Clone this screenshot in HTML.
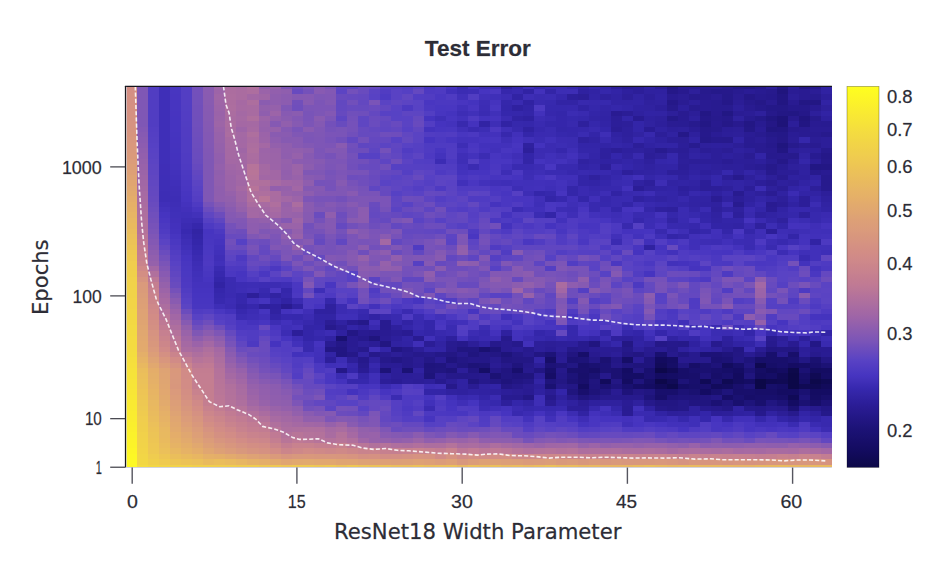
<!DOCTYPE html>
<html><head><meta charset="utf-8"><title>Test Error</title>
<style>html,body{margin:0;padding:0;background:#fff;overflow:hidden}svg{display:block}</style>
</head><body>
<svg width="948" height="577" viewBox="0 0 948 577">
<rect x="0" y="0" width="948" height="577" fill="#fff"/>
<g shape-rendering="crispEdges"><rect x="126.20" y="464.52" width="11.05" height="2.70" fill="#fdf924"/><rect x="126.20" y="459.15" width="11.05" height="5.38" fill="#fdf924"/><rect x="126.20" y="453.79" width="11.05" height="5.38" fill="#fdf825"/><rect x="126.20" y="448.43" width="11.05" height="5.38" fill="#fdf626"/><rect x="126.20" y="443.06" width="11.05" height="5.38" fill="#fcf428"/><rect x="126.20" y="437.70" width="11.05" height="5.38" fill="#fcf329"/><rect x="126.20" y="432.34" width="11.05" height="5.38" fill="#fbf22b"/><rect x="126.20" y="426.97" width="11.05" height="5.38" fill="#fbf02c"/><rect x="126.20" y="421.61" width="11.05" height="5.38" fill="#faef2d"/><rect x="126.20" y="416.25" width="11.05" height="5.38" fill="#faed2f"/><rect x="126.20" y="410.88" width="11.05" height="5.38" fill="#faec30"/><rect x="126.20" y="405.52" width="11.05" height="5.38" fill="#f9eb31"/><rect x="126.20" y="400.16" width="11.05" height="5.38" fill="#f9ea32"/><rect x="126.20" y="394.79" width="11.05" height="5.38" fill="#f8e834"/><rect x="126.20" y="389.43" width="11.05" height="5.38" fill="#f8e636"/><rect x="126.20" y="384.07" width="11.05" height="5.38" fill="#f7e537"/><rect x="126.20" y="378.70" width="11.05" height="5.38" fill="#f7e438"/><rect x="126.20" y="373.34" width="11.05" height="5.38" fill="#f6e339"/><rect x="126.20" y="367.98" width="11.05" height="5.38" fill="#f6e23a"/><rect x="126.20" y="362.61" width="11.05" height="5.38" fill="#f6e03c"/><rect x="126.20" y="357.25" width="11.05" height="5.38" fill="#f5df3d"/><rect x="126.20" y="351.89" width="11.05" height="5.38" fill="#f4dd3f"/><rect x="126.20" y="346.52" width="11.05" height="5.38" fill="#f4dc40"/><rect x="126.20" y="341.16" width="11.05" height="5.38" fill="#f4db41"/><rect x="126.20" y="335.80" width="11.05" height="5.38" fill="#f4db41"/><rect x="126.20" y="330.43" width="11.05" height="5.38" fill="#f3da42"/><rect x="126.20" y="325.07" width="11.05" height="5.38" fill="#f3da42"/><rect x="126.20" y="319.71" width="11.05" height="5.38" fill="#f3d843"/><rect x="126.20" y="314.34" width="11.05" height="5.38" fill="#f2d744"/><rect x="126.20" y="308.98" width="11.05" height="5.38" fill="#f2d646"/><rect x="126.20" y="303.62" width="11.05" height="5.38" fill="#f2d447"/><rect x="126.20" y="298.25" width="11.05" height="5.38" fill="#f2d447"/><rect x="126.20" y="292.89" width="11.05" height="5.38" fill="#f1d348"/><rect x="126.20" y="287.53" width="11.05" height="5.38" fill="#f1d348"/><rect x="126.20" y="282.16" width="11.05" height="5.38" fill="#f1d249"/><rect x="126.20" y="276.80" width="11.05" height="5.38" fill="#f1d14a"/><rect x="126.20" y="271.44" width="11.05" height="5.38" fill="#f0cf4b"/><rect x="126.20" y="266.07" width="11.05" height="5.38" fill="#f0ce4c"/><rect x="126.20" y="260.71" width="11.05" height="5.38" fill="#f0cd4e"/><rect x="126.20" y="255.35" width="11.05" height="5.38" fill="#efca50"/><rect x="126.20" y="249.98" width="11.05" height="5.38" fill="#eec852"/><rect x="126.20" y="244.62" width="11.05" height="5.38" fill="#edc554"/><rect x="126.20" y="239.26" width="11.05" height="5.38" fill="#ecc257"/><rect x="126.20" y="233.89" width="11.05" height="5.38" fill="#ebc05a"/><rect x="126.20" y="228.53" width="11.05" height="5.38" fill="#eabd5c"/><rect x="126.20" y="223.17" width="11.05" height="5.38" fill="#e9ba5e"/><rect x="126.20" y="217.80" width="11.05" height="5.38" fill="#e8b861"/><rect x="126.20" y="212.44" width="11.05" height="5.38" fill="#e7b564"/><rect x="126.20" y="207.08" width="11.05" height="5.38" fill="#e6b266"/><rect x="126.20" y="201.71" width="11.05" height="5.38" fill="#e5b068"/><rect x="126.20" y="196.35" width="11.05" height="5.38" fill="#e4ad6a"/><rect x="126.20" y="190.99" width="11.05" height="5.38" fill="#e2aa6d"/><rect x="126.20" y="185.62" width="11.05" height="5.38" fill="#e1a86f"/><rect x="126.20" y="180.26" width="11.05" height="5.38" fill="#e0a571"/><rect x="126.20" y="174.90" width="11.05" height="5.38" fill="#dea374"/><rect x="126.20" y="169.53" width="11.05" height="5.38" fill="#dda076"/><rect x="126.20" y="164.17" width="11.05" height="5.38" fill="#dc9e78"/><rect x="126.20" y="158.81" width="11.05" height="5.38" fill="#db9c7a"/><rect x="126.20" y="153.44" width="11.05" height="5.38" fill="#da9a7b"/><rect x="126.20" y="148.08" width="11.05" height="5.38" fill="#d9997c"/><rect x="126.20" y="142.72" width="11.05" height="5.38" fill="#d9987d"/><rect x="126.20" y="137.35" width="11.05" height="5.38" fill="#d8977e"/><rect x="126.20" y="131.99" width="11.05" height="5.38" fill="#d7957f"/><rect x="126.20" y="126.63" width="11.05" height="5.38" fill="#d69480"/><rect x="126.20" y="121.26" width="11.05" height="5.38" fill="#d69381"/><rect x="126.20" y="115.90" width="11.05" height="5.38" fill="#d59281"/><rect x="126.20" y="110.54" width="11.05" height="5.38" fill="#d59182"/><rect x="126.20" y="105.17" width="11.05" height="5.38" fill="#d59182"/><rect x="126.20" y="99.81" width="11.05" height="5.38" fill="#d49083"/><rect x="126.20" y="94.45" width="11.05" height="5.38" fill="#d49083"/><rect x="126.20" y="89.08" width="11.05" height="5.38" fill="#d48f84"/><rect x="126.20" y="86.40" width="11.05" height="2.70" fill="#d38e84"/><rect x="137.23" y="464.52" width="11.05" height="2.70" fill="#f4dc40"/><rect x="137.23" y="459.15" width="11.05" height="5.38" fill="#f2d744"/><rect x="137.23" y="453.79" width="11.05" height="5.38" fill="#f2d646"/><rect x="137.23" y="448.43" width="11.05" height="5.38" fill="#f2d447"/><rect x="137.23" y="443.06" width="11.05" height="5.38" fill="#f1d348"/><rect x="137.23" y="437.70" width="11.05" height="5.38" fill="#f1d249"/><rect x="137.23" y="432.34" width="11.05" height="5.38" fill="#f1d14a"/><rect x="137.23" y="426.97" width="11.05" height="5.38" fill="#f0cf4b"/><rect x="137.23" y="421.61" width="11.05" height="5.38" fill="#f0ce4c"/><rect x="137.23" y="416.25" width="11.05" height="5.38" fill="#f0cd4e"/><rect x="137.23" y="410.88" width="11.05" height="5.38" fill="#efcb4f"/><rect x="137.23" y="405.52" width="11.05" height="5.38" fill="#eeca51"/><rect x="137.23" y="400.16" width="11.05" height="5.38" fill="#eec852"/><rect x="137.23" y="394.79" width="11.05" height="5.38" fill="#edc654"/><rect x="137.23" y="389.43" width="11.05" height="5.38" fill="#edc455"/><rect x="137.23" y="384.07" width="11.05" height="5.38" fill="#ecc257"/><rect x="137.23" y="378.70" width="11.05" height="5.38" fill="#ebc159"/><rect x="137.23" y="373.34" width="11.05" height="5.38" fill="#ebbf5a"/><rect x="137.23" y="367.98" width="11.05" height="5.38" fill="#eabd5c"/><rect x="137.23" y="362.61" width="11.05" height="5.38" fill="#e8b860"/><rect x="137.23" y="357.25" width="11.05" height="5.38" fill="#e6b365"/><rect x="137.23" y="351.89" width="11.05" height="5.38" fill="#e4af69"/><rect x="137.23" y="346.52" width="11.05" height="5.38" fill="#e2aa6d"/><rect x="137.23" y="341.16" width="11.05" height="5.38" fill="#e2a96e"/><rect x="137.23" y="335.80" width="11.05" height="5.38" fill="#e1a86f"/><rect x="137.23" y="330.43" width="11.05" height="5.38" fill="#e0a770"/><rect x="137.23" y="325.07" width="11.05" height="5.38" fill="#e0a671"/><rect x="137.23" y="319.71" width="11.05" height="5.38" fill="#dfa472"/><rect x="137.23" y="314.34" width="11.05" height="5.38" fill="#dea374"/><rect x="137.23" y="308.98" width="11.05" height="5.38" fill="#dea275"/><rect x="137.23" y="303.62" width="11.05" height="5.38" fill="#dda076"/><rect x="137.23" y="298.25" width="11.05" height="5.38" fill="#dc9f77"/><rect x="137.23" y="292.89" width="11.05" height="5.38" fill="#db9d79"/><rect x="137.23" y="287.53" width="11.05" height="5.38" fill="#da9b7a"/><rect x="137.23" y="282.16" width="11.05" height="5.38" fill="#da9a7c"/><rect x="137.23" y="276.80" width="11.05" height="5.38" fill="#d69480"/><rect x="137.23" y="271.44" width="11.05" height="5.38" fill="#d38e84"/><rect x="137.23" y="266.07" width="11.05" height="5.38" fill="#cf8989"/><rect x="137.23" y="260.71" width="11.05" height="5.38" fill="#c9838d"/><rect x="137.23" y="255.35" width="11.05" height="5.38" fill="#c6808f"/><rect x="137.23" y="249.98" width="11.05" height="5.38" fill="#c47e91"/><rect x="137.23" y="244.62" width="11.05" height="5.38" fill="#c17b93"/><rect x="137.23" y="239.26" width="11.05" height="5.38" fill="#bd7896"/><rect x="137.23" y="233.89" width="11.05" height="5.38" fill="#b97598"/><rect x="137.23" y="228.53" width="11.05" height="5.38" fill="#b4729b"/><rect x="137.23" y="223.17" width="11.05" height="5.38" fill="#b2719c"/><rect x="137.23" y="217.80" width="11.05" height="5.38" fill="#b0709d"/><rect x="137.23" y="212.44" width="11.05" height="5.38" fill="#ae6f9e"/><rect x="137.23" y="207.08" width="11.05" height="5.38" fill="#ac6e9f"/><rect x="137.23" y="201.71" width="11.05" height="5.38" fill="#aa6ca0"/><rect x="137.23" y="196.35" width="11.05" height="5.38" fill="#a86ba2"/><rect x="137.23" y="190.99" width="11.05" height="5.38" fill="#a66aa3"/><rect x="137.23" y="185.62" width="11.05" height="5.38" fill="#a368a4"/><rect x="137.23" y="180.26" width="11.05" height="5.38" fill="#a167a5"/><rect x="137.23" y="174.90" width="11.05" height="5.38" fill="#9e65a7"/><rect x="137.23" y="169.53" width="11.05" height="5.38" fill="#9b64a8"/><rect x="137.23" y="164.17" width="11.05" height="5.38" fill="#9862aa"/><rect x="137.23" y="158.81" width="11.05" height="5.38" fill="#9561ab"/><rect x="137.23" y="153.44" width="11.05" height="5.38" fill="#925fad"/><rect x="137.23" y="148.08" width="11.05" height="5.38" fill="#8f5eae"/><rect x="137.23" y="142.72" width="11.05" height="5.38" fill="#8c5cb0"/><rect x="137.23" y="137.35" width="11.05" height="5.38" fill="#895bb1"/><rect x="137.23" y="131.99" width="11.05" height="5.38" fill="#865ab2"/><rect x="137.23" y="126.63" width="11.05" height="5.38" fill="#8358b4"/><rect x="137.23" y="121.26" width="11.05" height="5.38" fill="#7f57b5"/><rect x="137.23" y="115.90" width="11.05" height="5.38" fill="#7f57b5"/><rect x="137.23" y="110.54" width="11.05" height="5.38" fill="#7f57b5"/><rect x="137.23" y="105.17" width="11.05" height="5.38" fill="#7f57b5"/><rect x="137.23" y="99.81" width="11.05" height="5.38" fill="#7f57b5"/><rect x="137.23" y="94.45" width="11.05" height="5.38" fill="#7f57b5"/><rect x="137.23" y="89.08" width="11.05" height="5.38" fill="#7f57b5"/><rect x="137.23" y="86.40" width="11.05" height="2.70" fill="#7f57b5"/><rect x="148.25" y="464.52" width="11.05" height="2.70" fill="#f2d744"/><rect x="148.25" y="459.15" width="11.05" height="5.38" fill="#f0cf4b"/><rect x="148.25" y="453.79" width="11.05" height="5.38" fill="#efcc4f"/><rect x="148.25" y="448.43" width="11.05" height="5.38" fill="#eec852"/><rect x="148.25" y="443.06" width="11.05" height="5.38" fill="#eec753"/><rect x="148.25" y="437.70" width="11.05" height="5.38" fill="#edc554"/><rect x="148.25" y="432.34" width="11.05" height="5.38" fill="#ecc456"/><rect x="148.25" y="426.97" width="11.05" height="5.38" fill="#ecc257"/><rect x="148.25" y="421.61" width="11.05" height="5.38" fill="#ebc05a"/><rect x="148.25" y="416.25" width="11.05" height="5.38" fill="#eabd5c"/><rect x="148.25" y="410.88" width="11.05" height="5.38" fill="#e9bb5e"/><rect x="148.25" y="405.52" width="11.05" height="5.38" fill="#e9b95f"/><rect x="148.25" y="400.16" width="11.05" height="5.38" fill="#e8b861"/><rect x="148.25" y="394.79" width="11.05" height="5.38" fill="#e7b663"/><rect x="148.25" y="389.43" width="11.05" height="5.38" fill="#e7b464"/><rect x="148.25" y="384.07" width="11.05" height="5.38" fill="#e6b266"/><rect x="148.25" y="378.70" width="11.05" height="5.38" fill="#e5b068"/><rect x="148.25" y="373.34" width="11.05" height="5.38" fill="#e4af69"/><rect x="148.25" y="367.98" width="11.05" height="5.38" fill="#e4ad6a"/><rect x="148.25" y="362.61" width="11.05" height="5.38" fill="#e1a86f"/><rect x="148.25" y="357.25" width="11.05" height="5.38" fill="#dea374"/><rect x="148.25" y="351.89" width="11.05" height="5.38" fill="#dc9e78"/><rect x="148.25" y="346.52" width="11.05" height="5.38" fill="#da9a7c"/><rect x="148.25" y="341.16" width="11.05" height="5.38" fill="#d8977d"/><rect x="148.25" y="335.80" width="11.05" height="5.38" fill="#d7957f"/><rect x="148.25" y="330.43" width="11.05" height="5.38" fill="#d69381"/><rect x="148.25" y="325.07" width="11.05" height="5.38" fill="#d49083"/><rect x="148.25" y="319.71" width="11.05" height="5.38" fill="#d38e84"/><rect x="148.25" y="314.34" width="11.05" height="5.38" fill="#d28c86"/><rect x="148.25" y="308.98" width="11.05" height="5.38" fill="#d08a88"/><rect x="148.25" y="303.62" width="11.05" height="5.38" fill="#ce888a"/><rect x="148.25" y="298.25" width="11.05" height="5.38" fill="#cb858b"/><rect x="148.25" y="292.89" width="11.05" height="5.38" fill="#c9838d"/><rect x="148.25" y="287.53" width="11.05" height="5.38" fill="#c7818f"/><rect x="148.25" y="282.16" width="11.05" height="5.38" fill="#c47e90"/><rect x="148.25" y="276.80" width="11.05" height="5.38" fill="#bc7896"/><rect x="148.25" y="271.44" width="11.05" height="5.38" fill="#b0709d"/><rect x="148.25" y="266.07" width="11.05" height="5.38" fill="#a468a4"/><rect x="148.25" y="260.71" width="11.05" height="5.38" fill="#9561ab"/><rect x="148.25" y="255.35" width="11.05" height="5.38" fill="#915fad"/><rect x="148.25" y="249.98" width="11.05" height="5.38" fill="#8c5daf"/><rect x="148.25" y="244.62" width="11.05" height="5.38" fill="#885ab2"/><rect x="148.25" y="239.26" width="11.05" height="5.38" fill="#8358b4"/><rect x="148.25" y="233.89" width="11.05" height="5.38" fill="#7f56b6"/><rect x="148.25" y="228.53" width="11.05" height="5.38" fill="#7a54b8"/><rect x="148.25" y="223.17" width="11.05" height="5.38" fill="#7752b9"/><rect x="148.25" y="217.80" width="11.05" height="5.38" fill="#7350ba"/><rect x="148.25" y="212.44" width="11.05" height="5.38" fill="#704fbc"/><rect x="148.25" y="207.08" width="11.05" height="5.38" fill="#6c4dbd"/><rect x="148.25" y="201.71" width="11.05" height="5.38" fill="#694bbe"/><rect x="148.25" y="196.35" width="11.05" height="5.38" fill="#6649bf"/><rect x="148.25" y="190.99" width="11.05" height="5.38" fill="#6448c0"/><rect x="148.25" y="185.62" width="11.05" height="5.38" fill="#6348c0"/><rect x="148.25" y="180.26" width="11.05" height="5.38" fill="#6147c1"/><rect x="148.25" y="174.90" width="11.05" height="5.38" fill="#6046c1"/><rect x="148.25" y="169.53" width="11.05" height="5.38" fill="#5e45c2"/><rect x="148.25" y="164.17" width="11.05" height="5.38" fill="#5d45c2"/><rect x="148.25" y="158.81" width="11.05" height="5.38" fill="#5b44c3"/><rect x="148.25" y="153.44" width="11.05" height="5.38" fill="#5943c3"/><rect x="148.25" y="148.08" width="11.05" height="5.38" fill="#5842c4"/><rect x="148.25" y="142.72" width="11.05" height="5.38" fill="#5641c4"/><rect x="148.25" y="137.35" width="11.05" height="5.38" fill="#5540c3"/><rect x="148.25" y="131.99" width="11.05" height="5.38" fill="#543fc3"/><rect x="148.25" y="126.63" width="11.05" height="5.38" fill="#533ec3"/><rect x="148.25" y="121.26" width="11.05" height="5.38" fill="#513dc2"/><rect x="148.25" y="115.90" width="11.05" height="5.38" fill="#513dc2"/><rect x="148.25" y="110.54" width="11.05" height="5.38" fill="#513dc2"/><rect x="148.25" y="105.17" width="11.05" height="5.38" fill="#513dc2"/><rect x="148.25" y="99.81" width="11.05" height="5.38" fill="#513dc2"/><rect x="148.25" y="94.45" width="11.05" height="5.38" fill="#513dc2"/><rect x="148.25" y="89.08" width="11.05" height="5.38" fill="#513dc2"/><rect x="148.25" y="86.40" width="11.05" height="2.70" fill="#513dc2"/><rect x="159.28" y="464.52" width="11.05" height="2.70" fill="#f2d447"/><rect x="159.28" y="459.15" width="11.05" height="5.38" fill="#efca50"/><rect x="159.28" y="453.79" width="11.05" height="5.38" fill="#edc554"/><rect x="159.28" y="448.43" width="11.05" height="5.38" fill="#ebc05a"/><rect x="159.28" y="443.06" width="11.05" height="5.38" fill="#eabd5c"/><rect x="159.28" y="437.70" width="11.05" height="5.38" fill="#e9ba5e"/><rect x="159.28" y="432.34" width="11.05" height="5.38" fill="#e8b960"/><rect x="159.28" y="426.97" width="11.05" height="5.38" fill="#e8b861"/><rect x="159.28" y="421.61" width="11.05" height="5.38" fill="#e7b564"/><rect x="159.28" y="416.25" width="11.05" height="5.38" fill="#e6b266"/><rect x="159.28" y="410.88" width="11.05" height="5.38" fill="#e5b068"/><rect x="159.28" y="405.52" width="11.05" height="5.38" fill="#e4ad6a"/><rect x="159.28" y="400.16" width="11.05" height="5.38" fill="#e2aa6d"/><rect x="159.28" y="394.79" width="11.05" height="5.38" fill="#e1a96e"/><rect x="159.28" y="389.43" width="11.05" height="5.38" fill="#e1a770"/><rect x="159.28" y="384.07" width="11.05" height="5.38" fill="#e0a671"/><rect x="159.28" y="378.70" width="11.05" height="5.38" fill="#dfa572"/><rect x="159.28" y="373.34" width="11.05" height="5.38" fill="#dfa473"/><rect x="159.28" y="367.98" width="11.05" height="5.38" fill="#dea374"/><rect x="159.28" y="362.61" width="11.05" height="5.38" fill="#db9c79"/><rect x="159.28" y="357.25" width="11.05" height="5.38" fill="#d8967e"/><rect x="159.28" y="351.89" width="11.05" height="5.38" fill="#d49083"/><rect x="159.28" y="346.52" width="11.05" height="5.38" fill="#d08a88"/><rect x="159.28" y="341.16" width="11.05" height="5.38" fill="#cc868a"/><rect x="159.28" y="335.80" width="11.05" height="5.38" fill="#c9838d"/><rect x="159.28" y="330.43" width="11.05" height="5.38" fill="#c68090"/><rect x="159.28" y="325.07" width="11.05" height="5.38" fill="#c27c92"/><rect x="159.28" y="319.71" width="11.05" height="5.38" fill="#be7995"/><rect x="159.28" y="314.34" width="11.05" height="5.38" fill="#b87598"/><rect x="159.28" y="308.98" width="11.05" height="5.38" fill="#b2719c"/><rect x="159.28" y="303.62" width="11.05" height="5.38" fill="#ac6e9f"/><rect x="159.28" y="298.25" width="11.05" height="5.38" fill="#a76aa2"/><rect x="159.28" y="292.89" width="11.05" height="5.38" fill="#a267a5"/><rect x="159.28" y="287.53" width="11.05" height="5.38" fill="#9c64a8"/><rect x="159.28" y="282.16" width="11.05" height="5.38" fill="#9561ab"/><rect x="159.28" y="276.80" width="11.05" height="5.38" fill="#8e5eae"/><rect x="159.28" y="271.44" width="11.05" height="5.38" fill="#885ab2"/><rect x="159.28" y="266.07" width="11.05" height="5.38" fill="#8157b5"/><rect x="159.28" y="260.71" width="11.05" height="5.38" fill="#7a54b8"/><rect x="159.28" y="255.35" width="11.05" height="5.38" fill="#7250bb"/><rect x="159.28" y="249.98" width="11.05" height="5.38" fill="#6a4cbe"/><rect x="159.28" y="244.62" width="11.05" height="5.38" fill="#6247c0"/><rect x="159.28" y="239.26" width="11.05" height="5.38" fill="#5a43c3"/><rect x="159.28" y="233.89" width="11.05" height="5.38" fill="#543fc3"/><rect x="159.28" y="228.53" width="11.05" height="5.38" fill="#4f3bc2"/><rect x="159.28" y="223.17" width="11.05" height="5.38" fill="#4c39c1"/><rect x="159.28" y="217.80" width="11.05" height="5.38" fill="#4936c1"/><rect x="159.28" y="212.44" width="11.05" height="5.38" fill="#4634c0"/><rect x="159.28" y="207.08" width="11.05" height="5.38" fill="#4332bc"/><rect x="159.28" y="201.71" width="11.05" height="5.38" fill="#402fb9"/><rect x="159.28" y="196.35" width="11.05" height="5.38" fill="#3d2db5"/><rect x="159.28" y="190.99" width="11.05" height="5.38" fill="#3d2db5"/><rect x="159.28" y="185.62" width="11.05" height="5.38" fill="#3e2eb6"/><rect x="159.28" y="180.26" width="11.05" height="5.38" fill="#3e2eb6"/><rect x="159.28" y="174.90" width="11.05" height="5.38" fill="#3e2eb7"/><rect x="159.28" y="169.53" width="11.05" height="5.38" fill="#3f2eb7"/><rect x="159.28" y="164.17" width="11.05" height="5.38" fill="#3f2eb7"/><rect x="159.28" y="158.81" width="11.05" height="5.38" fill="#3f2fb8"/><rect x="159.28" y="153.44" width="11.05" height="5.38" fill="#3f2fb8"/><rect x="159.28" y="148.08" width="11.05" height="5.38" fill="#3f2fb8"/><rect x="159.28" y="142.72" width="11.05" height="5.38" fill="#3f2fb8"/><rect x="159.28" y="137.35" width="11.05" height="5.38" fill="#3f2fb8"/><rect x="159.28" y="131.99" width="11.05" height="5.38" fill="#3f2fb8"/><rect x="159.28" y="126.63" width="11.05" height="5.38" fill="#3f2fb8"/><rect x="159.28" y="121.26" width="11.05" height="5.38" fill="#3f2fb8"/><rect x="159.28" y="115.90" width="11.05" height="5.38" fill="#3f2fb8"/><rect x="159.28" y="110.54" width="11.05" height="5.38" fill="#3f2fb8"/><rect x="159.28" y="105.17" width="11.05" height="5.38" fill="#3f2fb8"/><rect x="159.28" y="99.81" width="11.05" height="5.38" fill="#3f2fb8"/><rect x="159.28" y="94.45" width="11.05" height="5.38" fill="#3f2fb8"/><rect x="159.28" y="89.08" width="11.05" height="5.38" fill="#3f2fb8"/><rect x="159.28" y="86.40" width="11.05" height="2.70" fill="#3f2fb8"/><rect x="170.31" y="464.52" width="11.05" height="2.70" fill="#f1d249"/><rect x="170.31" y="459.15" width="11.05" height="5.38" fill="#edc554"/><rect x="170.31" y="453.79" width="11.05" height="5.38" fill="#eabe5b"/><rect x="170.31" y="448.43" width="11.05" height="5.38" fill="#e8b861"/><rect x="170.31" y="443.06" width="11.05" height="5.38" fill="#e6b365"/><rect x="170.31" y="437.70" width="11.05" height="5.38" fill="#e5b068"/><rect x="170.31" y="432.34" width="11.05" height="5.38" fill="#e4ad6a"/><rect x="170.31" y="426.97" width="11.05" height="5.38" fill="#e2aa6d"/><rect x="170.31" y="421.61" width="11.05" height="5.38" fill="#e1a86f"/><rect x="170.31" y="416.25" width="11.05" height="5.38" fill="#e0a671"/><rect x="170.31" y="410.88" width="11.05" height="5.38" fill="#dea374"/><rect x="170.31" y="405.52" width="11.05" height="5.38" fill="#dda076"/><rect x="170.31" y="400.16" width="11.05" height="5.38" fill="#dc9e78"/><rect x="170.31" y="394.79" width="11.05" height="5.38" fill="#db9c7a"/><rect x="170.31" y="389.43" width="11.05" height="5.38" fill="#da9a7c"/><rect x="170.31" y="384.07" width="11.05" height="5.38" fill="#d8977d"/><rect x="170.31" y="378.70" width="11.05" height="5.38" fill="#d8987d"/><rect x="170.31" y="373.34" width="11.05" height="5.38" fill="#d9987d"/><rect x="170.31" y="367.98" width="11.05" height="5.38" fill="#d9987c"/><rect x="170.31" y="362.61" width="11.05" height="5.38" fill="#d59282"/><rect x="170.31" y="357.25" width="11.05" height="5.38" fill="#d18b87"/><rect x="170.31" y="351.89" width="11.05" height="5.38" fill="#ca848c"/><rect x="170.31" y="346.52" width="11.05" height="5.38" fill="#c37d91"/><rect x="170.31" y="341.16" width="11.05" height="5.38" fill="#c07a94"/><rect x="170.31" y="335.80" width="11.05" height="5.38" fill="#ba7697"/><rect x="170.31" y="330.43" width="11.05" height="5.38" fill="#b4729b"/><rect x="170.31" y="325.07" width="11.05" height="5.38" fill="#ae6f9e"/><rect x="170.31" y="319.71" width="11.05" height="5.38" fill="#a86ba2"/><rect x="170.31" y="314.34" width="11.05" height="5.38" fill="#a267a5"/><rect x="170.31" y="308.98" width="11.05" height="5.38" fill="#9b63a9"/><rect x="170.31" y="303.62" width="11.05" height="5.38" fill="#9260ac"/><rect x="170.31" y="298.25" width="11.05" height="5.38" fill="#895bb1"/><rect x="170.31" y="292.89" width="11.05" height="5.38" fill="#7f57b5"/><rect x="170.31" y="287.53" width="11.05" height="5.38" fill="#7551ba"/><rect x="170.31" y="282.16" width="11.05" height="5.38" fill="#694bbe"/><rect x="170.31" y="276.80" width="11.05" height="5.38" fill="#6549c0"/><rect x="170.31" y="271.44" width="11.05" height="5.38" fill="#6046c1"/><rect x="170.31" y="266.07" width="11.05" height="5.38" fill="#5c44c2"/><rect x="170.31" y="260.71" width="11.05" height="5.38" fill="#5842c4"/><rect x="170.31" y="255.35" width="11.05" height="5.38" fill="#553fc3"/><rect x="170.31" y="249.98" width="11.05" height="5.38" fill="#513dc2"/><rect x="170.31" y="244.62" width="11.05" height="5.38" fill="#4e3ac2"/><rect x="170.31" y="239.26" width="11.05" height="5.38" fill="#4a38c1"/><rect x="170.31" y="233.89" width="11.05" height="5.38" fill="#4735c0"/><rect x="170.31" y="228.53" width="11.05" height="5.38" fill="#4432bd"/><rect x="170.31" y="223.17" width="11.05" height="5.38" fill="#4331bc"/><rect x="170.31" y="217.80" width="11.05" height="5.38" fill="#4230ba"/><rect x="170.31" y="212.44" width="11.05" height="5.38" fill="#4030b9"/><rect x="170.31" y="207.08" width="11.05" height="5.38" fill="#3f2fb8"/><rect x="170.31" y="201.71" width="11.05" height="5.38" fill="#3e2eb6"/><rect x="170.31" y="196.35" width="11.05" height="5.38" fill="#3d2db5"/><rect x="170.31" y="190.99" width="11.05" height="5.38" fill="#3e2eb6"/><rect x="170.31" y="185.62" width="11.05" height="5.38" fill="#3f2eb7"/><rect x="170.31" y="180.26" width="11.05" height="5.38" fill="#402fb9"/><rect x="170.31" y="174.90" width="11.05" height="5.38" fill="#4130ba"/><rect x="170.31" y="169.53" width="11.05" height="5.38" fill="#4231bb"/><rect x="170.31" y="164.17" width="11.05" height="5.38" fill="#4332bc"/><rect x="170.31" y="158.81" width="11.05" height="5.38" fill="#4432bd"/><rect x="170.31" y="153.44" width="11.05" height="5.38" fill="#4432be"/><rect x="170.31" y="148.08" width="11.05" height="5.38" fill="#4433be"/><rect x="170.31" y="142.72" width="11.05" height="5.38" fill="#4533be"/><rect x="170.31" y="137.35" width="11.05" height="5.38" fill="#4533bf"/><rect x="170.31" y="131.99" width="11.05" height="5.38" fill="#4534bf"/><rect x="170.31" y="126.63" width="11.05" height="5.38" fill="#4634c0"/><rect x="170.31" y="121.26" width="11.05" height="5.38" fill="#4634c0"/><rect x="170.31" y="115.90" width="11.05" height="5.38" fill="#4634c0"/><rect x="170.31" y="110.54" width="11.05" height="5.38" fill="#4734c0"/><rect x="170.31" y="105.17" width="11.05" height="5.38" fill="#4735c0"/><rect x="170.31" y="99.81" width="11.05" height="5.38" fill="#4735c0"/><rect x="170.31" y="94.45" width="11.05" height="5.38" fill="#4835c0"/><rect x="170.31" y="89.08" width="11.05" height="5.38" fill="#4836c0"/><rect x="170.31" y="86.40" width="11.05" height="2.70" fill="#4836c0"/><rect x="181.33" y="464.52" width="11.05" height="2.70" fill="#f1d249"/><rect x="181.33" y="459.15" width="11.05" height="5.38" fill="#ecc257"/><rect x="181.33" y="453.79" width="11.05" height="5.38" fill="#e9ba5e"/><rect x="181.33" y="448.43" width="11.05" height="5.38" fill="#e6b266"/><rect x="181.33" y="443.06" width="11.05" height="5.38" fill="#e4ae69"/><rect x="181.33" y="437.70" width="11.05" height="5.38" fill="#e2aa6d"/><rect x="181.33" y="432.34" width="11.05" height="5.38" fill="#e0a770"/><rect x="181.33" y="426.97" width="11.05" height="5.38" fill="#dea374"/><rect x="181.33" y="421.61" width="11.05" height="5.38" fill="#dd9f77"/><rect x="181.33" y="416.25" width="11.05" height="5.38" fill="#db9c7a"/><rect x="181.33" y="410.88" width="11.05" height="5.38" fill="#d9997c"/><rect x="181.33" y="405.52" width="11.05" height="5.38" fill="#d7967e"/><rect x="181.33" y="400.16" width="11.05" height="5.38" fill="#d69381"/><rect x="181.33" y="394.79" width="11.05" height="5.38" fill="#d49083"/><rect x="181.33" y="389.43" width="11.05" height="5.38" fill="#d38e84"/><rect x="181.33" y="384.07" width="11.05" height="5.38" fill="#d28c86"/><rect x="181.33" y="378.70" width="11.05" height="5.38" fill="#d28c86"/><rect x="181.33" y="373.34" width="11.05" height="5.38" fill="#d18b87"/><rect x="181.33" y="367.98" width="11.05" height="5.38" fill="#d18b87"/><rect x="181.33" y="362.61" width="11.05" height="5.38" fill="#ca848d"/><rect x="181.33" y="357.25" width="11.05" height="5.38" fill="#c27c92"/><rect x="181.33" y="351.89" width="11.05" height="5.38" fill="#b77499"/><rect x="181.33" y="346.52" width="11.05" height="5.38" fill="#aa6ca0"/><rect x="181.33" y="341.16" width="11.05" height="5.38" fill="#a569a3"/><rect x="181.33" y="335.80" width="11.05" height="5.38" fill="#a066a6"/><rect x="181.33" y="330.43" width="11.05" height="5.38" fill="#9963a9"/><rect x="181.33" y="325.07" width="11.05" height="5.38" fill="#9260ac"/><rect x="181.33" y="319.71" width="11.05" height="5.38" fill="#865ab2"/><rect x="181.33" y="314.34" width="11.05" height="5.38" fill="#7a54b8"/><rect x="181.33" y="308.98" width="11.05" height="5.38" fill="#6b4cbd"/><rect x="181.33" y="303.62" width="11.05" height="5.38" fill="#5b44c3"/><rect x="181.33" y="298.25" width="11.05" height="5.38" fill="#5741c4"/><rect x="181.33" y="292.89" width="11.05" height="5.38" fill="#543ec3"/><rect x="181.33" y="287.53" width="11.05" height="5.38" fill="#503cc2"/><rect x="181.33" y="282.16" width="11.05" height="5.38" fill="#4d39c2"/><rect x="181.33" y="276.80" width="11.05" height="5.38" fill="#4c38c1"/><rect x="181.33" y="271.44" width="11.05" height="5.38" fill="#4a38c1"/><rect x="181.33" y="266.07" width="11.05" height="5.38" fill="#4937c1"/><rect x="181.33" y="260.71" width="11.05" height="5.38" fill="#4836c0"/><rect x="181.33" y="255.35" width="11.05" height="5.38" fill="#4634c0"/><rect x="181.33" y="249.98" width="11.05" height="5.38" fill="#4332bc"/><rect x="181.33" y="244.62" width="11.05" height="5.38" fill="#4030b9"/><rect x="181.33" y="239.26" width="11.05" height="5.38" fill="#3e2eb6"/><rect x="181.33" y="233.89" width="11.05" height="5.38" fill="#3b2cb3"/><rect x="181.33" y="228.53" width="11.05" height="5.38" fill="#3829b0"/><rect x="181.33" y="223.17" width="11.05" height="5.38" fill="#3b2bb2"/><rect x="181.33" y="217.80" width="11.05" height="5.38" fill="#3d2db5"/><rect x="181.33" y="212.44" width="11.05" height="5.38" fill="#3f2fb8"/><rect x="181.33" y="207.08" width="11.05" height="5.38" fill="#4230ba"/><rect x="181.33" y="201.71" width="11.05" height="5.38" fill="#4432bd"/><rect x="181.33" y="196.35" width="11.05" height="5.38" fill="#4634c0"/><rect x="181.33" y="190.99" width="11.05" height="5.38" fill="#4735c0"/><rect x="181.33" y="185.62" width="11.05" height="5.38" fill="#4936c1"/><rect x="181.33" y="180.26" width="11.05" height="5.38" fill="#4a37c1"/><rect x="181.33" y="174.90" width="11.05" height="5.38" fill="#4b38c1"/><rect x="181.33" y="169.53" width="11.05" height="5.38" fill="#4c39c1"/><rect x="181.33" y="164.17" width="11.05" height="5.38" fill="#4e3ac2"/><rect x="181.33" y="158.81" width="11.05" height="5.38" fill="#4f3bc2"/><rect x="181.33" y="153.44" width="11.05" height="5.38" fill="#4f3bc2"/><rect x="181.33" y="148.08" width="11.05" height="5.38" fill="#503cc2"/><rect x="181.33" y="142.72" width="11.05" height="5.38" fill="#503cc2"/><rect x="181.33" y="137.35" width="11.05" height="5.38" fill="#503cc2"/><rect x="181.33" y="131.99" width="11.05" height="5.38" fill="#513cc2"/><rect x="181.33" y="126.63" width="11.05" height="5.38" fill="#513cc2"/><rect x="181.33" y="121.26" width="11.05" height="5.38" fill="#513dc2"/><rect x="181.33" y="115.90" width="11.05" height="5.38" fill="#523dc3"/><rect x="181.33" y="110.54" width="11.05" height="5.38" fill="#523dc3"/><rect x="181.33" y="105.17" width="11.05" height="5.38" fill="#523ec3"/><rect x="181.33" y="99.81" width="11.05" height="5.38" fill="#533ec3"/><rect x="181.33" y="94.45" width="11.05" height="5.38" fill="#533ec3"/><rect x="181.33" y="89.08" width="11.05" height="5.38" fill="#533ec3"/><rect x="181.33" y="86.40" width="11.05" height="2.70" fill="#543ec3"/><rect x="192.36" y="464.52" width="11.05" height="2.70" fill="#f0cf4b"/><rect x="192.36" y="459.15" width="11.05" height="5.38" fill="#ebc05a"/><rect x="192.36" y="453.79" width="11.05" height="5.38" fill="#e8b662"/><rect x="192.36" y="448.43" width="11.05" height="5.38" fill="#e4ad6a"/><rect x="192.36" y="443.06" width="11.05" height="5.38" fill="#e1a86f"/><rect x="192.36" y="437.70" width="11.05" height="5.38" fill="#dea374"/><rect x="192.36" y="432.34" width="11.05" height="5.38" fill="#dd9f77"/><rect x="192.36" y="426.97" width="11.05" height="5.38" fill="#db9c7a"/><rect x="192.36" y="421.61" width="11.05" height="5.38" fill="#d9987c"/><rect x="192.36" y="416.25" width="11.05" height="5.38" fill="#d7957f"/><rect x="192.36" y="410.88" width="11.05" height="5.38" fill="#d59182"/><rect x="192.36" y="405.52" width="11.05" height="5.38" fill="#d38d85"/><rect x="192.36" y="400.16" width="11.05" height="5.38" fill="#d08a88"/><rect x="192.36" y="394.79" width="11.05" height="5.38" fill="#cc868b"/><rect x="192.36" y="389.43" width="11.05" height="5.38" fill="#c8828e"/><rect x="192.36" y="384.07" width="11.05" height="5.38" fill="#c47e90"/><rect x="192.36" y="378.70" width="11.05" height="5.38" fill="#c47e91"/><rect x="192.36" y="373.34" width="11.05" height="5.38" fill="#c47e91"/><rect x="192.36" y="367.98" width="11.05" height="5.38" fill="#c37d91"/><rect x="192.36" y="362.61" width="11.05" height="5.38" fill="#be7995"/><rect x="192.36" y="357.25" width="11.05" height="5.38" fill="#b6749a"/><rect x="192.36" y="351.89" width="11.05" height="5.38" fill="#ae6f9e"/><rect x="192.36" y="346.52" width="11.05" height="5.38" fill="#a66aa3"/><rect x="192.36" y="341.16" width="11.05" height="5.38" fill="#9b63a9"/><rect x="192.36" y="335.80" width="11.05" height="5.38" fill="#8d5daf"/><rect x="192.36" y="330.43" width="11.05" height="5.38" fill="#7f57b5"/><rect x="192.36" y="325.07" width="11.05" height="5.38" fill="#704fbc"/><rect x="192.36" y="319.71" width="11.05" height="5.38" fill="#6448c0"/><rect x="192.36" y="314.34" width="11.05" height="5.38" fill="#5842c4"/><rect x="192.36" y="308.98" width="11.05" height="5.38" fill="#503cc2"/><rect x="192.36" y="303.62" width="11.05" height="5.38" fill="#4836c0"/><rect x="192.36" y="298.25" width="11.05" height="5.38" fill="#4735c0"/><rect x="192.36" y="292.89" width="11.05" height="5.38" fill="#4634c0"/><rect x="192.36" y="287.53" width="11.05" height="5.38" fill="#4533bf"/><rect x="192.36" y="282.16" width="11.05" height="5.38" fill="#4432bd"/><rect x="192.36" y="276.80" width="11.05" height="5.38" fill="#4231bb"/><rect x="192.36" y="271.44" width="11.05" height="5.38" fill="#4030b9"/><rect x="192.36" y="266.07" width="11.05" height="5.38" fill="#3f2eb7"/><rect x="192.36" y="260.71" width="11.05" height="5.38" fill="#3d2db5"/><rect x="192.36" y="255.35" width="11.05" height="5.38" fill="#3b2bb2"/><rect x="192.36" y="249.98" width="11.05" height="5.38" fill="#3829b0"/><rect x="192.36" y="244.62" width="11.05" height="5.38" fill="#3628ad"/><rect x="192.36" y="239.26" width="11.05" height="5.38" fill="#3426aa"/><rect x="192.36" y="233.89" width="11.05" height="5.38" fill="#3325a7"/><rect x="192.36" y="228.53" width="11.05" height="5.38" fill="#3224a4"/><rect x="192.36" y="223.17" width="11.05" height="5.38" fill="#3627ac"/><rect x="192.36" y="217.80" width="11.05" height="5.38" fill="#3c2cb3"/><rect x="192.36" y="212.44" width="11.05" height="5.38" fill="#4231ba"/><rect x="192.36" y="207.08" width="11.05" height="5.38" fill="#4835c0"/><rect x="192.36" y="201.71" width="11.05" height="5.38" fill="#4e3ac2"/><rect x="192.36" y="196.35" width="11.05" height="5.38" fill="#543ec3"/><rect x="192.36" y="190.99" width="11.05" height="5.38" fill="#5640c4"/><rect x="192.36" y="185.62" width="11.05" height="5.38" fill="#5842c4"/><rect x="192.36" y="180.26" width="11.05" height="5.38" fill="#5b44c3"/><rect x="192.36" y="174.90" width="11.05" height="5.38" fill="#5f46c2"/><rect x="192.36" y="169.53" width="11.05" height="5.38" fill="#6247c0"/><rect x="192.36" y="164.17" width="11.05" height="5.38" fill="#6649bf"/><rect x="192.36" y="158.81" width="11.05" height="5.38" fill="#694bbe"/><rect x="192.36" y="153.44" width="11.05" height="5.38" fill="#6a4cbe"/><rect x="192.36" y="148.08" width="11.05" height="5.38" fill="#6b4cbd"/><rect x="192.36" y="142.72" width="11.05" height="5.38" fill="#6c4dbd"/><rect x="192.36" y="137.35" width="11.05" height="5.38" fill="#6d4dbd"/><rect x="192.36" y="131.99" width="11.05" height="5.38" fill="#6e4ebc"/><rect x="192.36" y="126.63" width="11.05" height="5.38" fill="#6f4ebc"/><rect x="192.36" y="121.26" width="11.05" height="5.38" fill="#704fbc"/><rect x="192.36" y="115.90" width="11.05" height="5.38" fill="#704fbb"/><rect x="192.36" y="110.54" width="11.05" height="5.38" fill="#714fbb"/><rect x="192.36" y="105.17" width="11.05" height="5.38" fill="#714fbb"/><rect x="192.36" y="99.81" width="11.05" height="5.38" fill="#7250bb"/><rect x="192.36" y="94.45" width="11.05" height="5.38" fill="#7250bb"/><rect x="192.36" y="89.08" width="11.05" height="5.38" fill="#7350bb"/><rect x="192.36" y="86.40" width="11.05" height="2.70" fill="#7350ba"/><rect x="203.39" y="464.52" width="11.05" height="2.70" fill="#f0cf4b"/><rect x="203.39" y="459.15" width="11.05" height="5.38" fill="#e9ba5e"/><rect x="203.39" y="453.79" width="11.05" height="5.38" fill="#e5b068"/><rect x="203.39" y="448.43" width="11.05" height="5.38" fill="#e0a671"/><rect x="203.39" y="443.06" width="11.05" height="5.38" fill="#dda076"/><rect x="203.39" y="437.70" width="11.05" height="5.38" fill="#db9c7a"/><rect x="203.39" y="432.34" width="11.05" height="5.38" fill="#d8977d"/><rect x="203.39" y="426.97" width="11.05" height="5.38" fill="#d69381"/><rect x="203.39" y="421.61" width="11.05" height="5.38" fill="#d38e84"/><rect x="203.39" y="416.25" width="11.05" height="5.38" fill="#d08a88"/><rect x="203.39" y="410.88" width="11.05" height="5.38" fill="#cc868b"/><rect x="203.39" y="405.52" width="11.05" height="5.38" fill="#c8828e"/><rect x="203.39" y="400.16" width="11.05" height="5.38" fill="#c47e90"/><rect x="203.39" y="394.79" width="11.05" height="5.38" fill="#c47e90"/><rect x="203.39" y="389.43" width="11.05" height="5.38" fill="#c47e90"/><rect x="203.39" y="384.07" width="11.05" height="5.38" fill="#c47e90"/><rect x="203.39" y="378.70" width="11.05" height="5.38" fill="#c47e91"/><rect x="203.39" y="373.34" width="11.05" height="5.38" fill="#c47e91"/><rect x="203.39" y="367.98" width="11.05" height="5.38" fill="#c37d91"/><rect x="203.39" y="362.61" width="11.05" height="5.38" fill="#c07a94"/><rect x="203.39" y="357.25" width="11.05" height="5.38" fill="#ba7697"/><rect x="203.39" y="351.89" width="11.05" height="5.38" fill="#b4729b"/><rect x="203.39" y="346.52" width="11.05" height="5.38" fill="#ae6f9e"/><rect x="203.39" y="341.16" width="11.05" height="5.38" fill="#a468a4"/><rect x="203.39" y="335.80" width="11.05" height="5.38" fill="#9862aa"/><rect x="203.39" y="330.43" width="11.05" height="5.38" fill="#8a5cb0"/><rect x="203.39" y="325.07" width="11.05" height="5.38" fill="#7d55b7"/><rect x="203.39" y="319.71" width="11.05" height="5.38" fill="#6e4ebc"/><rect x="203.39" y="314.34" width="11.05" height="5.38" fill="#5f46c2"/><rect x="203.39" y="308.98" width="11.05" height="5.38" fill="#523ec3"/><rect x="203.39" y="303.62" width="11.05" height="5.38" fill="#4836c0"/><rect x="203.39" y="298.25" width="11.05" height="5.38" fill="#4735c0"/><rect x="203.39" y="292.89" width="11.05" height="5.38" fill="#4634c0"/><rect x="203.39" y="287.53" width="11.05" height="5.38" fill="#4533bf"/><rect x="203.39" y="282.16" width="11.05" height="5.38" fill="#4432bd"/><rect x="203.39" y="276.80" width="11.05" height="5.38" fill="#4634c0"/><rect x="203.39" y="271.44" width="11.05" height="5.38" fill="#4836c0"/><rect x="203.39" y="266.07" width="11.05" height="5.38" fill="#4a38c1"/><rect x="203.39" y="260.71" width="11.05" height="5.38" fill="#4d39c2"/><rect x="203.39" y="255.35" width="11.05" height="5.38" fill="#4c38c1"/><rect x="203.39" y="249.98" width="11.05" height="5.38" fill="#4a38c1"/><rect x="203.39" y="244.62" width="11.05" height="5.38" fill="#4937c1"/><rect x="203.39" y="239.26" width="11.05" height="5.38" fill="#4836c0"/><rect x="203.39" y="233.89" width="11.05" height="5.38" fill="#4735c0"/><rect x="203.39" y="228.53" width="11.05" height="5.38" fill="#4634c0"/><rect x="203.39" y="223.17" width="11.05" height="5.38" fill="#4d3ac2"/><rect x="203.39" y="217.80" width="11.05" height="5.38" fill="#5540c3"/><rect x="203.39" y="212.44" width="11.05" height="5.38" fill="#5f46c2"/><rect x="203.39" y="207.08" width="11.05" height="5.38" fill="#6a4cbe"/><rect x="203.39" y="201.71" width="11.05" height="5.38" fill="#7552ba"/><rect x="203.39" y="196.35" width="11.05" height="5.38" fill="#7f57b5"/><rect x="203.39" y="190.99" width="11.05" height="5.38" fill="#7f57b5"/><rect x="203.39" y="185.62" width="11.05" height="5.38" fill="#7f57b5"/><rect x="203.39" y="180.26" width="11.05" height="5.38" fill="#7f57b5"/><rect x="203.39" y="174.90" width="11.05" height="5.38" fill="#7f57b5"/><rect x="203.39" y="169.53" width="11.05" height="5.38" fill="#7f57b5"/><rect x="203.39" y="164.17" width="11.05" height="5.38" fill="#7f57b5"/><rect x="203.39" y="158.81" width="11.05" height="5.38" fill="#7f57b5"/><rect x="203.39" y="153.44" width="11.05" height="5.38" fill="#8057b5"/><rect x="203.39" y="148.08" width="11.05" height="5.38" fill="#8157b5"/><rect x="203.39" y="142.72" width="11.05" height="5.38" fill="#8258b4"/><rect x="203.39" y="137.35" width="11.05" height="5.38" fill="#8358b4"/><rect x="203.39" y="131.99" width="11.05" height="5.38" fill="#8358b4"/><rect x="203.39" y="126.63" width="11.05" height="5.38" fill="#8459b3"/><rect x="203.39" y="121.26" width="11.05" height="5.38" fill="#8559b3"/><rect x="203.39" y="115.90" width="11.05" height="5.38" fill="#865ab2"/><rect x="203.39" y="110.54" width="11.05" height="5.38" fill="#865ab2"/><rect x="203.39" y="105.17" width="11.05" height="5.38" fill="#875ab2"/><rect x="203.39" y="99.81" width="11.05" height="5.38" fill="#885bb1"/><rect x="203.39" y="94.45" width="11.05" height="5.38" fill="#895bb1"/><rect x="203.39" y="89.08" width="11.05" height="5.38" fill="#8a5bb1"/><rect x="203.39" y="86.40" width="11.05" height="2.70" fill="#8a5cb0"/><rect x="214.41" y="464.52" width="11.05" height="2.70" fill="#f0cd4e"/><rect x="214.41" y="459.15" width="11.05" height="5.38" fill="#eabd5c"/><rect x="214.41" y="453.79" width="11.05" height="5.38" fill="#e4ae69"/><rect x="214.41" y="448.43" width="11.05" height="5.38" fill="#dda076"/><rect x="214.41" y="443.06" width="11.05" height="5.38" fill="#da9b7b"/><rect x="214.41" y="437.70" width="11.05" height="5.38" fill="#d7957f"/><rect x="214.41" y="432.34" width="11.05" height="5.38" fill="#d49082"/><rect x="214.41" y="426.97" width="11.05" height="5.38" fill="#d28c86"/><rect x="214.41" y="421.61" width="11.05" height="5.38" fill="#cf8989"/><rect x="214.41" y="416.25" width="11.05" height="5.38" fill="#cb858b"/><rect x="214.41" y="410.88" width="11.05" height="5.38" fill="#c7818f"/><rect x="214.41" y="405.52" width="11.05" height="5.38" fill="#c27c92"/><rect x="214.41" y="400.16" width="11.05" height="5.38" fill="#bc7896"/><rect x="214.41" y="394.79" width="11.05" height="5.38" fill="#bb7797"/><rect x="214.41" y="389.43" width="11.05" height="5.38" fill="#b97698"/><rect x="214.41" y="384.07" width="11.05" height="5.38" fill="#b87598"/><rect x="214.41" y="378.70" width="11.05" height="5.38" fill="#b77499"/><rect x="214.41" y="373.34" width="11.05" height="5.38" fill="#b5739a"/><rect x="214.41" y="367.98" width="11.05" height="5.38" fill="#b4729b"/><rect x="214.41" y="362.61" width="11.05" height="5.38" fill="#b0709d"/><rect x="214.41" y="357.25" width="11.05" height="5.38" fill="#ac6e9f"/><rect x="214.41" y="351.89" width="11.05" height="5.38" fill="#a86ba2"/><rect x="214.41" y="346.52" width="11.05" height="5.38" fill="#a468a4"/><rect x="214.41" y="341.16" width="11.05" height="5.38" fill="#9561ab"/><rect x="214.41" y="335.80" width="11.05" height="5.38" fill="#8c5daf"/><rect x="214.41" y="330.43" width="11.05" height="5.38" fill="#7e56b6"/><rect x="214.41" y="325.07" width="11.05" height="5.38" fill="#6d4dbc"/><rect x="214.41" y="319.71" width="11.05" height="5.38" fill="#5741c4"/><rect x="214.41" y="314.34" width="11.05" height="5.38" fill="#533ec3"/><rect x="214.41" y="308.98" width="11.05" height="5.38" fill="#4937c1"/><rect x="214.41" y="303.62" width="11.05" height="5.38" fill="#3e2eb7"/><rect x="214.41" y="298.25" width="11.05" height="5.38" fill="#3829af"/><rect x="214.41" y="292.89" width="11.05" height="5.38" fill="#3628ad"/><rect x="214.41" y="287.53" width="11.05" height="5.38" fill="#3526ab"/><rect x="214.41" y="282.16" width="11.05" height="5.38" fill="#3123a4"/><rect x="214.41" y="276.80" width="11.05" height="5.38" fill="#3426aa"/><rect x="214.41" y="271.44" width="11.05" height="5.38" fill="#3728ae"/><rect x="214.41" y="266.07" width="11.05" height="5.38" fill="#3a2bb2"/><rect x="214.41" y="260.71" width="11.05" height="5.38" fill="#4130ba"/><rect x="214.41" y="255.35" width="11.05" height="5.38" fill="#3f2eb7"/><rect x="214.41" y="249.98" width="11.05" height="5.38" fill="#4130ba"/><rect x="214.41" y="244.62" width="11.05" height="5.38" fill="#4231bc"/><rect x="214.41" y="239.26" width="11.05" height="5.38" fill="#4533be"/><rect x="214.41" y="233.89" width="11.05" height="5.38" fill="#4835c0"/><rect x="214.41" y="228.53" width="11.05" height="5.38" fill="#4c39c1"/><rect x="214.41" y="223.17" width="11.05" height="5.38" fill="#543fc3"/><rect x="214.41" y="217.80" width="11.05" height="5.38" fill="#5f46c1"/><rect x="214.41" y="212.44" width="11.05" height="5.38" fill="#6c4cbd"/><rect x="214.41" y="207.08" width="11.05" height="5.38" fill="#7b55b7"/><rect x="214.41" y="201.71" width="11.05" height="5.38" fill="#8459b3"/><rect x="214.41" y="196.35" width="11.05" height="5.38" fill="#905eae"/><rect x="214.41" y="190.99" width="11.05" height="5.38" fill="#8f5eae"/><rect x="214.41" y="185.62" width="11.05" height="5.38" fill="#8f5eae"/><rect x="214.41" y="180.26" width="11.05" height="5.38" fill="#915fad"/><rect x="214.41" y="174.90" width="11.05" height="5.38" fill="#925fad"/><rect x="214.41" y="169.53" width="11.05" height="5.38" fill="#905fad"/><rect x="214.41" y="164.17" width="11.05" height="5.38" fill="#9460ac"/><rect x="214.41" y="158.81" width="11.05" height="5.38" fill="#915fad"/><rect x="214.41" y="153.44" width="11.05" height="5.38" fill="#925fad"/><rect x="214.41" y="148.08" width="11.05" height="5.38" fill="#9461ab"/><rect x="214.41" y="142.72" width="11.05" height="5.38" fill="#9561ab"/><rect x="214.41" y="137.35" width="11.05" height="5.38" fill="#9762aa"/><rect x="214.41" y="131.99" width="11.05" height="5.38" fill="#9762aa"/><rect x="214.41" y="126.63" width="11.05" height="5.38" fill="#9a63a9"/><rect x="214.41" y="121.26" width="11.05" height="5.38" fill="#9d65a7"/><rect x="214.41" y="115.90" width="11.05" height="5.38" fill="#9b64a8"/><rect x="214.41" y="110.54" width="11.05" height="5.38" fill="#9a63a9"/><rect x="214.41" y="105.17" width="11.05" height="5.38" fill="#9c64a8"/><rect x="214.41" y="99.81" width="11.05" height="5.38" fill="#9e65a7"/><rect x="214.41" y="94.45" width="11.05" height="5.38" fill="#a066a6"/><rect x="214.41" y="89.08" width="11.05" height="5.38" fill="#9d64a8"/><rect x="214.41" y="86.40" width="11.05" height="2.70" fill="#a066a6"/><rect x="225.44" y="464.52" width="11.05" height="2.70" fill="#efcd4e"/><rect x="225.44" y="459.15" width="11.05" height="5.38" fill="#e9ba5f"/><rect x="225.44" y="453.79" width="11.05" height="5.38" fill="#e2aa6d"/><rect x="225.44" y="448.43" width="11.05" height="5.38" fill="#db9c7a"/><rect x="225.44" y="443.06" width="11.05" height="5.38" fill="#d8967e"/><rect x="225.44" y="437.70" width="11.05" height="5.38" fill="#d59182"/><rect x="225.44" y="432.34" width="11.05" height="5.38" fill="#d28c86"/><rect x="225.44" y="426.97" width="11.05" height="5.38" fill="#ce8889"/><rect x="225.44" y="421.61" width="11.05" height="5.38" fill="#c9838d"/><rect x="225.44" y="416.25" width="11.05" height="5.38" fill="#c57f90"/><rect x="225.44" y="410.88" width="11.05" height="5.38" fill="#c17b93"/><rect x="225.44" y="405.52" width="11.05" height="5.38" fill="#bb7797"/><rect x="225.44" y="400.16" width="11.05" height="5.38" fill="#b4739a"/><rect x="225.44" y="394.79" width="11.05" height="5.38" fill="#b3729b"/><rect x="225.44" y="389.43" width="11.05" height="5.38" fill="#b2719c"/><rect x="225.44" y="384.07" width="11.05" height="5.38" fill="#b0709d"/><rect x="225.44" y="378.70" width="11.05" height="5.38" fill="#ab6da0"/><rect x="225.44" y="373.34" width="11.05" height="5.38" fill="#a569a3"/><rect x="225.44" y="367.98" width="11.05" height="5.38" fill="#a066a6"/><rect x="225.44" y="362.61" width="11.05" height="5.38" fill="#9963a9"/><rect x="225.44" y="357.25" width="11.05" height="5.38" fill="#925fad"/><rect x="225.44" y="351.89" width="11.05" height="5.38" fill="#8b5cb0"/><rect x="225.44" y="346.52" width="11.05" height="5.38" fill="#8459b3"/><rect x="225.44" y="341.16" width="11.05" height="5.38" fill="#7853b9"/><rect x="225.44" y="335.80" width="11.05" height="5.38" fill="#704fbc"/><rect x="225.44" y="330.43" width="11.05" height="5.38" fill="#6549bf"/><rect x="225.44" y="325.07" width="11.05" height="5.38" fill="#5640c3"/><rect x="225.44" y="319.71" width="11.05" height="5.38" fill="#513cc2"/><rect x="225.44" y="314.34" width="11.05" height="5.38" fill="#503cc2"/><rect x="225.44" y="308.98" width="11.05" height="5.38" fill="#4332bc"/><rect x="225.44" y="303.62" width="11.05" height="5.38" fill="#3b2bb2"/><rect x="225.44" y="298.25" width="11.05" height="5.38" fill="#3c2cb4"/><rect x="225.44" y="292.89" width="11.05" height="5.38" fill="#3a2ab1"/><rect x="225.44" y="287.53" width="11.05" height="5.38" fill="#3a2bb1"/><rect x="225.44" y="282.16" width="11.05" height="5.38" fill="#3a2bb1"/><rect x="225.44" y="276.80" width="11.05" height="5.38" fill="#3b2bb2"/><rect x="225.44" y="271.44" width="11.05" height="5.38" fill="#4a37c1"/><rect x="225.44" y="266.07" width="11.05" height="5.38" fill="#4d39c1"/><rect x="225.44" y="260.71" width="11.05" height="5.38" fill="#553fc3"/><rect x="225.44" y="255.35" width="11.05" height="5.38" fill="#5b44c3"/><rect x="225.44" y="249.98" width="11.05" height="5.38" fill="#6046c1"/><rect x="225.44" y="244.62" width="11.05" height="5.38" fill="#6c4cbd"/><rect x="225.44" y="239.26" width="11.05" height="5.38" fill="#714fbb"/><rect x="225.44" y="233.89" width="11.05" height="5.38" fill="#684abf"/><rect x="225.44" y="228.53" width="11.05" height="5.38" fill="#714fbb"/><rect x="225.44" y="223.17" width="11.05" height="5.38" fill="#7551ba"/><rect x="225.44" y="217.80" width="11.05" height="5.38" fill="#8258b4"/><rect x="225.44" y="212.44" width="11.05" height="5.38" fill="#8559b3"/><rect x="225.44" y="207.08" width="11.05" height="5.38" fill="#895bb1"/><rect x="225.44" y="201.71" width="11.05" height="5.38" fill="#8e5eae"/><rect x="225.44" y="196.35" width="11.05" height="5.38" fill="#9260ac"/><rect x="225.44" y="190.99" width="11.05" height="5.38" fill="#9661ab"/><rect x="225.44" y="185.62" width="11.05" height="5.38" fill="#9b64a8"/><rect x="225.44" y="180.26" width="11.05" height="5.38" fill="#9b64a8"/><rect x="225.44" y="174.90" width="11.05" height="5.38" fill="#9c64a8"/><rect x="225.44" y="169.53" width="11.05" height="5.38" fill="#9e65a7"/><rect x="225.44" y="164.17" width="11.05" height="5.38" fill="#a066a6"/><rect x="225.44" y="158.81" width="11.05" height="5.38" fill="#a468a4"/><rect x="225.44" y="153.44" width="11.05" height="5.38" fill="#a569a3"/><rect x="225.44" y="148.08" width="11.05" height="5.38" fill="#a569a3"/><rect x="225.44" y="142.72" width="11.05" height="5.38" fill="#a66aa3"/><rect x="225.44" y="137.35" width="11.05" height="5.38" fill="#a76aa2"/><rect x="225.44" y="131.99" width="11.05" height="5.38" fill="#ab6da0"/><rect x="225.44" y="126.63" width="11.05" height="5.38" fill="#a96ca1"/><rect x="225.44" y="121.26" width="11.05" height="5.38" fill="#ab6da0"/><rect x="225.44" y="115.90" width="11.05" height="5.38" fill="#a96ca1"/><rect x="225.44" y="110.54" width="11.05" height="5.38" fill="#ab6da0"/><rect x="225.44" y="105.17" width="11.05" height="5.38" fill="#ad6e9f"/><rect x="225.44" y="99.81" width="11.05" height="5.38" fill="#ac6d9f"/><rect x="225.44" y="94.45" width="11.05" height="5.38" fill="#ad6e9f"/><rect x="225.44" y="89.08" width="11.05" height="5.38" fill="#ac6d9f"/><rect x="225.44" y="86.40" width="11.05" height="2.70" fill="#ac6d9f"/><rect x="236.47" y="464.52" width="11.05" height="2.70" fill="#efcb4f"/><rect x="236.47" y="459.15" width="11.05" height="5.38" fill="#e7b663"/><rect x="236.47" y="453.79" width="11.05" height="5.38" fill="#e0a671"/><rect x="236.47" y="448.43" width="11.05" height="5.38" fill="#d8987d"/><rect x="236.47" y="443.06" width="11.05" height="5.38" fill="#d59282"/><rect x="236.47" y="437.70" width="11.05" height="5.38" fill="#d28c86"/><rect x="236.47" y="432.34" width="11.05" height="5.38" fill="#cd878a"/><rect x="236.47" y="426.97" width="11.05" height="5.38" fill="#c8828e"/><rect x="236.47" y="421.61" width="11.05" height="5.38" fill="#c57f90"/><rect x="236.47" y="416.25" width="11.05" height="5.38" fill="#c17b93"/><rect x="236.47" y="410.88" width="11.05" height="5.38" fill="#bb7797"/><rect x="236.47" y="405.52" width="11.05" height="5.38" fill="#b5739a"/><rect x="236.47" y="400.16" width="11.05" height="5.38" fill="#ae6f9e"/><rect x="236.47" y="394.79" width="11.05" height="5.38" fill="#ac6d9f"/><rect x="236.47" y="389.43" width="11.05" height="5.38" fill="#a96ca1"/><rect x="236.47" y="384.07" width="11.05" height="5.38" fill="#a76aa2"/><rect x="236.47" y="378.70" width="11.05" height="5.38" fill="#a267a5"/><rect x="236.47" y="373.34" width="11.05" height="5.38" fill="#9c64a8"/><rect x="236.47" y="367.98" width="11.05" height="5.38" fill="#9661ab"/><rect x="236.47" y="362.61" width="11.05" height="5.38" fill="#8b5cb0"/><rect x="236.47" y="357.25" width="11.05" height="5.38" fill="#8157b5"/><rect x="236.47" y="351.89" width="11.05" height="5.38" fill="#7652ba"/><rect x="236.47" y="346.52" width="11.05" height="5.38" fill="#6a4cbe"/><rect x="236.47" y="341.16" width="11.05" height="5.38" fill="#6046c1"/><rect x="236.47" y="335.80" width="11.05" height="5.38" fill="#5741c4"/><rect x="236.47" y="330.43" width="11.05" height="5.38" fill="#523dc3"/><rect x="236.47" y="325.07" width="11.05" height="5.38" fill="#4a37c1"/><rect x="236.47" y="319.71" width="11.05" height="5.38" fill="#4936c1"/><rect x="236.47" y="314.34" width="11.05" height="5.38" fill="#3b2cb3"/><rect x="236.47" y="308.98" width="11.05" height="5.38" fill="#3728ae"/><rect x="236.47" y="303.62" width="11.05" height="5.38" fill="#3325a7"/><rect x="236.47" y="298.25" width="11.05" height="5.38" fill="#3627ac"/><rect x="236.47" y="292.89" width="11.05" height="5.38" fill="#3527ac"/><rect x="236.47" y="287.53" width="11.05" height="5.38" fill="#3d2db5"/><rect x="236.47" y="282.16" width="11.05" height="5.38" fill="#3c2cb4"/><rect x="236.47" y="276.80" width="11.05" height="5.38" fill="#4735c0"/><rect x="236.47" y="271.44" width="11.05" height="5.38" fill="#4634c0"/><rect x="236.47" y="266.07" width="11.05" height="5.38" fill="#4c39c1"/><rect x="236.47" y="260.71" width="11.05" height="5.38" fill="#523dc3"/><rect x="236.47" y="255.35" width="11.05" height="5.38" fill="#4d39c1"/><rect x="236.47" y="249.98" width="11.05" height="5.38" fill="#5d45c2"/><rect x="236.47" y="244.62" width="11.05" height="5.38" fill="#694bbe"/><rect x="236.47" y="239.26" width="11.05" height="5.38" fill="#5641c4"/><rect x="236.47" y="233.89" width="11.05" height="5.38" fill="#694bbe"/><rect x="236.47" y="228.53" width="11.05" height="5.38" fill="#6e4dbc"/><rect x="236.47" y="223.17" width="11.05" height="5.38" fill="#7f56b6"/><rect x="236.47" y="217.80" width="11.05" height="5.38" fill="#8157b5"/><rect x="236.47" y="212.44" width="11.05" height="5.38" fill="#8a5cb0"/><rect x="236.47" y="207.08" width="11.05" height="5.38" fill="#9561ab"/><rect x="236.47" y="201.71" width="11.05" height="5.38" fill="#9963a9"/><rect x="236.47" y="196.35" width="11.05" height="5.38" fill="#9f66a6"/><rect x="236.47" y="190.99" width="11.05" height="5.38" fill="#a066a6"/><rect x="236.47" y="185.62" width="11.05" height="5.38" fill="#a569a3"/><rect x="236.47" y="180.26" width="11.05" height="5.38" fill="#a167a5"/><rect x="236.47" y="174.90" width="11.05" height="5.38" fill="#a368a5"/><rect x="236.47" y="169.53" width="11.05" height="5.38" fill="#a166a6"/><rect x="236.47" y="164.17" width="11.05" height="5.38" fill="#a368a4"/><rect x="236.47" y="158.81" width="11.05" height="5.38" fill="#a368a4"/><rect x="236.47" y="153.44" width="11.05" height="5.38" fill="#a368a4"/><rect x="236.47" y="148.08" width="11.05" height="5.38" fill="#9f66a6"/><rect x="236.47" y="142.72" width="11.05" height="5.38" fill="#a468a4"/><rect x="236.47" y="137.35" width="11.05" height="5.38" fill="#a368a5"/><rect x="236.47" y="131.99" width="11.05" height="5.38" fill="#a469a4"/><rect x="236.47" y="126.63" width="11.05" height="5.38" fill="#9e65a7"/><rect x="236.47" y="121.26" width="11.05" height="5.38" fill="#a468a4"/><rect x="236.47" y="115.90" width="11.05" height="5.38" fill="#a66aa3"/><rect x="236.47" y="110.54" width="11.05" height="5.38" fill="#a469a4"/><rect x="236.47" y="105.17" width="11.05" height="5.38" fill="#a76aa2"/><rect x="236.47" y="99.81" width="11.05" height="5.38" fill="#a669a3"/><rect x="236.47" y="94.45" width="11.05" height="5.38" fill="#aa6ca0"/><rect x="236.47" y="89.08" width="11.05" height="5.38" fill="#aa6ca0"/><rect x="236.47" y="86.40" width="11.05" height="2.70" fill="#a96ba1"/><rect x="247.49" y="464.52" width="11.05" height="2.70" fill="#efcc4f"/><rect x="247.49" y="459.15" width="11.05" height="5.38" fill="#e5b167"/><rect x="247.49" y="453.79" width="11.05" height="5.38" fill="#dea275"/><rect x="247.49" y="448.43" width="11.05" height="5.38" fill="#d69480"/><rect x="247.49" y="443.06" width="11.05" height="5.38" fill="#d38e84"/><rect x="247.49" y="437.70" width="11.05" height="5.38" fill="#ce8889"/><rect x="247.49" y="432.34" width="11.05" height="5.38" fill="#c9838d"/><rect x="247.49" y="426.97" width="11.05" height="5.38" fill="#c47e91"/><rect x="247.49" y="421.61" width="11.05" height="5.38" fill="#c17b93"/><rect x="247.49" y="416.25" width="11.05" height="5.38" fill="#bb7797"/><rect x="247.49" y="410.88" width="11.05" height="5.38" fill="#b2719c"/><rect x="247.49" y="405.52" width="11.05" height="5.38" fill="#a96ca1"/><rect x="247.49" y="400.16" width="11.05" height="5.38" fill="#a167a5"/><rect x="247.49" y="394.79" width="11.05" height="5.38" fill="#9e65a7"/><rect x="247.49" y="389.43" width="11.05" height="5.38" fill="#9a63a9"/><rect x="247.49" y="384.07" width="11.05" height="5.38" fill="#9661ab"/><rect x="247.49" y="378.70" width="11.05" height="5.38" fill="#905eae"/><rect x="247.49" y="373.34" width="11.05" height="5.38" fill="#895bb1"/><rect x="247.49" y="367.98" width="11.05" height="5.38" fill="#8258b4"/><rect x="247.49" y="362.61" width="11.05" height="5.38" fill="#7b55b7"/><rect x="247.49" y="357.25" width="11.05" height="5.38" fill="#7250bb"/><rect x="247.49" y="351.89" width="11.05" height="5.38" fill="#694bbe"/><rect x="247.49" y="346.52" width="11.05" height="5.38" fill="#6e4ebc"/><rect x="247.49" y="341.16" width="11.05" height="5.38" fill="#4d39c1"/><rect x="247.49" y="335.80" width="11.05" height="5.38" fill="#503cc2"/><rect x="247.49" y="330.43" width="11.05" height="5.38" fill="#503cc2"/><rect x="247.49" y="325.07" width="11.05" height="5.38" fill="#4b38c1"/><rect x="247.49" y="319.71" width="11.05" height="5.38" fill="#4432bd"/><rect x="247.49" y="314.34" width="11.05" height="5.38" fill="#3e2eb6"/><rect x="247.49" y="308.98" width="11.05" height="5.38" fill="#3c2cb4"/><rect x="247.49" y="303.62" width="11.05" height="5.38" fill="#3627ac"/><rect x="247.49" y="298.25" width="11.05" height="5.38" fill="#402fb9"/><rect x="247.49" y="292.89" width="11.05" height="5.38" fill="#2d1f9a"/><rect x="247.49" y="287.53" width="11.05" height="5.38" fill="#402fb8"/><rect x="247.49" y="282.16" width="11.05" height="5.38" fill="#3d2db5"/><rect x="247.49" y="276.80" width="11.05" height="5.38" fill="#4d39c1"/><rect x="247.49" y="271.44" width="11.05" height="5.38" fill="#543fc3"/><rect x="247.49" y="266.07" width="11.05" height="5.38" fill="#6046c1"/><rect x="247.49" y="260.71" width="11.05" height="5.38" fill="#674abf"/><rect x="247.49" y="255.35" width="11.05" height="5.38" fill="#6247c0"/><rect x="247.49" y="249.98" width="11.05" height="5.38" fill="#7451ba"/><rect x="247.49" y="244.62" width="11.05" height="5.38" fill="#7953b8"/><rect x="247.49" y="239.26" width="11.05" height="5.38" fill="#704fbc"/><rect x="247.49" y="233.89" width="11.05" height="5.38" fill="#8057b5"/><rect x="247.49" y="228.53" width="11.05" height="5.38" fill="#8e5daf"/><rect x="247.49" y="223.17" width="11.05" height="5.38" fill="#8e5daf"/><rect x="247.49" y="217.80" width="11.05" height="5.38" fill="#905eae"/><rect x="247.49" y="212.44" width="11.05" height="5.38" fill="#a468a4"/><rect x="247.49" y="207.08" width="11.05" height="5.38" fill="#a368a4"/><rect x="247.49" y="201.71" width="11.05" height="5.38" fill="#aa6ca0"/><rect x="247.49" y="196.35" width="11.05" height="5.38" fill="#b0709d"/><rect x="247.49" y="190.99" width="11.05" height="5.38" fill="#af6f9d"/><rect x="247.49" y="185.62" width="11.05" height="5.38" fill="#b77499"/><rect x="247.49" y="180.26" width="11.05" height="5.38" fill="#b1719c"/><rect x="247.49" y="174.90" width="11.05" height="5.38" fill="#b6749a"/><rect x="247.49" y="169.53" width="11.05" height="5.38" fill="#b87598"/><rect x="247.49" y="164.17" width="11.05" height="5.38" fill="#b6749a"/><rect x="247.49" y="158.81" width="11.05" height="5.38" fill="#aa6ca0"/><rect x="247.49" y="153.44" width="11.05" height="5.38" fill="#ab6da0"/><rect x="247.49" y="148.08" width="11.05" height="5.38" fill="#ae6f9e"/><rect x="247.49" y="142.72" width="11.05" height="5.38" fill="#ac6e9f"/><rect x="247.49" y="137.35" width="11.05" height="5.38" fill="#aa6ca1"/><rect x="247.49" y="131.99" width="11.05" height="5.38" fill="#ae6f9e"/><rect x="247.49" y="126.63" width="11.05" height="5.38" fill="#a76aa2"/><rect x="247.49" y="121.26" width="11.05" height="5.38" fill="#a569a3"/><rect x="247.49" y="115.90" width="11.05" height="5.38" fill="#ae6f9e"/><rect x="247.49" y="110.54" width="11.05" height="5.38" fill="#a86ba1"/><rect x="247.49" y="105.17" width="11.05" height="5.38" fill="#a86ba1"/><rect x="247.49" y="99.81" width="11.05" height="5.38" fill="#ad6e9e"/><rect x="247.49" y="94.45" width="11.05" height="5.38" fill="#a368a4"/><rect x="247.49" y="89.08" width="11.05" height="5.38" fill="#ad6e9f"/><rect x="247.49" y="86.40" width="11.05" height="2.70" fill="#b0709d"/><rect x="258.52" y="464.52" width="11.05" height="2.70" fill="#eec852"/><rect x="258.52" y="459.15" width="11.05" height="5.38" fill="#e4ae6a"/><rect x="258.52" y="453.79" width="11.05" height="5.38" fill="#dc9f77"/><rect x="258.52" y="448.43" width="11.05" height="5.38" fill="#d59182"/><rect x="258.52" y="443.06" width="11.05" height="5.38" fill="#d28c86"/><rect x="258.52" y="437.70" width="11.05" height="5.38" fill="#cc868b"/><rect x="258.52" y="432.34" width="11.05" height="5.38" fill="#c7818e"/><rect x="258.52" y="426.97" width="11.05" height="5.38" fill="#c27c92"/><rect x="258.52" y="421.61" width="11.05" height="5.38" fill="#bc7797"/><rect x="258.52" y="416.25" width="11.05" height="5.38" fill="#b3729b"/><rect x="258.52" y="410.88" width="11.05" height="5.38" fill="#aa6ca0"/><rect x="258.52" y="405.52" width="11.05" height="5.38" fill="#a267a5"/><rect x="258.52" y="400.16" width="11.05" height="5.38" fill="#9762aa"/><rect x="258.52" y="394.79" width="11.05" height="5.38" fill="#9460ac"/><rect x="258.52" y="389.43" width="11.05" height="5.38" fill="#925fad"/><rect x="258.52" y="384.07" width="11.05" height="5.38" fill="#905eae"/><rect x="258.52" y="378.70" width="11.05" height="5.38" fill="#875ab2"/><rect x="258.52" y="373.34" width="11.05" height="5.38" fill="#7e56b6"/><rect x="258.52" y="367.98" width="11.05" height="5.38" fill="#7551ba"/><rect x="258.52" y="362.61" width="11.05" height="5.38" fill="#704fbb"/><rect x="258.52" y="357.25" width="11.05" height="5.38" fill="#6c4cbd"/><rect x="258.52" y="351.89" width="11.05" height="5.38" fill="#674abf"/><rect x="258.52" y="346.52" width="11.05" height="5.38" fill="#694bbe"/><rect x="258.52" y="341.16" width="11.05" height="5.38" fill="#694bbe"/><rect x="258.52" y="335.80" width="11.05" height="5.38" fill="#6348c0"/><rect x="258.52" y="330.43" width="11.05" height="5.38" fill="#5640c4"/><rect x="258.52" y="325.07" width="11.05" height="5.38" fill="#6649bf"/><rect x="258.52" y="319.71" width="11.05" height="5.38" fill="#4735c0"/><rect x="258.52" y="314.34" width="11.05" height="5.38" fill="#4130b9"/><rect x="258.52" y="308.98" width="11.05" height="5.38" fill="#4534bf"/><rect x="258.52" y="303.62" width="11.05" height="5.38" fill="#2e209d"/><rect x="258.52" y="298.25" width="11.05" height="5.38" fill="#4534bf"/><rect x="258.52" y="292.89" width="11.05" height="5.38" fill="#3527ac"/><rect x="258.52" y="287.53" width="11.05" height="5.38" fill="#3829af"/><rect x="258.52" y="282.16" width="11.05" height="5.38" fill="#3c2cb4"/><rect x="258.52" y="276.80" width="11.05" height="5.38" fill="#5741c4"/><rect x="258.52" y="271.44" width="11.05" height="5.38" fill="#4a37c1"/><rect x="258.52" y="266.07" width="11.05" height="5.38" fill="#5540c3"/><rect x="258.52" y="260.71" width="11.05" height="5.38" fill="#6549bf"/><rect x="258.52" y="255.35" width="11.05" height="5.38" fill="#6f4ebc"/><rect x="258.52" y="249.98" width="11.05" height="5.38" fill="#6348c0"/><rect x="258.52" y="244.62" width="11.05" height="5.38" fill="#6549bf"/><rect x="258.52" y="239.26" width="11.05" height="5.38" fill="#6c4dbd"/><rect x="258.52" y="233.89" width="11.05" height="5.38" fill="#875ab2"/><rect x="258.52" y="228.53" width="11.05" height="5.38" fill="#7f57b5"/><rect x="258.52" y="223.17" width="11.05" height="5.38" fill="#8a5cb0"/><rect x="258.52" y="217.80" width="11.05" height="5.38" fill="#9360ac"/><rect x="258.52" y="212.44" width="11.05" height="5.38" fill="#a066a6"/><rect x="258.52" y="207.08" width="11.05" height="5.38" fill="#a368a4"/><rect x="258.52" y="201.71" width="11.05" height="5.38" fill="#a86ba2"/><rect x="258.52" y="196.35" width="11.05" height="5.38" fill="#b97698"/><rect x="258.52" y="190.99" width="11.05" height="5.38" fill="#ae6f9e"/><rect x="258.52" y="185.62" width="11.05" height="5.38" fill="#a96ca1"/><rect x="258.52" y="180.26" width="11.05" height="5.38" fill="#af709d"/><rect x="258.52" y="174.90" width="11.05" height="5.38" fill="#a267a5"/><rect x="258.52" y="169.53" width="11.05" height="5.38" fill="#a569a3"/><rect x="258.52" y="164.17" width="11.05" height="5.38" fill="#a469a3"/><rect x="258.52" y="158.81" width="11.05" height="5.38" fill="#9d65a7"/><rect x="258.52" y="153.44" width="11.05" height="5.38" fill="#9d65a7"/><rect x="258.52" y="148.08" width="11.05" height="5.38" fill="#9c64a8"/><rect x="258.52" y="142.72" width="11.05" height="5.38" fill="#a468a4"/><rect x="258.52" y="137.35" width="11.05" height="5.38" fill="#9c64a8"/><rect x="258.52" y="131.99" width="11.05" height="5.38" fill="#9b63a9"/><rect x="258.52" y="126.63" width="11.05" height="5.38" fill="#9661ab"/><rect x="258.52" y="121.26" width="11.05" height="5.38" fill="#9862aa"/><rect x="258.52" y="115.90" width="11.05" height="5.38" fill="#9c64a8"/><rect x="258.52" y="110.54" width="11.05" height="5.38" fill="#8f5eae"/><rect x="258.52" y="105.17" width="11.05" height="5.38" fill="#9260ac"/><rect x="258.52" y="99.81" width="11.05" height="5.38" fill="#8a5cb0"/><rect x="258.52" y="94.45" width="11.05" height="5.38" fill="#9f66a6"/><rect x="258.52" y="89.08" width="11.05" height="5.38" fill="#9a63a9"/><rect x="258.52" y="86.40" width="11.05" height="2.70" fill="#915fad"/><rect x="269.55" y="464.52" width="11.05" height="2.70" fill="#eec852"/><rect x="269.55" y="459.15" width="11.05" height="5.38" fill="#e2aa6d"/><rect x="269.55" y="453.79" width="11.05" height="5.38" fill="#da9a7b"/><rect x="269.55" y="448.43" width="11.05" height="5.38" fill="#d28c86"/><rect x="269.55" y="443.06" width="11.05" height="5.38" fill="#cb858b"/><rect x="269.55" y="437.70" width="11.05" height="5.38" fill="#c47e91"/><rect x="269.55" y="432.34" width="11.05" height="5.38" fill="#c07a94"/><rect x="269.55" y="426.97" width="11.05" height="5.38" fill="#b87599"/><rect x="269.55" y="421.61" width="11.05" height="5.38" fill="#b0709d"/><rect x="269.55" y="416.25" width="11.05" height="5.38" fill="#a86ba2"/><rect x="269.55" y="410.88" width="11.05" height="5.38" fill="#a167a5"/><rect x="269.55" y="405.52" width="11.05" height="5.38" fill="#9963a9"/><rect x="269.55" y="400.16" width="11.05" height="5.38" fill="#905fad"/><rect x="269.55" y="394.79" width="11.05" height="5.38" fill="#8f5eae"/><rect x="269.55" y="389.43" width="11.05" height="5.38" fill="#8d5daf"/><rect x="269.55" y="384.07" width="11.05" height="5.38" fill="#8b5cb0"/><rect x="269.55" y="378.70" width="11.05" height="5.38" fill="#8258b4"/><rect x="269.55" y="373.34" width="11.05" height="5.38" fill="#7954b8"/><rect x="269.55" y="367.98" width="11.05" height="5.38" fill="#6e4ebc"/><rect x="269.55" y="362.61" width="11.05" height="5.38" fill="#664abf"/><rect x="269.55" y="357.25" width="11.05" height="5.38" fill="#5e45c2"/><rect x="269.55" y="351.89" width="11.05" height="5.38" fill="#5741c4"/><rect x="269.55" y="346.52" width="11.05" height="5.38" fill="#543fc3"/><rect x="269.55" y="341.16" width="11.05" height="5.38" fill="#4533bf"/><rect x="269.55" y="335.80" width="11.05" height="5.38" fill="#533ec3"/><rect x="269.55" y="330.43" width="11.05" height="5.38" fill="#4d39c1"/><rect x="269.55" y="325.07" width="11.05" height="5.38" fill="#4936c1"/><rect x="269.55" y="319.71" width="11.05" height="5.38" fill="#3c2db4"/><rect x="269.55" y="314.34" width="11.05" height="5.38" fill="#3325a7"/><rect x="269.55" y="308.98" width="11.05" height="5.38" fill="#3022a1"/><rect x="269.55" y="303.62" width="11.05" height="5.38" fill="#2f21a0"/><rect x="269.55" y="298.25" width="11.05" height="5.38" fill="#3628ad"/><rect x="269.55" y="292.89" width="11.05" height="5.38" fill="#3123a2"/><rect x="269.55" y="287.53" width="11.05" height="5.38" fill="#4a37c1"/><rect x="269.55" y="282.16" width="11.05" height="5.38" fill="#3c2cb3"/><rect x="269.55" y="276.80" width="11.05" height="5.38" fill="#4f3bc2"/><rect x="269.55" y="271.44" width="11.05" height="5.38" fill="#5a43c3"/><rect x="269.55" y="266.07" width="11.05" height="5.38" fill="#4b38c1"/><rect x="269.55" y="260.71" width="11.05" height="5.38" fill="#5842c4"/><rect x="269.55" y="255.35" width="11.05" height="5.38" fill="#6549bf"/><rect x="269.55" y="249.98" width="11.05" height="5.38" fill="#704fbc"/><rect x="269.55" y="244.62" width="11.05" height="5.38" fill="#8157b5"/><rect x="269.55" y="239.26" width="11.05" height="5.38" fill="#7a54b8"/><rect x="269.55" y="233.89" width="11.05" height="5.38" fill="#7d55b7"/><rect x="269.55" y="228.53" width="11.05" height="5.38" fill="#8358b4"/><rect x="269.55" y="223.17" width="11.05" height="5.38" fill="#915fad"/><rect x="269.55" y="217.80" width="11.05" height="5.38" fill="#8d5daf"/><rect x="269.55" y="212.44" width="11.05" height="5.38" fill="#a468a4"/><rect x="269.55" y="207.08" width="11.05" height="5.38" fill="#a86ba2"/><rect x="269.55" y="201.71" width="11.05" height="5.38" fill="#af6f9e"/><rect x="269.55" y="196.35" width="11.05" height="5.38" fill="#a96ca1"/><rect x="269.55" y="190.99" width="11.05" height="5.38" fill="#aa6ca0"/><rect x="269.55" y="185.62" width="11.05" height="5.38" fill="#925fad"/><rect x="269.55" y="180.26" width="11.05" height="5.38" fill="#a76ba2"/><rect x="269.55" y="174.90" width="11.05" height="5.38" fill="#a267a5"/><rect x="269.55" y="169.53" width="11.05" height="5.38" fill="#a267a5"/><rect x="269.55" y="164.17" width="11.05" height="5.38" fill="#9c64a8"/><rect x="269.55" y="158.81" width="11.05" height="5.38" fill="#9b64a8"/><rect x="269.55" y="153.44" width="11.05" height="5.38" fill="#9b64a8"/><rect x="269.55" y="148.08" width="11.05" height="5.38" fill="#9a63a9"/><rect x="269.55" y="142.72" width="11.05" height="5.38" fill="#9360ac"/><rect x="269.55" y="137.35" width="11.05" height="5.38" fill="#8e5daf"/><rect x="269.55" y="131.99" width="11.05" height="5.38" fill="#895bb1"/><rect x="269.55" y="126.63" width="11.05" height="5.38" fill="#9661ab"/><rect x="269.55" y="121.26" width="11.05" height="5.38" fill="#8559b3"/><rect x="269.55" y="115.90" width="11.05" height="5.38" fill="#925fad"/><rect x="269.55" y="110.54" width="11.05" height="5.38" fill="#9c64a8"/><rect x="269.55" y="105.17" width="11.05" height="5.38" fill="#9561ab"/><rect x="269.55" y="99.81" width="11.05" height="5.38" fill="#8f5eae"/><rect x="269.55" y="94.45" width="11.05" height="5.38" fill="#8f5eae"/><rect x="269.55" y="89.08" width="11.05" height="5.38" fill="#925fad"/><rect x="269.55" y="86.40" width="11.05" height="2.70" fill="#9762aa"/><rect x="280.57" y="464.52" width="11.05" height="2.70" fill="#edc555"/><rect x="280.57" y="459.15" width="11.05" height="5.38" fill="#e0a571"/><rect x="280.57" y="453.79" width="11.05" height="5.38" fill="#d7957f"/><rect x="280.57" y="448.43" width="11.05" height="5.38" fill="#cb858b"/><rect x="280.57" y="443.06" width="11.05" height="5.38" fill="#c37d91"/><rect x="280.57" y="437.70" width="11.05" height="5.38" fill="#b87598"/><rect x="280.57" y="432.34" width="11.05" height="5.38" fill="#b3729b"/><rect x="280.57" y="426.97" width="11.05" height="5.38" fill="#ad6e9f"/><rect x="280.57" y="421.61" width="11.05" height="5.38" fill="#a96ca1"/><rect x="280.57" y="416.25" width="11.05" height="5.38" fill="#a368a4"/><rect x="280.57" y="410.88" width="11.05" height="5.38" fill="#9e65a7"/><rect x="280.57" y="405.52" width="11.05" height="5.38" fill="#9460ac"/><rect x="280.57" y="400.16" width="11.05" height="5.38" fill="#8e5eae"/><rect x="280.57" y="394.79" width="11.05" height="5.38" fill="#8c5cb0"/><rect x="280.57" y="389.43" width="11.05" height="5.38" fill="#875ab2"/><rect x="280.57" y="384.07" width="11.05" height="5.38" fill="#8057b5"/><rect x="280.57" y="378.70" width="11.05" height="5.38" fill="#7853b9"/><rect x="280.57" y="373.34" width="11.05" height="5.38" fill="#6b4cbd"/><rect x="280.57" y="367.98" width="11.05" height="5.38" fill="#6147c1"/><rect x="280.57" y="362.61" width="11.05" height="5.38" fill="#5e45c2"/><rect x="280.57" y="357.25" width="11.05" height="5.38" fill="#5842c4"/><rect x="280.57" y="351.89" width="11.05" height="5.38" fill="#543fc3"/><rect x="280.57" y="346.52" width="11.05" height="5.38" fill="#523dc3"/><rect x="280.57" y="341.16" width="11.05" height="5.38" fill="#523ec3"/><rect x="280.57" y="335.80" width="11.05" height="5.38" fill="#4634c0"/><rect x="280.57" y="330.43" width="11.05" height="5.38" fill="#3c2cb4"/><rect x="280.57" y="325.07" width="11.05" height="5.38" fill="#3f2fb8"/><rect x="280.57" y="319.71" width="11.05" height="5.38" fill="#4231bc"/><rect x="280.57" y="314.34" width="11.05" height="5.38" fill="#3728ae"/><rect x="280.57" y="308.98" width="11.05" height="5.38" fill="#4332bd"/><rect x="280.57" y="303.62" width="11.05" height="5.38" fill="#291b91"/><rect x="280.57" y="298.25" width="11.05" height="5.38" fill="#3123a4"/><rect x="280.57" y="292.89" width="11.05" height="5.38" fill="#3627ac"/><rect x="280.57" y="287.53" width="11.05" height="5.38" fill="#3426aa"/><rect x="280.57" y="282.16" width="11.05" height="5.38" fill="#3e2eb6"/><rect x="280.57" y="276.80" width="11.05" height="5.38" fill="#4d3ac2"/><rect x="280.57" y="271.44" width="11.05" height="5.38" fill="#6b4cbd"/><rect x="280.57" y="266.07" width="11.05" height="5.38" fill="#5842c4"/><rect x="280.57" y="260.71" width="11.05" height="5.38" fill="#6549bf"/><rect x="280.57" y="255.35" width="11.05" height="5.38" fill="#7e56b6"/><rect x="280.57" y="249.98" width="11.05" height="5.38" fill="#7b55b7"/><rect x="280.57" y="244.62" width="11.05" height="5.38" fill="#7d56b6"/><rect x="280.57" y="239.26" width="11.05" height="5.38" fill="#865ab2"/><rect x="280.57" y="233.89" width="11.05" height="5.38" fill="#905eae"/><rect x="280.57" y="228.53" width="11.05" height="5.38" fill="#8459b3"/><rect x="280.57" y="223.17" width="11.05" height="5.38" fill="#9963a9"/><rect x="280.57" y="217.80" width="11.05" height="5.38" fill="#8358b4"/><rect x="280.57" y="212.44" width="11.05" height="5.38" fill="#9963a9"/><rect x="280.57" y="207.08" width="11.05" height="5.38" fill="#9a63a9"/><rect x="280.57" y="201.71" width="11.05" height="5.38" fill="#9762aa"/><rect x="280.57" y="196.35" width="11.05" height="5.38" fill="#a368a5"/><rect x="280.57" y="190.99" width="11.05" height="5.38" fill="#9862aa"/><rect x="280.57" y="185.62" width="11.05" height="5.38" fill="#9561ab"/><rect x="280.57" y="180.26" width="11.05" height="5.38" fill="#a166a6"/><rect x="280.57" y="174.90" width="11.05" height="5.38" fill="#9360ac"/><rect x="280.57" y="169.53" width="11.05" height="5.38" fill="#925fad"/><rect x="280.57" y="164.17" width="11.05" height="5.38" fill="#9460ac"/><rect x="280.57" y="158.81" width="11.05" height="5.38" fill="#9561ab"/><rect x="280.57" y="153.44" width="11.05" height="5.38" fill="#8f5eae"/><rect x="280.57" y="148.08" width="11.05" height="5.38" fill="#905eae"/><rect x="280.57" y="142.72" width="11.05" height="5.38" fill="#8f5eae"/><rect x="280.57" y="137.35" width="11.05" height="5.38" fill="#865ab2"/><rect x="280.57" y="131.99" width="11.05" height="5.38" fill="#895bb1"/><rect x="280.57" y="126.63" width="11.05" height="5.38" fill="#8559b3"/><rect x="280.57" y="121.26" width="11.05" height="5.38" fill="#915fad"/><rect x="280.57" y="115.90" width="11.05" height="5.38" fill="#8a5cb0"/><rect x="280.57" y="110.54" width="11.05" height="5.38" fill="#875ab2"/><rect x="280.57" y="105.17" width="11.05" height="5.38" fill="#8057b5"/><rect x="280.57" y="99.81" width="11.05" height="5.38" fill="#8c5cb0"/><rect x="280.57" y="94.45" width="11.05" height="5.38" fill="#8b5cb0"/><rect x="280.57" y="89.08" width="11.05" height="5.38" fill="#8f5eae"/><rect x="280.57" y="86.40" width="11.05" height="2.70" fill="#7e56b6"/><rect x="291.60" y="464.52" width="11.05" height="2.70" fill="#eec951"/><rect x="291.60" y="459.15" width="11.05" height="5.38" fill="#e1a86f"/><rect x="291.60" y="453.79" width="11.05" height="5.38" fill="#d8987d"/><rect x="291.60" y="448.43" width="11.05" height="5.38" fill="#ce8889"/><rect x="291.60" y="443.06" width="11.05" height="5.38" fill="#c8828e"/><rect x="291.60" y="437.70" width="11.05" height="5.38" fill="#bf7995"/><rect x="291.60" y="432.34" width="11.05" height="5.38" fill="#b87598"/><rect x="291.60" y="426.97" width="11.05" height="5.38" fill="#ae6f9e"/><rect x="291.60" y="421.61" width="11.05" height="5.38" fill="#a569a3"/><rect x="291.60" y="416.25" width="11.05" height="5.38" fill="#9f65a7"/><rect x="291.60" y="410.88" width="11.05" height="5.38" fill="#9360ac"/><rect x="291.60" y="405.52" width="11.05" height="5.38" fill="#8d5daf"/><rect x="291.60" y="400.16" width="11.05" height="5.38" fill="#7d55b7"/><rect x="291.60" y="394.79" width="11.05" height="5.38" fill="#7350bb"/><rect x="291.60" y="389.43" width="11.05" height="5.38" fill="#7b54b8"/><rect x="291.60" y="384.07" width="11.05" height="5.38" fill="#7350bb"/><rect x="291.60" y="378.70" width="11.05" height="5.38" fill="#6449c0"/><rect x="291.60" y="373.34" width="11.05" height="5.38" fill="#523dc3"/><rect x="291.60" y="367.98" width="11.05" height="5.38" fill="#553fc3"/><rect x="291.60" y="362.61" width="11.05" height="5.38" fill="#503cc2"/><rect x="291.60" y="357.25" width="11.05" height="5.38" fill="#513dc2"/><rect x="291.60" y="351.89" width="11.05" height="5.38" fill="#4231bc"/><rect x="291.60" y="346.52" width="11.05" height="5.38" fill="#5540c3"/><rect x="291.60" y="341.16" width="11.05" height="5.38" fill="#4231bb"/><rect x="291.60" y="335.80" width="11.05" height="5.38" fill="#3d2db5"/><rect x="291.60" y="330.43" width="11.05" height="5.38" fill="#2c1e99"/><rect x="291.60" y="325.07" width="11.05" height="5.38" fill="#4231bb"/><rect x="291.60" y="319.71" width="11.05" height="5.38" fill="#3b2bb3"/><rect x="291.60" y="314.34" width="11.05" height="5.38" fill="#3628ad"/><rect x="291.60" y="308.98" width="11.05" height="5.38" fill="#4836c1"/><rect x="291.60" y="303.62" width="11.05" height="5.38" fill="#3022a2"/><rect x="291.60" y="298.25" width="11.05" height="5.38" fill="#3b2bb2"/><rect x="291.60" y="292.89" width="11.05" height="5.38" fill="#4b38c1"/><rect x="291.60" y="287.53" width="11.05" height="5.38" fill="#4936c1"/><rect x="291.60" y="282.16" width="11.05" height="5.38" fill="#4a37c1"/><rect x="291.60" y="276.80" width="11.05" height="5.38" fill="#5741c4"/><rect x="291.60" y="271.44" width="11.05" height="5.38" fill="#5c44c3"/><rect x="291.60" y="266.07" width="11.05" height="5.38" fill="#6d4dbd"/><rect x="291.60" y="260.71" width="11.05" height="5.38" fill="#7c55b7"/><rect x="291.60" y="255.35" width="11.05" height="5.38" fill="#6d4dbd"/><rect x="291.60" y="249.98" width="11.05" height="5.38" fill="#8258b4"/><rect x="291.60" y="244.62" width="11.05" height="5.38" fill="#9561ab"/><rect x="291.60" y="239.26" width="11.05" height="5.38" fill="#8057b5"/><rect x="291.60" y="233.89" width="11.05" height="5.38" fill="#9862aa"/><rect x="291.60" y="228.53" width="11.05" height="5.38" fill="#9360ac"/><rect x="291.60" y="223.17" width="11.05" height="5.38" fill="#9a63a9"/><rect x="291.60" y="217.80" width="11.05" height="5.38" fill="#9f66a6"/><rect x="291.60" y="212.44" width="11.05" height="5.38" fill="#9762aa"/><rect x="291.60" y="207.08" width="11.05" height="5.38" fill="#a166a6"/><rect x="291.60" y="201.71" width="11.05" height="5.38" fill="#ab6da0"/><rect x="291.60" y="196.35" width="11.05" height="5.38" fill="#9c64a8"/><rect x="291.60" y="190.99" width="11.05" height="5.38" fill="#9561ab"/><rect x="291.60" y="185.62" width="11.05" height="5.38" fill="#a267a5"/><rect x="291.60" y="180.26" width="11.05" height="5.38" fill="#9e65a7"/><rect x="291.60" y="174.90" width="11.05" height="5.38" fill="#9862aa"/><rect x="291.60" y="169.53" width="11.05" height="5.38" fill="#9c64a8"/><rect x="291.60" y="164.17" width="11.05" height="5.38" fill="#9b64a8"/><rect x="291.60" y="158.81" width="11.05" height="5.38" fill="#8b5cb0"/><rect x="291.60" y="153.44" width="11.05" height="5.38" fill="#9661ab"/><rect x="291.60" y="148.08" width="11.05" height="5.38" fill="#915fad"/><rect x="291.60" y="142.72" width="11.05" height="5.38" fill="#875ab2"/><rect x="291.60" y="137.35" width="11.05" height="5.38" fill="#875ab2"/><rect x="291.60" y="131.99" width="11.05" height="5.38" fill="#8057b5"/><rect x="291.60" y="126.63" width="11.05" height="5.38" fill="#7a54b8"/><rect x="291.60" y="121.26" width="11.05" height="5.38" fill="#865ab2"/><rect x="291.60" y="115.90" width="11.05" height="5.38" fill="#8358b4"/><rect x="291.60" y="110.54" width="11.05" height="5.38" fill="#8a5cb0"/><rect x="291.60" y="105.17" width="11.05" height="5.38" fill="#6f4ebc"/><rect x="291.60" y="99.81" width="11.05" height="5.38" fill="#714fbb"/><rect x="291.60" y="94.45" width="11.05" height="5.38" fill="#8559b3"/><rect x="291.60" y="89.08" width="11.05" height="5.38" fill="#684abf"/><rect x="291.60" y="86.40" width="11.05" height="2.70" fill="#6f4ebc"/><rect x="302.62" y="464.52" width="11.05" height="2.70" fill="#eec951"/><rect x="302.62" y="459.15" width="11.05" height="5.38" fill="#e1a96f"/><rect x="302.62" y="453.79" width="11.05" height="5.38" fill="#d9987c"/><rect x="302.62" y="448.43" width="11.05" height="5.38" fill="#d18b87"/><rect x="302.62" y="443.06" width="11.05" height="5.38" fill="#c8828e"/><rect x="302.62" y="437.70" width="11.05" height="5.38" fill="#bb7797"/><rect x="302.62" y="432.34" width="11.05" height="5.38" fill="#b4739b"/><rect x="302.62" y="426.97" width="11.05" height="5.38" fill="#af709d"/><rect x="302.62" y="421.61" width="11.05" height="5.38" fill="#a267a5"/><rect x="302.62" y="416.25" width="11.05" height="5.38" fill="#915fad"/><rect x="302.62" y="410.88" width="11.05" height="5.38" fill="#895bb1"/><rect x="302.62" y="405.52" width="11.05" height="5.38" fill="#7250bb"/><rect x="302.62" y="400.16" width="11.05" height="5.38" fill="#694bbe"/><rect x="302.62" y="394.79" width="11.05" height="5.38" fill="#7250bb"/><rect x="302.62" y="389.43" width="11.05" height="5.38" fill="#6c4dbd"/><rect x="302.62" y="384.07" width="11.05" height="5.38" fill="#6649bf"/><rect x="302.62" y="378.70" width="11.05" height="5.38" fill="#6549c0"/><rect x="302.62" y="373.34" width="11.05" height="5.38" fill="#694bbe"/><rect x="302.62" y="367.98" width="11.05" height="5.38" fill="#6448c0"/><rect x="302.62" y="362.61" width="11.05" height="5.38" fill="#5a43c3"/><rect x="302.62" y="357.25" width="11.05" height="5.38" fill="#533ec3"/><rect x="302.62" y="351.89" width="11.05" height="5.38" fill="#4433be"/><rect x="302.62" y="346.52" width="11.05" height="5.38" fill="#3829ae"/><rect x="302.62" y="341.16" width="11.05" height="5.38" fill="#3829af"/><rect x="302.62" y="335.80" width="11.05" height="5.38" fill="#3325a8"/><rect x="302.62" y="330.43" width="11.05" height="5.38" fill="#3325a8"/><rect x="302.62" y="325.07" width="11.05" height="5.38" fill="#3325a7"/><rect x="302.62" y="319.71" width="11.05" height="5.38" fill="#3728ad"/><rect x="302.62" y="314.34" width="11.05" height="5.38" fill="#3b2bb2"/><rect x="302.62" y="308.98" width="11.05" height="5.38" fill="#3f2eb7"/><rect x="302.62" y="303.62" width="11.05" height="5.38" fill="#4c39c1"/><rect x="302.62" y="298.25" width="11.05" height="5.38" fill="#4c39c1"/><rect x="302.62" y="292.89" width="11.05" height="5.38" fill="#7451ba"/><rect x="302.62" y="287.53" width="11.05" height="5.38" fill="#6247c0"/><rect x="302.62" y="282.16" width="11.05" height="5.38" fill="#8358b4"/><rect x="302.62" y="276.80" width="11.05" height="5.38" fill="#7652b9"/><rect x="302.62" y="271.44" width="11.05" height="5.38" fill="#6448c0"/><rect x="302.62" y="266.07" width="11.05" height="5.38" fill="#7d56b6"/><rect x="302.62" y="260.71" width="11.05" height="5.38" fill="#6c4dbd"/><rect x="302.62" y="255.35" width="11.05" height="5.38" fill="#8157b5"/><rect x="302.62" y="249.98" width="11.05" height="5.38" fill="#6d4dbd"/><rect x="302.62" y="244.62" width="11.05" height="5.38" fill="#7551ba"/><rect x="302.62" y="239.26" width="11.05" height="5.38" fill="#865ab2"/><rect x="302.62" y="233.89" width="11.05" height="5.38" fill="#7a54b8"/><rect x="302.62" y="228.53" width="11.05" height="5.38" fill="#7652b9"/><rect x="302.62" y="223.17" width="11.05" height="5.38" fill="#7250bb"/><rect x="302.62" y="217.80" width="11.05" height="5.38" fill="#865ab2"/><rect x="302.62" y="212.44" width="11.05" height="5.38" fill="#865ab2"/><rect x="302.62" y="207.08" width="11.05" height="5.38" fill="#895bb1"/><rect x="302.62" y="201.71" width="11.05" height="5.38" fill="#895bb1"/><rect x="302.62" y="196.35" width="11.05" height="5.38" fill="#7d55b7"/><rect x="302.62" y="190.99" width="11.05" height="5.38" fill="#8d5daf"/><rect x="302.62" y="185.62" width="11.05" height="5.38" fill="#8459b3"/><rect x="302.62" y="180.26" width="11.05" height="5.38" fill="#8f5eae"/><rect x="302.62" y="174.90" width="11.05" height="5.38" fill="#885bb1"/><rect x="302.62" y="169.53" width="11.05" height="5.38" fill="#7f57b5"/><rect x="302.62" y="164.17" width="11.05" height="5.38" fill="#8c5daf"/><rect x="302.62" y="158.81" width="11.05" height="5.38" fill="#895bb1"/><rect x="302.62" y="153.44" width="11.05" height="5.38" fill="#875ab2"/><rect x="302.62" y="148.08" width="11.05" height="5.38" fill="#8d5daf"/><rect x="302.62" y="142.72" width="11.05" height="5.38" fill="#8258b4"/><rect x="302.62" y="137.35" width="11.05" height="5.38" fill="#7c55b7"/><rect x="302.62" y="131.99" width="11.05" height="5.38" fill="#7d56b6"/><rect x="302.62" y="126.63" width="11.05" height="5.38" fill="#8a5bb1"/><rect x="302.62" y="121.26" width="11.05" height="5.38" fill="#7c55b7"/><rect x="302.62" y="115.90" width="11.05" height="5.38" fill="#7a54b8"/><rect x="302.62" y="110.54" width="11.05" height="5.38" fill="#7954b8"/><rect x="302.62" y="105.17" width="11.05" height="5.38" fill="#7c55b7"/><rect x="302.62" y="99.81" width="11.05" height="5.38" fill="#875ab2"/><rect x="302.62" y="94.45" width="11.05" height="5.38" fill="#8659b3"/><rect x="302.62" y="89.08" width="11.05" height="5.38" fill="#7451ba"/><rect x="302.62" y="86.40" width="11.05" height="2.70" fill="#7954b8"/><rect x="313.65" y="464.52" width="11.05" height="2.70" fill="#edc654"/><rect x="313.65" y="459.15" width="11.05" height="5.38" fill="#e1a770"/><rect x="313.65" y="453.79" width="11.05" height="5.38" fill="#d8977d"/><rect x="313.65" y="448.43" width="11.05" height="5.38" fill="#cf8988"/><rect x="313.65" y="443.06" width="11.05" height="5.38" fill="#c57f90"/><rect x="313.65" y="437.70" width="11.05" height="5.38" fill="#b6749a"/><rect x="313.65" y="432.34" width="11.05" height="5.38" fill="#b3729b"/><rect x="313.65" y="426.97" width="11.05" height="5.38" fill="#af6f9e"/><rect x="313.65" y="421.61" width="11.05" height="5.38" fill="#a066a6"/><rect x="313.65" y="416.25" width="11.05" height="5.38" fill="#915fad"/><rect x="313.65" y="410.88" width="11.05" height="5.38" fill="#8157b5"/><rect x="313.65" y="405.52" width="11.05" height="5.38" fill="#7752b9"/><rect x="313.65" y="400.16" width="11.05" height="5.38" fill="#6247c1"/><rect x="313.65" y="394.79" width="11.05" height="5.38" fill="#7c55b7"/><rect x="313.65" y="389.43" width="11.05" height="5.38" fill="#704fbb"/><rect x="313.65" y="384.07" width="11.05" height="5.38" fill="#6649bf"/><rect x="313.65" y="378.70" width="11.05" height="5.38" fill="#543fc3"/><rect x="313.65" y="373.34" width="11.05" height="5.38" fill="#5b43c3"/><rect x="313.65" y="367.98" width="11.05" height="5.38" fill="#4c39c1"/><rect x="313.65" y="362.61" width="11.05" height="5.38" fill="#4b38c1"/><rect x="313.65" y="357.25" width="11.05" height="5.38" fill="#402fb9"/><rect x="313.65" y="351.89" width="11.05" height="5.38" fill="#4130ba"/><rect x="313.65" y="346.52" width="11.05" height="5.38" fill="#4231bb"/><rect x="313.65" y="341.16" width="11.05" height="5.38" fill="#4533bf"/><rect x="313.65" y="335.80" width="11.05" height="5.38" fill="#3527ab"/><rect x="313.65" y="330.43" width="11.05" height="5.38" fill="#3829af"/><rect x="313.65" y="325.07" width="11.05" height="5.38" fill="#3325a9"/><rect x="313.65" y="319.71" width="11.05" height="5.38" fill="#3224a6"/><rect x="313.65" y="314.34" width="11.05" height="5.38" fill="#3224a6"/><rect x="313.65" y="308.98" width="11.05" height="5.38" fill="#2f21a0"/><rect x="313.65" y="303.62" width="11.05" height="5.38" fill="#4533bf"/><rect x="313.65" y="298.25" width="11.05" height="5.38" fill="#4b38c1"/><rect x="313.65" y="292.89" width="11.05" height="5.38" fill="#523dc3"/><rect x="313.65" y="287.53" width="11.05" height="5.38" fill="#3e2eb7"/><rect x="313.65" y="282.16" width="11.05" height="5.38" fill="#5f46c1"/><rect x="313.65" y="276.80" width="11.05" height="5.38" fill="#6147c1"/><rect x="313.65" y="271.44" width="11.05" height="5.38" fill="#8157b5"/><rect x="313.65" y="266.07" width="11.05" height="5.38" fill="#6f4ebc"/><rect x="313.65" y="260.71" width="11.05" height="5.38" fill="#7954b8"/><rect x="313.65" y="255.35" width="11.05" height="5.38" fill="#6549c0"/><rect x="313.65" y="249.98" width="11.05" height="5.38" fill="#7752b9"/><rect x="313.65" y="244.62" width="11.05" height="5.38" fill="#7a54b8"/><rect x="313.65" y="239.26" width="11.05" height="5.38" fill="#6549bf"/><rect x="313.65" y="233.89" width="11.05" height="5.38" fill="#6b4cbd"/><rect x="313.65" y="228.53" width="11.05" height="5.38" fill="#7752b9"/><rect x="313.65" y="223.17" width="11.05" height="5.38" fill="#8057b5"/><rect x="313.65" y="217.80" width="11.05" height="5.38" fill="#7551ba"/><rect x="313.65" y="212.44" width="11.05" height="5.38" fill="#6a4cbe"/><rect x="313.65" y="207.08" width="11.05" height="5.38" fill="#8258b4"/><rect x="313.65" y="201.71" width="11.05" height="5.38" fill="#7d56b6"/><rect x="313.65" y="196.35" width="11.05" height="5.38" fill="#7853b9"/><rect x="313.65" y="190.99" width="11.05" height="5.38" fill="#8358b4"/><rect x="313.65" y="185.62" width="11.05" height="5.38" fill="#8559b3"/><rect x="313.65" y="180.26" width="11.05" height="5.38" fill="#7552ba"/><rect x="313.65" y="174.90" width="11.05" height="5.38" fill="#8559b3"/><rect x="313.65" y="169.53" width="11.05" height="5.38" fill="#7f57b5"/><rect x="313.65" y="164.17" width="11.05" height="5.38" fill="#8358b4"/><rect x="313.65" y="158.81" width="11.05" height="5.38" fill="#865ab2"/><rect x="313.65" y="153.44" width="11.05" height="5.38" fill="#7d55b7"/><rect x="313.65" y="148.08" width="11.05" height="5.38" fill="#7c55b7"/><rect x="313.65" y="142.72" width="11.05" height="5.38" fill="#7e56b6"/><rect x="313.65" y="137.35" width="11.05" height="5.38" fill="#7e56b6"/><rect x="313.65" y="131.99" width="11.05" height="5.38" fill="#7f57b5"/><rect x="313.65" y="126.63" width="11.05" height="5.38" fill="#8057b5"/><rect x="313.65" y="121.26" width="11.05" height="5.38" fill="#8459b3"/><rect x="313.65" y="115.90" width="11.05" height="5.38" fill="#895bb1"/><rect x="313.65" y="110.54" width="11.05" height="5.38" fill="#7d56b6"/><rect x="313.65" y="105.17" width="11.05" height="5.38" fill="#7d55b7"/><rect x="313.65" y="99.81" width="11.05" height="5.38" fill="#7c55b7"/><rect x="313.65" y="94.45" width="11.05" height="5.38" fill="#7f57b5"/><rect x="313.65" y="89.08" width="11.05" height="5.38" fill="#885ab2"/><rect x="313.65" y="86.40" width="11.05" height="2.70" fill="#8559b3"/><rect x="324.68" y="464.52" width="11.05" height="2.70" fill="#eec852"/><rect x="324.68" y="459.15" width="11.05" height="5.38" fill="#e1a770"/><rect x="324.68" y="453.79" width="11.05" height="5.38" fill="#d8977e"/><rect x="324.68" y="448.43" width="11.05" height="5.38" fill="#cd878a"/><rect x="324.68" y="443.06" width="11.05" height="5.38" fill="#c47e91"/><rect x="324.68" y="437.70" width="11.05" height="5.38" fill="#b3729b"/><rect x="324.68" y="432.34" width="11.05" height="5.38" fill="#a96ca1"/><rect x="324.68" y="426.97" width="11.05" height="5.38" fill="#a66aa3"/><rect x="324.68" y="421.61" width="11.05" height="5.38" fill="#9661ab"/><rect x="324.68" y="416.25" width="11.05" height="5.38" fill="#7d55b7"/><rect x="324.68" y="410.88" width="11.05" height="5.38" fill="#8459b3"/><rect x="324.68" y="405.52" width="11.05" height="5.38" fill="#5a43c3"/><rect x="324.68" y="400.16" width="11.05" height="5.38" fill="#6046c1"/><rect x="324.68" y="394.79" width="11.05" height="5.38" fill="#5540c3"/><rect x="324.68" y="389.43" width="11.05" height="5.38" fill="#523dc3"/><rect x="324.68" y="384.07" width="11.05" height="5.38" fill="#5b44c3"/><rect x="324.68" y="378.70" width="11.05" height="5.38" fill="#4937c1"/><rect x="324.68" y="373.34" width="11.05" height="5.38" fill="#4a37c1"/><rect x="324.68" y="367.98" width="11.05" height="5.38" fill="#503cc2"/><rect x="324.68" y="362.61" width="11.05" height="5.38" fill="#3f2fb8"/><rect x="324.68" y="357.25" width="11.05" height="5.38" fill="#2d1f9b"/><rect x="324.68" y="351.89" width="11.05" height="5.38" fill="#3224a5"/><rect x="324.68" y="346.52" width="11.05" height="5.38" fill="#231785"/><rect x="324.68" y="341.16" width="11.05" height="5.38" fill="#291c93"/><rect x="324.68" y="335.80" width="11.05" height="5.38" fill="#3123a3"/><rect x="324.68" y="330.43" width="11.05" height="5.38" fill="#3c2cb4"/><rect x="324.68" y="325.07" width="11.05" height="5.38" fill="#271a8d"/><rect x="324.68" y="319.71" width="11.05" height="5.38" fill="#2b1d95"/><rect x="324.68" y="314.34" width="11.05" height="5.38" fill="#3224a5"/><rect x="324.68" y="308.98" width="11.05" height="5.38" fill="#2f219f"/><rect x="324.68" y="303.62" width="11.05" height="5.38" fill="#2f219e"/><rect x="324.68" y="298.25" width="11.05" height="5.38" fill="#3527ab"/><rect x="324.68" y="292.89" width="11.05" height="5.38" fill="#4d39c2"/><rect x="324.68" y="287.53" width="11.05" height="5.38" fill="#523dc3"/><rect x="324.68" y="282.16" width="11.05" height="5.38" fill="#4936c1"/><rect x="324.68" y="276.80" width="11.05" height="5.38" fill="#5d45c2"/><rect x="324.68" y="271.44" width="11.05" height="5.38" fill="#6a4cbd"/><rect x="324.68" y="266.07" width="11.05" height="5.38" fill="#6348c0"/><rect x="324.68" y="260.71" width="11.05" height="5.38" fill="#7853b9"/><rect x="324.68" y="255.35" width="11.05" height="5.38" fill="#8358b4"/><rect x="324.68" y="249.98" width="11.05" height="5.38" fill="#7752b9"/><rect x="324.68" y="244.62" width="11.05" height="5.38" fill="#7652b9"/><rect x="324.68" y="239.26" width="11.05" height="5.38" fill="#7652b9"/><rect x="324.68" y="233.89" width="11.05" height="5.38" fill="#7a54b8"/><rect x="324.68" y="228.53" width="11.05" height="5.38" fill="#8358b4"/><rect x="324.68" y="223.17" width="11.05" height="5.38" fill="#8559b3"/><rect x="324.68" y="217.80" width="11.05" height="5.38" fill="#8459b3"/><rect x="324.68" y="212.44" width="11.05" height="5.38" fill="#905eae"/><rect x="324.68" y="207.08" width="11.05" height="5.38" fill="#8057b5"/><rect x="324.68" y="201.71" width="11.05" height="5.38" fill="#8559b3"/><rect x="324.68" y="196.35" width="11.05" height="5.38" fill="#7853b9"/><rect x="324.68" y="190.99" width="11.05" height="5.38" fill="#8157b5"/><rect x="324.68" y="185.62" width="11.05" height="5.38" fill="#7652ba"/><rect x="324.68" y="180.26" width="11.05" height="5.38" fill="#7752b9"/><rect x="324.68" y="174.90" width="11.05" height="5.38" fill="#7a54b8"/><rect x="324.68" y="169.53" width="11.05" height="5.38" fill="#7753b9"/><rect x="324.68" y="164.17" width="11.05" height="5.38" fill="#7c55b7"/><rect x="324.68" y="158.81" width="11.05" height="5.38" fill="#7d56b6"/><rect x="324.68" y="153.44" width="11.05" height="5.38" fill="#7752b9"/><rect x="324.68" y="148.08" width="11.05" height="5.38" fill="#8358b4"/><rect x="324.68" y="142.72" width="11.05" height="5.38" fill="#7d55b7"/><rect x="324.68" y="137.35" width="11.05" height="5.38" fill="#7853b9"/><rect x="324.68" y="131.99" width="11.05" height="5.38" fill="#7b54b8"/><rect x="324.68" y="126.63" width="11.05" height="5.38" fill="#7652b9"/><rect x="324.68" y="121.26" width="11.05" height="5.38" fill="#7350ba"/><rect x="324.68" y="115.90" width="11.05" height="5.38" fill="#7c55b7"/><rect x="324.68" y="110.54" width="11.05" height="5.38" fill="#8358b4"/><rect x="324.68" y="105.17" width="11.05" height="5.38" fill="#7d55b7"/><rect x="324.68" y="99.81" width="11.05" height="5.38" fill="#8258b4"/><rect x="324.68" y="94.45" width="11.05" height="5.38" fill="#8157b5"/><rect x="324.68" y="89.08" width="11.05" height="5.38" fill="#8358b4"/><rect x="324.68" y="86.40" width="11.05" height="2.70" fill="#7a54b8"/><rect x="335.70" y="464.52" width="11.05" height="2.70" fill="#ecc258"/><rect x="335.70" y="459.15" width="11.05" height="5.38" fill="#dfa472"/><rect x="335.70" y="453.79" width="11.05" height="5.38" fill="#d8967e"/><rect x="335.70" y="448.43" width="11.05" height="5.38" fill="#cf8988"/><rect x="335.70" y="443.06" width="11.05" height="5.38" fill="#c7818f"/><rect x="335.70" y="437.70" width="11.05" height="5.38" fill="#b77499"/><rect x="335.70" y="432.34" width="11.05" height="5.38" fill="#b3729b"/><rect x="335.70" y="426.97" width="11.05" height="5.38" fill="#a96ca1"/><rect x="335.70" y="421.61" width="11.05" height="5.38" fill="#9f65a7"/><rect x="335.70" y="416.25" width="11.05" height="5.38" fill="#8459b3"/><rect x="335.70" y="410.88" width="11.05" height="5.38" fill="#6b4cbd"/><rect x="335.70" y="405.52" width="11.05" height="5.38" fill="#7451ba"/><rect x="335.70" y="400.16" width="11.05" height="5.38" fill="#5842c4"/><rect x="335.70" y="394.79" width="11.05" height="5.38" fill="#5c44c2"/><rect x="335.70" y="389.43" width="11.05" height="5.38" fill="#513cc2"/><rect x="335.70" y="384.07" width="11.05" height="5.38" fill="#543fc3"/><rect x="335.70" y="378.70" width="11.05" height="5.38" fill="#4432bd"/><rect x="335.70" y="373.34" width="11.05" height="5.38" fill="#3b2cb3"/><rect x="335.70" y="367.98" width="11.05" height="5.38" fill="#251889"/><rect x="335.70" y="362.61" width="11.05" height="5.38" fill="#4130ba"/><rect x="335.70" y="357.25" width="11.05" height="5.38" fill="#3c2db4"/><rect x="335.70" y="351.89" width="11.05" height="5.38" fill="#211682"/><rect x="335.70" y="346.52" width="11.05" height="5.38" fill="#221683"/><rect x="335.70" y="341.16" width="11.05" height="5.38" fill="#241887"/><rect x="335.70" y="335.80" width="11.05" height="5.38" fill="#1a1172"/><rect x="335.70" y="330.43" width="11.05" height="5.38" fill="#2f21a0"/><rect x="335.70" y="325.07" width="11.05" height="5.38" fill="#2c1e97"/><rect x="335.70" y="319.71" width="11.05" height="5.38" fill="#3022a1"/><rect x="335.70" y="314.34" width="11.05" height="5.38" fill="#402fb8"/><rect x="335.70" y="308.98" width="11.05" height="5.38" fill="#3b2bb2"/><rect x="335.70" y="303.62" width="11.05" height="5.38" fill="#3b2bb2"/><rect x="335.70" y="298.25" width="11.05" height="5.38" fill="#533ec3"/><rect x="335.70" y="292.89" width="11.05" height="5.38" fill="#5d44c2"/><rect x="335.70" y="287.53" width="11.05" height="5.38" fill="#5842c4"/><rect x="335.70" y="282.16" width="11.05" height="5.38" fill="#6649bf"/><rect x="335.70" y="276.80" width="11.05" height="5.38" fill="#6046c1"/><rect x="335.70" y="271.44" width="11.05" height="5.38" fill="#6247c0"/><rect x="335.70" y="266.07" width="11.05" height="5.38" fill="#7b55b7"/><rect x="335.70" y="260.71" width="11.05" height="5.38" fill="#704fbb"/><rect x="335.70" y="255.35" width="11.05" height="5.38" fill="#8057b5"/><rect x="335.70" y="249.98" width="11.05" height="5.38" fill="#7953b8"/><rect x="335.70" y="244.62" width="11.05" height="5.38" fill="#7c55b7"/><rect x="335.70" y="239.26" width="11.05" height="5.38" fill="#6147c1"/><rect x="335.70" y="233.89" width="11.05" height="5.38" fill="#6f4ebc"/><rect x="335.70" y="228.53" width="11.05" height="5.38" fill="#7552ba"/><rect x="335.70" y="223.17" width="11.05" height="5.38" fill="#6549c0"/><rect x="335.70" y="217.80" width="11.05" height="5.38" fill="#714fbb"/><rect x="335.70" y="212.44" width="11.05" height="5.38" fill="#6d4dbd"/><rect x="335.70" y="207.08" width="11.05" height="5.38" fill="#7953b8"/><rect x="335.70" y="201.71" width="11.05" height="5.38" fill="#7e56b6"/><rect x="335.70" y="196.35" width="11.05" height="5.38" fill="#7350ba"/><rect x="335.70" y="190.99" width="11.05" height="5.38" fill="#8057b5"/><rect x="335.70" y="185.62" width="11.05" height="5.38" fill="#8057b5"/><rect x="335.70" y="180.26" width="11.05" height="5.38" fill="#865ab2"/><rect x="335.70" y="174.90" width="11.05" height="5.38" fill="#7f56b6"/><rect x="335.70" y="169.53" width="11.05" height="5.38" fill="#7d55b7"/><rect x="335.70" y="164.17" width="11.05" height="5.38" fill="#8057b5"/><rect x="335.70" y="158.81" width="11.05" height="5.38" fill="#7d55b7"/><rect x="335.70" y="153.44" width="11.05" height="5.38" fill="#8157b5"/><rect x="335.70" y="148.08" width="11.05" height="5.38" fill="#8258b4"/><rect x="335.70" y="142.72" width="11.05" height="5.38" fill="#895bb1"/><rect x="335.70" y="137.35" width="11.05" height="5.38" fill="#714fbb"/><rect x="335.70" y="131.99" width="11.05" height="5.38" fill="#7a54b8"/><rect x="335.70" y="126.63" width="11.05" height="5.38" fill="#7954b8"/><rect x="335.70" y="121.26" width="11.05" height="5.38" fill="#684bbe"/><rect x="335.70" y="115.90" width="11.05" height="5.38" fill="#5e45c2"/><rect x="335.70" y="110.54" width="11.05" height="5.38" fill="#6649bf"/><rect x="335.70" y="105.17" width="11.05" height="5.38" fill="#6348c0"/><rect x="335.70" y="99.81" width="11.05" height="5.38" fill="#6248c0"/><rect x="335.70" y="94.45" width="11.05" height="5.38" fill="#684abe"/><rect x="335.70" y="89.08" width="11.05" height="5.38" fill="#5c44c3"/><rect x="335.70" y="86.40" width="11.05" height="2.70" fill="#5e45c2"/><rect x="346.73" y="464.52" width="11.05" height="2.70" fill="#eec753"/><rect x="346.73" y="459.15" width="11.05" height="5.38" fill="#dfa473"/><rect x="346.73" y="453.79" width="11.05" height="5.38" fill="#d79480"/><rect x="346.73" y="448.43" width="11.05" height="5.38" fill="#cc868a"/><rect x="346.73" y="443.06" width="11.05" height="5.38" fill="#bf7995"/><rect x="346.73" y="437.70" width="11.05" height="5.38" fill="#b0709d"/><rect x="346.73" y="432.34" width="11.05" height="5.38" fill="#a669a3"/><rect x="346.73" y="426.97" width="11.05" height="5.38" fill="#9f66a6"/><rect x="346.73" y="421.61" width="11.05" height="5.38" fill="#895bb1"/><rect x="346.73" y="416.25" width="11.05" height="5.38" fill="#8158b4"/><rect x="346.73" y="410.88" width="11.05" height="5.38" fill="#694bbe"/><rect x="346.73" y="405.52" width="11.05" height="5.38" fill="#7250bb"/><rect x="346.73" y="400.16" width="11.05" height="5.38" fill="#5742c4"/><rect x="346.73" y="394.79" width="11.05" height="5.38" fill="#694bbe"/><rect x="346.73" y="389.43" width="11.05" height="5.38" fill="#4432be"/><rect x="346.73" y="384.07" width="11.05" height="5.38" fill="#553fc3"/><rect x="346.73" y="378.70" width="11.05" height="5.38" fill="#3628ac"/><rect x="346.73" y="373.34" width="11.05" height="5.38" fill="#4c39c1"/><rect x="346.73" y="367.98" width="11.05" height="5.38" fill="#3325a9"/><rect x="346.73" y="362.61" width="11.05" height="5.38" fill="#3627ac"/><rect x="346.73" y="357.25" width="11.05" height="5.38" fill="#2d1f9a"/><rect x="346.73" y="351.89" width="11.05" height="5.38" fill="#251889"/><rect x="346.73" y="346.52" width="11.05" height="5.38" fill="#291c93"/><rect x="346.73" y="341.16" width="11.05" height="5.38" fill="#291b92"/><rect x="346.73" y="335.80" width="11.05" height="5.38" fill="#291b92"/><rect x="346.73" y="330.43" width="11.05" height="5.38" fill="#231785"/><rect x="346.73" y="325.07" width="11.05" height="5.38" fill="#3325a8"/><rect x="346.73" y="319.71" width="11.05" height="5.38" fill="#291b92"/><rect x="346.73" y="314.34" width="11.05" height="5.38" fill="#3f2fb8"/><rect x="346.73" y="308.98" width="11.05" height="5.38" fill="#3d2db5"/><rect x="346.73" y="303.62" width="11.05" height="5.38" fill="#5b43c3"/><rect x="346.73" y="298.25" width="11.05" height="5.38" fill="#4533bf"/><rect x="346.73" y="292.89" width="11.05" height="5.38" fill="#5640c4"/><rect x="346.73" y="287.53" width="11.05" height="5.38" fill="#5942c4"/><rect x="346.73" y="282.16" width="11.05" height="5.38" fill="#7853b9"/><rect x="346.73" y="276.80" width="11.05" height="5.38" fill="#5741c4"/><rect x="346.73" y="271.44" width="11.05" height="5.38" fill="#5842c4"/><rect x="346.73" y="266.07" width="11.05" height="5.38" fill="#7250bb"/><rect x="346.73" y="260.71" width="11.05" height="5.38" fill="#8459b3"/><rect x="346.73" y="255.35" width="11.05" height="5.38" fill="#875ab2"/><rect x="346.73" y="249.98" width="11.05" height="5.38" fill="#8559b3"/><rect x="346.73" y="244.62" width="11.05" height="5.38" fill="#7b54b8"/><rect x="346.73" y="239.26" width="11.05" height="5.38" fill="#7c55b7"/><rect x="346.73" y="233.89" width="11.05" height="5.38" fill="#7b54b8"/><rect x="346.73" y="228.53" width="11.05" height="5.38" fill="#8f5eae"/><rect x="346.73" y="223.17" width="11.05" height="5.38" fill="#7250bb"/><rect x="346.73" y="217.80" width="11.05" height="5.38" fill="#885bb1"/><rect x="346.73" y="212.44" width="11.05" height="5.38" fill="#7e56b6"/><rect x="346.73" y="207.08" width="11.05" height="5.38" fill="#7e56b6"/><rect x="346.73" y="201.71" width="11.05" height="5.38" fill="#875ab2"/><rect x="346.73" y="196.35" width="11.05" height="5.38" fill="#7c55b7"/><rect x="346.73" y="190.99" width="11.05" height="5.38" fill="#885ab2"/><rect x="346.73" y="185.62" width="11.05" height="5.38" fill="#7c55b7"/><rect x="346.73" y="180.26" width="11.05" height="5.38" fill="#7752b9"/><rect x="346.73" y="174.90" width="11.05" height="5.38" fill="#6d4dbd"/><rect x="346.73" y="169.53" width="11.05" height="5.38" fill="#7953b8"/><rect x="346.73" y="164.17" width="11.05" height="5.38" fill="#714fbb"/><rect x="346.73" y="158.81" width="11.05" height="5.38" fill="#7250bb"/><rect x="346.73" y="153.44" width="11.05" height="5.38" fill="#7451ba"/><rect x="346.73" y="148.08" width="11.05" height="5.38" fill="#6e4ebc"/><rect x="346.73" y="142.72" width="11.05" height="5.38" fill="#714fbb"/><rect x="346.73" y="137.35" width="11.05" height="5.38" fill="#6247c1"/><rect x="346.73" y="131.99" width="11.05" height="5.38" fill="#714fbb"/><rect x="346.73" y="126.63" width="11.05" height="5.38" fill="#7551ba"/><rect x="346.73" y="121.26" width="11.05" height="5.38" fill="#7551ba"/><rect x="346.73" y="115.90" width="11.05" height="5.38" fill="#7350bb"/><rect x="346.73" y="110.54" width="11.05" height="5.38" fill="#704fbb"/><rect x="346.73" y="105.17" width="11.05" height="5.38" fill="#674abf"/><rect x="346.73" y="99.81" width="11.05" height="5.38" fill="#714fbb"/><rect x="346.73" y="94.45" width="11.05" height="5.38" fill="#6649bf"/><rect x="346.73" y="89.08" width="11.05" height="5.38" fill="#7350bb"/><rect x="346.73" y="86.40" width="11.05" height="2.70" fill="#5d45c2"/><rect x="357.76" y="464.52" width="11.05" height="2.70" fill="#ecc357"/><rect x="357.76" y="459.15" width="11.05" height="5.38" fill="#dda176"/><rect x="357.76" y="453.79" width="11.05" height="5.38" fill="#d49083"/><rect x="357.76" y="448.43" width="11.05" height="5.38" fill="#c9838d"/><rect x="357.76" y="443.06" width="11.05" height="5.38" fill="#b97698"/><rect x="357.76" y="437.70" width="11.05" height="5.38" fill="#a066a6"/><rect x="357.76" y="432.34" width="11.05" height="5.38" fill="#9661ab"/><rect x="357.76" y="426.97" width="11.05" height="5.38" fill="#9260ac"/><rect x="357.76" y="421.61" width="11.05" height="5.38" fill="#7d56b6"/><rect x="357.76" y="416.25" width="11.05" height="5.38" fill="#7752b9"/><rect x="357.76" y="410.88" width="11.05" height="5.38" fill="#6247c0"/><rect x="357.76" y="405.52" width="11.05" height="5.38" fill="#5741c4"/><rect x="357.76" y="400.16" width="11.05" height="5.38" fill="#6247c0"/><rect x="357.76" y="394.79" width="11.05" height="5.38" fill="#503cc2"/><rect x="357.76" y="389.43" width="11.05" height="5.38" fill="#4b38c1"/><rect x="357.76" y="384.07" width="11.05" height="5.38" fill="#4634c0"/><rect x="357.76" y="378.70" width="11.05" height="5.38" fill="#3628ad"/><rect x="357.76" y="373.34" width="11.05" height="5.38" fill="#3426aa"/><rect x="357.76" y="367.98" width="11.05" height="5.38" fill="#2a1c95"/><rect x="357.76" y="362.61" width="11.05" height="5.38" fill="#281b90"/><rect x="357.76" y="357.25" width="11.05" height="5.38" fill="#26198c"/><rect x="357.76" y="351.89" width="11.05" height="5.38" fill="#3123a3"/><rect x="357.76" y="346.52" width="11.05" height="5.38" fill="#271a8d"/><rect x="357.76" y="341.16" width="11.05" height="5.38" fill="#2d1f9a"/><rect x="357.76" y="335.80" width="11.05" height="5.38" fill="#26198c"/><rect x="357.76" y="330.43" width="11.05" height="5.38" fill="#291b92"/><rect x="357.76" y="325.07" width="11.05" height="5.38" fill="#2f21a0"/><rect x="357.76" y="319.71" width="11.05" height="5.38" fill="#25198a"/><rect x="357.76" y="314.34" width="11.05" height="5.38" fill="#3527ac"/><rect x="357.76" y="308.98" width="11.05" height="5.38" fill="#3829af"/><rect x="357.76" y="303.62" width="11.05" height="5.38" fill="#513cc2"/><rect x="357.76" y="298.25" width="11.05" height="5.38" fill="#714fbb"/><rect x="357.76" y="292.89" width="11.05" height="5.38" fill="#7551ba"/><rect x="357.76" y="287.53" width="11.05" height="5.38" fill="#7350bb"/><rect x="357.76" y="282.16" width="11.05" height="5.38" fill="#885bb1"/><rect x="357.76" y="276.80" width="11.05" height="5.38" fill="#7f56b6"/><rect x="357.76" y="271.44" width="11.05" height="5.38" fill="#875ab2"/><rect x="357.76" y="266.07" width="11.05" height="5.38" fill="#8d5daf"/><rect x="357.76" y="260.71" width="11.05" height="5.38" fill="#895bb1"/><rect x="357.76" y="255.35" width="11.05" height="5.38" fill="#9561ab"/><rect x="357.76" y="249.98" width="11.05" height="5.38" fill="#6f4ebc"/><rect x="357.76" y="244.62" width="11.05" height="5.38" fill="#8b5cb0"/><rect x="357.76" y="239.26" width="11.05" height="5.38" fill="#7853b9"/><rect x="357.76" y="233.89" width="11.05" height="5.38" fill="#875ab2"/><rect x="357.76" y="228.53" width="11.05" height="5.38" fill="#8459b3"/><rect x="357.76" y="223.17" width="11.05" height="5.38" fill="#7a54b8"/><rect x="357.76" y="217.80" width="11.05" height="5.38" fill="#8b5cb0"/><rect x="357.76" y="212.44" width="11.05" height="5.38" fill="#8c5cb0"/><rect x="357.76" y="207.08" width="11.05" height="5.38" fill="#8b5cb0"/><rect x="357.76" y="201.71" width="11.05" height="5.38" fill="#7e56b6"/><rect x="357.76" y="196.35" width="11.05" height="5.38" fill="#7e56b6"/><rect x="357.76" y="190.99" width="11.05" height="5.38" fill="#7853b9"/><rect x="357.76" y="185.62" width="11.05" height="5.38" fill="#7652b9"/><rect x="357.76" y="180.26" width="11.05" height="5.38" fill="#6f4ebc"/><rect x="357.76" y="174.90" width="11.05" height="5.38" fill="#6f4ebc"/><rect x="357.76" y="169.53" width="11.05" height="5.38" fill="#7853b9"/><rect x="357.76" y="164.17" width="11.05" height="5.38" fill="#684bbe"/><rect x="357.76" y="158.81" width="11.05" height="5.38" fill="#714fbb"/><rect x="357.76" y="153.44" width="11.05" height="5.38" fill="#5741c4"/><rect x="357.76" y="148.08" width="11.05" height="5.38" fill="#6d4dbc"/><rect x="357.76" y="142.72" width="11.05" height="5.38" fill="#5f46c1"/><rect x="357.76" y="137.35" width="11.05" height="5.38" fill="#7350bb"/><rect x="357.76" y="131.99" width="11.05" height="5.38" fill="#664abf"/><rect x="357.76" y="126.63" width="11.05" height="5.38" fill="#674abf"/><rect x="357.76" y="121.26" width="11.05" height="5.38" fill="#5f46c2"/><rect x="357.76" y="115.90" width="11.05" height="5.38" fill="#5f46c2"/><rect x="357.76" y="110.54" width="11.05" height="5.38" fill="#6e4ebc"/><rect x="357.76" y="105.17" width="11.05" height="5.38" fill="#664abf"/><rect x="357.76" y="99.81" width="11.05" height="5.38" fill="#6348c0"/><rect x="357.76" y="94.45" width="11.05" height="5.38" fill="#6448c0"/><rect x="357.76" y="89.08" width="11.05" height="5.38" fill="#694bbe"/><rect x="357.76" y="86.40" width="11.05" height="2.70" fill="#694bbe"/><rect x="368.78" y="464.52" width="11.05" height="2.70" fill="#ebc158"/><rect x="368.78" y="459.15" width="11.05" height="5.38" fill="#dda077"/><rect x="368.78" y="453.79" width="11.05" height="5.38" fill="#d59182"/><rect x="368.78" y="448.43" width="11.05" height="5.38" fill="#ca848c"/><rect x="368.78" y="443.06" width="11.05" height="5.38" fill="#b1719c"/><rect x="368.78" y="437.70" width="11.05" height="5.38" fill="#9762aa"/><rect x="368.78" y="432.34" width="11.05" height="5.38" fill="#9862aa"/><rect x="368.78" y="426.97" width="11.05" height="5.38" fill="#8f5eae"/><rect x="368.78" y="421.61" width="11.05" height="5.38" fill="#8057b5"/><rect x="368.78" y="416.25" width="11.05" height="5.38" fill="#7f56b6"/><rect x="368.78" y="410.88" width="11.05" height="5.38" fill="#7b55b7"/><rect x="368.78" y="405.52" width="11.05" height="5.38" fill="#6448c0"/><rect x="368.78" y="400.16" width="11.05" height="5.38" fill="#6449c0"/><rect x="368.78" y="394.79" width="11.05" height="5.38" fill="#5f46c1"/><rect x="368.78" y="389.43" width="11.05" height="5.38" fill="#533ec3"/><rect x="368.78" y="384.07" width="11.05" height="5.38" fill="#4735c0"/><rect x="368.78" y="378.70" width="11.05" height="5.38" fill="#3f2eb7"/><rect x="368.78" y="373.34" width="11.05" height="5.38" fill="#3f2fb8"/><rect x="368.78" y="367.98" width="11.05" height="5.38" fill="#3325a8"/><rect x="368.78" y="362.61" width="11.05" height="5.38" fill="#3728ae"/><rect x="368.78" y="357.25" width="11.05" height="5.38" fill="#3022a1"/><rect x="368.78" y="351.89" width="11.05" height="5.38" fill="#26198b"/><rect x="368.78" y="346.52" width="11.05" height="5.38" fill="#3f2fb7"/><rect x="368.78" y="341.16" width="11.05" height="5.38" fill="#2b1d96"/><rect x="368.78" y="335.80" width="11.05" height="5.38" fill="#20157e"/><rect x="368.78" y="330.43" width="11.05" height="5.38" fill="#281a8f"/><rect x="368.78" y="325.07" width="11.05" height="5.38" fill="#3829af"/><rect x="368.78" y="319.71" width="11.05" height="5.38" fill="#3f2eb7"/><rect x="368.78" y="314.34" width="11.05" height="5.38" fill="#3123a4"/><rect x="368.78" y="308.98" width="11.05" height="5.38" fill="#5b44c3"/><rect x="368.78" y="303.62" width="11.05" height="5.38" fill="#4231bb"/><rect x="368.78" y="298.25" width="11.05" height="5.38" fill="#6247c1"/><rect x="368.78" y="292.89" width="11.05" height="5.38" fill="#5540c3"/><rect x="368.78" y="287.53" width="11.05" height="5.38" fill="#4f3bc2"/><rect x="368.78" y="282.16" width="11.05" height="5.38" fill="#6a4bbe"/><rect x="368.78" y="276.80" width="11.05" height="5.38" fill="#5a43c3"/><rect x="368.78" y="271.44" width="11.05" height="5.38" fill="#8459b3"/><rect x="368.78" y="266.07" width="11.05" height="5.38" fill="#8a5cb0"/><rect x="368.78" y="260.71" width="11.05" height="5.38" fill="#7b55b7"/><rect x="368.78" y="255.35" width="11.05" height="5.38" fill="#8057b5"/><rect x="368.78" y="249.98" width="11.05" height="5.38" fill="#8559b3"/><rect x="368.78" y="244.62" width="11.05" height="5.38" fill="#7250bb"/><rect x="368.78" y="239.26" width="11.05" height="5.38" fill="#7a54b8"/><rect x="368.78" y="233.89" width="11.05" height="5.38" fill="#7d55b7"/><rect x="368.78" y="228.53" width="11.05" height="5.38" fill="#7b54b8"/><rect x="368.78" y="223.17" width="11.05" height="5.38" fill="#6e4ebc"/><rect x="368.78" y="217.80" width="11.05" height="5.38" fill="#6a4bbe"/><rect x="368.78" y="212.44" width="11.05" height="5.38" fill="#6449c0"/><rect x="368.78" y="207.08" width="11.05" height="5.38" fill="#664abf"/><rect x="368.78" y="201.71" width="11.05" height="5.38" fill="#694bbe"/><rect x="368.78" y="196.35" width="11.05" height="5.38" fill="#7d55b7"/><rect x="368.78" y="190.99" width="11.05" height="5.38" fill="#7953b8"/><rect x="368.78" y="185.62" width="11.05" height="5.38" fill="#5f46c2"/><rect x="368.78" y="180.26" width="11.05" height="5.38" fill="#6a4bbe"/><rect x="368.78" y="174.90" width="11.05" height="5.38" fill="#684abe"/><rect x="368.78" y="169.53" width="11.05" height="5.38" fill="#6b4cbd"/><rect x="368.78" y="164.17" width="11.05" height="5.38" fill="#674abf"/><rect x="368.78" y="158.81" width="11.05" height="5.38" fill="#684abe"/><rect x="368.78" y="153.44" width="11.05" height="5.38" fill="#5641c4"/><rect x="368.78" y="148.08" width="11.05" height="5.38" fill="#5d45c2"/><rect x="368.78" y="142.72" width="11.05" height="5.38" fill="#6147c1"/><rect x="368.78" y="137.35" width="11.05" height="5.38" fill="#6448c0"/><rect x="368.78" y="131.99" width="11.05" height="5.38" fill="#674abf"/><rect x="368.78" y="126.63" width="11.05" height="5.38" fill="#6348c0"/><rect x="368.78" y="121.26" width="11.05" height="5.38" fill="#6a4cbe"/><rect x="368.78" y="115.90" width="11.05" height="5.38" fill="#6a4bbe"/><rect x="368.78" y="110.54" width="11.05" height="5.38" fill="#6448c0"/><rect x="368.78" y="105.17" width="11.05" height="5.38" fill="#6a4bbe"/><rect x="368.78" y="99.81" width="11.05" height="5.38" fill="#7a54b8"/><rect x="368.78" y="94.45" width="11.05" height="5.38" fill="#5842c4"/><rect x="368.78" y="89.08" width="11.05" height="5.38" fill="#5a43c3"/><rect x="368.78" y="86.40" width="11.05" height="2.70" fill="#6549bf"/><rect x="379.81" y="464.52" width="11.05" height="2.70" fill="#ecc257"/><rect x="379.81" y="459.15" width="11.05" height="5.38" fill="#dd9f77"/><rect x="379.81" y="453.79" width="11.05" height="5.38" fill="#d28d86"/><rect x="379.81" y="448.43" width="11.05" height="5.38" fill="#c6808f"/><rect x="379.81" y="443.06" width="11.05" height="5.38" fill="#b5739a"/><rect x="379.81" y="437.70" width="11.05" height="5.38" fill="#9461ab"/><rect x="379.81" y="432.34" width="11.05" height="5.38" fill="#885ab2"/><rect x="379.81" y="426.97" width="11.05" height="5.38" fill="#7e56b6"/><rect x="379.81" y="421.61" width="11.05" height="5.38" fill="#694bbe"/><rect x="379.81" y="416.25" width="11.05" height="5.38" fill="#6247c0"/><rect x="379.81" y="410.88" width="11.05" height="5.38" fill="#6448c0"/><rect x="379.81" y="405.52" width="11.05" height="5.38" fill="#6a4cbe"/><rect x="379.81" y="400.16" width="11.05" height="5.38" fill="#6448c0"/><rect x="379.81" y="394.79" width="11.05" height="5.38" fill="#4f3bc2"/><rect x="379.81" y="389.43" width="11.05" height="5.38" fill="#4634c0"/><rect x="379.81" y="384.07" width="11.05" height="5.38" fill="#3b2cb3"/><rect x="379.81" y="378.70" width="11.05" height="5.38" fill="#2c1e99"/><rect x="379.81" y="373.34" width="11.05" height="5.38" fill="#2f219f"/><rect x="379.81" y="367.98" width="11.05" height="5.38" fill="#1d1379"/><rect x="379.81" y="362.61" width="11.05" height="5.38" fill="#2a1c94"/><rect x="379.81" y="357.25" width="11.05" height="5.38" fill="#26198b"/><rect x="379.81" y="351.89" width="11.05" height="5.38" fill="#291b91"/><rect x="379.81" y="346.52" width="11.05" height="5.38" fill="#3325a8"/><rect x="379.81" y="341.16" width="11.05" height="5.38" fill="#221682"/><rect x="379.81" y="335.80" width="11.05" height="5.38" fill="#2a1c94"/><rect x="379.81" y="330.43" width="11.05" height="5.38" fill="#291b92"/><rect x="379.81" y="325.07" width="11.05" height="5.38" fill="#281b90"/><rect x="379.81" y="319.71" width="11.05" height="5.38" fill="#281b90"/><rect x="379.81" y="314.34" width="11.05" height="5.38" fill="#3728ad"/><rect x="379.81" y="308.98" width="11.05" height="5.38" fill="#5c44c3"/><rect x="379.81" y="303.62" width="11.05" height="5.38" fill="#533ec3"/><rect x="379.81" y="298.25" width="11.05" height="5.38" fill="#6f4ebc"/><rect x="379.81" y="292.89" width="11.05" height="5.38" fill="#5d44c2"/><rect x="379.81" y="287.53" width="11.05" height="5.38" fill="#714fbb"/><rect x="379.81" y="282.16" width="11.05" height="5.38" fill="#6649bf"/><rect x="379.81" y="276.80" width="11.05" height="5.38" fill="#7451ba"/><rect x="379.81" y="271.44" width="11.05" height="5.38" fill="#7b55b7"/><rect x="379.81" y="266.07" width="11.05" height="5.38" fill="#9260ac"/><rect x="379.81" y="260.71" width="11.05" height="5.38" fill="#9561ab"/><rect x="379.81" y="255.35" width="11.05" height="5.38" fill="#7f56b6"/><rect x="379.81" y="249.98" width="11.05" height="5.38" fill="#8e5daf"/><rect x="379.81" y="244.62" width="11.05" height="5.38" fill="#7652b9"/><rect x="379.81" y="239.26" width="11.05" height="5.38" fill="#a368a4"/><rect x="379.81" y="233.89" width="11.05" height="5.38" fill="#895bb1"/><rect x="379.81" y="228.53" width="11.05" height="5.38" fill="#7853b9"/><rect x="379.81" y="223.17" width="11.05" height="5.38" fill="#7551ba"/><rect x="379.81" y="217.80" width="11.05" height="5.38" fill="#6549bf"/><rect x="379.81" y="212.44" width="11.05" height="5.38" fill="#694bbe"/><rect x="379.81" y="207.08" width="11.05" height="5.38" fill="#7652b9"/><rect x="379.81" y="201.71" width="11.05" height="5.38" fill="#7b54b8"/><rect x="379.81" y="196.35" width="11.05" height="5.38" fill="#7b54b8"/><rect x="379.81" y="190.99" width="11.05" height="5.38" fill="#6649bf"/><rect x="379.81" y="185.62" width="11.05" height="5.38" fill="#664abf"/><rect x="379.81" y="180.26" width="11.05" height="5.38" fill="#5943c4"/><rect x="379.81" y="174.90" width="11.05" height="5.38" fill="#5e45c2"/><rect x="379.81" y="169.53" width="11.05" height="5.38" fill="#6448c0"/><rect x="379.81" y="164.17" width="11.05" height="5.38" fill="#704fbb"/><rect x="379.81" y="158.81" width="11.05" height="5.38" fill="#5e45c2"/><rect x="379.81" y="153.44" width="11.05" height="5.38" fill="#664abf"/><rect x="379.81" y="148.08" width="11.05" height="5.38" fill="#7451ba"/><rect x="379.81" y="142.72" width="11.05" height="5.38" fill="#5b44c3"/><rect x="379.81" y="137.35" width="11.05" height="5.38" fill="#6448c0"/><rect x="379.81" y="131.99" width="11.05" height="5.38" fill="#6f4ebc"/><rect x="379.81" y="126.63" width="11.05" height="5.38" fill="#5f46c2"/><rect x="379.81" y="121.26" width="11.05" height="5.38" fill="#6147c1"/><rect x="379.81" y="115.90" width="11.05" height="5.38" fill="#6549c0"/><rect x="379.81" y="110.54" width="11.05" height="5.38" fill="#5741c4"/><rect x="379.81" y="105.17" width="11.05" height="5.38" fill="#6247c1"/><rect x="379.81" y="99.81" width="11.05" height="5.38" fill="#5a43c3"/><rect x="379.81" y="94.45" width="11.05" height="5.38" fill="#4d3ac2"/><rect x="379.81" y="89.08" width="11.05" height="5.38" fill="#513cc2"/><rect x="379.81" y="86.40" width="11.05" height="2.70" fill="#553fc3"/><rect x="390.84" y="464.52" width="11.05" height="2.70" fill="#eabe5b"/><rect x="390.84" y="459.15" width="11.05" height="5.38" fill="#dc9e78"/><rect x="390.84" y="453.79" width="11.05" height="5.38" fill="#d38e85"/><rect x="390.84" y="448.43" width="11.05" height="5.38" fill="#c57f90"/><rect x="390.84" y="443.06" width="11.05" height="5.38" fill="#af6f9e"/><rect x="390.84" y="437.70" width="11.05" height="5.38" fill="#905eae"/><rect x="390.84" y="432.34" width="11.05" height="5.38" fill="#8459b3"/><rect x="390.84" y="426.97" width="11.05" height="5.38" fill="#694bbe"/><rect x="390.84" y="421.61" width="11.05" height="5.38" fill="#6d4dbd"/><rect x="390.84" y="416.25" width="11.05" height="5.38" fill="#5a43c3"/><rect x="390.84" y="410.88" width="11.05" height="5.38" fill="#5640c3"/><rect x="390.84" y="405.52" width="11.05" height="5.38" fill="#543fc3"/><rect x="390.84" y="400.16" width="11.05" height="5.38" fill="#553fc3"/><rect x="390.84" y="394.79" width="11.05" height="5.38" fill="#3a2bb1"/><rect x="390.84" y="389.43" width="11.05" height="5.38" fill="#4c38c1"/><rect x="390.84" y="384.07" width="11.05" height="5.38" fill="#4231bc"/><rect x="390.84" y="378.70" width="11.05" height="5.38" fill="#2a1c95"/><rect x="390.84" y="373.34" width="11.05" height="5.38" fill="#2c1e98"/><rect x="390.84" y="367.98" width="11.05" height="5.38" fill="#2c1e99"/><rect x="390.84" y="362.61" width="11.05" height="5.38" fill="#2a1c95"/><rect x="390.84" y="357.25" width="11.05" height="5.38" fill="#231785"/><rect x="390.84" y="351.89" width="11.05" height="5.38" fill="#2c1e97"/><rect x="390.84" y="346.52" width="11.05" height="5.38" fill="#221683"/><rect x="390.84" y="341.16" width="11.05" height="5.38" fill="#3022a1"/><rect x="390.84" y="335.80" width="11.05" height="5.38" fill="#2d1f9c"/><rect x="390.84" y="330.43" width="11.05" height="5.38" fill="#2b1d96"/><rect x="390.84" y="325.07" width="11.05" height="5.38" fill="#2e209d"/><rect x="390.84" y="319.71" width="11.05" height="5.38" fill="#3829af"/><rect x="390.84" y="314.34" width="11.05" height="5.38" fill="#392ab0"/><rect x="390.84" y="308.98" width="11.05" height="5.38" fill="#4332bc"/><rect x="390.84" y="303.62" width="11.05" height="5.38" fill="#4b38c1"/><rect x="390.84" y="298.25" width="11.05" height="5.38" fill="#5942c4"/><rect x="390.84" y="292.89" width="11.05" height="5.38" fill="#6b4cbd"/><rect x="390.84" y="287.53" width="11.05" height="5.38" fill="#7350bb"/><rect x="390.84" y="282.16" width="11.05" height="5.38" fill="#6247c0"/><rect x="390.84" y="276.80" width="11.05" height="5.38" fill="#8157b5"/><rect x="390.84" y="271.44" width="11.05" height="5.38" fill="#7b55b7"/><rect x="390.84" y="266.07" width="11.05" height="5.38" fill="#905eae"/><rect x="390.84" y="260.71" width="11.05" height="5.38" fill="#8158b4"/><rect x="390.84" y="255.35" width="11.05" height="5.38" fill="#925fad"/><rect x="390.84" y="249.98" width="11.05" height="5.38" fill="#6a4cbe"/><rect x="390.84" y="244.62" width="11.05" height="5.38" fill="#8057b5"/><rect x="390.84" y="239.26" width="11.05" height="5.38" fill="#6348c0"/><rect x="390.84" y="233.89" width="11.05" height="5.38" fill="#7752b9"/><rect x="390.84" y="228.53" width="11.05" height="5.38" fill="#7f56b6"/><rect x="390.84" y="223.17" width="11.05" height="5.38" fill="#6348c0"/><rect x="390.84" y="217.80" width="11.05" height="5.38" fill="#7954b8"/><rect x="390.84" y="212.44" width="11.05" height="5.38" fill="#6649bf"/><rect x="390.84" y="207.08" width="11.05" height="5.38" fill="#5a43c3"/><rect x="390.84" y="201.71" width="11.05" height="5.38" fill="#6046c1"/><rect x="390.84" y="196.35" width="11.05" height="5.38" fill="#5e45c2"/><rect x="390.84" y="190.99" width="11.05" height="5.38" fill="#5641c4"/><rect x="390.84" y="185.62" width="11.05" height="5.38" fill="#5f46c2"/><rect x="390.84" y="180.26" width="11.05" height="5.38" fill="#5d45c2"/><rect x="390.84" y="174.90" width="11.05" height="5.38" fill="#5943c4"/><rect x="390.84" y="169.53" width="11.05" height="5.38" fill="#6247c0"/><rect x="390.84" y="164.17" width="11.05" height="5.38" fill="#5540c3"/><rect x="390.84" y="158.81" width="11.05" height="5.38" fill="#6f4ebc"/><rect x="390.84" y="153.44" width="11.05" height="5.38" fill="#6147c1"/><rect x="390.84" y="148.08" width="11.05" height="5.38" fill="#5e45c2"/><rect x="390.84" y="142.72" width="11.05" height="5.38" fill="#6046c1"/><rect x="390.84" y="137.35" width="11.05" height="5.38" fill="#5741c4"/><rect x="390.84" y="131.99" width="11.05" height="5.38" fill="#6e4dbc"/><rect x="390.84" y="126.63" width="11.05" height="5.38" fill="#6247c1"/><rect x="390.84" y="121.26" width="11.05" height="5.38" fill="#684abf"/><rect x="390.84" y="115.90" width="11.05" height="5.38" fill="#5842c4"/><rect x="390.84" y="110.54" width="11.05" height="5.38" fill="#5742c4"/><rect x="390.84" y="105.17" width="11.05" height="5.38" fill="#5942c4"/><rect x="390.84" y="99.81" width="11.05" height="5.38" fill="#6046c1"/><rect x="390.84" y="94.45" width="11.05" height="5.38" fill="#5942c4"/><rect x="390.84" y="89.08" width="11.05" height="5.38" fill="#5942c4"/><rect x="390.84" y="86.40" width="11.05" height="2.70" fill="#553fc3"/><rect x="401.86" y="464.52" width="11.05" height="2.70" fill="#eabd5c"/><rect x="401.86" y="459.15" width="11.05" height="5.38" fill="#dc9f77"/><rect x="401.86" y="453.79" width="11.05" height="5.38" fill="#d49083"/><rect x="401.86" y="448.43" width="11.05" height="5.38" fill="#c6808f"/><rect x="401.86" y="443.06" width="11.05" height="5.38" fill="#ac6e9f"/><rect x="401.86" y="437.70" width="11.05" height="5.38" fill="#9360ac"/><rect x="401.86" y="432.34" width="11.05" height="5.38" fill="#8157b5"/><rect x="401.86" y="426.97" width="11.05" height="5.38" fill="#6e4ebc"/><rect x="401.86" y="421.61" width="11.05" height="5.38" fill="#6448c0"/><rect x="401.86" y="416.25" width="11.05" height="5.38" fill="#533ec3"/><rect x="401.86" y="410.88" width="11.05" height="5.38" fill="#4f3bc2"/><rect x="401.86" y="405.52" width="11.05" height="5.38" fill="#4b38c1"/><rect x="401.86" y="400.16" width="11.05" height="5.38" fill="#4e3ac2"/><rect x="401.86" y="394.79" width="11.05" height="5.38" fill="#4d3ac2"/><rect x="401.86" y="389.43" width="11.05" height="5.38" fill="#5640c3"/><rect x="401.86" y="384.07" width="11.05" height="5.38" fill="#533ec3"/><rect x="401.86" y="378.70" width="11.05" height="5.38" fill="#2d1f9a"/><rect x="401.86" y="373.34" width="11.05" height="5.38" fill="#2c1e99"/><rect x="401.86" y="367.98" width="11.05" height="5.38" fill="#1b1275"/><rect x="401.86" y="362.61" width="11.05" height="5.38" fill="#26198c"/><rect x="401.86" y="357.25" width="11.05" height="5.38" fill="#26198b"/><rect x="401.86" y="351.89" width="11.05" height="5.38" fill="#281b90"/><rect x="401.86" y="346.52" width="11.05" height="5.38" fill="#26198c"/><rect x="401.86" y="341.16" width="11.05" height="5.38" fill="#3123a4"/><rect x="401.86" y="335.80" width="11.05" height="5.38" fill="#3224a6"/><rect x="401.86" y="330.43" width="11.05" height="5.38" fill="#291b92"/><rect x="401.86" y="325.07" width="11.05" height="5.38" fill="#3426aa"/><rect x="401.86" y="319.71" width="11.05" height="5.38" fill="#3123a4"/><rect x="401.86" y="314.34" width="11.05" height="5.38" fill="#4e3ac2"/><rect x="401.86" y="308.98" width="11.05" height="5.38" fill="#3a2ab1"/><rect x="401.86" y="303.62" width="11.05" height="5.38" fill="#503cc2"/><rect x="401.86" y="298.25" width="11.05" height="5.38" fill="#4d39c2"/><rect x="401.86" y="292.89" width="11.05" height="5.38" fill="#7f56b6"/><rect x="401.86" y="287.53" width="11.05" height="5.38" fill="#7e56b6"/><rect x="401.86" y="282.16" width="11.05" height="5.38" fill="#7451ba"/><rect x="401.86" y="276.80" width="11.05" height="5.38" fill="#6147c1"/><rect x="401.86" y="271.44" width="11.05" height="5.38" fill="#7350bb"/><rect x="401.86" y="266.07" width="11.05" height="5.38" fill="#7551ba"/><rect x="401.86" y="260.71" width="11.05" height="5.38" fill="#7d56b6"/><rect x="401.86" y="255.35" width="11.05" height="5.38" fill="#7d56b6"/><rect x="401.86" y="249.98" width="11.05" height="5.38" fill="#7551ba"/><rect x="401.86" y="244.62" width="11.05" height="5.38" fill="#7551ba"/><rect x="401.86" y="239.26" width="11.05" height="5.38" fill="#6c4dbd"/><rect x="401.86" y="233.89" width="11.05" height="5.38" fill="#674abf"/><rect x="401.86" y="228.53" width="11.05" height="5.38" fill="#6348c0"/><rect x="401.86" y="223.17" width="11.05" height="5.38" fill="#6a4bbe"/><rect x="401.86" y="217.80" width="11.05" height="5.38" fill="#8057b5"/><rect x="401.86" y="212.44" width="11.05" height="5.38" fill="#5e45c2"/><rect x="401.86" y="207.08" width="11.05" height="5.38" fill="#684abe"/><rect x="401.86" y="201.71" width="11.05" height="5.38" fill="#5842c4"/><rect x="401.86" y="196.35" width="11.05" height="5.38" fill="#6d4dbc"/><rect x="401.86" y="190.99" width="11.05" height="5.38" fill="#5c44c3"/><rect x="401.86" y="185.62" width="11.05" height="5.38" fill="#5942c4"/><rect x="401.86" y="180.26" width="11.05" height="5.38" fill="#5f46c2"/><rect x="401.86" y="174.90" width="11.05" height="5.38" fill="#5e45c2"/><rect x="401.86" y="169.53" width="11.05" height="5.38" fill="#543fc3"/><rect x="401.86" y="164.17" width="11.05" height="5.38" fill="#5640c3"/><rect x="401.86" y="158.81" width="11.05" height="5.38" fill="#5b43c3"/><rect x="401.86" y="153.44" width="11.05" height="5.38" fill="#5540c3"/><rect x="401.86" y="148.08" width="11.05" height="5.38" fill="#503cc2"/><rect x="401.86" y="142.72" width="11.05" height="5.38" fill="#5842c4"/><rect x="401.86" y="137.35" width="11.05" height="5.38" fill="#6449c0"/><rect x="401.86" y="131.99" width="11.05" height="5.38" fill="#6147c1"/><rect x="401.86" y="126.63" width="11.05" height="5.38" fill="#5741c4"/><rect x="401.86" y="121.26" width="11.05" height="5.38" fill="#5a43c3"/><rect x="401.86" y="115.90" width="11.05" height="5.38" fill="#5942c4"/><rect x="401.86" y="110.54" width="11.05" height="5.38" fill="#5e45c2"/><rect x="401.86" y="105.17" width="11.05" height="5.38" fill="#4d39c1"/><rect x="401.86" y="99.81" width="11.05" height="5.38" fill="#5c44c3"/><rect x="401.86" y="94.45" width="11.05" height="5.38" fill="#6147c1"/><rect x="401.86" y="89.08" width="11.05" height="5.38" fill="#5540c3"/><rect x="401.86" y="86.40" width="11.05" height="2.70" fill="#523ec3"/><rect x="412.89" y="464.52" width="11.05" height="2.70" fill="#ebc158"/><rect x="412.89" y="459.15" width="11.05" height="5.38" fill="#dea175"/><rect x="412.89" y="453.79" width="11.05" height="5.38" fill="#d69281"/><rect x="412.89" y="448.43" width="11.05" height="5.38" fill="#c8828e"/><rect x="412.89" y="443.06" width="11.05" height="5.38" fill="#b1709d"/><rect x="412.89" y="437.70" width="11.05" height="5.38" fill="#9b64a8"/><rect x="412.89" y="432.34" width="11.05" height="5.38" fill="#8b5cb0"/><rect x="412.89" y="426.97" width="11.05" height="5.38" fill="#6e4ebc"/><rect x="412.89" y="421.61" width="11.05" height="5.38" fill="#6448c0"/><rect x="412.89" y="416.25" width="11.05" height="5.38" fill="#543fc3"/><rect x="412.89" y="410.88" width="11.05" height="5.38" fill="#6147c1"/><rect x="412.89" y="405.52" width="11.05" height="5.38" fill="#503bc2"/><rect x="412.89" y="400.16" width="11.05" height="5.38" fill="#543fc3"/><rect x="412.89" y="394.79" width="11.05" height="5.38" fill="#4d3ac2"/><rect x="412.89" y="389.43" width="11.05" height="5.38" fill="#553fc3"/><rect x="412.89" y="384.07" width="11.05" height="5.38" fill="#4e3ac2"/><rect x="412.89" y="378.70" width="11.05" height="5.38" fill="#2c1e98"/><rect x="412.89" y="373.34" width="11.05" height="5.38" fill="#2d1f9a"/><rect x="412.89" y="367.98" width="11.05" height="5.38" fill="#3022a1"/><rect x="412.89" y="362.61" width="11.05" height="5.38" fill="#291b92"/><rect x="412.89" y="357.25" width="11.05" height="5.38" fill="#2a1c93"/><rect x="412.89" y="351.89" width="11.05" height="5.38" fill="#26198b"/><rect x="412.89" y="346.52" width="11.05" height="5.38" fill="#2c1e98"/><rect x="412.89" y="341.16" width="11.05" height="5.38" fill="#3f2eb7"/><rect x="412.89" y="335.80" width="11.05" height="5.38" fill="#291b92"/><rect x="412.89" y="330.43" width="11.05" height="5.38" fill="#3527ac"/><rect x="412.89" y="325.07" width="11.05" height="5.38" fill="#3a2bb1"/><rect x="412.89" y="319.71" width="11.05" height="5.38" fill="#392ab0"/><rect x="412.89" y="314.34" width="11.05" height="5.38" fill="#3a2bb2"/><rect x="412.89" y="308.98" width="11.05" height="5.38" fill="#4835c0"/><rect x="412.89" y="303.62" width="11.05" height="5.38" fill="#5a43c3"/><rect x="412.89" y="298.25" width="11.05" height="5.38" fill="#4634c0"/><rect x="412.89" y="292.89" width="11.05" height="5.38" fill="#6c4dbd"/><rect x="412.89" y="287.53" width="11.05" height="5.38" fill="#7250bb"/><rect x="412.89" y="282.16" width="11.05" height="5.38" fill="#7250bb"/><rect x="412.89" y="276.80" width="11.05" height="5.38" fill="#6147c1"/><rect x="412.89" y="271.44" width="11.05" height="5.38" fill="#7c55b7"/><rect x="412.89" y="266.07" width="11.05" height="5.38" fill="#7551ba"/><rect x="412.89" y="260.71" width="11.05" height="5.38" fill="#5640c3"/><rect x="412.89" y="255.35" width="11.05" height="5.38" fill="#8057b5"/><rect x="412.89" y="249.98" width="11.05" height="5.38" fill="#6147c1"/><rect x="412.89" y="244.62" width="11.05" height="5.38" fill="#4f3bc2"/><rect x="412.89" y="239.26" width="11.05" height="5.38" fill="#714fbb"/><rect x="412.89" y="233.89" width="11.05" height="5.38" fill="#6b4cbd"/><rect x="412.89" y="228.53" width="11.05" height="5.38" fill="#6348c0"/><rect x="412.89" y="223.17" width="11.05" height="5.38" fill="#6549bf"/><rect x="412.89" y="217.80" width="11.05" height="5.38" fill="#5a43c3"/><rect x="412.89" y="212.44" width="11.05" height="5.38" fill="#6147c1"/><rect x="412.89" y="207.08" width="11.05" height="5.38" fill="#6c4dbd"/><rect x="412.89" y="201.71" width="11.05" height="5.38" fill="#6649bf"/><rect x="412.89" y="196.35" width="11.05" height="5.38" fill="#6b4cbd"/><rect x="412.89" y="190.99" width="11.05" height="5.38" fill="#5942c4"/><rect x="412.89" y="185.62" width="11.05" height="5.38" fill="#533ec3"/><rect x="412.89" y="180.26" width="11.05" height="5.38" fill="#5942c4"/><rect x="412.89" y="174.90" width="11.05" height="5.38" fill="#674abf"/><rect x="412.89" y="169.53" width="11.05" height="5.38" fill="#5f46c2"/><rect x="412.89" y="164.17" width="11.05" height="5.38" fill="#5540c3"/><rect x="412.89" y="158.81" width="11.05" height="5.38" fill="#523ec3"/><rect x="412.89" y="153.44" width="11.05" height="5.38" fill="#5c44c3"/><rect x="412.89" y="148.08" width="11.05" height="5.38" fill="#553fc3"/><rect x="412.89" y="142.72" width="11.05" height="5.38" fill="#5540c3"/><rect x="412.89" y="137.35" width="11.05" height="5.38" fill="#5a43c3"/><rect x="412.89" y="131.99" width="11.05" height="5.38" fill="#5a43c3"/><rect x="412.89" y="126.63" width="11.05" height="5.38" fill="#6046c1"/><rect x="412.89" y="121.26" width="11.05" height="5.38" fill="#684abe"/><rect x="412.89" y="115.90" width="11.05" height="5.38" fill="#6549bf"/><rect x="412.89" y="110.54" width="11.05" height="5.38" fill="#5d45c2"/><rect x="412.89" y="105.17" width="11.05" height="5.38" fill="#5842c4"/><rect x="412.89" y="99.81" width="11.05" height="5.38" fill="#5943c4"/><rect x="412.89" y="94.45" width="11.05" height="5.38" fill="#523dc3"/><rect x="412.89" y="89.08" width="11.05" height="5.38" fill="#6448c0"/><rect x="412.89" y="86.40" width="11.05" height="2.70" fill="#5943c4"/><rect x="423.92" y="464.52" width="11.05" height="2.70" fill="#eabd5c"/><rect x="423.92" y="459.15" width="11.05" height="5.38" fill="#dd9f77"/><rect x="423.92" y="453.79" width="11.05" height="5.38" fill="#d59182"/><rect x="423.92" y="448.43" width="11.05" height="5.38" fill="#c57f90"/><rect x="423.92" y="443.06" width="11.05" height="5.38" fill="#ac6e9f"/><rect x="423.92" y="437.70" width="11.05" height="5.38" fill="#905eae"/><rect x="423.92" y="432.34" width="11.05" height="5.38" fill="#7e56b6"/><rect x="423.92" y="426.97" width="11.05" height="5.38" fill="#6549bf"/><rect x="423.92" y="421.61" width="11.05" height="5.38" fill="#5540c3"/><rect x="423.92" y="416.25" width="11.05" height="5.38" fill="#4634bf"/><rect x="423.92" y="410.88" width="11.05" height="5.38" fill="#4c39c1"/><rect x="423.92" y="405.52" width="11.05" height="5.38" fill="#3a2ab1"/><rect x="423.92" y="400.16" width="11.05" height="5.38" fill="#4130ba"/><rect x="423.92" y="394.79" width="11.05" height="5.38" fill="#4534bf"/><rect x="423.92" y="389.43" width="11.05" height="5.38" fill="#3325a8"/><rect x="423.92" y="384.07" width="11.05" height="5.38" fill="#3d2db6"/><rect x="423.92" y="378.70" width="11.05" height="5.38" fill="#2d1f9b"/><rect x="423.92" y="373.34" width="11.05" height="5.38" fill="#1e147b"/><rect x="423.92" y="367.98" width="11.05" height="5.38" fill="#20157e"/><rect x="423.92" y="362.61" width="11.05" height="5.38" fill="#1f147d"/><rect x="423.92" y="357.25" width="11.05" height="5.38" fill="#241887"/><rect x="423.92" y="351.89" width="11.05" height="5.38" fill="#271a8e"/><rect x="423.92" y="346.52" width="11.05" height="5.38" fill="#3325a7"/><rect x="423.92" y="341.16" width="11.05" height="5.38" fill="#2b1d96"/><rect x="423.92" y="335.80" width="11.05" height="5.38" fill="#4030b9"/><rect x="423.92" y="330.43" width="11.05" height="5.38" fill="#3325a8"/><rect x="423.92" y="325.07" width="11.05" height="5.38" fill="#3426aa"/><rect x="423.92" y="319.71" width="11.05" height="5.38" fill="#3426aa"/><rect x="423.92" y="314.34" width="11.05" height="5.38" fill="#4634c0"/><rect x="423.92" y="308.98" width="11.05" height="5.38" fill="#523dc3"/><rect x="423.92" y="303.62" width="11.05" height="5.38" fill="#6348c0"/><rect x="423.92" y="298.25" width="11.05" height="5.38" fill="#5b44c3"/><rect x="423.92" y="292.89" width="11.05" height="5.38" fill="#8157b5"/><rect x="423.92" y="287.53" width="11.05" height="5.38" fill="#5d45c2"/><rect x="423.92" y="282.16" width="11.05" height="5.38" fill="#694bbe"/><rect x="423.92" y="276.80" width="11.05" height="5.38" fill="#885bb1"/><rect x="423.92" y="271.44" width="11.05" height="5.38" fill="#905eae"/><rect x="423.92" y="266.07" width="11.05" height="5.38" fill="#704fbb"/><rect x="423.92" y="260.71" width="11.05" height="5.38" fill="#8559b3"/><rect x="423.92" y="255.35" width="11.05" height="5.38" fill="#7f56b6"/><rect x="423.92" y="249.98" width="11.05" height="5.38" fill="#7652b9"/><rect x="423.92" y="244.62" width="11.05" height="5.38" fill="#7853b9"/><rect x="423.92" y="239.26" width="11.05" height="5.38" fill="#7853b9"/><rect x="423.92" y="233.89" width="11.05" height="5.38" fill="#694bbe"/><rect x="423.92" y="228.53" width="11.05" height="5.38" fill="#6147c1"/><rect x="423.92" y="223.17" width="11.05" height="5.38" fill="#6d4dbd"/><rect x="423.92" y="217.80" width="11.05" height="5.38" fill="#6448c0"/><rect x="423.92" y="212.44" width="11.05" height="5.38" fill="#6f4ebc"/><rect x="423.92" y="207.08" width="11.05" height="5.38" fill="#5e45c2"/><rect x="423.92" y="201.71" width="11.05" height="5.38" fill="#6d4dbd"/><rect x="423.92" y="196.35" width="11.05" height="5.38" fill="#5d44c2"/><rect x="423.92" y="190.99" width="11.05" height="5.38" fill="#6549c0"/><rect x="423.92" y="185.62" width="11.05" height="5.38" fill="#5a43c3"/><rect x="423.92" y="180.26" width="11.05" height="5.38" fill="#543fc3"/><rect x="423.92" y="174.90" width="11.05" height="5.38" fill="#5741c4"/><rect x="423.92" y="169.53" width="11.05" height="5.38" fill="#5b43c3"/><rect x="423.92" y="164.17" width="11.05" height="5.38" fill="#553fc3"/><rect x="423.92" y="158.81" width="11.05" height="5.38" fill="#513dc3"/><rect x="423.92" y="153.44" width="11.05" height="5.38" fill="#4d39c2"/><rect x="423.92" y="148.08" width="11.05" height="5.38" fill="#4f3bc2"/><rect x="423.92" y="142.72" width="11.05" height="5.38" fill="#4e3bc2"/><rect x="423.92" y="137.35" width="11.05" height="5.38" fill="#4634c0"/><rect x="423.92" y="131.99" width="11.05" height="5.38" fill="#513cc2"/><rect x="423.92" y="126.63" width="11.05" height="5.38" fill="#4432bd"/><rect x="423.92" y="121.26" width="11.05" height="5.38" fill="#523dc3"/><rect x="423.92" y="115.90" width="11.05" height="5.38" fill="#4533bf"/><rect x="423.92" y="110.54" width="11.05" height="5.38" fill="#523ec3"/><rect x="423.92" y="105.17" width="11.05" height="5.38" fill="#4b38c1"/><rect x="423.92" y="99.81" width="11.05" height="5.38" fill="#4936c1"/><rect x="423.92" y="94.45" width="11.05" height="5.38" fill="#513cc2"/><rect x="423.92" y="89.08" width="11.05" height="5.38" fill="#4d39c1"/><rect x="423.92" y="86.40" width="11.05" height="2.70" fill="#4a37c1"/><rect x="434.94" y="464.52" width="11.05" height="2.70" fill="#ebbf5b"/><rect x="434.94" y="459.15" width="11.05" height="5.38" fill="#db9c7a"/><rect x="434.94" y="453.79" width="11.05" height="5.38" fill="#d08a88"/><rect x="434.94" y="448.43" width="11.05" height="5.38" fill="#c27c92"/><rect x="434.94" y="443.06" width="11.05" height="5.38" fill="#ad6e9f"/><rect x="434.94" y="437.70" width="11.05" height="5.38" fill="#9460ac"/><rect x="434.94" y="432.34" width="11.05" height="5.38" fill="#7853b9"/><rect x="434.94" y="426.97" width="11.05" height="5.38" fill="#6b4cbd"/><rect x="434.94" y="421.61" width="11.05" height="5.38" fill="#5741c4"/><rect x="434.94" y="416.25" width="11.05" height="5.38" fill="#5640c3"/><rect x="434.94" y="410.88" width="11.05" height="5.38" fill="#4b38c1"/><rect x="434.94" y="405.52" width="11.05" height="5.38" fill="#503cc2"/><rect x="434.94" y="400.16" width="11.05" height="5.38" fill="#4c39c1"/><rect x="434.94" y="394.79" width="11.05" height="5.38" fill="#533ec3"/><rect x="434.94" y="389.43" width="11.05" height="5.38" fill="#3325a7"/><rect x="434.94" y="384.07" width="11.05" height="5.38" fill="#3f2fb8"/><rect x="434.94" y="378.70" width="11.05" height="5.38" fill="#271a8f"/><rect x="434.94" y="373.34" width="11.05" height="5.38" fill="#2b1d95"/><rect x="434.94" y="367.98" width="11.05" height="5.38" fill="#211681"/><rect x="434.94" y="362.61" width="11.05" height="5.38" fill="#20157f"/><rect x="434.94" y="357.25" width="11.05" height="5.38" fill="#2a1c95"/><rect x="434.94" y="351.89" width="11.05" height="5.38" fill="#241888"/><rect x="434.94" y="346.52" width="11.05" height="5.38" fill="#3224a5"/><rect x="434.94" y="341.16" width="11.05" height="5.38" fill="#3123a2"/><rect x="434.94" y="335.80" width="11.05" height="5.38" fill="#3426aa"/><rect x="434.94" y="330.43" width="11.05" height="5.38" fill="#3829ae"/><rect x="434.94" y="325.07" width="11.05" height="5.38" fill="#4a37c1"/><rect x="434.94" y="319.71" width="11.05" height="5.38" fill="#4735c0"/><rect x="434.94" y="314.34" width="11.05" height="5.38" fill="#4130ba"/><rect x="434.94" y="308.98" width="11.05" height="5.38" fill="#684bbe"/><rect x="434.94" y="303.62" width="11.05" height="5.38" fill="#5c44c3"/><rect x="434.94" y="298.25" width="11.05" height="5.38" fill="#553fc3"/><rect x="434.94" y="292.89" width="11.05" height="5.38" fill="#5e45c2"/><rect x="434.94" y="287.53" width="11.05" height="5.38" fill="#885bb1"/><rect x="434.94" y="282.16" width="11.05" height="5.38" fill="#704fbc"/><rect x="434.94" y="276.80" width="11.05" height="5.38" fill="#7a54b8"/><rect x="434.94" y="271.44" width="11.05" height="5.38" fill="#6d4dbd"/><rect x="434.94" y="266.07" width="11.05" height="5.38" fill="#885bb1"/><rect x="434.94" y="260.71" width="11.05" height="5.38" fill="#6649bf"/><rect x="434.94" y="255.35" width="11.05" height="5.38" fill="#885bb1"/><rect x="434.94" y="249.98" width="11.05" height="5.38" fill="#8459b3"/><rect x="434.94" y="244.62" width="11.05" height="5.38" fill="#7551ba"/><rect x="434.94" y="239.26" width="11.05" height="5.38" fill="#8258b4"/><rect x="434.94" y="233.89" width="11.05" height="5.38" fill="#704fbc"/><rect x="434.94" y="228.53" width="11.05" height="5.38" fill="#5e45c2"/><rect x="434.94" y="223.17" width="11.05" height="5.38" fill="#6c4dbd"/><rect x="434.94" y="217.80" width="11.05" height="5.38" fill="#5741c4"/><rect x="434.94" y="212.44" width="11.05" height="5.38" fill="#684bbe"/><rect x="434.94" y="207.08" width="11.05" height="5.38" fill="#704fbb"/><rect x="434.94" y="201.71" width="11.05" height="5.38" fill="#5a43c3"/><rect x="434.94" y="196.35" width="11.05" height="5.38" fill="#533ec3"/><rect x="434.94" y="190.99" width="11.05" height="5.38" fill="#6348c0"/><rect x="434.94" y="185.62" width="11.05" height="5.38" fill="#4e3ac2"/><rect x="434.94" y="180.26" width="11.05" height="5.38" fill="#5c44c3"/><rect x="434.94" y="174.90" width="11.05" height="5.38" fill="#5b44c3"/><rect x="434.94" y="169.53" width="11.05" height="5.38" fill="#4e3ac2"/><rect x="434.94" y="164.17" width="11.05" height="5.38" fill="#513dc3"/><rect x="434.94" y="158.81" width="11.05" height="5.38" fill="#3c2cb4"/><rect x="434.94" y="153.44" width="11.05" height="5.38" fill="#4332bc"/><rect x="434.94" y="148.08" width="11.05" height="5.38" fill="#4735c0"/><rect x="434.94" y="142.72" width="11.05" height="5.38" fill="#4e3bc2"/><rect x="434.94" y="137.35" width="11.05" height="5.38" fill="#4c39c1"/><rect x="434.94" y="131.99" width="11.05" height="5.38" fill="#4f3bc2"/><rect x="434.94" y="126.63" width="11.05" height="5.38" fill="#4735c0"/><rect x="434.94" y="121.26" width="11.05" height="5.38" fill="#4533bf"/><rect x="434.94" y="115.90" width="11.05" height="5.38" fill="#3f2fb7"/><rect x="434.94" y="110.54" width="11.05" height="5.38" fill="#4735c0"/><rect x="434.94" y="105.17" width="11.05" height="5.38" fill="#4836c1"/><rect x="434.94" y="99.81" width="11.05" height="5.38" fill="#4b38c1"/><rect x="434.94" y="94.45" width="11.05" height="5.38" fill="#4a37c1"/><rect x="434.94" y="89.08" width="11.05" height="5.38" fill="#4e3ac2"/><rect x="434.94" y="86.40" width="11.05" height="2.70" fill="#4f3bc2"/><rect x="445.97" y="464.52" width="11.05" height="2.70" fill="#ebc059"/><rect x="445.97" y="459.15" width="11.05" height="5.38" fill="#dd9f77"/><rect x="445.97" y="453.79" width="11.05" height="5.38" fill="#d59182"/><rect x="445.97" y="448.43" width="11.05" height="5.38" fill="#c8828e"/><rect x="445.97" y="443.06" width="11.05" height="5.38" fill="#b4739b"/><rect x="445.97" y="437.70" width="11.05" height="5.38" fill="#9b64a8"/><rect x="445.97" y="432.34" width="11.05" height="5.38" fill="#8459b3"/><rect x="445.97" y="426.97" width="11.05" height="5.38" fill="#6e4dbc"/><rect x="445.97" y="421.61" width="11.05" height="5.38" fill="#674abf"/><rect x="445.97" y="416.25" width="11.05" height="5.38" fill="#543fc3"/><rect x="445.97" y="410.88" width="11.05" height="5.38" fill="#4a37c1"/><rect x="445.97" y="405.52" width="11.05" height="5.38" fill="#4634c0"/><rect x="445.97" y="400.16" width="11.05" height="5.38" fill="#4433be"/><rect x="445.97" y="394.79" width="11.05" height="5.38" fill="#4130ba"/><rect x="445.97" y="389.43" width="11.05" height="5.38" fill="#3022a0"/><rect x="445.97" y="384.07" width="11.05" height="5.38" fill="#26198b"/><rect x="445.97" y="378.70" width="11.05" height="5.38" fill="#2c1e98"/><rect x="445.97" y="373.34" width="11.05" height="5.38" fill="#26198b"/><rect x="445.97" y="367.98" width="11.05" height="5.38" fill="#1f147c"/><rect x="445.97" y="362.61" width="11.05" height="5.38" fill="#26198c"/><rect x="445.97" y="357.25" width="11.05" height="5.38" fill="#1f147d"/><rect x="445.97" y="351.89" width="11.05" height="5.38" fill="#231784"/><rect x="445.97" y="346.52" width="11.05" height="5.38" fill="#281a8f"/><rect x="445.97" y="341.16" width="11.05" height="5.38" fill="#281b90"/><rect x="445.97" y="335.80" width="11.05" height="5.38" fill="#2e209e"/><rect x="445.97" y="330.43" width="11.05" height="5.38" fill="#3a2bb1"/><rect x="445.97" y="325.07" width="11.05" height="5.38" fill="#3a2bb2"/><rect x="445.97" y="319.71" width="11.05" height="5.38" fill="#3f2eb7"/><rect x="445.97" y="314.34" width="11.05" height="5.38" fill="#4b38c1"/><rect x="445.97" y="308.98" width="11.05" height="5.38" fill="#5f45c2"/><rect x="445.97" y="303.62" width="11.05" height="5.38" fill="#7350bb"/><rect x="445.97" y="298.25" width="11.05" height="5.38" fill="#513dc3"/><rect x="445.97" y="292.89" width="11.05" height="5.38" fill="#7250bb"/><rect x="445.97" y="287.53" width="11.05" height="5.38" fill="#8157b5"/><rect x="445.97" y="282.16" width="11.05" height="5.38" fill="#7c55b7"/><rect x="445.97" y="276.80" width="11.05" height="5.38" fill="#7a54b8"/><rect x="445.97" y="271.44" width="11.05" height="5.38" fill="#7350ba"/><rect x="445.97" y="266.07" width="11.05" height="5.38" fill="#6e4dbc"/><rect x="445.97" y="260.71" width="11.05" height="5.38" fill="#6b4cbd"/><rect x="445.97" y="255.35" width="11.05" height="5.38" fill="#6247c0"/><rect x="445.97" y="249.98" width="11.05" height="5.38" fill="#7551ba"/><rect x="445.97" y="244.62" width="11.05" height="5.38" fill="#6c4cbd"/><rect x="445.97" y="239.26" width="11.05" height="5.38" fill="#5943c4"/><rect x="445.97" y="233.89" width="11.05" height="5.38" fill="#5c44c3"/><rect x="445.97" y="228.53" width="11.05" height="5.38" fill="#704fbc"/><rect x="445.97" y="223.17" width="11.05" height="5.38" fill="#5b44c3"/><rect x="445.97" y="217.80" width="11.05" height="5.38" fill="#6147c1"/><rect x="445.97" y="212.44" width="11.05" height="5.38" fill="#5f46c2"/><rect x="445.97" y="207.08" width="11.05" height="5.38" fill="#5640c3"/><rect x="445.97" y="201.71" width="11.05" height="5.38" fill="#5d45c2"/><rect x="445.97" y="196.35" width="11.05" height="5.38" fill="#5842c4"/><rect x="445.97" y="190.99" width="11.05" height="5.38" fill="#5c44c2"/><rect x="445.97" y="185.62" width="11.05" height="5.38" fill="#5a43c3"/><rect x="445.97" y="180.26" width="11.05" height="5.38" fill="#5942c4"/><rect x="445.97" y="174.90" width="11.05" height="5.38" fill="#5c44c3"/><rect x="445.97" y="169.53" width="11.05" height="5.38" fill="#523ec3"/><rect x="445.97" y="164.17" width="11.05" height="5.38" fill="#503cc2"/><rect x="445.97" y="158.81" width="11.05" height="5.38" fill="#4c39c1"/><rect x="445.97" y="153.44" width="11.05" height="5.38" fill="#503cc2"/><rect x="445.97" y="148.08" width="11.05" height="5.38" fill="#503cc2"/><rect x="445.97" y="142.72" width="11.05" height="5.38" fill="#4f3bc2"/><rect x="445.97" y="137.35" width="11.05" height="5.38" fill="#4735c0"/><rect x="445.97" y="131.99" width="11.05" height="5.38" fill="#513cc2"/><rect x="445.97" y="126.63" width="11.05" height="5.38" fill="#4836c0"/><rect x="445.97" y="121.26" width="11.05" height="5.38" fill="#4332bc"/><rect x="445.97" y="115.90" width="11.05" height="5.38" fill="#4735c0"/><rect x="445.97" y="110.54" width="11.05" height="5.38" fill="#4433be"/><rect x="445.97" y="105.17" width="11.05" height="5.38" fill="#4936c1"/><rect x="445.97" y="99.81" width="11.05" height="5.38" fill="#4b38c1"/><rect x="445.97" y="94.45" width="11.05" height="5.38" fill="#4f3bc2"/><rect x="445.97" y="89.08" width="11.05" height="5.38" fill="#4130ba"/><rect x="445.97" y="86.40" width="11.05" height="2.70" fill="#4533bf"/><rect x="457.00" y="464.52" width="11.05" height="2.70" fill="#e8b861"/><rect x="457.00" y="459.15" width="11.05" height="5.38" fill="#d8977d"/><rect x="457.00" y="453.79" width="11.05" height="5.38" fill="#d08a88"/><rect x="457.00" y="448.43" width="11.05" height="5.38" fill="#bc7796"/><rect x="457.00" y="443.06" width="11.05" height="5.38" fill="#a96ca1"/><rect x="457.00" y="437.70" width="11.05" height="5.38" fill="#9862aa"/><rect x="457.00" y="432.34" width="11.05" height="5.38" fill="#7d55b7"/><rect x="457.00" y="426.97" width="11.05" height="5.38" fill="#694bbe"/><rect x="457.00" y="421.61" width="11.05" height="5.38" fill="#6448c0"/><rect x="457.00" y="416.25" width="11.05" height="5.38" fill="#5e45c2"/><rect x="457.00" y="410.88" width="11.05" height="5.38" fill="#4836c0"/><rect x="457.00" y="405.52" width="11.05" height="5.38" fill="#503cc2"/><rect x="457.00" y="400.16" width="11.05" height="5.38" fill="#3f2eb7"/><rect x="457.00" y="394.79" width="11.05" height="5.38" fill="#3829af"/><rect x="457.00" y="389.43" width="11.05" height="5.38" fill="#2f219f"/><rect x="457.00" y="384.07" width="11.05" height="5.38" fill="#3022a1"/><rect x="457.00" y="378.70" width="11.05" height="5.38" fill="#3022a2"/><rect x="457.00" y="373.34" width="11.05" height="5.38" fill="#25198a"/><rect x="457.00" y="367.98" width="11.05" height="5.38" fill="#2c1e99"/><rect x="457.00" y="362.61" width="11.05" height="5.38" fill="#211681"/><rect x="457.00" y="357.25" width="11.05" height="5.38" fill="#231785"/><rect x="457.00" y="351.89" width="11.05" height="5.38" fill="#271a8e"/><rect x="457.00" y="346.52" width="11.05" height="5.38" fill="#211681"/><rect x="457.00" y="341.16" width="11.05" height="5.38" fill="#26198c"/><rect x="457.00" y="335.80" width="11.05" height="5.38" fill="#4231bb"/><rect x="457.00" y="330.43" width="11.05" height="5.38" fill="#513dc3"/><rect x="457.00" y="325.07" width="11.05" height="5.38" fill="#553fc3"/><rect x="457.00" y="319.71" width="11.05" height="5.38" fill="#4130ba"/><rect x="457.00" y="314.34" width="11.05" height="5.38" fill="#5641c4"/><rect x="457.00" y="308.98" width="11.05" height="5.38" fill="#5a43c3"/><rect x="457.00" y="303.62" width="11.05" height="5.38" fill="#6549bf"/><rect x="457.00" y="298.25" width="11.05" height="5.38" fill="#6a4bbe"/><rect x="457.00" y="292.89" width="11.05" height="5.38" fill="#7c55b7"/><rect x="457.00" y="287.53" width="11.05" height="5.38" fill="#885ab2"/><rect x="457.00" y="282.16" width="11.05" height="5.38" fill="#664abf"/><rect x="457.00" y="276.80" width="11.05" height="5.38" fill="#7350bb"/><rect x="457.00" y="271.44" width="11.05" height="5.38" fill="#7f56b6"/><rect x="457.00" y="266.07" width="11.05" height="5.38" fill="#6d4dbd"/><rect x="457.00" y="260.71" width="11.05" height="5.38" fill="#915fad"/><rect x="457.00" y="255.35" width="11.05" height="5.38" fill="#6a4cbd"/><rect x="457.00" y="249.98" width="11.05" height="5.38" fill="#9260ac"/><rect x="457.00" y="244.62" width="11.05" height="5.38" fill="#8f5eae"/><rect x="457.00" y="239.26" width="11.05" height="5.38" fill="#7d56b6"/><rect x="457.00" y="233.89" width="11.05" height="5.38" fill="#7f56b6"/><rect x="457.00" y="228.53" width="11.05" height="5.38" fill="#6c4dbd"/><rect x="457.00" y="223.17" width="11.05" height="5.38" fill="#5540c3"/><rect x="457.00" y="217.80" width="11.05" height="5.38" fill="#6348c0"/><rect x="457.00" y="212.44" width="11.05" height="5.38" fill="#6549c0"/><rect x="457.00" y="207.08" width="11.05" height="5.38" fill="#523dc3"/><rect x="457.00" y="201.71" width="11.05" height="5.38" fill="#5842c4"/><rect x="457.00" y="196.35" width="11.05" height="5.38" fill="#5d44c2"/><rect x="457.00" y="190.99" width="11.05" height="5.38" fill="#533ec3"/><rect x="457.00" y="185.62" width="11.05" height="5.38" fill="#4f3bc2"/><rect x="457.00" y="180.26" width="11.05" height="5.38" fill="#4130ba"/><rect x="457.00" y="174.90" width="11.05" height="5.38" fill="#4936c1"/><rect x="457.00" y="169.53" width="11.05" height="5.38" fill="#4332bd"/><rect x="457.00" y="164.17" width="11.05" height="5.38" fill="#4231bb"/><rect x="457.00" y="158.81" width="11.05" height="5.38" fill="#3e2eb6"/><rect x="457.00" y="153.44" width="11.05" height="5.38" fill="#3f2eb7"/><rect x="457.00" y="148.08" width="11.05" height="5.38" fill="#4432bd"/><rect x="457.00" y="142.72" width="11.05" height="5.38" fill="#3d2db5"/><rect x="457.00" y="137.35" width="11.05" height="5.38" fill="#4332bc"/><rect x="457.00" y="131.99" width="11.05" height="5.38" fill="#4836c0"/><rect x="457.00" y="126.63" width="11.05" height="5.38" fill="#402fb8"/><rect x="457.00" y="121.26" width="11.05" height="5.38" fill="#3829ae"/><rect x="457.00" y="115.90" width="11.05" height="5.38" fill="#4231bb"/><rect x="457.00" y="110.54" width="11.05" height="5.38" fill="#3d2db5"/><rect x="457.00" y="105.17" width="11.05" height="5.38" fill="#4130ba"/><rect x="457.00" y="99.81" width="11.05" height="5.38" fill="#4835c0"/><rect x="457.00" y="94.45" width="11.05" height="5.38" fill="#4130b9"/><rect x="457.00" y="89.08" width="11.05" height="5.38" fill="#3b2cb3"/><rect x="457.00" y="86.40" width="11.05" height="2.70" fill="#392ab0"/><rect x="468.02" y="464.52" width="11.05" height="2.70" fill="#ebbf5a"/><rect x="468.02" y="459.15" width="11.05" height="5.38" fill="#db9c79"/><rect x="468.02" y="453.79" width="11.05" height="5.38" fill="#d38d85"/><rect x="468.02" y="448.43" width="11.05" height="5.38" fill="#c17b94"/><rect x="468.02" y="443.06" width="11.05" height="5.38" fill="#ab6da0"/><rect x="468.02" y="437.70" width="11.05" height="5.38" fill="#9e65a7"/><rect x="468.02" y="432.34" width="11.05" height="5.38" fill="#875ab2"/><rect x="468.02" y="426.97" width="11.05" height="5.38" fill="#6b4cbd"/><rect x="468.02" y="421.61" width="11.05" height="5.38" fill="#5b43c3"/><rect x="468.02" y="416.25" width="11.05" height="5.38" fill="#6448c0"/><rect x="468.02" y="410.88" width="11.05" height="5.38" fill="#513dc3"/><rect x="468.02" y="405.52" width="11.05" height="5.38" fill="#4e3ac2"/><rect x="468.02" y="400.16" width="11.05" height="5.38" fill="#4534bf"/><rect x="468.02" y="394.79" width="11.05" height="5.38" fill="#3a2bb2"/><rect x="468.02" y="389.43" width="11.05" height="5.38" fill="#3123a3"/><rect x="468.02" y="384.07" width="11.05" height="5.38" fill="#2a1c94"/><rect x="468.02" y="378.70" width="11.05" height="5.38" fill="#211681"/><rect x="468.02" y="373.34" width="11.05" height="5.38" fill="#26198c"/><rect x="468.02" y="367.98" width="11.05" height="5.38" fill="#221683"/><rect x="468.02" y="362.61" width="11.05" height="5.38" fill="#1d1378"/><rect x="468.02" y="357.25" width="11.05" height="5.38" fill="#251889"/><rect x="468.02" y="351.89" width="11.05" height="5.38" fill="#20157f"/><rect x="468.02" y="346.52" width="11.05" height="5.38" fill="#211682"/><rect x="468.02" y="341.16" width="11.05" height="5.38" fill="#2c1e98"/><rect x="468.02" y="335.80" width="11.05" height="5.38" fill="#3628ad"/><rect x="468.02" y="330.43" width="11.05" height="5.38" fill="#3c2cb3"/><rect x="468.02" y="325.07" width="11.05" height="5.38" fill="#4f3bc2"/><rect x="468.02" y="319.71" width="11.05" height="5.38" fill="#4f3bc2"/><rect x="468.02" y="314.34" width="11.05" height="5.38" fill="#684abe"/><rect x="468.02" y="308.98" width="11.05" height="5.38" fill="#4735c0"/><rect x="468.02" y="303.62" width="11.05" height="5.38" fill="#6348c0"/><rect x="468.02" y="298.25" width="11.05" height="5.38" fill="#5f46c2"/><rect x="468.02" y="292.89" width="11.05" height="5.38" fill="#7c55b7"/><rect x="468.02" y="287.53" width="11.05" height="5.38" fill="#8157b5"/><rect x="468.02" y="282.16" width="11.05" height="5.38" fill="#684abe"/><rect x="468.02" y="276.80" width="11.05" height="5.38" fill="#6f4ebc"/><rect x="468.02" y="271.44" width="11.05" height="5.38" fill="#7350bb"/><rect x="468.02" y="266.07" width="11.05" height="5.38" fill="#7250bb"/><rect x="468.02" y="260.71" width="11.05" height="5.38" fill="#8c5daf"/><rect x="468.02" y="255.35" width="11.05" height="5.38" fill="#5e45c2"/><rect x="468.02" y="249.98" width="11.05" height="5.38" fill="#714fbb"/><rect x="468.02" y="244.62" width="11.05" height="5.38" fill="#6147c1"/><rect x="468.02" y="239.26" width="11.05" height="5.38" fill="#5c44c3"/><rect x="468.02" y="233.89" width="11.05" height="5.38" fill="#4936c1"/><rect x="468.02" y="228.53" width="11.05" height="5.38" fill="#4e3ac2"/><rect x="468.02" y="223.17" width="11.05" height="5.38" fill="#5d44c2"/><rect x="468.02" y="217.80" width="11.05" height="5.38" fill="#5741c4"/><rect x="468.02" y="212.44" width="11.05" height="5.38" fill="#553fc3"/><rect x="468.02" y="207.08" width="11.05" height="5.38" fill="#5741c4"/><rect x="468.02" y="201.71" width="11.05" height="5.38" fill="#6348c0"/><rect x="468.02" y="196.35" width="11.05" height="5.38" fill="#4f3bc2"/><rect x="468.02" y="190.99" width="11.05" height="5.38" fill="#5d44c2"/><rect x="468.02" y="185.62" width="11.05" height="5.38" fill="#4f3bc2"/><rect x="468.02" y="180.26" width="11.05" height="5.38" fill="#4936c1"/><rect x="468.02" y="174.90" width="11.05" height="5.38" fill="#4e3ac2"/><rect x="468.02" y="169.53" width="11.05" height="5.38" fill="#4634c0"/><rect x="468.02" y="164.17" width="11.05" height="5.38" fill="#3b2bb2"/><rect x="468.02" y="158.81" width="11.05" height="5.38" fill="#523ec3"/><rect x="468.02" y="153.44" width="11.05" height="5.38" fill="#4332bc"/><rect x="468.02" y="148.08" width="11.05" height="5.38" fill="#4b38c1"/><rect x="468.02" y="142.72" width="11.05" height="5.38" fill="#4936c1"/><rect x="468.02" y="137.35" width="11.05" height="5.38" fill="#4432bd"/><rect x="468.02" y="131.99" width="11.05" height="5.38" fill="#4b38c1"/><rect x="468.02" y="126.63" width="11.05" height="5.38" fill="#3a2ab1"/><rect x="468.02" y="121.26" width="11.05" height="5.38" fill="#4432bd"/><rect x="468.02" y="115.90" width="11.05" height="5.38" fill="#4e3ac2"/><rect x="468.02" y="110.54" width="11.05" height="5.38" fill="#4030b9"/><rect x="468.02" y="105.17" width="11.05" height="5.38" fill="#4835c0"/><rect x="468.02" y="99.81" width="11.05" height="5.38" fill="#4433be"/><rect x="468.02" y="94.45" width="11.05" height="5.38" fill="#513dc2"/><rect x="468.02" y="89.08" width="11.05" height="5.38" fill="#3d2db5"/><rect x="468.02" y="86.40" width="11.05" height="2.70" fill="#4433be"/><rect x="479.05" y="464.52" width="11.05" height="2.70" fill="#e9bb5e"/><rect x="479.05" y="459.15" width="11.05" height="5.38" fill="#dda076"/><rect x="479.05" y="453.79" width="11.05" height="5.38" fill="#d08a88"/><rect x="479.05" y="448.43" width="11.05" height="5.38" fill="#bb7797"/><rect x="479.05" y="443.06" width="11.05" height="5.38" fill="#a66aa3"/><rect x="479.05" y="437.70" width="11.05" height="5.38" fill="#905eae"/><rect x="479.05" y="432.34" width="11.05" height="5.38" fill="#7d55b7"/><rect x="479.05" y="426.97" width="11.05" height="5.38" fill="#6e4ebc"/><rect x="479.05" y="421.61" width="11.05" height="5.38" fill="#523dc3"/><rect x="479.05" y="416.25" width="11.05" height="5.38" fill="#503cc2"/><rect x="479.05" y="410.88" width="11.05" height="5.38" fill="#4b38c1"/><rect x="479.05" y="405.52" width="11.05" height="5.38" fill="#3c2cb4"/><rect x="479.05" y="400.16" width="11.05" height="5.38" fill="#392ab0"/><rect x="479.05" y="394.79" width="11.05" height="5.38" fill="#3325a8"/><rect x="479.05" y="389.43" width="11.05" height="5.38" fill="#3022a2"/><rect x="479.05" y="384.07" width="11.05" height="5.38" fill="#3123a3"/><rect x="479.05" y="378.70" width="11.05" height="5.38" fill="#26198c"/><rect x="479.05" y="373.34" width="11.05" height="5.38" fill="#271a8e"/><rect x="479.05" y="367.98" width="11.05" height="5.38" fill="#160e67"/><rect x="479.05" y="362.61" width="11.05" height="5.38" fill="#1e147b"/><rect x="479.05" y="357.25" width="11.05" height="5.38" fill="#241888"/><rect x="479.05" y="351.89" width="11.05" height="5.38" fill="#241887"/><rect x="479.05" y="346.52" width="11.05" height="5.38" fill="#1a1171"/><rect x="479.05" y="341.16" width="11.05" height="5.38" fill="#3123a4"/><rect x="479.05" y="335.80" width="11.05" height="5.38" fill="#3a2ab1"/><rect x="479.05" y="330.43" width="11.05" height="5.38" fill="#3829af"/><rect x="479.05" y="325.07" width="11.05" height="5.38" fill="#3b2cb3"/><rect x="479.05" y="319.71" width="11.05" height="5.38" fill="#5c44c2"/><rect x="479.05" y="314.34" width="11.05" height="5.38" fill="#4e3ac2"/><rect x="479.05" y="308.98" width="11.05" height="5.38" fill="#6649bf"/><rect x="479.05" y="303.62" width="11.05" height="5.38" fill="#694bbe"/><rect x="479.05" y="298.25" width="11.05" height="5.38" fill="#7a54b8"/><rect x="479.05" y="292.89" width="11.05" height="5.38" fill="#6147c1"/><rect x="479.05" y="287.53" width="11.05" height="5.38" fill="#7250bb"/><rect x="479.05" y="282.16" width="11.05" height="5.38" fill="#8057b5"/><rect x="479.05" y="276.80" width="11.05" height="5.38" fill="#7b55b7"/><rect x="479.05" y="271.44" width="11.05" height="5.38" fill="#6c4dbd"/><rect x="479.05" y="266.07" width="11.05" height="5.38" fill="#7f56b6"/><rect x="479.05" y="260.71" width="11.05" height="5.38" fill="#7451ba"/><rect x="479.05" y="255.35" width="11.05" height="5.38" fill="#8157b5"/><rect x="479.05" y="249.98" width="11.05" height="5.38" fill="#6248c0"/><rect x="479.05" y="244.62" width="11.05" height="5.38" fill="#6d4dbc"/><rect x="479.05" y="239.26" width="11.05" height="5.38" fill="#7551ba"/><rect x="479.05" y="233.89" width="11.05" height="5.38" fill="#7250bb"/><rect x="479.05" y="228.53" width="11.05" height="5.38" fill="#6247c0"/><rect x="479.05" y="223.17" width="11.05" height="5.38" fill="#694bbe"/><rect x="479.05" y="217.80" width="11.05" height="5.38" fill="#6649bf"/><rect x="479.05" y="212.44" width="11.05" height="5.38" fill="#5f46c1"/><rect x="479.05" y="207.08" width="11.05" height="5.38" fill="#4f3bc2"/><rect x="479.05" y="201.71" width="11.05" height="5.38" fill="#533ec3"/><rect x="479.05" y="196.35" width="11.05" height="5.38" fill="#4f3bc2"/><rect x="479.05" y="190.99" width="11.05" height="5.38" fill="#5a43c3"/><rect x="479.05" y="185.62" width="11.05" height="5.38" fill="#4f3bc2"/><rect x="479.05" y="180.26" width="11.05" height="5.38" fill="#4231bb"/><rect x="479.05" y="174.90" width="11.05" height="5.38" fill="#4a37c1"/><rect x="479.05" y="169.53" width="11.05" height="5.38" fill="#4634c0"/><rect x="479.05" y="164.17" width="11.05" height="5.38" fill="#4432be"/><rect x="479.05" y="158.81" width="11.05" height="5.38" fill="#4432bd"/><rect x="479.05" y="153.44" width="11.05" height="5.38" fill="#3b2cb3"/><rect x="479.05" y="148.08" width="11.05" height="5.38" fill="#4432be"/><rect x="479.05" y="142.72" width="11.05" height="5.38" fill="#4231bc"/><rect x="479.05" y="137.35" width="11.05" height="5.38" fill="#4634c0"/><rect x="479.05" y="131.99" width="11.05" height="5.38" fill="#4231bb"/><rect x="479.05" y="126.63" width="11.05" height="5.38" fill="#3c2db4"/><rect x="479.05" y="121.26" width="11.05" height="5.38" fill="#3123a4"/><rect x="479.05" y="115.90" width="11.05" height="5.38" fill="#4332bd"/><rect x="479.05" y="110.54" width="11.05" height="5.38" fill="#3a2bb2"/><rect x="479.05" y="105.17" width="11.05" height="5.38" fill="#3c2cb4"/><rect x="479.05" y="99.81" width="11.05" height="5.38" fill="#3d2db5"/><rect x="479.05" y="94.45" width="11.05" height="5.38" fill="#4130b9"/><rect x="479.05" y="89.08" width="11.05" height="5.38" fill="#4634c0"/><rect x="479.05" y="86.40" width="11.05" height="2.70" fill="#3e2eb6"/><rect x="490.08" y="464.52" width="11.05" height="2.70" fill="#ebbf5a"/><rect x="490.08" y="459.15" width="11.05" height="5.38" fill="#dda076"/><rect x="490.08" y="453.79" width="11.05" height="5.38" fill="#d28c86"/><rect x="490.08" y="448.43" width="11.05" height="5.38" fill="#be7995"/><rect x="490.08" y="443.06" width="11.05" height="5.38" fill="#ad6e9f"/><rect x="490.08" y="437.70" width="11.05" height="5.38" fill="#8d5daf"/><rect x="490.08" y="432.34" width="11.05" height="5.38" fill="#8157b5"/><rect x="490.08" y="426.97" width="11.05" height="5.38" fill="#7551ba"/><rect x="490.08" y="421.61" width="11.05" height="5.38" fill="#6549bf"/><rect x="490.08" y="416.25" width="11.05" height="5.38" fill="#6348c0"/><rect x="490.08" y="410.88" width="11.05" height="5.38" fill="#4e3ac2"/><rect x="490.08" y="405.52" width="11.05" height="5.38" fill="#402fb8"/><rect x="490.08" y="400.16" width="11.05" height="5.38" fill="#3628ad"/><rect x="490.08" y="394.79" width="11.05" height="5.38" fill="#3b2bb2"/><rect x="490.08" y="389.43" width="11.05" height="5.38" fill="#2f219f"/><rect x="490.08" y="384.07" width="11.05" height="5.38" fill="#3224a7"/><rect x="490.08" y="378.70" width="11.05" height="5.38" fill="#231785"/><rect x="490.08" y="373.34" width="11.05" height="5.38" fill="#1c1275"/><rect x="490.08" y="367.98" width="11.05" height="5.38" fill="#251889"/><rect x="490.08" y="362.61" width="11.05" height="5.38" fill="#2a1c94"/><rect x="490.08" y="357.25" width="11.05" height="5.38" fill="#281b90"/><rect x="490.08" y="351.89" width="11.05" height="5.38" fill="#231784"/><rect x="490.08" y="346.52" width="11.05" height="5.38" fill="#1e147b"/><rect x="490.08" y="341.16" width="11.05" height="5.38" fill="#26198c"/><rect x="490.08" y="335.80" width="11.05" height="5.38" fill="#3b2bb3"/><rect x="490.08" y="330.43" width="11.05" height="5.38" fill="#4331bc"/><rect x="490.08" y="325.07" width="11.05" height="5.38" fill="#4a37c1"/><rect x="490.08" y="319.71" width="11.05" height="5.38" fill="#4f3bc2"/><rect x="490.08" y="314.34" width="11.05" height="5.38" fill="#5741c4"/><rect x="490.08" y="308.98" width="11.05" height="5.38" fill="#694bbe"/><rect x="490.08" y="303.62" width="11.05" height="5.38" fill="#6448c0"/><rect x="490.08" y="298.25" width="11.05" height="5.38" fill="#875ab2"/><rect x="490.08" y="292.89" width="11.05" height="5.38" fill="#5842c4"/><rect x="490.08" y="287.53" width="11.05" height="5.38" fill="#8057b5"/><rect x="490.08" y="282.16" width="11.05" height="5.38" fill="#8459b3"/><rect x="490.08" y="276.80" width="11.05" height="5.38" fill="#8f5eae"/><rect x="490.08" y="271.44" width="11.05" height="5.38" fill="#8358b4"/><rect x="490.08" y="266.07" width="11.05" height="5.38" fill="#5641c4"/><rect x="490.08" y="260.71" width="11.05" height="5.38" fill="#6147c1"/><rect x="490.08" y="255.35" width="11.05" height="5.38" fill="#543fc3"/><rect x="490.08" y="249.98" width="11.05" height="5.38" fill="#6c4cbd"/><rect x="490.08" y="244.62" width="11.05" height="5.38" fill="#4f3bc2"/><rect x="490.08" y="239.26" width="11.05" height="5.38" fill="#6046c1"/><rect x="490.08" y="233.89" width="11.05" height="5.38" fill="#6549c0"/><rect x="490.08" y="228.53" width="11.05" height="5.38" fill="#543fc3"/><rect x="490.08" y="223.17" width="11.05" height="5.38" fill="#714fbb"/><rect x="490.08" y="217.80" width="11.05" height="5.38" fill="#4b38c1"/><rect x="490.08" y="212.44" width="11.05" height="5.38" fill="#5942c4"/><rect x="490.08" y="207.08" width="11.05" height="5.38" fill="#5540c3"/><rect x="490.08" y="201.71" width="11.05" height="5.38" fill="#4533be"/><rect x="490.08" y="196.35" width="11.05" height="5.38" fill="#533ec3"/><rect x="490.08" y="190.99" width="11.05" height="5.38" fill="#4b38c1"/><rect x="490.08" y="185.62" width="11.05" height="5.38" fill="#4936c1"/><rect x="490.08" y="180.26" width="11.05" height="5.38" fill="#402fb8"/><rect x="490.08" y="174.90" width="11.05" height="5.38" fill="#4634bf"/><rect x="490.08" y="169.53" width="11.05" height="5.38" fill="#4c39c1"/><rect x="490.08" y="164.17" width="11.05" height="5.38" fill="#4a37c1"/><rect x="490.08" y="158.81" width="11.05" height="5.38" fill="#4836c1"/><rect x="490.08" y="153.44" width="11.05" height="5.38" fill="#4735c0"/><rect x="490.08" y="148.08" width="11.05" height="5.38" fill="#4130ba"/><rect x="490.08" y="142.72" width="11.05" height="5.38" fill="#4231bc"/><rect x="490.08" y="137.35" width="11.05" height="5.38" fill="#4735c0"/><rect x="490.08" y="131.99" width="11.05" height="5.38" fill="#4331bc"/><rect x="490.08" y="126.63" width="11.05" height="5.38" fill="#4c38c1"/><rect x="490.08" y="121.26" width="11.05" height="5.38" fill="#3e2eb6"/><rect x="490.08" y="115.90" width="11.05" height="5.38" fill="#4533be"/><rect x="490.08" y="110.54" width="11.05" height="5.38" fill="#4030b9"/><rect x="490.08" y="105.17" width="11.05" height="5.38" fill="#4836c1"/><rect x="490.08" y="99.81" width="11.05" height="5.38" fill="#4533be"/><rect x="490.08" y="94.45" width="11.05" height="5.38" fill="#3f2fb8"/><rect x="490.08" y="89.08" width="11.05" height="5.38" fill="#4a37c1"/><rect x="490.08" y="86.40" width="11.05" height="2.70" fill="#3f2eb7"/><rect x="501.10" y="464.52" width="11.05" height="2.70" fill="#e9ba5f"/><rect x="501.10" y="459.15" width="11.05" height="5.38" fill="#dc9e78"/><rect x="501.10" y="453.79" width="11.05" height="5.38" fill="#d38d85"/><rect x="501.10" y="448.43" width="11.05" height="5.38" fill="#bb7797"/><rect x="501.10" y="443.06" width="11.05" height="5.38" fill="#a76aa2"/><rect x="501.10" y="437.70" width="11.05" height="5.38" fill="#8c5daf"/><rect x="501.10" y="432.34" width="11.05" height="5.38" fill="#7e56b6"/><rect x="501.10" y="426.97" width="11.05" height="5.38" fill="#674abf"/><rect x="501.10" y="421.61" width="11.05" height="5.38" fill="#5943c4"/><rect x="501.10" y="416.25" width="11.05" height="5.38" fill="#523dc3"/><rect x="501.10" y="410.88" width="11.05" height="5.38" fill="#4634c0"/><rect x="501.10" y="405.52" width="11.05" height="5.38" fill="#4332bc"/><rect x="501.10" y="400.16" width="11.05" height="5.38" fill="#2d1f9b"/><rect x="501.10" y="394.79" width="11.05" height="5.38" fill="#281b91"/><rect x="501.10" y="389.43" width="11.05" height="5.38" fill="#2c1e99"/><rect x="501.10" y="384.07" width="11.05" height="5.38" fill="#241786"/><rect x="501.10" y="378.70" width="11.05" height="5.38" fill="#1f147c"/><rect x="501.10" y="373.34" width="11.05" height="5.38" fill="#211681"/><rect x="501.10" y="367.98" width="11.05" height="5.38" fill="#211580"/><rect x="501.10" y="362.61" width="11.05" height="5.38" fill="#26198b"/><rect x="501.10" y="357.25" width="11.05" height="5.38" fill="#221682"/><rect x="501.10" y="351.89" width="11.05" height="5.38" fill="#1e147b"/><rect x="501.10" y="346.52" width="11.05" height="5.38" fill="#291b91"/><rect x="501.10" y="341.16" width="11.05" height="5.38" fill="#291b91"/><rect x="501.10" y="335.80" width="11.05" height="5.38" fill="#271a8d"/><rect x="501.10" y="330.43" width="11.05" height="5.38" fill="#2f219f"/><rect x="501.10" y="325.07" width="11.05" height="5.38" fill="#4332bd"/><rect x="501.10" y="319.71" width="11.05" height="5.38" fill="#4f3bc2"/><rect x="501.10" y="314.34" width="11.05" height="5.38" fill="#4130ba"/><rect x="501.10" y="308.98" width="11.05" height="5.38" fill="#5c44c3"/><rect x="501.10" y="303.62" width="11.05" height="5.38" fill="#7551ba"/><rect x="501.10" y="298.25" width="11.05" height="5.38" fill="#6f4ebc"/><rect x="501.10" y="292.89" width="11.05" height="5.38" fill="#5942c4"/><rect x="501.10" y="287.53" width="11.05" height="5.38" fill="#7953b8"/><rect x="501.10" y="282.16" width="11.05" height="5.38" fill="#8559b3"/><rect x="501.10" y="276.80" width="11.05" height="5.38" fill="#8559b3"/><rect x="501.10" y="271.44" width="11.05" height="5.38" fill="#8157b5"/><rect x="501.10" y="266.07" width="11.05" height="5.38" fill="#694bbe"/><rect x="501.10" y="260.71" width="11.05" height="5.38" fill="#8057b5"/><rect x="501.10" y="255.35" width="11.05" height="5.38" fill="#5c44c3"/><rect x="501.10" y="249.98" width="11.05" height="5.38" fill="#503cc2"/><rect x="501.10" y="244.62" width="11.05" height="5.38" fill="#5540c3"/><rect x="501.10" y="239.26" width="11.05" height="5.38" fill="#6549bf"/><rect x="501.10" y="233.89" width="11.05" height="5.38" fill="#5c44c3"/><rect x="501.10" y="228.53" width="11.05" height="5.38" fill="#4e3ac2"/><rect x="501.10" y="223.17" width="11.05" height="5.38" fill="#4432bd"/><rect x="501.10" y="217.80" width="11.05" height="5.38" fill="#4e3bc2"/><rect x="501.10" y="212.44" width="11.05" height="5.38" fill="#4533be"/><rect x="501.10" y="207.08" width="11.05" height="5.38" fill="#533ec3"/><rect x="501.10" y="201.71" width="11.05" height="5.38" fill="#4a37c1"/><rect x="501.10" y="196.35" width="11.05" height="5.38" fill="#4a37c1"/><rect x="501.10" y="190.99" width="11.05" height="5.38" fill="#4735c0"/><rect x="501.10" y="185.62" width="11.05" height="5.38" fill="#4b38c1"/><rect x="501.10" y="180.26" width="11.05" height="5.38" fill="#3e2eb7"/><rect x="501.10" y="174.90" width="11.05" height="5.38" fill="#4835c0"/><rect x="501.10" y="169.53" width="11.05" height="5.38" fill="#3d2db5"/><rect x="501.10" y="164.17" width="11.05" height="5.38" fill="#4231bc"/><rect x="501.10" y="158.81" width="11.05" height="5.38" fill="#4836c1"/><rect x="501.10" y="153.44" width="11.05" height="5.38" fill="#4332bd"/><rect x="501.10" y="148.08" width="11.05" height="5.38" fill="#4836c0"/><rect x="501.10" y="142.72" width="11.05" height="5.38" fill="#4231bb"/><rect x="501.10" y="137.35" width="11.05" height="5.38" fill="#3e2eb6"/><rect x="501.10" y="131.99" width="11.05" height="5.38" fill="#3728ad"/><rect x="501.10" y="126.63" width="11.05" height="5.38" fill="#3f2fb7"/><rect x="501.10" y="121.26" width="11.05" height="5.38" fill="#3123a4"/><rect x="501.10" y="115.90" width="11.05" height="5.38" fill="#3b2bb2"/><rect x="501.10" y="110.54" width="11.05" height="5.38" fill="#3527ac"/><rect x="501.10" y="105.17" width="11.05" height="5.38" fill="#3426aa"/><rect x="501.10" y="99.81" width="11.05" height="5.38" fill="#3527ab"/><rect x="501.10" y="94.45" width="11.05" height="5.38" fill="#3c2cb4"/><rect x="501.10" y="89.08" width="11.05" height="5.38" fill="#3627ac"/><rect x="501.10" y="86.40" width="11.05" height="2.70" fill="#2e209d"/><rect x="512.13" y="464.52" width="11.05" height="2.70" fill="#eabc5d"/><rect x="512.13" y="459.15" width="11.05" height="5.38" fill="#db9d79"/><rect x="512.13" y="453.79" width="11.05" height="5.38" fill="#cd878a"/><rect x="512.13" y="448.43" width="11.05" height="5.38" fill="#b5739a"/><rect x="512.13" y="443.06" width="11.05" height="5.38" fill="#a268a5"/><rect x="512.13" y="437.70" width="11.05" height="5.38" fill="#885bb1"/><rect x="512.13" y="432.34" width="11.05" height="5.38" fill="#6c4cbd"/><rect x="512.13" y="426.97" width="11.05" height="5.38" fill="#674abf"/><rect x="512.13" y="421.61" width="11.05" height="5.38" fill="#5641c4"/><rect x="512.13" y="416.25" width="11.05" height="5.38" fill="#523ec3"/><rect x="512.13" y="410.88" width="11.05" height="5.38" fill="#3829af"/><rect x="512.13" y="405.52" width="11.05" height="5.38" fill="#3b2bb2"/><rect x="512.13" y="400.16" width="11.05" height="5.38" fill="#3426aa"/><rect x="512.13" y="394.79" width="11.05" height="5.38" fill="#281b90"/><rect x="512.13" y="389.43" width="11.05" height="5.38" fill="#2b1d95"/><rect x="512.13" y="384.07" width="11.05" height="5.38" fill="#26198c"/><rect x="512.13" y="378.70" width="11.05" height="5.38" fill="#221683"/><rect x="512.13" y="373.34" width="11.05" height="5.38" fill="#1f147d"/><rect x="512.13" y="367.98" width="11.05" height="5.38" fill="#180f6d"/><rect x="512.13" y="362.61" width="11.05" height="5.38" fill="#1f147d"/><rect x="512.13" y="357.25" width="11.05" height="5.38" fill="#231784"/><rect x="512.13" y="351.89" width="11.05" height="5.38" fill="#241887"/><rect x="512.13" y="346.52" width="11.05" height="5.38" fill="#2b1d97"/><rect x="512.13" y="341.16" width="11.05" height="5.38" fill="#26198c"/><rect x="512.13" y="335.80" width="11.05" height="5.38" fill="#4231bb"/><rect x="512.13" y="330.43" width="11.05" height="5.38" fill="#4332bc"/><rect x="512.13" y="325.07" width="11.05" height="5.38" fill="#503cc2"/><rect x="512.13" y="319.71" width="11.05" height="5.38" fill="#4332bd"/><rect x="512.13" y="314.34" width="11.05" height="5.38" fill="#4a37c1"/><rect x="512.13" y="308.98" width="11.05" height="5.38" fill="#6549bf"/><rect x="512.13" y="303.62" width="11.05" height="5.38" fill="#714fbb"/><rect x="512.13" y="298.25" width="11.05" height="5.38" fill="#7752b9"/><rect x="512.13" y="292.89" width="11.05" height="5.38" fill="#7250bb"/><rect x="512.13" y="287.53" width="11.05" height="5.38" fill="#9f66a6"/><rect x="512.13" y="282.16" width="11.05" height="5.38" fill="#8c5daf"/><rect x="512.13" y="276.80" width="11.05" height="5.38" fill="#674abf"/><rect x="512.13" y="271.44" width="11.05" height="5.38" fill="#865ab2"/><rect x="512.13" y="266.07" width="11.05" height="5.38" fill="#875ab2"/><rect x="512.13" y="260.71" width="11.05" height="5.38" fill="#7350ba"/><rect x="512.13" y="255.35" width="11.05" height="5.38" fill="#5f46c1"/><rect x="512.13" y="249.98" width="11.05" height="5.38" fill="#865ab2"/><rect x="512.13" y="244.62" width="11.05" height="5.38" fill="#5f46c1"/><rect x="512.13" y="239.26" width="11.05" height="5.38" fill="#5a43c3"/><rect x="512.13" y="233.89" width="11.05" height="5.38" fill="#6147c1"/><rect x="512.13" y="228.53" width="11.05" height="5.38" fill="#5c44c3"/><rect x="512.13" y="223.17" width="11.05" height="5.38" fill="#513cc2"/><rect x="512.13" y="217.80" width="11.05" height="5.38" fill="#4937c1"/><rect x="512.13" y="212.44" width="11.05" height="5.38" fill="#4f3bc2"/><rect x="512.13" y="207.08" width="11.05" height="5.38" fill="#3c2cb4"/><rect x="512.13" y="201.71" width="11.05" height="5.38" fill="#503bc2"/><rect x="512.13" y="196.35" width="11.05" height="5.38" fill="#4835c0"/><rect x="512.13" y="190.99" width="11.05" height="5.38" fill="#553fc3"/><rect x="512.13" y="185.62" width="11.05" height="5.38" fill="#3d2db5"/><rect x="512.13" y="180.26" width="11.05" height="5.38" fill="#4130ba"/><rect x="512.13" y="174.90" width="11.05" height="5.38" fill="#4533bf"/><rect x="512.13" y="169.53" width="11.05" height="5.38" fill="#4b38c1"/><rect x="512.13" y="164.17" width="11.05" height="5.38" fill="#392ab1"/><rect x="512.13" y="158.81" width="11.05" height="5.38" fill="#4231bb"/><rect x="512.13" y="153.44" width="11.05" height="5.38" fill="#3f2eb7"/><rect x="512.13" y="148.08" width="11.05" height="5.38" fill="#4533bf"/><rect x="512.13" y="142.72" width="11.05" height="5.38" fill="#4735c0"/><rect x="512.13" y="137.35" width="11.05" height="5.38" fill="#4432be"/><rect x="512.13" y="131.99" width="11.05" height="5.38" fill="#4130ba"/><rect x="512.13" y="126.63" width="11.05" height="5.38" fill="#3829ae"/><rect x="512.13" y="121.26" width="11.05" height="5.38" fill="#3628ac"/><rect x="512.13" y="115.90" width="11.05" height="5.38" fill="#3123a3"/><rect x="512.13" y="110.54" width="11.05" height="5.38" fill="#3527ab"/><rect x="512.13" y="105.17" width="11.05" height="5.38" fill="#2f21a0"/><rect x="512.13" y="99.81" width="11.05" height="5.38" fill="#392ab0"/><rect x="512.13" y="94.45" width="11.05" height="5.38" fill="#3123a4"/><rect x="512.13" y="89.08" width="11.05" height="5.38" fill="#3829af"/><rect x="512.13" y="86.40" width="11.05" height="2.70" fill="#3526ab"/><rect x="523.16" y="464.52" width="11.05" height="2.70" fill="#e9b960"/><rect x="523.16" y="459.15" width="11.05" height="5.38" fill="#da9a7b"/><rect x="523.16" y="453.79" width="11.05" height="5.38" fill="#cd878a"/><rect x="523.16" y="448.43" width="11.05" height="5.38" fill="#b1709d"/><rect x="523.16" y="443.06" width="11.05" height="5.38" fill="#9f65a7"/><rect x="523.16" y="437.70" width="11.05" height="5.38" fill="#7652b9"/><rect x="523.16" y="432.34" width="11.05" height="5.38" fill="#684abf"/><rect x="523.16" y="426.97" width="11.05" height="5.38" fill="#553fc3"/><rect x="523.16" y="421.61" width="11.05" height="5.38" fill="#4f3bc2"/><rect x="523.16" y="416.25" width="11.05" height="5.38" fill="#4332bc"/><rect x="523.16" y="410.88" width="11.05" height="5.38" fill="#3c2cb4"/><rect x="523.16" y="405.52" width="11.05" height="5.38" fill="#3628ac"/><rect x="523.16" y="400.16" width="11.05" height="5.38" fill="#3123a3"/><rect x="523.16" y="394.79" width="11.05" height="5.38" fill="#231785"/><rect x="523.16" y="389.43" width="11.05" height="5.38" fill="#291b92"/><rect x="523.16" y="384.07" width="11.05" height="5.38" fill="#2a1c93"/><rect x="523.16" y="378.70" width="11.05" height="5.38" fill="#241888"/><rect x="523.16" y="373.34" width="11.05" height="5.38" fill="#20157e"/><rect x="523.16" y="367.98" width="11.05" height="5.38" fill="#271a8e"/><rect x="523.16" y="362.61" width="11.05" height="5.38" fill="#26198b"/><rect x="523.16" y="357.25" width="11.05" height="5.38" fill="#231785"/><rect x="523.16" y="351.89" width="11.05" height="5.38" fill="#281b90"/><rect x="523.16" y="346.52" width="11.05" height="5.38" fill="#271a8e"/><rect x="523.16" y="341.16" width="11.05" height="5.38" fill="#4130ba"/><rect x="523.16" y="335.80" width="11.05" height="5.38" fill="#3b2bb2"/><rect x="523.16" y="330.43" width="11.05" height="5.38" fill="#4030b9"/><rect x="523.16" y="325.07" width="11.05" height="5.38" fill="#4c39c1"/><rect x="523.16" y="319.71" width="11.05" height="5.38" fill="#5742c4"/><rect x="523.16" y="314.34" width="11.05" height="5.38" fill="#5741c4"/><rect x="523.16" y="308.98" width="11.05" height="5.38" fill="#6f4ebc"/><rect x="523.16" y="303.62" width="11.05" height="5.38" fill="#6a4cbe"/><rect x="523.16" y="298.25" width="11.05" height="5.38" fill="#6147c1"/><rect x="523.16" y="292.89" width="11.05" height="5.38" fill="#9762aa"/><rect x="523.16" y="287.53" width="11.05" height="5.38" fill="#7b54b8"/><rect x="523.16" y="282.16" width="11.05" height="5.38" fill="#9260ac"/><rect x="523.16" y="276.80" width="11.05" height="5.38" fill="#8258b4"/><rect x="523.16" y="271.44" width="11.05" height="5.38" fill="#8b5cb0"/><rect x="523.16" y="266.07" width="11.05" height="5.38" fill="#7652b9"/><rect x="523.16" y="260.71" width="11.05" height="5.38" fill="#7652b9"/><rect x="523.16" y="255.35" width="11.05" height="5.38" fill="#714fbb"/><rect x="523.16" y="249.98" width="11.05" height="5.38" fill="#6c4dbd"/><rect x="523.16" y="244.62" width="11.05" height="5.38" fill="#6046c1"/><rect x="523.16" y="239.26" width="11.05" height="5.38" fill="#4a37c1"/><rect x="523.16" y="233.89" width="11.05" height="5.38" fill="#5b44c3"/><rect x="523.16" y="228.53" width="11.05" height="5.38" fill="#533ec3"/><rect x="523.16" y="223.17" width="11.05" height="5.38" fill="#4c38c1"/><rect x="523.16" y="217.80" width="11.05" height="5.38" fill="#5d45c2"/><rect x="523.16" y="212.44" width="11.05" height="5.38" fill="#503cc2"/><rect x="523.16" y="207.08" width="11.05" height="5.38" fill="#4231bb"/><rect x="523.16" y="201.71" width="11.05" height="5.38" fill="#4735c0"/><rect x="523.16" y="196.35" width="11.05" height="5.38" fill="#4835c0"/><rect x="523.16" y="190.99" width="11.05" height="5.38" fill="#3d2db5"/><rect x="523.16" y="185.62" width="11.05" height="5.38" fill="#4130ba"/><rect x="523.16" y="180.26" width="11.05" height="5.38" fill="#4030b9"/><rect x="523.16" y="174.90" width="11.05" height="5.38" fill="#3d2db5"/><rect x="523.16" y="169.53" width="11.05" height="5.38" fill="#3c2cb4"/><rect x="523.16" y="164.17" width="11.05" height="5.38" fill="#392ab1"/><rect x="523.16" y="158.81" width="11.05" height="5.38" fill="#3325a7"/><rect x="523.16" y="153.44" width="11.05" height="5.38" fill="#3325a9"/><rect x="523.16" y="148.08" width="11.05" height="5.38" fill="#2d1f9b"/><rect x="523.16" y="142.72" width="11.05" height="5.38" fill="#2f219f"/><rect x="523.16" y="137.35" width="11.05" height="5.38" fill="#3f2fb7"/><rect x="523.16" y="131.99" width="11.05" height="5.38" fill="#3426aa"/><rect x="523.16" y="126.63" width="11.05" height="5.38" fill="#3022a1"/><rect x="523.16" y="121.26" width="11.05" height="5.38" fill="#3527ab"/><rect x="523.16" y="115.90" width="11.05" height="5.38" fill="#2f21a0"/><rect x="523.16" y="110.54" width="11.05" height="5.38" fill="#3325a8"/><rect x="523.16" y="105.17" width="11.05" height="5.38" fill="#3224a6"/><rect x="523.16" y="99.81" width="11.05" height="5.38" fill="#3022a2"/><rect x="523.16" y="94.45" width="11.05" height="5.38" fill="#3d2db5"/><rect x="523.16" y="89.08" width="11.05" height="5.38" fill="#3123a4"/><rect x="523.16" y="86.40" width="11.05" height="2.70" fill="#3f2fb8"/><rect x="534.18" y="464.52" width="11.05" height="2.70" fill="#eabd5c"/><rect x="534.18" y="459.15" width="11.05" height="5.38" fill="#da9b7b"/><rect x="534.18" y="453.79" width="11.05" height="5.38" fill="#cd878a"/><rect x="534.18" y="448.43" width="11.05" height="5.38" fill="#b3729b"/><rect x="534.18" y="443.06" width="11.05" height="5.38" fill="#9a63a9"/><rect x="534.18" y="437.70" width="11.05" height="5.38" fill="#8358b4"/><rect x="534.18" y="432.34" width="11.05" height="5.38" fill="#6e4ebc"/><rect x="534.18" y="426.97" width="11.05" height="5.38" fill="#5f46c2"/><rect x="534.18" y="421.61" width="11.05" height="5.38" fill="#5741c4"/><rect x="534.18" y="416.25" width="11.05" height="5.38" fill="#5641c4"/><rect x="534.18" y="410.88" width="11.05" height="5.38" fill="#4432be"/><rect x="534.18" y="405.52" width="11.05" height="5.38" fill="#3829af"/><rect x="534.18" y="400.16" width="11.05" height="5.38" fill="#3e2eb6"/><rect x="534.18" y="394.79" width="11.05" height="5.38" fill="#3e2eb6"/><rect x="534.18" y="389.43" width="11.05" height="5.38" fill="#2f21a0"/><rect x="534.18" y="384.07" width="11.05" height="5.38" fill="#2d1f9b"/><rect x="534.18" y="378.70" width="11.05" height="5.38" fill="#3224a5"/><rect x="534.18" y="373.34" width="11.05" height="5.38" fill="#2d1f9b"/><rect x="534.18" y="367.98" width="11.05" height="5.38" fill="#221683"/><rect x="534.18" y="362.61" width="11.05" height="5.38" fill="#2c1e99"/><rect x="534.18" y="357.25" width="11.05" height="5.38" fill="#3325a7"/><rect x="534.18" y="351.89" width="11.05" height="5.38" fill="#221683"/><rect x="534.18" y="346.52" width="11.05" height="5.38" fill="#2d1f9a"/><rect x="534.18" y="341.16" width="11.05" height="5.38" fill="#2d1f9a"/><rect x="534.18" y="335.80" width="11.05" height="5.38" fill="#3729ae"/><rect x="534.18" y="330.43" width="11.05" height="5.38" fill="#3426aa"/><rect x="534.18" y="325.07" width="11.05" height="5.38" fill="#4836c0"/><rect x="534.18" y="319.71" width="11.05" height="5.38" fill="#503cc2"/><rect x="534.18" y="314.34" width="11.05" height="5.38" fill="#4e3ac2"/><rect x="534.18" y="308.98" width="11.05" height="5.38" fill="#5842c4"/><rect x="534.18" y="303.62" width="11.05" height="5.38" fill="#694bbe"/><rect x="534.18" y="298.25" width="11.05" height="5.38" fill="#6f4ebc"/><rect x="534.18" y="292.89" width="11.05" height="5.38" fill="#7552ba"/><rect x="534.18" y="287.53" width="11.05" height="5.38" fill="#684abe"/><rect x="534.18" y="282.16" width="11.05" height="5.38" fill="#885ab2"/><rect x="534.18" y="276.80" width="11.05" height="5.38" fill="#865ab2"/><rect x="534.18" y="271.44" width="11.05" height="5.38" fill="#7350ba"/><rect x="534.18" y="266.07" width="11.05" height="5.38" fill="#7551ba"/><rect x="534.18" y="260.71" width="11.05" height="5.38" fill="#5e45c2"/><rect x="534.18" y="255.35" width="11.05" height="5.38" fill="#7551ba"/><rect x="534.18" y="249.98" width="11.05" height="5.38" fill="#704fbc"/><rect x="534.18" y="244.62" width="11.05" height="5.38" fill="#5f46c1"/><rect x="534.18" y="239.26" width="11.05" height="5.38" fill="#513cc2"/><rect x="534.18" y="233.89" width="11.05" height="5.38" fill="#684abf"/><rect x="534.18" y="228.53" width="11.05" height="5.38" fill="#533ec3"/><rect x="534.18" y="223.17" width="11.05" height="5.38" fill="#513dc3"/><rect x="534.18" y="217.80" width="11.05" height="5.38" fill="#543fc3"/><rect x="534.18" y="212.44" width="11.05" height="5.38" fill="#3b2cb3"/><rect x="534.18" y="207.08" width="11.05" height="5.38" fill="#4130ba"/><rect x="534.18" y="201.71" width="11.05" height="5.38" fill="#3e2eb7"/><rect x="534.18" y="196.35" width="11.05" height="5.38" fill="#402fb8"/><rect x="534.18" y="190.99" width="11.05" height="5.38" fill="#3426aa"/><rect x="534.18" y="185.62" width="11.05" height="5.38" fill="#4231bb"/><rect x="534.18" y="180.26" width="11.05" height="5.38" fill="#4130ba"/><rect x="534.18" y="174.90" width="11.05" height="5.38" fill="#4533bf"/><rect x="534.18" y="169.53" width="11.05" height="5.38" fill="#3e2eb6"/><rect x="534.18" y="164.17" width="11.05" height="5.38" fill="#3c2cb4"/><rect x="534.18" y="158.81" width="11.05" height="5.38" fill="#4433be"/><rect x="534.18" y="153.44" width="11.05" height="5.38" fill="#3c2cb3"/><rect x="534.18" y="148.08" width="11.05" height="5.38" fill="#3b2bb2"/><rect x="534.18" y="142.72" width="11.05" height="5.38" fill="#4332bd"/><rect x="534.18" y="137.35" width="11.05" height="5.38" fill="#3b2cb3"/><rect x="534.18" y="131.99" width="11.05" height="5.38" fill="#3a2ab1"/><rect x="534.18" y="126.63" width="11.05" height="5.38" fill="#3728ad"/><rect x="534.18" y="121.26" width="11.05" height="5.38" fill="#392ab0"/><rect x="534.18" y="115.90" width="11.05" height="5.38" fill="#3c2cb3"/><rect x="534.18" y="110.54" width="11.05" height="5.38" fill="#4231bb"/><rect x="534.18" y="105.17" width="11.05" height="5.38" fill="#4c39c1"/><rect x="534.18" y="99.81" width="11.05" height="5.38" fill="#392ab0"/><rect x="534.18" y="94.45" width="11.05" height="5.38" fill="#3a2bb1"/><rect x="534.18" y="89.08" width="11.05" height="5.38" fill="#4231bb"/><rect x="534.18" y="86.40" width="11.05" height="2.70" fill="#3628ad"/><rect x="545.21" y="464.52" width="11.05" height="2.70" fill="#ebc159"/><rect x="545.21" y="459.15" width="11.05" height="5.38" fill="#db9d79"/><rect x="545.21" y="453.79" width="11.05" height="5.38" fill="#cd878a"/><rect x="545.21" y="448.43" width="11.05" height="5.38" fill="#b5739a"/><rect x="545.21" y="443.06" width="11.05" height="5.38" fill="#a066a6"/><rect x="545.21" y="437.70" width="11.05" height="5.38" fill="#865ab2"/><rect x="545.21" y="432.34" width="11.05" height="5.38" fill="#7451ba"/><rect x="545.21" y="426.97" width="11.05" height="5.38" fill="#5943c3"/><rect x="545.21" y="421.61" width="11.05" height="5.38" fill="#543fc3"/><rect x="545.21" y="416.25" width="11.05" height="5.38" fill="#4130ba"/><rect x="545.21" y="410.88" width="11.05" height="5.38" fill="#3b2cb3"/><rect x="545.21" y="405.52" width="11.05" height="5.38" fill="#3628ad"/><rect x="545.21" y="400.16" width="11.05" height="5.38" fill="#2a1c93"/><rect x="545.21" y="394.79" width="11.05" height="5.38" fill="#26198c"/><rect x="545.21" y="389.43" width="11.05" height="5.38" fill="#2a1c94"/><rect x="545.21" y="384.07" width="11.05" height="5.38" fill="#1a1172"/><rect x="545.21" y="378.70" width="11.05" height="5.38" fill="#1f147c"/><rect x="545.21" y="373.34" width="11.05" height="5.38" fill="#160d66"/><rect x="545.21" y="367.98" width="11.05" height="5.38" fill="#180f6c"/><rect x="545.21" y="362.61" width="11.05" height="5.38" fill="#1d1277"/><rect x="545.21" y="357.25" width="11.05" height="5.38" fill="#170e68"/><rect x="545.21" y="351.89" width="11.05" height="5.38" fill="#1d1378"/><rect x="545.21" y="346.52" width="11.05" height="5.38" fill="#2a1c95"/><rect x="545.21" y="341.16" width="11.05" height="5.38" fill="#2c1e97"/><rect x="545.21" y="335.80" width="11.05" height="5.38" fill="#3426aa"/><rect x="545.21" y="330.43" width="11.05" height="5.38" fill="#3829af"/><rect x="545.21" y="325.07" width="11.05" height="5.38" fill="#4836c0"/><rect x="545.21" y="319.71" width="11.05" height="5.38" fill="#4533bf"/><rect x="545.21" y="314.34" width="11.05" height="5.38" fill="#5842c4"/><rect x="545.21" y="308.98" width="11.05" height="5.38" fill="#513cc2"/><rect x="545.21" y="303.62" width="11.05" height="5.38" fill="#6348c0"/><rect x="545.21" y="298.25" width="11.05" height="5.38" fill="#6448c0"/><rect x="545.21" y="292.89" width="11.05" height="5.38" fill="#6046c1"/><rect x="545.21" y="287.53" width="11.05" height="5.38" fill="#714fbb"/><rect x="545.21" y="282.16" width="11.05" height="5.38" fill="#7652ba"/><rect x="545.21" y="276.80" width="11.05" height="5.38" fill="#7e56b6"/><rect x="545.21" y="271.44" width="11.05" height="5.38" fill="#7853b9"/><rect x="545.21" y="266.07" width="11.05" height="5.38" fill="#543fc3"/><rect x="545.21" y="260.71" width="11.05" height="5.38" fill="#7652b9"/><rect x="545.21" y="255.35" width="11.05" height="5.38" fill="#5641c4"/><rect x="545.21" y="249.98" width="11.05" height="5.38" fill="#5f46c1"/><rect x="545.21" y="244.62" width="11.05" height="5.38" fill="#6046c1"/><rect x="545.21" y="239.26" width="11.05" height="5.38" fill="#5c44c3"/><rect x="545.21" y="233.89" width="11.05" height="5.38" fill="#6448c0"/><rect x="545.21" y="228.53" width="11.05" height="5.38" fill="#5741c4"/><rect x="545.21" y="223.17" width="11.05" height="5.38" fill="#4533bf"/><rect x="545.21" y="217.80" width="11.05" height="5.38" fill="#543fc3"/><rect x="545.21" y="212.44" width="11.05" height="5.38" fill="#3325a8"/><rect x="545.21" y="207.08" width="11.05" height="5.38" fill="#4a37c1"/><rect x="545.21" y="201.71" width="11.05" height="5.38" fill="#4937c1"/><rect x="545.21" y="196.35" width="11.05" height="5.38" fill="#3325a8"/><rect x="545.21" y="190.99" width="11.05" height="5.38" fill="#3628ad"/><rect x="545.21" y="185.62" width="11.05" height="5.38" fill="#3e2eb7"/><rect x="545.21" y="180.26" width="11.05" height="5.38" fill="#402fb9"/><rect x="545.21" y="174.90" width="11.05" height="5.38" fill="#4b38c1"/><rect x="545.21" y="169.53" width="11.05" height="5.38" fill="#3a2bb2"/><rect x="545.21" y="164.17" width="11.05" height="5.38" fill="#4836c1"/><rect x="545.21" y="158.81" width="11.05" height="5.38" fill="#4130ba"/><rect x="545.21" y="153.44" width="11.05" height="5.38" fill="#4030b9"/><rect x="545.21" y="148.08" width="11.05" height="5.38" fill="#3b2bb2"/><rect x="545.21" y="142.72" width="11.05" height="5.38" fill="#3b2bb2"/><rect x="545.21" y="137.35" width="11.05" height="5.38" fill="#4030b9"/><rect x="545.21" y="131.99" width="11.05" height="5.38" fill="#3a2bb1"/><rect x="545.21" y="126.63" width="11.05" height="5.38" fill="#3a2bb1"/><rect x="545.21" y="121.26" width="11.05" height="5.38" fill="#3527ab"/><rect x="545.21" y="115.90" width="11.05" height="5.38" fill="#392ab0"/><rect x="545.21" y="110.54" width="11.05" height="5.38" fill="#3627ac"/><rect x="545.21" y="105.17" width="11.05" height="5.38" fill="#3628ad"/><rect x="545.21" y="99.81" width="11.05" height="5.38" fill="#3729ae"/><rect x="545.21" y="94.45" width="11.05" height="5.38" fill="#3b2cb3"/><rect x="545.21" y="89.08" width="11.05" height="5.38" fill="#3325a7"/><rect x="545.21" y="86.40" width="11.05" height="2.70" fill="#3a2bb1"/><rect x="556.24" y="464.52" width="11.05" height="2.70" fill="#e9bc5d"/><rect x="556.24" y="459.15" width="11.05" height="5.38" fill="#d9997c"/><rect x="556.24" y="453.79" width="11.05" height="5.38" fill="#ce8889"/><rect x="556.24" y="448.43" width="11.05" height="5.38" fill="#b2719c"/><rect x="556.24" y="443.06" width="11.05" height="5.38" fill="#a167a5"/><rect x="556.24" y="437.70" width="11.05" height="5.38" fill="#8157b5"/><rect x="556.24" y="432.34" width="11.05" height="5.38" fill="#714fbb"/><rect x="556.24" y="426.97" width="11.05" height="5.38" fill="#5f46c1"/><rect x="556.24" y="421.61" width="11.05" height="5.38" fill="#513dc3"/><rect x="556.24" y="416.25" width="11.05" height="5.38" fill="#513cc2"/><rect x="556.24" y="410.88" width="11.05" height="5.38" fill="#4936c1"/><rect x="556.24" y="405.52" width="11.05" height="5.38" fill="#3829af"/><rect x="556.24" y="400.16" width="11.05" height="5.38" fill="#3224a6"/><rect x="556.24" y="394.79" width="11.05" height="5.38" fill="#2f219e"/><rect x="556.24" y="389.43" width="11.05" height="5.38" fill="#3325a9"/><rect x="556.24" y="384.07" width="11.05" height="5.38" fill="#26198b"/><rect x="556.24" y="378.70" width="11.05" height="5.38" fill="#231784"/><rect x="556.24" y="373.34" width="11.05" height="5.38" fill="#241888"/><rect x="556.24" y="367.98" width="11.05" height="5.38" fill="#26198b"/><rect x="556.24" y="362.61" width="11.05" height="5.38" fill="#1f147c"/><rect x="556.24" y="357.25" width="11.05" height="5.38" fill="#2a1c94"/><rect x="556.24" y="351.89" width="11.05" height="5.38" fill="#291b92"/><rect x="556.24" y="346.52" width="11.05" height="5.38" fill="#2e209c"/><rect x="556.24" y="341.16" width="11.05" height="5.38" fill="#2d1f9a"/><rect x="556.24" y="335.80" width="11.05" height="5.38" fill="#392ab0"/><rect x="556.24" y="330.43" width="11.05" height="5.38" fill="#6549bf"/><rect x="556.24" y="325.07" width="11.05" height="5.38" fill="#4634c0"/><rect x="556.24" y="319.71" width="11.05" height="5.38" fill="#7c55b7"/><rect x="556.24" y="314.34" width="11.05" height="5.38" fill="#8057b5"/><rect x="556.24" y="308.98" width="11.05" height="5.38" fill="#8559b3"/><rect x="556.24" y="303.62" width="11.05" height="5.38" fill="#8258b4"/><rect x="556.24" y="298.25" width="11.05" height="5.38" fill="#7e56b6"/><rect x="556.24" y="292.89" width="11.05" height="5.38" fill="#9360ac"/><rect x="556.24" y="287.53" width="11.05" height="5.38" fill="#a267a5"/><rect x="556.24" y="282.16" width="11.05" height="5.38" fill="#aa6ca0"/><rect x="556.24" y="276.80" width="11.05" height="5.38" fill="#7953b9"/><rect x="556.24" y="271.44" width="11.05" height="5.38" fill="#7551ba"/><rect x="556.24" y="266.07" width="11.05" height="5.38" fill="#8057b5"/><rect x="556.24" y="260.71" width="11.05" height="5.38" fill="#7c55b7"/><rect x="556.24" y="255.35" width="11.05" height="5.38" fill="#6d4dbd"/><rect x="556.24" y="249.98" width="11.05" height="5.38" fill="#523ec3"/><rect x="556.24" y="244.62" width="11.05" height="5.38" fill="#6046c1"/><rect x="556.24" y="239.26" width="11.05" height="5.38" fill="#513cc2"/><rect x="556.24" y="233.89" width="11.05" height="5.38" fill="#503cc2"/><rect x="556.24" y="228.53" width="11.05" height="5.38" fill="#4836c0"/><rect x="556.24" y="223.17" width="11.05" height="5.38" fill="#4c38c1"/><rect x="556.24" y="217.80" width="11.05" height="5.38" fill="#4231bb"/><rect x="556.24" y="212.44" width="11.05" height="5.38" fill="#4936c1"/><rect x="556.24" y="207.08" width="11.05" height="5.38" fill="#3d2db5"/><rect x="556.24" y="201.71" width="11.05" height="5.38" fill="#4735c0"/><rect x="556.24" y="196.35" width="11.05" height="5.38" fill="#3728ae"/><rect x="556.24" y="190.99" width="11.05" height="5.38" fill="#4634bf"/><rect x="556.24" y="185.62" width="11.05" height="5.38" fill="#4231bb"/><rect x="556.24" y="180.26" width="11.05" height="5.38" fill="#4332bc"/><rect x="556.24" y="174.90" width="11.05" height="5.38" fill="#402fb9"/><rect x="556.24" y="169.53" width="11.05" height="5.38" fill="#3a2bb2"/><rect x="556.24" y="164.17" width="11.05" height="5.38" fill="#3829af"/><rect x="556.24" y="158.81" width="11.05" height="5.38" fill="#4332bc"/><rect x="556.24" y="153.44" width="11.05" height="5.38" fill="#3d2db4"/><rect x="556.24" y="148.08" width="11.05" height="5.38" fill="#3627ac"/><rect x="556.24" y="142.72" width="11.05" height="5.38" fill="#3c2db4"/><rect x="556.24" y="137.35" width="11.05" height="5.38" fill="#3b2bb2"/><rect x="556.24" y="131.99" width="11.05" height="5.38" fill="#3628ad"/><rect x="556.24" y="126.63" width="11.05" height="5.38" fill="#3426a9"/><rect x="556.24" y="121.26" width="11.05" height="5.38" fill="#3526ab"/><rect x="556.24" y="115.90" width="11.05" height="5.38" fill="#3526ab"/><rect x="556.24" y="110.54" width="11.05" height="5.38" fill="#3426aa"/><rect x="556.24" y="105.17" width="11.05" height="5.38" fill="#3628ad"/><rect x="556.24" y="99.81" width="11.05" height="5.38" fill="#3224a5"/><rect x="556.24" y="94.45" width="11.05" height="5.38" fill="#3627ac"/><rect x="556.24" y="89.08" width="11.05" height="5.38" fill="#3c2db4"/><rect x="556.24" y="86.40" width="11.05" height="2.70" fill="#3b2bb2"/><rect x="567.26" y="464.52" width="11.05" height="2.70" fill="#eabc5d"/><rect x="567.26" y="459.15" width="11.05" height="5.38" fill="#da9b7b"/><rect x="567.26" y="453.79" width="11.05" height="5.38" fill="#cb858c"/><rect x="567.26" y="448.43" width="11.05" height="5.38" fill="#b4739b"/><rect x="567.26" y="443.06" width="11.05" height="5.38" fill="#a268a5"/><rect x="567.26" y="437.70" width="11.05" height="5.38" fill="#8559b3"/><rect x="567.26" y="432.34" width="11.05" height="5.38" fill="#6c4dbd"/><rect x="567.26" y="426.97" width="11.05" height="5.38" fill="#5b43c3"/><rect x="567.26" y="421.61" width="11.05" height="5.38" fill="#523ec3"/><rect x="567.26" y="416.25" width="11.05" height="5.38" fill="#4634c0"/><rect x="567.26" y="410.88" width="11.05" height="5.38" fill="#3c2cb3"/><rect x="567.26" y="405.52" width="11.05" height="5.38" fill="#2c1e99"/><rect x="567.26" y="400.16" width="11.05" height="5.38" fill="#2f219f"/><rect x="567.26" y="394.79" width="11.05" height="5.38" fill="#271a8d"/><rect x="567.26" y="389.43" width="11.05" height="5.38" fill="#20157e"/><rect x="567.26" y="384.07" width="11.05" height="5.38" fill="#231786"/><rect x="567.26" y="378.70" width="11.05" height="5.38" fill="#1c1275"/><rect x="567.26" y="373.34" width="11.05" height="5.38" fill="#1d1379"/><rect x="567.26" y="367.98" width="11.05" height="5.38" fill="#19106e"/><rect x="567.26" y="362.61" width="11.05" height="5.38" fill="#221784"/><rect x="567.26" y="357.25" width="11.05" height="5.38" fill="#1c1277"/><rect x="567.26" y="351.89" width="11.05" height="5.38" fill="#211580"/><rect x="567.26" y="346.52" width="11.05" height="5.38" fill="#25198a"/><rect x="567.26" y="341.16" width="11.05" height="5.38" fill="#2d1f9c"/><rect x="567.26" y="335.80" width="11.05" height="5.38" fill="#3627ac"/><rect x="567.26" y="330.43" width="11.05" height="5.38" fill="#3628ad"/><rect x="567.26" y="325.07" width="11.05" height="5.38" fill="#3628ad"/><rect x="567.26" y="319.71" width="11.05" height="5.38" fill="#4f3bc2"/><rect x="567.26" y="314.34" width="11.05" height="5.38" fill="#4734c0"/><rect x="567.26" y="308.98" width="11.05" height="5.38" fill="#4f3bc2"/><rect x="567.26" y="303.62" width="11.05" height="5.38" fill="#684bbe"/><rect x="567.26" y="298.25" width="11.05" height="5.38" fill="#543fc3"/><rect x="567.26" y="292.89" width="11.05" height="5.38" fill="#6e4ebc"/><rect x="567.26" y="287.53" width="11.05" height="5.38" fill="#6e4ebc"/><rect x="567.26" y="282.16" width="11.05" height="5.38" fill="#8e5daf"/><rect x="567.26" y="276.80" width="11.05" height="5.38" fill="#7350ba"/><rect x="567.26" y="271.44" width="11.05" height="5.38" fill="#6e4dbc"/><rect x="567.26" y="266.07" width="11.05" height="5.38" fill="#7953b8"/><rect x="567.26" y="260.71" width="11.05" height="5.38" fill="#513dc3"/><rect x="567.26" y="255.35" width="11.05" height="5.38" fill="#6448c0"/><rect x="567.26" y="249.98" width="11.05" height="5.38" fill="#5842c4"/><rect x="567.26" y="244.62" width="11.05" height="5.38" fill="#6147c1"/><rect x="567.26" y="239.26" width="11.05" height="5.38" fill="#5842c4"/><rect x="567.26" y="233.89" width="11.05" height="5.38" fill="#5e45c2"/><rect x="567.26" y="228.53" width="11.05" height="5.38" fill="#533ec3"/><rect x="567.26" y="223.17" width="11.05" height="5.38" fill="#4f3bc2"/><rect x="567.26" y="217.80" width="11.05" height="5.38" fill="#503bc2"/><rect x="567.26" y="212.44" width="11.05" height="5.38" fill="#3f2eb7"/><rect x="567.26" y="207.08" width="11.05" height="5.38" fill="#3c2cb4"/><rect x="567.26" y="201.71" width="11.05" height="5.38" fill="#3e2eb6"/><rect x="567.26" y="196.35" width="11.05" height="5.38" fill="#402fb9"/><rect x="567.26" y="190.99" width="11.05" height="5.38" fill="#3426a9"/><rect x="567.26" y="185.62" width="11.05" height="5.38" fill="#3426a9"/><rect x="567.26" y="180.26" width="11.05" height="5.38" fill="#3e2eb6"/><rect x="567.26" y="174.90" width="11.05" height="5.38" fill="#402fb9"/><rect x="567.26" y="169.53" width="11.05" height="5.38" fill="#3728ae"/><rect x="567.26" y="164.17" width="11.05" height="5.38" fill="#3829af"/><rect x="567.26" y="158.81" width="11.05" height="5.38" fill="#3e2eb6"/><rect x="567.26" y="153.44" width="11.05" height="5.38" fill="#4231bb"/><rect x="567.26" y="148.08" width="11.05" height="5.38" fill="#3e2eb6"/><rect x="567.26" y="142.72" width="11.05" height="5.38" fill="#3a2bb1"/><rect x="567.26" y="137.35" width="11.05" height="5.38" fill="#3a2bb1"/><rect x="567.26" y="131.99" width="11.05" height="5.38" fill="#3527ab"/><rect x="567.26" y="126.63" width="11.05" height="5.38" fill="#3526ab"/><rect x="567.26" y="121.26" width="11.05" height="5.38" fill="#3829ae"/><rect x="567.26" y="115.90" width="11.05" height="5.38" fill="#3628ad"/><rect x="567.26" y="110.54" width="11.05" height="5.38" fill="#3b2cb3"/><rect x="567.26" y="105.17" width="11.05" height="5.38" fill="#3728ae"/><rect x="567.26" y="99.81" width="11.05" height="5.38" fill="#3224a5"/><rect x="567.26" y="94.45" width="11.05" height="5.38" fill="#2d1f9b"/><rect x="567.26" y="89.08" width="11.05" height="5.38" fill="#3d2db5"/><rect x="567.26" y="86.40" width="11.05" height="2.70" fill="#3628ac"/><rect x="578.29" y="464.52" width="11.05" height="2.70" fill="#e8b860"/><rect x="578.29" y="459.15" width="11.05" height="5.38" fill="#d8977d"/><rect x="578.29" y="453.79" width="11.05" height="5.38" fill="#c8828d"/><rect x="578.29" y="448.43" width="11.05" height="5.38" fill="#ad6e9f"/><rect x="578.29" y="443.06" width="11.05" height="5.38" fill="#9561ab"/><rect x="578.29" y="437.70" width="11.05" height="5.38" fill="#7d56b6"/><rect x="578.29" y="432.34" width="11.05" height="5.38" fill="#6247c0"/><rect x="578.29" y="426.97" width="11.05" height="5.38" fill="#523ec3"/><rect x="578.29" y="421.61" width="11.05" height="5.38" fill="#4433be"/><rect x="578.29" y="416.25" width="11.05" height="5.38" fill="#3e2db6"/><rect x="578.29" y="410.88" width="11.05" height="5.38" fill="#3123a3"/><rect x="578.29" y="405.52" width="11.05" height="5.38" fill="#2c1e99"/><rect x="578.29" y="400.16" width="11.05" height="5.38" fill="#2a1c94"/><rect x="578.29" y="394.79" width="11.05" height="5.38" fill="#20157e"/><rect x="578.29" y="389.43" width="11.05" height="5.38" fill="#190f6d"/><rect x="578.29" y="384.07" width="11.05" height="5.38" fill="#140c62"/><rect x="578.29" y="378.70" width="11.05" height="5.38" fill="#190f6d"/><rect x="578.29" y="373.34" width="11.05" height="5.38" fill="#180f6b"/><rect x="578.29" y="367.98" width="11.05" height="5.38" fill="#190f6d"/><rect x="578.29" y="362.61" width="11.05" height="5.38" fill="#180f6c"/><rect x="578.29" y="357.25" width="11.05" height="5.38" fill="#1d1379"/><rect x="578.29" y="351.89" width="11.05" height="5.38" fill="#170e6a"/><rect x="578.29" y="346.52" width="11.05" height="5.38" fill="#271a8e"/><rect x="578.29" y="341.16" width="11.05" height="5.38" fill="#271a8e"/><rect x="578.29" y="335.80" width="11.05" height="5.38" fill="#3729ae"/><rect x="578.29" y="330.43" width="11.05" height="5.38" fill="#4634c0"/><rect x="578.29" y="325.07" width="11.05" height="5.38" fill="#4a37c1"/><rect x="578.29" y="319.71" width="11.05" height="5.38" fill="#533ec3"/><rect x="578.29" y="314.34" width="11.05" height="5.38" fill="#5d45c2"/><rect x="578.29" y="308.98" width="11.05" height="5.38" fill="#7451ba"/><rect x="578.29" y="303.62" width="11.05" height="5.38" fill="#7954b8"/><rect x="578.29" y="298.25" width="11.05" height="5.38" fill="#8459b3"/><rect x="578.29" y="292.89" width="11.05" height="5.38" fill="#7551ba"/><rect x="578.29" y="287.53" width="11.05" height="5.38" fill="#543fc3"/><rect x="578.29" y="282.16" width="11.05" height="5.38" fill="#865ab2"/><rect x="578.29" y="276.80" width="11.05" height="5.38" fill="#915fad"/><rect x="578.29" y="271.44" width="11.05" height="5.38" fill="#7753b9"/><rect x="578.29" y="266.07" width="11.05" height="5.38" fill="#7853b9"/><rect x="578.29" y="260.71" width="11.05" height="5.38" fill="#5e45c2"/><rect x="578.29" y="255.35" width="11.05" height="5.38" fill="#7753b9"/><rect x="578.29" y="249.98" width="11.05" height="5.38" fill="#5640c3"/><rect x="578.29" y="244.62" width="11.05" height="5.38" fill="#5842c4"/><rect x="578.29" y="239.26" width="11.05" height="5.38" fill="#4a37c1"/><rect x="578.29" y="233.89" width="11.05" height="5.38" fill="#4d3ac2"/><rect x="578.29" y="228.53" width="11.05" height="5.38" fill="#4d39c2"/><rect x="578.29" y="223.17" width="11.05" height="5.38" fill="#4634c0"/><rect x="578.29" y="217.80" width="11.05" height="5.38" fill="#4c38c1"/><rect x="578.29" y="212.44" width="11.05" height="5.38" fill="#4c39c1"/><rect x="578.29" y="207.08" width="11.05" height="5.38" fill="#4835c0"/><rect x="578.29" y="201.71" width="11.05" height="5.38" fill="#4231bb"/><rect x="578.29" y="196.35" width="11.05" height="5.38" fill="#3426a9"/><rect x="578.29" y="190.99" width="11.05" height="5.38" fill="#3a2ab1"/><rect x="578.29" y="185.62" width="11.05" height="5.38" fill="#3a2ab1"/><rect x="578.29" y="180.26" width="11.05" height="5.38" fill="#3325a7"/><rect x="578.29" y="174.90" width="11.05" height="5.38" fill="#3325a8"/><rect x="578.29" y="169.53" width="11.05" height="5.38" fill="#392ab0"/><rect x="578.29" y="164.17" width="11.05" height="5.38" fill="#3224a6"/><rect x="578.29" y="158.81" width="11.05" height="5.38" fill="#3022a1"/><rect x="578.29" y="153.44" width="11.05" height="5.38" fill="#392ab0"/><rect x="578.29" y="148.08" width="11.05" height="5.38" fill="#3426a9"/><rect x="578.29" y="142.72" width="11.05" height="5.38" fill="#3325a8"/><rect x="578.29" y="137.35" width="11.05" height="5.38" fill="#2f219e"/><rect x="578.29" y="131.99" width="11.05" height="5.38" fill="#3a2bb2"/><rect x="578.29" y="126.63" width="11.05" height="5.38" fill="#3627ac"/><rect x="578.29" y="121.26" width="11.05" height="5.38" fill="#2e209d"/><rect x="578.29" y="115.90" width="11.05" height="5.38" fill="#3527ab"/><rect x="578.29" y="110.54" width="11.05" height="5.38" fill="#392ab0"/><rect x="578.29" y="105.17" width="11.05" height="5.38" fill="#3123a4"/><rect x="578.29" y="99.81" width="11.05" height="5.38" fill="#3829ae"/><rect x="578.29" y="94.45" width="11.05" height="5.38" fill="#2c1e97"/><rect x="578.29" y="89.08" width="11.05" height="5.38" fill="#2f21a0"/><rect x="578.29" y="86.40" width="11.05" height="2.70" fill="#3123a3"/><rect x="589.32" y="464.52" width="11.05" height="2.70" fill="#e9b960"/><rect x="589.32" y="459.15" width="11.05" height="5.38" fill="#da9a7b"/><rect x="589.32" y="453.79" width="11.05" height="5.38" fill="#c8828e"/><rect x="589.32" y="448.43" width="11.05" height="5.38" fill="#ae6f9e"/><rect x="589.32" y="443.06" width="11.05" height="5.38" fill="#9c64a8"/><rect x="589.32" y="437.70" width="11.05" height="5.38" fill="#7b54b8"/><rect x="589.32" y="432.34" width="11.05" height="5.38" fill="#6348c0"/><rect x="589.32" y="426.97" width="11.05" height="5.38" fill="#543fc3"/><rect x="589.32" y="421.61" width="11.05" height="5.38" fill="#4936c1"/><rect x="589.32" y="416.25" width="11.05" height="5.38" fill="#4836c1"/><rect x="589.32" y="410.88" width="11.05" height="5.38" fill="#4331bc"/><rect x="589.32" y="405.52" width="11.05" height="5.38" fill="#3728ad"/><rect x="589.32" y="400.16" width="11.05" height="5.38" fill="#2e209e"/><rect x="589.32" y="394.79" width="11.05" height="5.38" fill="#231786"/><rect x="589.32" y="389.43" width="11.05" height="5.38" fill="#1e1379"/><rect x="589.32" y="384.07" width="11.05" height="5.38" fill="#1f147d"/><rect x="589.32" y="378.70" width="11.05" height="5.38" fill="#20157e"/><rect x="589.32" y="373.34" width="11.05" height="5.38" fill="#1b1274"/><rect x="589.32" y="367.98" width="11.05" height="5.38" fill="#170e68"/><rect x="589.32" y="362.61" width="11.05" height="5.38" fill="#1a1171"/><rect x="589.32" y="357.25" width="11.05" height="5.38" fill="#241887"/><rect x="589.32" y="351.89" width="11.05" height="5.38" fill="#281a8f"/><rect x="589.32" y="346.52" width="11.05" height="5.38" fill="#2a1c94"/><rect x="589.32" y="341.16" width="11.05" height="5.38" fill="#211580"/><rect x="589.32" y="335.80" width="11.05" height="5.38" fill="#3325a8"/><rect x="589.32" y="330.43" width="11.05" height="5.38" fill="#4231bb"/><rect x="589.32" y="325.07" width="11.05" height="5.38" fill="#4936c1"/><rect x="589.32" y="319.71" width="11.05" height="5.38" fill="#4a37c1"/><rect x="589.32" y="314.34" width="11.05" height="5.38" fill="#4a37c1"/><rect x="589.32" y="308.98" width="11.05" height="5.38" fill="#523dc3"/><rect x="589.32" y="303.62" width="11.05" height="5.38" fill="#6a4bbe"/><rect x="589.32" y="298.25" width="11.05" height="5.38" fill="#543fc3"/><rect x="589.32" y="292.89" width="11.05" height="5.38" fill="#684bbe"/><rect x="589.32" y="287.53" width="11.05" height="5.38" fill="#865ab2"/><rect x="589.32" y="282.16" width="11.05" height="5.38" fill="#6b4cbd"/><rect x="589.32" y="276.80" width="11.05" height="5.38" fill="#6549bf"/><rect x="589.32" y="271.44" width="11.05" height="5.38" fill="#6c4dbd"/><rect x="589.32" y="266.07" width="11.05" height="5.38" fill="#5943c4"/><rect x="589.32" y="260.71" width="11.05" height="5.38" fill="#5b43c3"/><rect x="589.32" y="255.35" width="11.05" height="5.38" fill="#6f4ebc"/><rect x="589.32" y="249.98" width="11.05" height="5.38" fill="#5540c3"/><rect x="589.32" y="244.62" width="11.05" height="5.38" fill="#5c44c3"/><rect x="589.32" y="239.26" width="11.05" height="5.38" fill="#5842c4"/><rect x="589.32" y="233.89" width="11.05" height="5.38" fill="#523ec3"/><rect x="589.32" y="228.53" width="11.05" height="5.38" fill="#4936c1"/><rect x="589.32" y="223.17" width="11.05" height="5.38" fill="#4735c0"/><rect x="589.32" y="217.80" width="11.05" height="5.38" fill="#4a37c1"/><rect x="589.32" y="212.44" width="11.05" height="5.38" fill="#4231bb"/><rect x="589.32" y="207.08" width="11.05" height="5.38" fill="#3829af"/><rect x="589.32" y="201.71" width="11.05" height="5.38" fill="#3829af"/><rect x="589.32" y="196.35" width="11.05" height="5.38" fill="#402fb9"/><rect x="589.32" y="190.99" width="11.05" height="5.38" fill="#3729ae"/><rect x="589.32" y="185.62" width="11.05" height="5.38" fill="#3627ac"/><rect x="589.32" y="180.26" width="11.05" height="5.38" fill="#3224a6"/><rect x="589.32" y="174.90" width="11.05" height="5.38" fill="#2f219e"/><rect x="589.32" y="169.53" width="11.05" height="5.38" fill="#3729ae"/><rect x="589.32" y="164.17" width="11.05" height="5.38" fill="#3426a9"/><rect x="589.32" y="158.81" width="11.05" height="5.38" fill="#3224a5"/><rect x="589.32" y="153.44" width="11.05" height="5.38" fill="#3325a8"/><rect x="589.32" y="148.08" width="11.05" height="5.38" fill="#3426a9"/><rect x="589.32" y="142.72" width="11.05" height="5.38" fill="#3325a8"/><rect x="589.32" y="137.35" width="11.05" height="5.38" fill="#3123a3"/><rect x="589.32" y="131.99" width="11.05" height="5.38" fill="#3325a8"/><rect x="589.32" y="126.63" width="11.05" height="5.38" fill="#392ab0"/><rect x="589.32" y="121.26" width="11.05" height="5.38" fill="#3527ab"/><rect x="589.32" y="115.90" width="11.05" height="5.38" fill="#3224a5"/><rect x="589.32" y="110.54" width="11.05" height="5.38" fill="#3325a8"/><rect x="589.32" y="105.17" width="11.05" height="5.38" fill="#3527ab"/><rect x="589.32" y="99.81" width="11.05" height="5.38" fill="#3728ad"/><rect x="589.32" y="94.45" width="11.05" height="5.38" fill="#3224a6"/><rect x="589.32" y="89.08" width="11.05" height="5.38" fill="#3123a4"/><rect x="589.32" y="86.40" width="11.05" height="2.70" fill="#3527ac"/><rect x="600.34" y="464.52" width="11.05" height="2.70" fill="#e7b663"/><rect x="600.34" y="459.15" width="11.05" height="5.38" fill="#d8967e"/><rect x="600.34" y="453.79" width="11.05" height="5.38" fill="#c8828d"/><rect x="600.34" y="448.43" width="11.05" height="5.38" fill="#ae6e9e"/><rect x="600.34" y="443.06" width="11.05" height="5.38" fill="#9360ac"/><rect x="600.34" y="437.70" width="11.05" height="5.38" fill="#7c55b7"/><rect x="600.34" y="432.34" width="11.05" height="5.38" fill="#674abf"/><rect x="600.34" y="426.97" width="11.05" height="5.38" fill="#5742c4"/><rect x="600.34" y="421.61" width="11.05" height="5.38" fill="#4f3bc2"/><rect x="600.34" y="416.25" width="11.05" height="5.38" fill="#4533bf"/><rect x="600.34" y="410.88" width="11.05" height="5.38" fill="#3e2eb7"/><rect x="600.34" y="405.52" width="11.05" height="5.38" fill="#4332bc"/><rect x="600.34" y="400.16" width="11.05" height="5.38" fill="#2f219e"/><rect x="600.34" y="394.79" width="11.05" height="5.38" fill="#271a8d"/><rect x="600.34" y="389.43" width="11.05" height="5.38" fill="#211681"/><rect x="600.34" y="384.07" width="11.05" height="5.38" fill="#1b1173"/><rect x="600.34" y="378.70" width="11.05" height="5.38" fill="#120b5c"/><rect x="600.34" y="373.34" width="11.05" height="5.38" fill="#26198b"/><rect x="600.34" y="367.98" width="11.05" height="5.38" fill="#1c1275"/><rect x="600.34" y="362.61" width="11.05" height="5.38" fill="#1c1277"/><rect x="600.34" y="357.25" width="11.05" height="5.38" fill="#1b1172"/><rect x="600.34" y="351.89" width="11.05" height="5.38" fill="#2a1c93"/><rect x="600.34" y="346.52" width="11.05" height="5.38" fill="#2a1c95"/><rect x="600.34" y="341.16" width="11.05" height="5.38" fill="#3022a1"/><rect x="600.34" y="335.80" width="11.05" height="5.38" fill="#3c2cb3"/><rect x="600.34" y="330.43" width="11.05" height="5.38" fill="#3426a9"/><rect x="600.34" y="325.07" width="11.05" height="5.38" fill="#5640c4"/><rect x="600.34" y="319.71" width="11.05" height="5.38" fill="#4c39c1"/><rect x="600.34" y="314.34" width="11.05" height="5.38" fill="#7250bb"/><rect x="600.34" y="308.98" width="11.05" height="5.38" fill="#674abf"/><rect x="600.34" y="303.62" width="11.05" height="5.38" fill="#7b54b8"/><rect x="600.34" y="298.25" width="11.05" height="5.38" fill="#5a43c3"/><rect x="600.34" y="292.89" width="11.05" height="5.38" fill="#5d45c2"/><rect x="600.34" y="287.53" width="11.05" height="5.38" fill="#7954b8"/><rect x="600.34" y="282.16" width="11.05" height="5.38" fill="#7d55b7"/><rect x="600.34" y="276.80" width="11.05" height="5.38" fill="#7853b9"/><rect x="600.34" y="271.44" width="11.05" height="5.38" fill="#5742c4"/><rect x="600.34" y="266.07" width="11.05" height="5.38" fill="#714fbb"/><rect x="600.34" y="260.71" width="11.05" height="5.38" fill="#6d4dbc"/><rect x="600.34" y="255.35" width="11.05" height="5.38" fill="#5540c3"/><rect x="600.34" y="249.98" width="11.05" height="5.38" fill="#5e45c2"/><rect x="600.34" y="244.62" width="11.05" height="5.38" fill="#4d3ac2"/><rect x="600.34" y="239.26" width="11.05" height="5.38" fill="#5a43c3"/><rect x="600.34" y="233.89" width="11.05" height="5.38" fill="#513cc2"/><rect x="600.34" y="228.53" width="11.05" height="5.38" fill="#543fc3"/><rect x="600.34" y="223.17" width="11.05" height="5.38" fill="#533ec3"/><rect x="600.34" y="217.80" width="11.05" height="5.38" fill="#4735c0"/><rect x="600.34" y="212.44" width="11.05" height="5.38" fill="#402fb8"/><rect x="600.34" y="207.08" width="11.05" height="5.38" fill="#3f2eb7"/><rect x="600.34" y="201.71" width="11.05" height="5.38" fill="#3628ad"/><rect x="600.34" y="196.35" width="11.05" height="5.38" fill="#3627ac"/><rect x="600.34" y="190.99" width="11.05" height="5.38" fill="#3d2db5"/><rect x="600.34" y="185.62" width="11.05" height="5.38" fill="#3728ad"/><rect x="600.34" y="180.26" width="11.05" height="5.38" fill="#3426ab"/><rect x="600.34" y="174.90" width="11.05" height="5.38" fill="#3325a7"/><rect x="600.34" y="169.53" width="11.05" height="5.38" fill="#3829af"/><rect x="600.34" y="164.17" width="11.05" height="5.38" fill="#2d1f9a"/><rect x="600.34" y="158.81" width="11.05" height="5.38" fill="#3022a2"/><rect x="600.34" y="153.44" width="11.05" height="5.38" fill="#2e209d"/><rect x="600.34" y="148.08" width="11.05" height="5.38" fill="#2e209e"/><rect x="600.34" y="142.72" width="11.05" height="5.38" fill="#3224a6"/><rect x="600.34" y="137.35" width="11.05" height="5.38" fill="#3829af"/><rect x="600.34" y="131.99" width="11.05" height="5.38" fill="#3e2eb6"/><rect x="600.34" y="126.63" width="11.05" height="5.38" fill="#3426ab"/><rect x="600.34" y="121.26" width="11.05" height="5.38" fill="#3224a6"/><rect x="600.34" y="115.90" width="11.05" height="5.38" fill="#3123a4"/><rect x="600.34" y="110.54" width="11.05" height="5.38" fill="#3224a5"/><rect x="600.34" y="105.17" width="11.05" height="5.38" fill="#3325a7"/><rect x="600.34" y="99.81" width="11.05" height="5.38" fill="#3729ae"/><rect x="600.34" y="94.45" width="11.05" height="5.38" fill="#2f219e"/><rect x="600.34" y="89.08" width="11.05" height="5.38" fill="#3527ab"/><rect x="600.34" y="86.40" width="11.05" height="2.70" fill="#3325a9"/><rect x="611.37" y="464.52" width="11.05" height="2.70" fill="#e7b564"/><rect x="611.37" y="459.15" width="11.05" height="5.38" fill="#d9997c"/><rect x="611.37" y="453.79" width="11.05" height="5.38" fill="#c8828e"/><rect x="611.37" y="448.43" width="11.05" height="5.38" fill="#ae6f9e"/><rect x="611.37" y="443.06" width="11.05" height="5.38" fill="#9762aa"/><rect x="611.37" y="437.70" width="11.05" height="5.38" fill="#7a54b8"/><rect x="611.37" y="432.34" width="11.05" height="5.38" fill="#674abf"/><rect x="611.37" y="426.97" width="11.05" height="5.38" fill="#5a43c3"/><rect x="611.37" y="421.61" width="11.05" height="5.38" fill="#503cc2"/><rect x="611.37" y="416.25" width="11.05" height="5.38" fill="#4533bf"/><rect x="611.37" y="410.88" width="11.05" height="5.38" fill="#3a2bb1"/><rect x="611.37" y="405.52" width="11.05" height="5.38" fill="#3426a9"/><rect x="611.37" y="400.16" width="11.05" height="5.38" fill="#2f219e"/><rect x="611.37" y="394.79" width="11.05" height="5.38" fill="#271a8e"/><rect x="611.37" y="389.43" width="11.05" height="5.38" fill="#291b92"/><rect x="611.37" y="384.07" width="11.05" height="5.38" fill="#1f147d"/><rect x="611.37" y="378.70" width="11.05" height="5.38" fill="#231784"/><rect x="611.37" y="373.34" width="11.05" height="5.38" fill="#1b1172"/><rect x="611.37" y="367.98" width="11.05" height="5.38" fill="#1b1172"/><rect x="611.37" y="362.61" width="11.05" height="5.38" fill="#251889"/><rect x="611.37" y="357.25" width="11.05" height="5.38" fill="#231786"/><rect x="611.37" y="351.89" width="11.05" height="5.38" fill="#2c1e98"/><rect x="611.37" y="346.52" width="11.05" height="5.38" fill="#2a1c93"/><rect x="611.37" y="341.16" width="11.05" height="5.38" fill="#3527ab"/><rect x="611.37" y="335.80" width="11.05" height="5.38" fill="#2e209d"/><rect x="611.37" y="330.43" width="11.05" height="5.38" fill="#4d39c1"/><rect x="611.37" y="325.07" width="11.05" height="5.38" fill="#503cc2"/><rect x="611.37" y="319.71" width="11.05" height="5.38" fill="#5640c4"/><rect x="611.37" y="314.34" width="11.05" height="5.38" fill="#5f46c2"/><rect x="611.37" y="308.98" width="11.05" height="5.38" fill="#5942c4"/><rect x="611.37" y="303.62" width="11.05" height="5.38" fill="#8258b4"/><rect x="611.37" y="298.25" width="11.05" height="5.38" fill="#714fbb"/><rect x="611.37" y="292.89" width="11.05" height="5.38" fill="#6d4dbd"/><rect x="611.37" y="287.53" width="11.05" height="5.38" fill="#714fbb"/><rect x="611.37" y="282.16" width="11.05" height="5.38" fill="#5c44c3"/><rect x="611.37" y="276.80" width="11.05" height="5.38" fill="#6b4cbd"/><rect x="611.37" y="271.44" width="11.05" height="5.38" fill="#8459b3"/><rect x="611.37" y="266.07" width="11.05" height="5.38" fill="#7a54b8"/><rect x="611.37" y="260.71" width="11.05" height="5.38" fill="#4b38c1"/><rect x="611.37" y="255.35" width="11.05" height="5.38" fill="#6147c1"/><rect x="611.37" y="249.98" width="11.05" height="5.38" fill="#4c38c1"/><rect x="611.37" y="244.62" width="11.05" height="5.38" fill="#5641c4"/><rect x="611.37" y="239.26" width="11.05" height="5.38" fill="#3b2bb2"/><rect x="611.37" y="233.89" width="11.05" height="5.38" fill="#4130b9"/><rect x="611.37" y="228.53" width="11.05" height="5.38" fill="#4b38c1"/><rect x="611.37" y="223.17" width="11.05" height="5.38" fill="#4c39c1"/><rect x="611.37" y="217.80" width="11.05" height="5.38" fill="#402fb8"/><rect x="611.37" y="212.44" width="11.05" height="5.38" fill="#3d2db5"/><rect x="611.37" y="207.08" width="11.05" height="5.38" fill="#3426aa"/><rect x="611.37" y="201.71" width="11.05" height="5.38" fill="#392ab0"/><rect x="611.37" y="196.35" width="11.05" height="5.38" fill="#392ab0"/><rect x="611.37" y="190.99" width="11.05" height="5.38" fill="#3123a4"/><rect x="611.37" y="185.62" width="11.05" height="5.38" fill="#3728ae"/><rect x="611.37" y="180.26" width="11.05" height="5.38" fill="#392ab0"/><rect x="611.37" y="174.90" width="11.05" height="5.38" fill="#3628ad"/><rect x="611.37" y="169.53" width="11.05" height="5.38" fill="#3426aa"/><rect x="611.37" y="164.17" width="11.05" height="5.38" fill="#3a2ab1"/><rect x="611.37" y="158.81" width="11.05" height="5.38" fill="#3123a4"/><rect x="611.37" y="153.44" width="11.05" height="5.38" fill="#3426ab"/><rect x="611.37" y="148.08" width="11.05" height="5.38" fill="#2c1e98"/><rect x="611.37" y="142.72" width="11.05" height="5.38" fill="#3426a9"/><rect x="611.37" y="137.35" width="11.05" height="5.38" fill="#3224a5"/><rect x="611.37" y="131.99" width="11.05" height="5.38" fill="#3022a2"/><rect x="611.37" y="126.63" width="11.05" height="5.38" fill="#2b1d96"/><rect x="611.37" y="121.26" width="11.05" height="5.38" fill="#2c1e99"/><rect x="611.37" y="115.90" width="11.05" height="5.38" fill="#2c1e98"/><rect x="611.37" y="110.54" width="11.05" height="5.38" fill="#291b92"/><rect x="611.37" y="105.17" width="11.05" height="5.38" fill="#3527ab"/><rect x="611.37" y="99.81" width="11.05" height="5.38" fill="#3224a5"/><rect x="611.37" y="94.45" width="11.05" height="5.38" fill="#3123a3"/><rect x="611.37" y="89.08" width="11.05" height="5.38" fill="#3224a6"/><rect x="611.37" y="86.40" width="11.05" height="2.70" fill="#2d1f9b"/><rect x="622.40" y="464.52" width="11.05" height="2.70" fill="#e8b762"/><rect x="622.40" y="459.15" width="11.05" height="5.38" fill="#d8977e"/><rect x="622.40" y="453.79" width="11.05" height="5.38" fill="#ca848c"/><rect x="622.40" y="448.43" width="11.05" height="5.38" fill="#ab6da0"/><rect x="622.40" y="443.06" width="11.05" height="5.38" fill="#9762aa"/><rect x="622.40" y="437.70" width="11.05" height="5.38" fill="#7c55b7"/><rect x="622.40" y="432.34" width="11.05" height="5.38" fill="#6549bf"/><rect x="622.40" y="426.97" width="11.05" height="5.38" fill="#503cc2"/><rect x="622.40" y="421.61" width="11.05" height="5.38" fill="#402fb8"/><rect x="622.40" y="416.25" width="11.05" height="5.38" fill="#4331bc"/><rect x="622.40" y="410.88" width="11.05" height="5.38" fill="#2a1c94"/><rect x="622.40" y="405.52" width="11.05" height="5.38" fill="#291c93"/><rect x="622.40" y="400.16" width="11.05" height="5.38" fill="#2a1c95"/><rect x="622.40" y="394.79" width="11.05" height="5.38" fill="#271a8e"/><rect x="622.40" y="389.43" width="11.05" height="5.38" fill="#1e137a"/><rect x="622.40" y="384.07" width="11.05" height="5.38" fill="#191070"/><rect x="622.40" y="378.70" width="11.05" height="5.38" fill="#140c61"/><rect x="622.40" y="373.34" width="11.05" height="5.38" fill="#150d66"/><rect x="622.40" y="367.98" width="11.05" height="5.38" fill="#140c63"/><rect x="622.40" y="362.61" width="11.05" height="5.38" fill="#20157f"/><rect x="622.40" y="357.25" width="11.05" height="5.38" fill="#160e67"/><rect x="622.40" y="351.89" width="11.05" height="5.38" fill="#241786"/><rect x="622.40" y="346.52" width="11.05" height="5.38" fill="#25198a"/><rect x="622.40" y="341.16" width="11.05" height="5.38" fill="#231784"/><rect x="622.40" y="335.80" width="11.05" height="5.38" fill="#2d1f9b"/><rect x="622.40" y="330.43" width="11.05" height="5.38" fill="#3628ac"/><rect x="622.40" y="325.07" width="11.05" height="5.38" fill="#3c2cb4"/><rect x="622.40" y="319.71" width="11.05" height="5.38" fill="#533ec3"/><rect x="622.40" y="314.34" width="11.05" height="5.38" fill="#5641c4"/><rect x="622.40" y="308.98" width="11.05" height="5.38" fill="#6247c1"/><rect x="622.40" y="303.62" width="11.05" height="5.38" fill="#6549bf"/><rect x="622.40" y="298.25" width="11.05" height="5.38" fill="#6d4dbd"/><rect x="622.40" y="292.89" width="11.05" height="5.38" fill="#7652b9"/><rect x="622.40" y="287.53" width="11.05" height="5.38" fill="#7953b8"/><rect x="622.40" y="282.16" width="11.05" height="5.38" fill="#6b4cbd"/><rect x="622.40" y="276.80" width="11.05" height="5.38" fill="#5742c4"/><rect x="622.40" y="271.44" width="11.05" height="5.38" fill="#674abf"/><rect x="622.40" y="266.07" width="11.05" height="5.38" fill="#5943c4"/><rect x="622.40" y="260.71" width="11.05" height="5.38" fill="#5b43c3"/><rect x="622.40" y="255.35" width="11.05" height="5.38" fill="#543fc3"/><rect x="622.40" y="249.98" width="11.05" height="5.38" fill="#684bbe"/><rect x="622.40" y="244.62" width="11.05" height="5.38" fill="#543fc3"/><rect x="622.40" y="239.26" width="11.05" height="5.38" fill="#4f3bc2"/><rect x="622.40" y="233.89" width="11.05" height="5.38" fill="#4d39c2"/><rect x="622.40" y="228.53" width="11.05" height="5.38" fill="#4432be"/><rect x="622.40" y="223.17" width="11.05" height="5.38" fill="#3829ae"/><rect x="622.40" y="217.80" width="11.05" height="5.38" fill="#4130ba"/><rect x="622.40" y="212.44" width="11.05" height="5.38" fill="#4130ba"/><rect x="622.40" y="207.08" width="11.05" height="5.38" fill="#4533be"/><rect x="622.40" y="201.71" width="11.05" height="5.38" fill="#3325a8"/><rect x="622.40" y="196.35" width="11.05" height="5.38" fill="#392ab1"/><rect x="622.40" y="190.99" width="11.05" height="5.38" fill="#3829ae"/><rect x="622.40" y="185.62" width="11.05" height="5.38" fill="#4231bb"/><rect x="622.40" y="180.26" width="11.05" height="5.38" fill="#3a2bb2"/><rect x="622.40" y="174.90" width="11.05" height="5.38" fill="#3b2cb3"/><rect x="622.40" y="169.53" width="11.05" height="5.38" fill="#2d1f9b"/><rect x="622.40" y="164.17" width="11.05" height="5.38" fill="#3426ab"/><rect x="622.40" y="158.81" width="11.05" height="5.38" fill="#3325a8"/><rect x="622.40" y="153.44" width="11.05" height="5.38" fill="#3022a1"/><rect x="622.40" y="148.08" width="11.05" height="5.38" fill="#2e209e"/><rect x="622.40" y="142.72" width="11.05" height="5.38" fill="#3224a6"/><rect x="622.40" y="137.35" width="11.05" height="5.38" fill="#2f219f"/><rect x="622.40" y="131.99" width="11.05" height="5.38" fill="#2e209d"/><rect x="622.40" y="126.63" width="11.05" height="5.38" fill="#2e209d"/><rect x="622.40" y="121.26" width="11.05" height="5.38" fill="#2d1f9a"/><rect x="622.40" y="115.90" width="11.05" height="5.38" fill="#3325a8"/><rect x="622.40" y="110.54" width="11.05" height="5.38" fill="#2b1d96"/><rect x="622.40" y="105.17" width="11.05" height="5.38" fill="#3325a8"/><rect x="622.40" y="99.81" width="11.05" height="5.38" fill="#3224a5"/><rect x="622.40" y="94.45" width="11.05" height="5.38" fill="#2d1f9a"/><rect x="622.40" y="89.08" width="11.05" height="5.38" fill="#2e209e"/><rect x="622.40" y="86.40" width="11.05" height="2.70" fill="#2a1c95"/><rect x="633.42" y="464.52" width="11.05" height="2.70" fill="#e9bb5e"/><rect x="633.42" y="459.15" width="11.05" height="5.38" fill="#d8977d"/><rect x="633.42" y="453.79" width="11.05" height="5.38" fill="#c8828e"/><rect x="633.42" y="448.43" width="11.05" height="5.38" fill="#ab6da0"/><rect x="633.42" y="443.06" width="11.05" height="5.38" fill="#9360ac"/><rect x="633.42" y="437.70" width="11.05" height="5.38" fill="#8057b5"/><rect x="633.42" y="432.34" width="11.05" height="5.38" fill="#674abf"/><rect x="633.42" y="426.97" width="11.05" height="5.38" fill="#4f3bc2"/><rect x="633.42" y="421.61" width="11.05" height="5.38" fill="#4634c0"/><rect x="633.42" y="416.25" width="11.05" height="5.38" fill="#4735c0"/><rect x="633.42" y="410.88" width="11.05" height="5.38" fill="#3a2ab1"/><rect x="633.42" y="405.52" width="11.05" height="5.38" fill="#4030b9"/><rect x="633.42" y="400.16" width="11.05" height="5.38" fill="#2f219e"/><rect x="633.42" y="394.79" width="11.05" height="5.38" fill="#271a8e"/><rect x="633.42" y="389.43" width="11.05" height="5.38" fill="#241786"/><rect x="633.42" y="384.07" width="11.05" height="5.38" fill="#160d67"/><rect x="633.42" y="378.70" width="11.05" height="5.38" fill="#1f147d"/><rect x="633.42" y="373.34" width="11.05" height="5.38" fill="#150d65"/><rect x="633.42" y="367.98" width="11.05" height="5.38" fill="#231784"/><rect x="633.42" y="362.61" width="11.05" height="5.38" fill="#1f147c"/><rect x="633.42" y="357.25" width="11.05" height="5.38" fill="#2a1c95"/><rect x="633.42" y="351.89" width="11.05" height="5.38" fill="#221682"/><rect x="633.42" y="346.52" width="11.05" height="5.38" fill="#2e209c"/><rect x="633.42" y="341.16" width="11.05" height="5.38" fill="#3123a4"/><rect x="633.42" y="335.80" width="11.05" height="5.38" fill="#3022a2"/><rect x="633.42" y="330.43" width="11.05" height="5.38" fill="#3325a9"/><rect x="633.42" y="325.07" width="11.05" height="5.38" fill="#4e3ac2"/><rect x="633.42" y="319.71" width="11.05" height="5.38" fill="#533ec3"/><rect x="633.42" y="314.34" width="11.05" height="5.38" fill="#533ec3"/><rect x="633.42" y="308.98" width="11.05" height="5.38" fill="#5842c4"/><rect x="633.42" y="303.62" width="11.05" height="5.38" fill="#5a43c3"/><rect x="633.42" y="298.25" width="11.05" height="5.38" fill="#694bbe"/><rect x="633.42" y="292.89" width="11.05" height="5.38" fill="#6c4cbd"/><rect x="633.42" y="287.53" width="11.05" height="5.38" fill="#5c44c3"/><rect x="633.42" y="282.16" width="11.05" height="5.38" fill="#4c39c1"/><rect x="633.42" y="276.80" width="11.05" height="5.38" fill="#5f45c2"/><rect x="633.42" y="271.44" width="11.05" height="5.38" fill="#513dc2"/><rect x="633.42" y="266.07" width="11.05" height="5.38" fill="#5640c3"/><rect x="633.42" y="260.71" width="11.05" height="5.38" fill="#523dc3"/><rect x="633.42" y="255.35" width="11.05" height="5.38" fill="#5741c4"/><rect x="633.42" y="249.98" width="11.05" height="5.38" fill="#4533bf"/><rect x="633.42" y="244.62" width="11.05" height="5.38" fill="#4835c0"/><rect x="633.42" y="239.26" width="11.05" height="5.38" fill="#5e45c2"/><rect x="633.42" y="233.89" width="11.05" height="5.38" fill="#4231bc"/><rect x="633.42" y="228.53" width="11.05" height="5.38" fill="#4533bf"/><rect x="633.42" y="223.17" width="11.05" height="5.38" fill="#543fc3"/><rect x="633.42" y="217.80" width="11.05" height="5.38" fill="#3627ac"/><rect x="633.42" y="212.44" width="11.05" height="5.38" fill="#392ab0"/><rect x="633.42" y="207.08" width="11.05" height="5.38" fill="#4735c0"/><rect x="633.42" y="201.71" width="11.05" height="5.38" fill="#3d2db5"/><rect x="633.42" y="196.35" width="11.05" height="5.38" fill="#3022a1"/><rect x="633.42" y="190.99" width="11.05" height="5.38" fill="#392ab0"/><rect x="633.42" y="185.62" width="11.05" height="5.38" fill="#2b1d97"/><rect x="633.42" y="180.26" width="11.05" height="5.38" fill="#3022a1"/><rect x="633.42" y="174.90" width="11.05" height="5.38" fill="#4130ba"/><rect x="633.42" y="169.53" width="11.05" height="5.38" fill="#3022a2"/><rect x="633.42" y="164.17" width="11.05" height="5.38" fill="#3224a5"/><rect x="633.42" y="158.81" width="11.05" height="5.38" fill="#3123a4"/><rect x="633.42" y="153.44" width="11.05" height="5.38" fill="#3829ae"/><rect x="633.42" y="148.08" width="11.05" height="5.38" fill="#2f219e"/><rect x="633.42" y="142.72" width="11.05" height="5.38" fill="#2c1e99"/><rect x="633.42" y="137.35" width="11.05" height="5.38" fill="#3728ae"/><rect x="633.42" y="131.99" width="11.05" height="5.38" fill="#3123a2"/><rect x="633.42" y="126.63" width="11.05" height="5.38" fill="#3325a8"/><rect x="633.42" y="121.26" width="11.05" height="5.38" fill="#3325a8"/><rect x="633.42" y="115.90" width="11.05" height="5.38" fill="#291b92"/><rect x="633.42" y="110.54" width="11.05" height="5.38" fill="#2f219f"/><rect x="633.42" y="105.17" width="11.05" height="5.38" fill="#3022a2"/><rect x="633.42" y="99.81" width="11.05" height="5.38" fill="#3224a6"/><rect x="633.42" y="94.45" width="11.05" height="5.38" fill="#3123a3"/><rect x="633.42" y="89.08" width="11.05" height="5.38" fill="#2c1e99"/><rect x="633.42" y="86.40" width="11.05" height="2.70" fill="#2c1e98"/><rect x="644.45" y="464.52" width="11.05" height="2.70" fill="#eabe5b"/><rect x="644.45" y="459.15" width="11.05" height="5.38" fill="#d8977d"/><rect x="644.45" y="453.79" width="11.05" height="5.38" fill="#c9838d"/><rect x="644.45" y="448.43" width="11.05" height="5.38" fill="#ac6e9f"/><rect x="644.45" y="443.06" width="11.05" height="5.38" fill="#9762aa"/><rect x="644.45" y="437.70" width="11.05" height="5.38" fill="#7f56b6"/><rect x="644.45" y="432.34" width="11.05" height="5.38" fill="#6a4bbe"/><rect x="644.45" y="426.97" width="11.05" height="5.38" fill="#543fc3"/><rect x="644.45" y="421.61" width="11.05" height="5.38" fill="#4a37c1"/><rect x="644.45" y="416.25" width="11.05" height="5.38" fill="#3829af"/><rect x="644.45" y="410.88" width="11.05" height="5.38" fill="#392ab0"/><rect x="644.45" y="405.52" width="11.05" height="5.38" fill="#2f21a0"/><rect x="644.45" y="400.16" width="11.05" height="5.38" fill="#26198b"/><rect x="644.45" y="394.79" width="11.05" height="5.38" fill="#1e147b"/><rect x="644.45" y="389.43" width="11.05" height="5.38" fill="#211681"/><rect x="644.45" y="384.07" width="11.05" height="5.38" fill="#140c63"/><rect x="644.45" y="378.70" width="11.05" height="5.38" fill="#160e67"/><rect x="644.45" y="373.34" width="11.05" height="5.38" fill="#1a1071"/><rect x="644.45" y="367.98" width="11.05" height="5.38" fill="#19106f"/><rect x="644.45" y="362.61" width="11.05" height="5.38" fill="#1f147d"/><rect x="644.45" y="357.25" width="11.05" height="5.38" fill="#1f147d"/><rect x="644.45" y="351.89" width="11.05" height="5.38" fill="#271a8e"/><rect x="644.45" y="346.52" width="11.05" height="5.38" fill="#291b91"/><rect x="644.45" y="341.16" width="11.05" height="5.38" fill="#2f219e"/><rect x="644.45" y="335.80" width="11.05" height="5.38" fill="#3c2cb4"/><rect x="644.45" y="330.43" width="11.05" height="5.38" fill="#4231bb"/><rect x="644.45" y="325.07" width="11.05" height="5.38" fill="#543fc3"/><rect x="644.45" y="319.71" width="11.05" height="5.38" fill="#6046c1"/><rect x="644.45" y="314.34" width="11.05" height="5.38" fill="#7652b9"/><rect x="644.45" y="308.98" width="11.05" height="5.38" fill="#8459b3"/><rect x="644.45" y="303.62" width="11.05" height="5.38" fill="#7a54b8"/><rect x="644.45" y="298.25" width="11.05" height="5.38" fill="#865ab2"/><rect x="644.45" y="292.89" width="11.05" height="5.38" fill="#8c5daf"/><rect x="644.45" y="287.53" width="11.05" height="5.38" fill="#6348c0"/><rect x="644.45" y="282.16" width="11.05" height="5.38" fill="#6449c0"/><rect x="644.45" y="276.80" width="11.05" height="5.38" fill="#7351ba"/><rect x="644.45" y="271.44" width="11.05" height="5.38" fill="#4634c0"/><rect x="644.45" y="266.07" width="11.05" height="5.38" fill="#533ec3"/><rect x="644.45" y="260.71" width="11.05" height="5.38" fill="#4b38c1"/><rect x="644.45" y="255.35" width="11.05" height="5.38" fill="#533ec3"/><rect x="644.45" y="249.98" width="11.05" height="5.38" fill="#5641c4"/><rect x="644.45" y="244.62" width="11.05" height="5.38" fill="#3022a1"/><rect x="644.45" y="239.26" width="11.05" height="5.38" fill="#4130ba"/><rect x="644.45" y="233.89" width="11.05" height="5.38" fill="#4d3ac2"/><rect x="644.45" y="228.53" width="11.05" height="5.38" fill="#4634c0"/><rect x="644.45" y="223.17" width="11.05" height="5.38" fill="#3c2cb4"/><rect x="644.45" y="217.80" width="11.05" height="5.38" fill="#3b2cb3"/><rect x="644.45" y="212.44" width="11.05" height="5.38" fill="#3a2ab1"/><rect x="644.45" y="207.08" width="11.05" height="5.38" fill="#3426a9"/><rect x="644.45" y="201.71" width="11.05" height="5.38" fill="#3829af"/><rect x="644.45" y="196.35" width="11.05" height="5.38" fill="#3224a7"/><rect x="644.45" y="190.99" width="11.05" height="5.38" fill="#3d2db5"/><rect x="644.45" y="185.62" width="11.05" height="5.38" fill="#3022a0"/><rect x="644.45" y="180.26" width="11.05" height="5.38" fill="#2d1f9b"/><rect x="644.45" y="174.90" width="11.05" height="5.38" fill="#3426a9"/><rect x="644.45" y="169.53" width="11.05" height="5.38" fill="#3123a3"/><rect x="644.45" y="164.17" width="11.05" height="5.38" fill="#3022a1"/><rect x="644.45" y="158.81" width="11.05" height="5.38" fill="#2e209d"/><rect x="644.45" y="153.44" width="11.05" height="5.38" fill="#2c1e98"/><rect x="644.45" y="148.08" width="11.05" height="5.38" fill="#2d1f9a"/><rect x="644.45" y="142.72" width="11.05" height="5.38" fill="#3022a2"/><rect x="644.45" y="137.35" width="11.05" height="5.38" fill="#3224a6"/><rect x="644.45" y="131.99" width="11.05" height="5.38" fill="#3728ad"/><rect x="644.45" y="126.63" width="11.05" height="5.38" fill="#2a1c95"/><rect x="644.45" y="121.26" width="11.05" height="5.38" fill="#3022a0"/><rect x="644.45" y="115.90" width="11.05" height="5.38" fill="#2f219f"/><rect x="644.45" y="110.54" width="11.05" height="5.38" fill="#3123a4"/><rect x="644.45" y="105.17" width="11.05" height="5.38" fill="#3022a0"/><rect x="644.45" y="99.81" width="11.05" height="5.38" fill="#2f219e"/><rect x="644.45" y="94.45" width="11.05" height="5.38" fill="#2d1f9b"/><rect x="644.45" y="89.08" width="11.05" height="5.38" fill="#2f219f"/><rect x="644.45" y="86.40" width="11.05" height="2.70" fill="#3022a2"/><rect x="655.48" y="464.52" width="11.05" height="2.70" fill="#e9ba5f"/><rect x="655.48" y="459.15" width="11.05" height="5.38" fill="#d9987d"/><rect x="655.48" y="453.79" width="11.05" height="5.38" fill="#ca848d"/><rect x="655.48" y="448.43" width="11.05" height="5.38" fill="#aa6ca0"/><rect x="655.48" y="443.06" width="11.05" height="5.38" fill="#9762aa"/><rect x="655.48" y="437.70" width="11.05" height="5.38" fill="#7753b9"/><rect x="655.48" y="432.34" width="11.05" height="5.38" fill="#5e45c2"/><rect x="655.48" y="426.97" width="11.05" height="5.38" fill="#503cc2"/><rect x="655.48" y="421.61" width="11.05" height="5.38" fill="#4634c0"/><rect x="655.48" y="416.25" width="11.05" height="5.38" fill="#392ab1"/><rect x="655.48" y="410.88" width="11.05" height="5.38" fill="#3123a4"/><rect x="655.48" y="405.52" width="11.05" height="5.38" fill="#251889"/><rect x="655.48" y="400.16" width="11.05" height="5.38" fill="#221682"/><rect x="655.48" y="394.79" width="11.05" height="5.38" fill="#170e69"/><rect x="655.48" y="389.43" width="11.05" height="5.38" fill="#180f6c"/><rect x="655.48" y="384.07" width="11.05" height="5.38" fill="#110a58"/><rect x="655.48" y="378.70" width="11.05" height="5.38" fill="#0d084a"/><rect x="655.48" y="373.34" width="11.05" height="5.38" fill="#140c62"/><rect x="655.48" y="367.98" width="11.05" height="5.38" fill="#0d084b"/><rect x="655.48" y="362.61" width="11.05" height="5.38" fill="#120b5a"/><rect x="655.48" y="357.25" width="11.05" height="5.38" fill="#130b5f"/><rect x="655.48" y="351.89" width="11.05" height="5.38" fill="#191070"/><rect x="655.48" y="346.52" width="11.05" height="5.38" fill="#2a1c94"/><rect x="655.48" y="341.16" width="11.05" height="5.38" fill="#251888"/><rect x="655.48" y="335.80" width="11.05" height="5.38" fill="#543fc3"/><rect x="655.48" y="330.43" width="11.05" height="5.38" fill="#3526ab"/><rect x="655.48" y="325.07" width="11.05" height="5.38" fill="#4634c0"/><rect x="655.48" y="319.71" width="11.05" height="5.38" fill="#4735c0"/><rect x="655.48" y="314.34" width="11.05" height="5.38" fill="#543fc3"/><rect x="655.48" y="308.98" width="11.05" height="5.38" fill="#523dc3"/><rect x="655.48" y="303.62" width="11.05" height="5.38" fill="#684abe"/><rect x="655.48" y="298.25" width="11.05" height="5.38" fill="#5842c4"/><rect x="655.48" y="292.89" width="11.05" height="5.38" fill="#5741c4"/><rect x="655.48" y="287.53" width="11.05" height="5.38" fill="#7752b9"/><rect x="655.48" y="282.16" width="11.05" height="5.38" fill="#7953b8"/><rect x="655.48" y="276.80" width="11.05" height="5.38" fill="#7551ba"/><rect x="655.48" y="271.44" width="11.05" height="5.38" fill="#5d45c2"/><rect x="655.48" y="266.07" width="11.05" height="5.38" fill="#6046c1"/><rect x="655.48" y="260.71" width="11.05" height="5.38" fill="#5b44c3"/><rect x="655.48" y="255.35" width="11.05" height="5.38" fill="#523dc3"/><rect x="655.48" y="249.98" width="11.05" height="5.38" fill="#4836c0"/><rect x="655.48" y="244.62" width="11.05" height="5.38" fill="#4533bf"/><rect x="655.48" y="239.26" width="11.05" height="5.38" fill="#523dc3"/><rect x="655.48" y="233.89" width="11.05" height="5.38" fill="#3e2eb7"/><rect x="655.48" y="228.53" width="11.05" height="5.38" fill="#3829ae"/><rect x="655.48" y="223.17" width="11.05" height="5.38" fill="#4432bd"/><rect x="655.48" y="217.80" width="11.05" height="5.38" fill="#3e2db6"/><rect x="655.48" y="212.44" width="11.05" height="5.38" fill="#4332bc"/><rect x="655.48" y="207.08" width="11.05" height="5.38" fill="#2f219f"/><rect x="655.48" y="201.71" width="11.05" height="5.38" fill="#3527ac"/><rect x="655.48" y="196.35" width="11.05" height="5.38" fill="#3123a3"/><rect x="655.48" y="190.99" width="11.05" height="5.38" fill="#3426a9"/><rect x="655.48" y="185.62" width="11.05" height="5.38" fill="#3123a4"/><rect x="655.48" y="180.26" width="11.05" height="5.38" fill="#3d2db4"/><rect x="655.48" y="174.90" width="11.05" height="5.38" fill="#3829ae"/><rect x="655.48" y="169.53" width="11.05" height="5.38" fill="#3224a6"/><rect x="655.48" y="164.17" width="11.05" height="5.38" fill="#3224a5"/><rect x="655.48" y="158.81" width="11.05" height="5.38" fill="#3426aa"/><rect x="655.48" y="153.44" width="11.05" height="5.38" fill="#2e209c"/><rect x="655.48" y="148.08" width="11.05" height="5.38" fill="#281b90"/><rect x="655.48" y="142.72" width="11.05" height="5.38" fill="#3224a5"/><rect x="655.48" y="137.35" width="11.05" height="5.38" fill="#2f21a0"/><rect x="655.48" y="131.99" width="11.05" height="5.38" fill="#2c1e99"/><rect x="655.48" y="126.63" width="11.05" height="5.38" fill="#3022a1"/><rect x="655.48" y="121.26" width="11.05" height="5.38" fill="#2d1f9b"/><rect x="655.48" y="115.90" width="11.05" height="5.38" fill="#2e209c"/><rect x="655.48" y="110.54" width="11.05" height="5.38" fill="#3123a3"/><rect x="655.48" y="105.17" width="11.05" height="5.38" fill="#2d1f9b"/><rect x="655.48" y="99.81" width="11.05" height="5.38" fill="#3022a0"/><rect x="655.48" y="94.45" width="11.05" height="5.38" fill="#3022a2"/><rect x="655.48" y="89.08" width="11.05" height="5.38" fill="#2f21a0"/><rect x="655.48" y="86.40" width="11.05" height="2.70" fill="#2b1d96"/><rect x="666.50" y="464.52" width="11.05" height="2.70" fill="#e8b762"/><rect x="666.50" y="459.15" width="11.05" height="5.38" fill="#d8967e"/><rect x="666.50" y="453.79" width="11.05" height="5.38" fill="#c8828e"/><rect x="666.50" y="448.43" width="11.05" height="5.38" fill="#a569a3"/><rect x="666.50" y="443.06" width="11.05" height="5.38" fill="#9360ac"/><rect x="666.50" y="437.70" width="11.05" height="5.38" fill="#714fbb"/><rect x="666.50" y="432.34" width="11.05" height="5.38" fill="#6448c0"/><rect x="666.50" y="426.97" width="11.05" height="5.38" fill="#4e3ac2"/><rect x="666.50" y="421.61" width="11.05" height="5.38" fill="#4231bb"/><rect x="666.50" y="416.25" width="11.05" height="5.38" fill="#3e2eb7"/><rect x="666.50" y="410.88" width="11.05" height="5.38" fill="#2d1f9b"/><rect x="666.50" y="405.52" width="11.05" height="5.38" fill="#231785"/><rect x="666.50" y="400.16" width="11.05" height="5.38" fill="#221683"/><rect x="666.50" y="394.79" width="11.05" height="5.38" fill="#1e137a"/><rect x="666.50" y="389.43" width="11.05" height="5.38" fill="#180f6c"/><rect x="666.50" y="384.07" width="11.05" height="5.38" fill="#0d094d"/><rect x="666.50" y="378.70" width="11.05" height="5.38" fill="#110b58"/><rect x="666.50" y="373.34" width="11.05" height="5.38" fill="#150d65"/><rect x="666.50" y="367.98" width="11.05" height="5.38" fill="#110a57"/><rect x="666.50" y="362.61" width="11.05" height="5.38" fill="#160e67"/><rect x="666.50" y="357.25" width="11.05" height="5.38" fill="#150d65"/><rect x="666.50" y="351.89" width="11.05" height="5.38" fill="#271a8d"/><rect x="666.50" y="346.52" width="11.05" height="5.38" fill="#25198a"/><rect x="666.50" y="341.16" width="11.05" height="5.38" fill="#26198c"/><rect x="666.50" y="335.80" width="11.05" height="5.38" fill="#3123a3"/><rect x="666.50" y="330.43" width="11.05" height="5.38" fill="#3f2eb7"/><rect x="666.50" y="325.07" width="11.05" height="5.38" fill="#4130ba"/><rect x="666.50" y="319.71" width="11.05" height="5.38" fill="#4d39c1"/><rect x="666.50" y="314.34" width="11.05" height="5.38" fill="#4c39c1"/><rect x="666.50" y="308.98" width="11.05" height="5.38" fill="#4a37c1"/><rect x="666.50" y="303.62" width="11.05" height="5.38" fill="#7250bb"/><rect x="666.50" y="298.25" width="11.05" height="5.38" fill="#7350ba"/><rect x="666.50" y="292.89" width="11.05" height="5.38" fill="#7a54b8"/><rect x="666.50" y="287.53" width="11.05" height="5.38" fill="#6549bf"/><rect x="666.50" y="282.16" width="11.05" height="5.38" fill="#6f4ebc"/><rect x="666.50" y="276.80" width="11.05" height="5.38" fill="#5b44c3"/><rect x="666.50" y="271.44" width="11.05" height="5.38" fill="#6c4cbd"/><rect x="666.50" y="266.07" width="11.05" height="5.38" fill="#5742c4"/><rect x="666.50" y="260.71" width="11.05" height="5.38" fill="#4231bb"/><rect x="666.50" y="255.35" width="11.05" height="5.38" fill="#5a43c3"/><rect x="666.50" y="249.98" width="11.05" height="5.38" fill="#4231bb"/><rect x="666.50" y="244.62" width="11.05" height="5.38" fill="#674abf"/><rect x="666.50" y="239.26" width="11.05" height="5.38" fill="#4634c0"/><rect x="666.50" y="233.89" width="11.05" height="5.38" fill="#3325a8"/><rect x="666.50" y="228.53" width="11.05" height="5.38" fill="#4433be"/><rect x="666.50" y="223.17" width="11.05" height="5.38" fill="#3829af"/><rect x="666.50" y="217.80" width="11.05" height="5.38" fill="#3224a5"/><rect x="666.50" y="212.44" width="11.05" height="5.38" fill="#3527ab"/><rect x="666.50" y="207.08" width="11.05" height="5.38" fill="#2e209d"/><rect x="666.50" y="201.71" width="11.05" height="5.38" fill="#3426a9"/><rect x="666.50" y="196.35" width="11.05" height="5.38" fill="#3325a7"/><rect x="666.50" y="190.99" width="11.05" height="5.38" fill="#3325a8"/><rect x="666.50" y="185.62" width="11.05" height="5.38" fill="#3224a6"/><rect x="666.50" y="180.26" width="11.05" height="5.38" fill="#3123a3"/><rect x="666.50" y="174.90" width="11.05" height="5.38" fill="#3628ac"/><rect x="666.50" y="169.53" width="11.05" height="5.38" fill="#2d1f9b"/><rect x="666.50" y="164.17" width="11.05" height="5.38" fill="#3224a6"/><rect x="666.50" y="158.81" width="11.05" height="5.38" fill="#3527ac"/><rect x="666.50" y="153.44" width="11.05" height="5.38" fill="#3628ac"/><rect x="666.50" y="148.08" width="11.05" height="5.38" fill="#2c1e98"/><rect x="666.50" y="142.72" width="11.05" height="5.38" fill="#3224a6"/><rect x="666.50" y="137.35" width="11.05" height="5.38" fill="#2c1e99"/><rect x="666.50" y="131.99" width="11.05" height="5.38" fill="#3022a1"/><rect x="666.50" y="126.63" width="11.05" height="5.38" fill="#2d1f9b"/><rect x="666.50" y="121.26" width="11.05" height="5.38" fill="#2a1c93"/><rect x="666.50" y="115.90" width="11.05" height="5.38" fill="#25198a"/><rect x="666.50" y="110.54" width="11.05" height="5.38" fill="#2d1f9a"/><rect x="666.50" y="105.17" width="11.05" height="5.38" fill="#271a8d"/><rect x="666.50" y="99.81" width="11.05" height="5.38" fill="#251889"/><rect x="666.50" y="94.45" width="11.05" height="5.38" fill="#291b92"/><rect x="666.50" y="89.08" width="11.05" height="5.38" fill="#251889"/><rect x="666.50" y="86.40" width="11.05" height="2.70" fill="#231784"/><rect x="677.53" y="464.52" width="11.05" height="2.70" fill="#e9ba5f"/><rect x="677.53" y="459.15" width="11.05" height="5.38" fill="#d69381"/><rect x="677.53" y="453.79" width="11.05" height="5.38" fill="#c47e91"/><rect x="677.53" y="448.43" width="11.05" height="5.38" fill="#aa6ca0"/><rect x="677.53" y="443.06" width="11.05" height="5.38" fill="#8e5eae"/><rect x="677.53" y="437.70" width="11.05" height="5.38" fill="#7451ba"/><rect x="677.53" y="432.34" width="11.05" height="5.38" fill="#5d45c2"/><rect x="677.53" y="426.97" width="11.05" height="5.38" fill="#4634c0"/><rect x="677.53" y="421.61" width="11.05" height="5.38" fill="#4231bb"/><rect x="677.53" y="416.25" width="11.05" height="5.38" fill="#3628ad"/><rect x="677.53" y="410.88" width="11.05" height="5.38" fill="#2e209c"/><rect x="677.53" y="405.52" width="11.05" height="5.38" fill="#241888"/><rect x="677.53" y="400.16" width="11.05" height="5.38" fill="#241888"/><rect x="677.53" y="394.79" width="11.05" height="5.38" fill="#1f147d"/><rect x="677.53" y="389.43" width="11.05" height="5.38" fill="#1c1276"/><rect x="677.53" y="384.07" width="11.05" height="5.38" fill="#150d66"/><rect x="677.53" y="378.70" width="11.05" height="5.38" fill="#1d1378"/><rect x="677.53" y="373.34" width="11.05" height="5.38" fill="#170e69"/><rect x="677.53" y="367.98" width="11.05" height="5.38" fill="#170e69"/><rect x="677.53" y="362.61" width="11.05" height="5.38" fill="#211681"/><rect x="677.53" y="357.25" width="11.05" height="5.38" fill="#281a8f"/><rect x="677.53" y="351.89" width="11.05" height="5.38" fill="#221784"/><rect x="677.53" y="346.52" width="11.05" height="5.38" fill="#2f219f"/><rect x="677.53" y="341.16" width="11.05" height="5.38" fill="#25198a"/><rect x="677.53" y="335.80" width="11.05" height="5.38" fill="#3627ac"/><rect x="677.53" y="330.43" width="11.05" height="5.38" fill="#3c2cb3"/><rect x="677.53" y="325.07" width="11.05" height="5.38" fill="#523dc3"/><rect x="677.53" y="319.71" width="11.05" height="5.38" fill="#402fb9"/><rect x="677.53" y="314.34" width="11.05" height="5.38" fill="#6147c1"/><rect x="677.53" y="308.98" width="11.05" height="5.38" fill="#5842c4"/><rect x="677.53" y="303.62" width="11.05" height="5.38" fill="#7b54b8"/><rect x="677.53" y="298.25" width="11.05" height="5.38" fill="#674abf"/><rect x="677.53" y="292.89" width="11.05" height="5.38" fill="#6649bf"/><rect x="677.53" y="287.53" width="11.05" height="5.38" fill="#6e4ebc"/><rect x="677.53" y="282.16" width="11.05" height="5.38" fill="#7e56b6"/><rect x="677.53" y="276.80" width="11.05" height="5.38" fill="#5a43c3"/><rect x="677.53" y="271.44" width="11.05" height="5.38" fill="#6a4cbe"/><rect x="677.53" y="266.07" width="11.05" height="5.38" fill="#533ec3"/><rect x="677.53" y="260.71" width="11.05" height="5.38" fill="#4432be"/><rect x="677.53" y="255.35" width="11.05" height="5.38" fill="#503cc2"/><rect x="677.53" y="249.98" width="11.05" height="5.38" fill="#4f3bc2"/><rect x="677.53" y="244.62" width="11.05" height="5.38" fill="#4734c0"/><rect x="677.53" y="239.26" width="11.05" height="5.38" fill="#4c39c1"/><rect x="677.53" y="233.89" width="11.05" height="5.38" fill="#3627ac"/><rect x="677.53" y="228.53" width="11.05" height="5.38" fill="#3e2eb6"/><rect x="677.53" y="223.17" width="11.05" height="5.38" fill="#3729ae"/><rect x="677.53" y="217.80" width="11.05" height="5.38" fill="#392ab1"/><rect x="677.53" y="212.44" width="11.05" height="5.38" fill="#3a2bb1"/><rect x="677.53" y="207.08" width="11.05" height="5.38" fill="#3a2bb2"/><rect x="677.53" y="201.71" width="11.05" height="5.38" fill="#3325a7"/><rect x="677.53" y="196.35" width="11.05" height="5.38" fill="#3728ad"/><rect x="677.53" y="190.99" width="11.05" height="5.38" fill="#2f21a0"/><rect x="677.53" y="185.62" width="11.05" height="5.38" fill="#2d1f9c"/><rect x="677.53" y="180.26" width="11.05" height="5.38" fill="#3224a5"/><rect x="677.53" y="174.90" width="11.05" height="5.38" fill="#2f219f"/><rect x="677.53" y="169.53" width="11.05" height="5.38" fill="#2d1f9b"/><rect x="677.53" y="164.17" width="11.05" height="5.38" fill="#2c1e98"/><rect x="677.53" y="158.81" width="11.05" height="5.38" fill="#2d1f9a"/><rect x="677.53" y="153.44" width="11.05" height="5.38" fill="#2c1e99"/><rect x="677.53" y="148.08" width="11.05" height="5.38" fill="#2b1d96"/><rect x="677.53" y="142.72" width="11.05" height="5.38" fill="#2c1e99"/><rect x="677.53" y="137.35" width="11.05" height="5.38" fill="#2c1e97"/><rect x="677.53" y="131.99" width="11.05" height="5.38" fill="#251889"/><rect x="677.53" y="126.63" width="11.05" height="5.38" fill="#2e209c"/><rect x="677.53" y="121.26" width="11.05" height="5.38" fill="#291c93"/><rect x="677.53" y="115.90" width="11.05" height="5.38" fill="#291b92"/><rect x="677.53" y="110.54" width="11.05" height="5.38" fill="#291b91"/><rect x="677.53" y="105.17" width="11.05" height="5.38" fill="#2d1f9c"/><rect x="677.53" y="99.81" width="11.05" height="5.38" fill="#2a1c93"/><rect x="677.53" y="94.45" width="11.05" height="5.38" fill="#2b1d95"/><rect x="677.53" y="89.08" width="11.05" height="5.38" fill="#281a8f"/><rect x="677.53" y="86.40" width="11.05" height="2.70" fill="#291b92"/><rect x="688.55" y="464.52" width="11.05" height="2.70" fill="#e9ba5f"/><rect x="688.55" y="459.15" width="11.05" height="5.38" fill="#d8977e"/><rect x="688.55" y="453.79" width="11.05" height="5.38" fill="#c9838d"/><rect x="688.55" y="448.43" width="11.05" height="5.38" fill="#ab6da0"/><rect x="688.55" y="443.06" width="11.05" height="5.38" fill="#9862aa"/><rect x="688.55" y="437.70" width="11.05" height="5.38" fill="#714fbb"/><rect x="688.55" y="432.34" width="11.05" height="5.38" fill="#5e45c2"/><rect x="688.55" y="426.97" width="11.05" height="5.38" fill="#4f3bc2"/><rect x="688.55" y="421.61" width="11.05" height="5.38" fill="#3f2fb8"/><rect x="688.55" y="416.25" width="11.05" height="5.38" fill="#3f2fb8"/><rect x="688.55" y="410.88" width="11.05" height="5.38" fill="#2f21a0"/><rect x="688.55" y="405.52" width="11.05" height="5.38" fill="#2f219e"/><rect x="688.55" y="400.16" width="11.05" height="5.38" fill="#211580"/><rect x="688.55" y="394.79" width="11.05" height="5.38" fill="#1f147c"/><rect x="688.55" y="389.43" width="11.05" height="5.38" fill="#1a1171"/><rect x="688.55" y="384.07" width="11.05" height="5.38" fill="#170f6b"/><rect x="688.55" y="378.70" width="11.05" height="5.38" fill="#180f6d"/><rect x="688.55" y="373.34" width="11.05" height="5.38" fill="#180f6b"/><rect x="688.55" y="367.98" width="11.05" height="5.38" fill="#19106f"/><rect x="688.55" y="362.61" width="11.05" height="5.38" fill="#170e68"/><rect x="688.55" y="357.25" width="11.05" height="5.38" fill="#271a8e"/><rect x="688.55" y="351.89" width="11.05" height="5.38" fill="#271a8e"/><rect x="688.55" y="346.52" width="11.05" height="5.38" fill="#3325a7"/><rect x="688.55" y="341.16" width="11.05" height="5.38" fill="#2f21a0"/><rect x="688.55" y="335.80" width="11.05" height="5.38" fill="#3426aa"/><rect x="688.55" y="330.43" width="11.05" height="5.38" fill="#4f3bc2"/><rect x="688.55" y="325.07" width="11.05" height="5.38" fill="#3e2eb6"/><rect x="688.55" y="319.71" width="11.05" height="5.38" fill="#5b44c3"/><rect x="688.55" y="314.34" width="11.05" height="5.38" fill="#5741c4"/><rect x="688.55" y="308.98" width="11.05" height="5.38" fill="#5540c3"/><rect x="688.55" y="303.62" width="11.05" height="5.38" fill="#503bc2"/><rect x="688.55" y="298.25" width="11.05" height="5.38" fill="#4f3bc2"/><rect x="688.55" y="292.89" width="11.05" height="5.38" fill="#6448c0"/><rect x="688.55" y="287.53" width="11.05" height="5.38" fill="#6248c0"/><rect x="688.55" y="282.16" width="11.05" height="5.38" fill="#6348c0"/><rect x="688.55" y="276.80" width="11.05" height="5.38" fill="#523ec3"/><rect x="688.55" y="271.44" width="11.05" height="5.38" fill="#684abe"/><rect x="688.55" y="266.07" width="11.05" height="5.38" fill="#4533be"/><rect x="688.55" y="260.71" width="11.05" height="5.38" fill="#4735c0"/><rect x="688.55" y="255.35" width="11.05" height="5.38" fill="#543fc3"/><rect x="688.55" y="249.98" width="11.05" height="5.38" fill="#4b38c1"/><rect x="688.55" y="244.62" width="11.05" height="5.38" fill="#402fb8"/><rect x="688.55" y="239.26" width="11.05" height="5.38" fill="#3f2fb8"/><rect x="688.55" y="233.89" width="11.05" height="5.38" fill="#4130b9"/><rect x="688.55" y="228.53" width="11.05" height="5.38" fill="#3325a8"/><rect x="688.55" y="223.17" width="11.05" height="5.38" fill="#3627ac"/><rect x="688.55" y="217.80" width="11.05" height="5.38" fill="#4332bc"/><rect x="688.55" y="212.44" width="11.05" height="5.38" fill="#3729ae"/><rect x="688.55" y="207.08" width="11.05" height="5.38" fill="#3325a7"/><rect x="688.55" y="201.71" width="11.05" height="5.38" fill="#3123a3"/><rect x="688.55" y="196.35" width="11.05" height="5.38" fill="#3123a4"/><rect x="688.55" y="190.99" width="11.05" height="5.38" fill="#3728ad"/><rect x="688.55" y="185.62" width="11.05" height="5.38" fill="#2f21a0"/><rect x="688.55" y="180.26" width="11.05" height="5.38" fill="#3123a3"/><rect x="688.55" y="174.90" width="11.05" height="5.38" fill="#3325a8"/><rect x="688.55" y="169.53" width="11.05" height="5.38" fill="#3022a2"/><rect x="688.55" y="164.17" width="11.05" height="5.38" fill="#2f219f"/><rect x="688.55" y="158.81" width="11.05" height="5.38" fill="#2c1e98"/><rect x="688.55" y="153.44" width="11.05" height="5.38" fill="#3123a3"/><rect x="688.55" y="148.08" width="11.05" height="5.38" fill="#2f219f"/><rect x="688.55" y="142.72" width="11.05" height="5.38" fill="#281b90"/><rect x="688.55" y="137.35" width="11.05" height="5.38" fill="#3123a4"/><rect x="688.55" y="131.99" width="11.05" height="5.38" fill="#2e209d"/><rect x="688.55" y="126.63" width="11.05" height="5.38" fill="#2a1c95"/><rect x="688.55" y="121.26" width="11.05" height="5.38" fill="#271a8e"/><rect x="688.55" y="115.90" width="11.05" height="5.38" fill="#2e209d"/><rect x="688.55" y="110.54" width="11.05" height="5.38" fill="#2c1e98"/><rect x="688.55" y="105.17" width="11.05" height="5.38" fill="#281b90"/><rect x="688.55" y="99.81" width="11.05" height="5.38" fill="#2d1f9b"/><rect x="688.55" y="94.45" width="11.05" height="5.38" fill="#271a8d"/><rect x="688.55" y="89.08" width="11.05" height="5.38" fill="#2d1f9a"/><rect x="688.55" y="86.40" width="11.05" height="2.70" fill="#291b92"/><rect x="699.58" y="464.52" width="11.05" height="2.70" fill="#e8b762"/><rect x="699.58" y="459.15" width="11.05" height="5.38" fill="#d7947f"/><rect x="699.58" y="453.79" width="11.05" height="5.38" fill="#c68090"/><rect x="699.58" y="448.43" width="11.05" height="5.38" fill="#aa6ca1"/><rect x="699.58" y="443.06" width="11.05" height="5.38" fill="#8c5cb0"/><rect x="699.58" y="437.70" width="11.05" height="5.38" fill="#7451ba"/><rect x="699.58" y="432.34" width="11.05" height="5.38" fill="#6046c1"/><rect x="699.58" y="426.97" width="11.05" height="5.38" fill="#523ec3"/><rect x="699.58" y="421.61" width="11.05" height="5.38" fill="#503cc2"/><rect x="699.58" y="416.25" width="11.05" height="5.38" fill="#3527ac"/><rect x="699.58" y="410.88" width="11.05" height="5.38" fill="#3325a9"/><rect x="699.58" y="405.52" width="11.05" height="5.38" fill="#271a8e"/><rect x="699.58" y="400.16" width="11.05" height="5.38" fill="#20157f"/><rect x="699.58" y="394.79" width="11.05" height="5.38" fill="#211580"/><rect x="699.58" y="389.43" width="11.05" height="5.38" fill="#140c63"/><rect x="699.58" y="384.07" width="11.05" height="5.38" fill="#190f6d"/><rect x="699.58" y="378.70" width="11.05" height="5.38" fill="#100a56"/><rect x="699.58" y="373.34" width="11.05" height="5.38" fill="#1e137a"/><rect x="699.58" y="367.98" width="11.05" height="5.38" fill="#1a1071"/><rect x="699.58" y="362.61" width="11.05" height="5.38" fill="#1a1172"/><rect x="699.58" y="357.25" width="11.05" height="5.38" fill="#271a8d"/><rect x="699.58" y="351.89" width="11.05" height="5.38" fill="#1c1277"/><rect x="699.58" y="346.52" width="11.05" height="5.38" fill="#3123a4"/><rect x="699.58" y="341.16" width="11.05" height="5.38" fill="#3728ad"/><rect x="699.58" y="335.80" width="11.05" height="5.38" fill="#4130ba"/><rect x="699.58" y="330.43" width="11.05" height="5.38" fill="#4634c0"/><rect x="699.58" y="325.07" width="11.05" height="5.38" fill="#4533bf"/><rect x="699.58" y="319.71" width="11.05" height="5.38" fill="#5842c4"/><rect x="699.58" y="314.34" width="11.05" height="5.38" fill="#6549bf"/><rect x="699.58" y="308.98" width="11.05" height="5.38" fill="#4f3bc2"/><rect x="699.58" y="303.62" width="11.05" height="5.38" fill="#7652b9"/><rect x="699.58" y="298.25" width="11.05" height="5.38" fill="#8057b5"/><rect x="699.58" y="292.89" width="11.05" height="5.38" fill="#7d56b6"/><rect x="699.58" y="287.53" width="11.05" height="5.38" fill="#7954b8"/><rect x="699.58" y="282.16" width="11.05" height="5.38" fill="#6f4ebc"/><rect x="699.58" y="276.80" width="11.05" height="5.38" fill="#4d39c2"/><rect x="699.58" y="271.44" width="11.05" height="5.38" fill="#5a43c3"/><rect x="699.58" y="266.07" width="11.05" height="5.38" fill="#4835c0"/><rect x="699.58" y="260.71" width="11.05" height="5.38" fill="#5c44c3"/><rect x="699.58" y="255.35" width="11.05" height="5.38" fill="#513cc2"/><rect x="699.58" y="249.98" width="11.05" height="5.38" fill="#4a37c1"/><rect x="699.58" y="244.62" width="11.05" height="5.38" fill="#4836c1"/><rect x="699.58" y="239.26" width="11.05" height="5.38" fill="#3d2db4"/><rect x="699.58" y="233.89" width="11.05" height="5.38" fill="#4332bc"/><rect x="699.58" y="228.53" width="11.05" height="5.38" fill="#3527ab"/><rect x="699.58" y="223.17" width="11.05" height="5.38" fill="#3f2eb7"/><rect x="699.58" y="217.80" width="11.05" height="5.38" fill="#3426aa"/><rect x="699.58" y="212.44" width="11.05" height="5.38" fill="#3325a9"/><rect x="699.58" y="207.08" width="11.05" height="5.38" fill="#3a2bb2"/><rect x="699.58" y="201.71" width="11.05" height="5.38" fill="#3022a2"/><rect x="699.58" y="196.35" width="11.05" height="5.38" fill="#3123a3"/><rect x="699.58" y="190.99" width="11.05" height="5.38" fill="#3426aa"/><rect x="699.58" y="185.62" width="11.05" height="5.38" fill="#2c1e97"/><rect x="699.58" y="180.26" width="11.05" height="5.38" fill="#2c1e98"/><rect x="699.58" y="174.90" width="11.05" height="5.38" fill="#3123a3"/><rect x="699.58" y="169.53" width="11.05" height="5.38" fill="#2d1f9b"/><rect x="699.58" y="164.17" width="11.05" height="5.38" fill="#2f21a0"/><rect x="699.58" y="158.81" width="11.05" height="5.38" fill="#2c1e99"/><rect x="699.58" y="153.44" width="11.05" height="5.38" fill="#2f21a0"/><rect x="699.58" y="148.08" width="11.05" height="5.38" fill="#2b1d96"/><rect x="699.58" y="142.72" width="11.05" height="5.38" fill="#2e209c"/><rect x="699.58" y="137.35" width="11.05" height="5.38" fill="#25198a"/><rect x="699.58" y="131.99" width="11.05" height="5.38" fill="#26198c"/><rect x="699.58" y="126.63" width="11.05" height="5.38" fill="#26198b"/><rect x="699.58" y="121.26" width="11.05" height="5.38" fill="#231785"/><rect x="699.58" y="115.90" width="11.05" height="5.38" fill="#251889"/><rect x="699.58" y="110.54" width="11.05" height="5.38" fill="#231785"/><rect x="699.58" y="105.17" width="11.05" height="5.38" fill="#291b92"/><rect x="699.58" y="99.81" width="11.05" height="5.38" fill="#291b92"/><rect x="699.58" y="94.45" width="11.05" height="5.38" fill="#281a8f"/><rect x="699.58" y="89.08" width="11.05" height="5.38" fill="#271a8d"/><rect x="699.58" y="86.40" width="11.05" height="2.70" fill="#281b90"/><rect x="710.61" y="464.52" width="11.05" height="2.70" fill="#e8b860"/><rect x="710.61" y="459.15" width="11.05" height="5.38" fill="#d7957f"/><rect x="710.61" y="453.79" width="11.05" height="5.38" fill="#c8828e"/><rect x="710.61" y="448.43" width="11.05" height="5.38" fill="#a76ba2"/><rect x="710.61" y="443.06" width="11.05" height="5.38" fill="#8e5eae"/><rect x="710.61" y="437.70" width="11.05" height="5.38" fill="#7e56b6"/><rect x="710.61" y="432.34" width="11.05" height="5.38" fill="#6348c0"/><rect x="710.61" y="426.97" width="11.05" height="5.38" fill="#4836c0"/><rect x="710.61" y="421.61" width="11.05" height="5.38" fill="#4836c1"/><rect x="710.61" y="416.25" width="11.05" height="5.38" fill="#4533bf"/><rect x="710.61" y="410.88" width="11.05" height="5.38" fill="#2c1e99"/><rect x="710.61" y="405.52" width="11.05" height="5.38" fill="#26198b"/><rect x="710.61" y="400.16" width="11.05" height="5.38" fill="#1b1174"/><rect x="710.61" y="394.79" width="11.05" height="5.38" fill="#231786"/><rect x="710.61" y="389.43" width="11.05" height="5.38" fill="#19106e"/><rect x="710.61" y="384.07" width="11.05" height="5.38" fill="#120b5c"/><rect x="710.61" y="378.70" width="11.05" height="5.38" fill="#19106f"/><rect x="710.61" y="373.34" width="11.05" height="5.38" fill="#170e69"/><rect x="710.61" y="367.98" width="11.05" height="5.38" fill="#180f6c"/><rect x="710.61" y="362.61" width="11.05" height="5.38" fill="#1e137a"/><rect x="710.61" y="357.25" width="11.05" height="5.38" fill="#1b1173"/><rect x="710.61" y="351.89" width="11.05" height="5.38" fill="#1d1277"/><rect x="710.61" y="346.52" width="11.05" height="5.38" fill="#2f219e"/><rect x="710.61" y="341.16" width="11.05" height="5.38" fill="#271a8e"/><rect x="710.61" y="335.80" width="11.05" height="5.38" fill="#3d2db5"/><rect x="710.61" y="330.43" width="11.05" height="5.38" fill="#3b2cb3"/><rect x="710.61" y="325.07" width="11.05" height="5.38" fill="#3a2ab1"/><rect x="710.61" y="319.71" width="11.05" height="5.38" fill="#543fc3"/><rect x="710.61" y="314.34" width="11.05" height="5.38" fill="#5842c4"/><rect x="710.61" y="308.98" width="11.05" height="5.38" fill="#5641c4"/><rect x="710.61" y="303.62" width="11.05" height="5.38" fill="#7652b9"/><rect x="710.61" y="298.25" width="11.05" height="5.38" fill="#6247c0"/><rect x="710.61" y="292.89" width="11.05" height="5.38" fill="#6649bf"/><rect x="710.61" y="287.53" width="11.05" height="5.38" fill="#6a4cbe"/><rect x="710.61" y="282.16" width="11.05" height="5.38" fill="#6448c0"/><rect x="710.61" y="276.80" width="11.05" height="5.38" fill="#6a4cbe"/><rect x="710.61" y="271.44" width="11.05" height="5.38" fill="#6448c0"/><rect x="710.61" y="266.07" width="11.05" height="5.38" fill="#6046c1"/><rect x="710.61" y="260.71" width="11.05" height="5.38" fill="#4c39c1"/><rect x="710.61" y="255.35" width="11.05" height="5.38" fill="#4b38c1"/><rect x="710.61" y="249.98" width="11.05" height="5.38" fill="#4735c0"/><rect x="710.61" y="244.62" width="11.05" height="5.38" fill="#4e3ac2"/><rect x="710.61" y="239.26" width="11.05" height="5.38" fill="#3c2cb4"/><rect x="710.61" y="233.89" width="11.05" height="5.38" fill="#402fb9"/><rect x="710.61" y="228.53" width="11.05" height="5.38" fill="#4130ba"/><rect x="710.61" y="223.17" width="11.05" height="5.38" fill="#3224a7"/><rect x="710.61" y="217.80" width="11.05" height="5.38" fill="#3123a3"/><rect x="710.61" y="212.44" width="11.05" height="5.38" fill="#3022a1"/><rect x="710.61" y="207.08" width="11.05" height="5.38" fill="#2e209c"/><rect x="710.61" y="201.71" width="11.05" height="5.38" fill="#2f219f"/><rect x="710.61" y="196.35" width="11.05" height="5.38" fill="#2a1c94"/><rect x="710.61" y="190.99" width="11.05" height="5.38" fill="#2f21a0"/><rect x="710.61" y="185.62" width="11.05" height="5.38" fill="#2c1e99"/><rect x="710.61" y="180.26" width="11.05" height="5.38" fill="#3426ab"/><rect x="710.61" y="174.90" width="11.05" height="5.38" fill="#3527ab"/><rect x="710.61" y="169.53" width="11.05" height="5.38" fill="#2f219f"/><rect x="710.61" y="164.17" width="11.05" height="5.38" fill="#2e209c"/><rect x="710.61" y="158.81" width="11.05" height="5.38" fill="#2c1e99"/><rect x="710.61" y="153.44" width="11.05" height="5.38" fill="#2c1e99"/><rect x="710.61" y="148.08" width="11.05" height="5.38" fill="#2c1e99"/><rect x="710.61" y="142.72" width="11.05" height="5.38" fill="#2e209e"/><rect x="710.61" y="137.35" width="11.05" height="5.38" fill="#271a8e"/><rect x="710.61" y="131.99" width="11.05" height="5.38" fill="#2a1c95"/><rect x="710.61" y="126.63" width="11.05" height="5.38" fill="#271a8d"/><rect x="710.61" y="121.26" width="11.05" height="5.38" fill="#281a8f"/><rect x="710.61" y="115.90" width="11.05" height="5.38" fill="#271a8d"/><rect x="710.61" y="110.54" width="11.05" height="5.38" fill="#281a8f"/><rect x="710.61" y="105.17" width="11.05" height="5.38" fill="#281b90"/><rect x="710.61" y="99.81" width="11.05" height="5.38" fill="#281b90"/><rect x="710.61" y="94.45" width="11.05" height="5.38" fill="#2a1c93"/><rect x="710.61" y="89.08" width="11.05" height="5.38" fill="#25198a"/><rect x="710.61" y="86.40" width="11.05" height="2.70" fill="#291b92"/><rect x="721.63" y="464.52" width="11.05" height="2.70" fill="#e8b662"/><rect x="721.63" y="459.15" width="11.05" height="5.38" fill="#d69380"/><rect x="721.63" y="453.79" width="11.05" height="5.38" fill="#c6808f"/><rect x="721.63" y="448.43" width="11.05" height="5.38" fill="#aa6ca0"/><rect x="721.63" y="443.06" width="11.05" height="5.38" fill="#8c5daf"/><rect x="721.63" y="437.70" width="11.05" height="5.38" fill="#714fbb"/><rect x="721.63" y="432.34" width="11.05" height="5.38" fill="#5b44c3"/><rect x="721.63" y="426.97" width="11.05" height="5.38" fill="#4b38c1"/><rect x="721.63" y="421.61" width="11.05" height="5.38" fill="#4533bf"/><rect x="721.63" y="416.25" width="11.05" height="5.38" fill="#3728ad"/><rect x="721.63" y="410.88" width="11.05" height="5.38" fill="#2d1f9a"/><rect x="721.63" y="405.52" width="11.05" height="5.38" fill="#231785"/><rect x="721.63" y="400.16" width="11.05" height="5.38" fill="#20157e"/><rect x="721.63" y="394.79" width="11.05" height="5.38" fill="#160d67"/><rect x="721.63" y="389.43" width="11.05" height="5.38" fill="#1e147b"/><rect x="721.63" y="384.07" width="11.05" height="5.38" fill="#130c5f"/><rect x="721.63" y="378.70" width="11.05" height="5.38" fill="#0f0a53"/><rect x="721.63" y="373.34" width="11.05" height="5.38" fill="#19106f"/><rect x="721.63" y="367.98" width="11.05" height="5.38" fill="#160e68"/><rect x="721.63" y="362.61" width="11.05" height="5.38" fill="#130c5f"/><rect x="721.63" y="357.25" width="11.05" height="5.38" fill="#1c1276"/><rect x="721.63" y="351.89" width="11.05" height="5.38" fill="#1f147c"/><rect x="721.63" y="346.52" width="11.05" height="5.38" fill="#281b90"/><rect x="721.63" y="341.16" width="11.05" height="5.38" fill="#2d1f9a"/><rect x="721.63" y="335.80" width="11.05" height="5.38" fill="#2e209e"/><rect x="721.63" y="330.43" width="11.05" height="5.38" fill="#3b2bb2"/><rect x="721.63" y="325.07" width="11.05" height="5.38" fill="#6d4dbd"/><rect x="721.63" y="319.71" width="11.05" height="5.38" fill="#4e3ac2"/><rect x="721.63" y="314.34" width="11.05" height="5.38" fill="#6549bf"/><rect x="721.63" y="308.98" width="11.05" height="5.38" fill="#4e3ac2"/><rect x="721.63" y="303.62" width="11.05" height="5.38" fill="#8a5bb1"/><rect x="721.63" y="298.25" width="11.05" height="5.38" fill="#7953b8"/><rect x="721.63" y="292.89" width="11.05" height="5.38" fill="#704ebc"/><rect x="721.63" y="287.53" width="11.05" height="5.38" fill="#513dc3"/><rect x="721.63" y="282.16" width="11.05" height="5.38" fill="#7551ba"/><rect x="721.63" y="276.80" width="11.05" height="5.38" fill="#7d55b7"/><rect x="721.63" y="271.44" width="11.05" height="5.38" fill="#4e3ac2"/><rect x="721.63" y="266.07" width="11.05" height="5.38" fill="#704ebc"/><rect x="721.63" y="260.71" width="11.05" height="5.38" fill="#4b38c1"/><rect x="721.63" y="255.35" width="11.05" height="5.38" fill="#5a43c3"/><rect x="721.63" y="249.98" width="11.05" height="5.38" fill="#4634c0"/><rect x="721.63" y="244.62" width="11.05" height="5.38" fill="#4b38c1"/><rect x="721.63" y="239.26" width="11.05" height="5.38" fill="#4130ba"/><rect x="721.63" y="233.89" width="11.05" height="5.38" fill="#3b2bb2"/><rect x="721.63" y="228.53" width="11.05" height="5.38" fill="#3426a9"/><rect x="721.63" y="223.17" width="11.05" height="5.38" fill="#3224a6"/><rect x="721.63" y="217.80" width="11.05" height="5.38" fill="#3325a8"/><rect x="721.63" y="212.44" width="11.05" height="5.38" fill="#3d2db5"/><rect x="721.63" y="207.08" width="11.05" height="5.38" fill="#3123a3"/><rect x="721.63" y="201.71" width="11.05" height="5.38" fill="#3b2bb2"/><rect x="721.63" y="196.35" width="11.05" height="5.38" fill="#3022a1"/><rect x="721.63" y="190.99" width="11.05" height="5.38" fill="#3325a7"/><rect x="721.63" y="185.62" width="11.05" height="5.38" fill="#2e209c"/><rect x="721.63" y="180.26" width="11.05" height="5.38" fill="#3123a3"/><rect x="721.63" y="174.90" width="11.05" height="5.38" fill="#2c1e99"/><rect x="721.63" y="169.53" width="11.05" height="5.38" fill="#3628ad"/><rect x="721.63" y="164.17" width="11.05" height="5.38" fill="#2d1f9a"/><rect x="721.63" y="158.81" width="11.05" height="5.38" fill="#2a1c94"/><rect x="721.63" y="153.44" width="11.05" height="5.38" fill="#2e209e"/><rect x="721.63" y="148.08" width="11.05" height="5.38" fill="#2b1d95"/><rect x="721.63" y="142.72" width="11.05" height="5.38" fill="#2e209d"/><rect x="721.63" y="137.35" width="11.05" height="5.38" fill="#271a8d"/><rect x="721.63" y="131.99" width="11.05" height="5.38" fill="#2c1e99"/><rect x="721.63" y="126.63" width="11.05" height="5.38" fill="#2b1d97"/><rect x="721.63" y="121.26" width="11.05" height="5.38" fill="#251888"/><rect x="721.63" y="115.90" width="11.05" height="5.38" fill="#26198b"/><rect x="721.63" y="110.54" width="11.05" height="5.38" fill="#221784"/><rect x="721.63" y="105.17" width="11.05" height="5.38" fill="#281b90"/><rect x="721.63" y="99.81" width="11.05" height="5.38" fill="#251889"/><rect x="721.63" y="94.45" width="11.05" height="5.38" fill="#25198a"/><rect x="721.63" y="89.08" width="11.05" height="5.38" fill="#26198b"/><rect x="721.63" y="86.40" width="11.05" height="2.70" fill="#271a8d"/><rect x="732.66" y="464.52" width="11.05" height="2.70" fill="#e7b465"/><rect x="732.66" y="459.15" width="11.05" height="5.38" fill="#d7957f"/><rect x="732.66" y="453.79" width="11.05" height="5.38" fill="#c7818f"/><rect x="732.66" y="448.43" width="11.05" height="5.38" fill="#a569a3"/><rect x="732.66" y="443.06" width="11.05" height="5.38" fill="#8d5daf"/><rect x="732.66" y="437.70" width="11.05" height="5.38" fill="#7250bb"/><rect x="732.66" y="432.34" width="11.05" height="5.38" fill="#6147c1"/><rect x="732.66" y="426.97" width="11.05" height="5.38" fill="#503bc2"/><rect x="732.66" y="421.61" width="11.05" height="5.38" fill="#4c39c1"/><rect x="732.66" y="416.25" width="11.05" height="5.38" fill="#4130ba"/><rect x="732.66" y="410.88" width="11.05" height="5.38" fill="#2f21a0"/><rect x="732.66" y="405.52" width="11.05" height="5.38" fill="#3022a1"/><rect x="732.66" y="400.16" width="11.05" height="5.38" fill="#19106f"/><rect x="732.66" y="394.79" width="11.05" height="5.38" fill="#1a1172"/><rect x="732.66" y="389.43" width="11.05" height="5.38" fill="#180f6b"/><rect x="732.66" y="384.07" width="11.05" height="5.38" fill="#190f6d"/><rect x="732.66" y="378.70" width="11.05" height="5.38" fill="#130c5f"/><rect x="732.66" y="373.34" width="11.05" height="5.38" fill="#130b5f"/><rect x="732.66" y="367.98" width="11.05" height="5.38" fill="#140c63"/><rect x="732.66" y="362.61" width="11.05" height="5.38" fill="#170f6b"/><rect x="732.66" y="357.25" width="11.05" height="5.38" fill="#231786"/><rect x="732.66" y="351.89" width="11.05" height="5.38" fill="#231784"/><rect x="732.66" y="346.52" width="11.05" height="5.38" fill="#221683"/><rect x="732.66" y="341.16" width="11.05" height="5.38" fill="#3123a4"/><rect x="732.66" y="335.80" width="11.05" height="5.38" fill="#3829af"/><rect x="732.66" y="330.43" width="11.05" height="5.38" fill="#3e2eb6"/><rect x="732.66" y="325.07" width="11.05" height="5.38" fill="#402fb9"/><rect x="732.66" y="319.71" width="11.05" height="5.38" fill="#5741c4"/><rect x="732.66" y="314.34" width="11.05" height="5.38" fill="#4d39c1"/><rect x="732.66" y="308.98" width="11.05" height="5.38" fill="#5d44c2"/><rect x="732.66" y="303.62" width="11.05" height="5.38" fill="#674abf"/><rect x="732.66" y="298.25" width="11.05" height="5.38" fill="#533ec3"/><rect x="732.66" y="292.89" width="11.05" height="5.38" fill="#7350bb"/><rect x="732.66" y="287.53" width="11.05" height="5.38" fill="#7552ba"/><rect x="732.66" y="282.16" width="11.05" height="5.38" fill="#6c4dbd"/><rect x="732.66" y="276.80" width="11.05" height="5.38" fill="#7c55b7"/><rect x="732.66" y="271.44" width="11.05" height="5.38" fill="#6348c0"/><rect x="732.66" y="266.07" width="11.05" height="5.38" fill="#6649bf"/><rect x="732.66" y="260.71" width="11.05" height="5.38" fill="#5942c4"/><rect x="732.66" y="255.35" width="11.05" height="5.38" fill="#5a43c3"/><rect x="732.66" y="249.98" width="11.05" height="5.38" fill="#4f3bc2"/><rect x="732.66" y="244.62" width="11.05" height="5.38" fill="#4432bd"/><rect x="732.66" y="239.26" width="11.05" height="5.38" fill="#3b2cb3"/><rect x="732.66" y="233.89" width="11.05" height="5.38" fill="#4332bd"/><rect x="732.66" y="228.53" width="11.05" height="5.38" fill="#4a37c1"/><rect x="732.66" y="223.17" width="11.05" height="5.38" fill="#3123a4"/><rect x="732.66" y="217.80" width="11.05" height="5.38" fill="#3325a8"/><rect x="732.66" y="212.44" width="11.05" height="5.38" fill="#2d1f9b"/><rect x="732.66" y="207.08" width="11.05" height="5.38" fill="#2f219e"/><rect x="732.66" y="201.71" width="11.05" height="5.38" fill="#281b90"/><rect x="732.66" y="196.35" width="11.05" height="5.38" fill="#2c1e98"/><rect x="732.66" y="190.99" width="11.05" height="5.38" fill="#281b90"/><rect x="732.66" y="185.62" width="11.05" height="5.38" fill="#3224a5"/><rect x="732.66" y="180.26" width="11.05" height="5.38" fill="#3224a5"/><rect x="732.66" y="174.90" width="11.05" height="5.38" fill="#271a8e"/><rect x="732.66" y="169.53" width="11.05" height="5.38" fill="#2e209d"/><rect x="732.66" y="164.17" width="11.05" height="5.38" fill="#2d1f9b"/><rect x="732.66" y="158.81" width="11.05" height="5.38" fill="#2c1e99"/><rect x="732.66" y="153.44" width="11.05" height="5.38" fill="#2d1f9a"/><rect x="732.66" y="148.08" width="11.05" height="5.38" fill="#2f219f"/><rect x="732.66" y="142.72" width="11.05" height="5.38" fill="#2c1e98"/><rect x="732.66" y="137.35" width="11.05" height="5.38" fill="#3123a4"/><rect x="732.66" y="131.99" width="11.05" height="5.38" fill="#2d1f9a"/><rect x="732.66" y="126.63" width="11.05" height="5.38" fill="#2c1e98"/><rect x="732.66" y="121.26" width="11.05" height="5.38" fill="#281a8f"/><rect x="732.66" y="115.90" width="11.05" height="5.38" fill="#2f219e"/><rect x="732.66" y="110.54" width="11.05" height="5.38" fill="#2a1c94"/><rect x="732.66" y="105.17" width="11.05" height="5.38" fill="#2d1f9b"/><rect x="732.66" y="99.81" width="11.05" height="5.38" fill="#2b1d96"/><rect x="732.66" y="94.45" width="11.05" height="5.38" fill="#2a1c93"/><rect x="732.66" y="89.08" width="11.05" height="5.38" fill="#281b90"/><rect x="732.66" y="86.40" width="11.05" height="2.70" fill="#241887"/><rect x="743.69" y="464.52" width="11.05" height="2.70" fill="#e7b465"/><rect x="743.69" y="459.15" width="11.05" height="5.38" fill="#d69380"/><rect x="743.69" y="453.79" width="11.05" height="5.38" fill="#c68090"/><rect x="743.69" y="448.43" width="11.05" height="5.38" fill="#a66aa3"/><rect x="743.69" y="443.06" width="11.05" height="5.38" fill="#915fad"/><rect x="743.69" y="437.70" width="11.05" height="5.38" fill="#6a4cbe"/><rect x="743.69" y="432.34" width="11.05" height="5.38" fill="#5842c4"/><rect x="743.69" y="426.97" width="11.05" height="5.38" fill="#4735c0"/><rect x="743.69" y="421.61" width="11.05" height="5.38" fill="#4735c0"/><rect x="743.69" y="416.25" width="11.05" height="5.38" fill="#4130ba"/><rect x="743.69" y="410.88" width="11.05" height="5.38" fill="#3022a2"/><rect x="743.69" y="405.52" width="11.05" height="5.38" fill="#25198a"/><rect x="743.69" y="400.16" width="11.05" height="5.38" fill="#1e147b"/><rect x="743.69" y="394.79" width="11.05" height="5.38" fill="#170e69"/><rect x="743.69" y="389.43" width="11.05" height="5.38" fill="#180f6c"/><rect x="743.69" y="384.07" width="11.05" height="5.38" fill="#1d1378"/><rect x="743.69" y="378.70" width="11.05" height="5.38" fill="#150d64"/><rect x="743.69" y="373.34" width="11.05" height="5.38" fill="#20157e"/><rect x="743.69" y="367.98" width="11.05" height="5.38" fill="#1c1275"/><rect x="743.69" y="362.61" width="11.05" height="5.38" fill="#211681"/><rect x="743.69" y="357.25" width="11.05" height="5.38" fill="#1e147b"/><rect x="743.69" y="351.89" width="11.05" height="5.38" fill="#291b92"/><rect x="743.69" y="346.52" width="11.05" height="5.38" fill="#3a2bb1"/><rect x="743.69" y="341.16" width="11.05" height="5.38" fill="#3224a6"/><rect x="743.69" y="335.80" width="11.05" height="5.38" fill="#3b2cb3"/><rect x="743.69" y="330.43" width="11.05" height="5.38" fill="#3426aa"/><rect x="743.69" y="325.07" width="11.05" height="5.38" fill="#4c38c1"/><rect x="743.69" y="319.71" width="11.05" height="5.38" fill="#553fc3"/><rect x="743.69" y="314.34" width="11.05" height="5.38" fill="#8d5daf"/><rect x="743.69" y="308.98" width="11.05" height="5.38" fill="#5d45c2"/><rect x="743.69" y="303.62" width="11.05" height="5.38" fill="#684abe"/><rect x="743.69" y="298.25" width="11.05" height="5.38" fill="#5741c4"/><rect x="743.69" y="292.89" width="11.05" height="5.38" fill="#7350ba"/><rect x="743.69" y="287.53" width="11.05" height="5.38" fill="#6348c0"/><rect x="743.69" y="282.16" width="11.05" height="5.38" fill="#7b55b7"/><rect x="743.69" y="276.80" width="11.05" height="5.38" fill="#5c44c3"/><rect x="743.69" y="271.44" width="11.05" height="5.38" fill="#694bbe"/><rect x="743.69" y="266.07" width="11.05" height="5.38" fill="#6a4bbe"/><rect x="743.69" y="260.71" width="11.05" height="5.38" fill="#4c39c1"/><rect x="743.69" y="255.35" width="11.05" height="5.38" fill="#5c44c3"/><rect x="743.69" y="249.98" width="11.05" height="5.38" fill="#4533bf"/><rect x="743.69" y="244.62" width="11.05" height="5.38" fill="#3a2bb1"/><rect x="743.69" y="239.26" width="11.05" height="5.38" fill="#3b2bb2"/><rect x="743.69" y="233.89" width="11.05" height="5.38" fill="#3b2bb2"/><rect x="743.69" y="228.53" width="11.05" height="5.38" fill="#3426a9"/><rect x="743.69" y="223.17" width="11.05" height="5.38" fill="#3a2ab1"/><rect x="743.69" y="217.80" width="11.05" height="5.38" fill="#4533be"/><rect x="743.69" y="212.44" width="11.05" height="5.38" fill="#3829ae"/><rect x="743.69" y="207.08" width="11.05" height="5.38" fill="#3a2ab1"/><rect x="743.69" y="201.71" width="11.05" height="5.38" fill="#3123a4"/><rect x="743.69" y="196.35" width="11.05" height="5.38" fill="#2f219f"/><rect x="743.69" y="190.99" width="11.05" height="5.38" fill="#3022a1"/><rect x="743.69" y="185.62" width="11.05" height="5.38" fill="#2c1e99"/><rect x="743.69" y="180.26" width="11.05" height="5.38" fill="#3022a1"/><rect x="743.69" y="174.90" width="11.05" height="5.38" fill="#2e209c"/><rect x="743.69" y="169.53" width="11.05" height="5.38" fill="#3325a7"/><rect x="743.69" y="164.17" width="11.05" height="5.38" fill="#2b1d96"/><rect x="743.69" y="158.81" width="11.05" height="5.38" fill="#2c1e98"/><rect x="743.69" y="153.44" width="11.05" height="5.38" fill="#2a1c93"/><rect x="743.69" y="148.08" width="11.05" height="5.38" fill="#2d1f9b"/><rect x="743.69" y="142.72" width="11.05" height="5.38" fill="#281b91"/><rect x="743.69" y="137.35" width="11.05" height="5.38" fill="#291b92"/><rect x="743.69" y="131.99" width="11.05" height="5.38" fill="#2a1c94"/><rect x="743.69" y="126.63" width="11.05" height="5.38" fill="#241887"/><rect x="743.69" y="121.26" width="11.05" height="5.38" fill="#231785"/><rect x="743.69" y="115.90" width="11.05" height="5.38" fill="#281b90"/><rect x="743.69" y="110.54" width="11.05" height="5.38" fill="#2b1d96"/><rect x="743.69" y="105.17" width="11.05" height="5.38" fill="#291b91"/><rect x="743.69" y="99.81" width="11.05" height="5.38" fill="#271a8d"/><rect x="743.69" y="94.45" width="11.05" height="5.38" fill="#251888"/><rect x="743.69" y="89.08" width="11.05" height="5.38" fill="#2a1c95"/><rect x="743.69" y="86.40" width="11.05" height="2.70" fill="#231785"/><rect x="754.71" y="464.52" width="11.05" height="2.70" fill="#e8b860"/><rect x="754.71" y="459.15" width="11.05" height="5.38" fill="#d69480"/><rect x="754.71" y="453.79" width="11.05" height="5.38" fill="#c47e91"/><rect x="754.71" y="448.43" width="11.05" height="5.38" fill="#a569a3"/><rect x="754.71" y="443.06" width="11.05" height="5.38" fill="#915fad"/><rect x="754.71" y="437.70" width="11.05" height="5.38" fill="#7853b9"/><rect x="754.71" y="432.34" width="11.05" height="5.38" fill="#5d45c2"/><rect x="754.71" y="426.97" width="11.05" height="5.38" fill="#4b38c1"/><rect x="754.71" y="421.61" width="11.05" height="5.38" fill="#4231bb"/><rect x="754.71" y="416.25" width="11.05" height="5.38" fill="#3527ab"/><rect x="754.71" y="410.88" width="11.05" height="5.38" fill="#26198c"/><rect x="754.71" y="405.52" width="11.05" height="5.38" fill="#241888"/><rect x="754.71" y="400.16" width="11.05" height="5.38" fill="#19106e"/><rect x="754.71" y="394.79" width="11.05" height="5.38" fill="#180f6c"/><rect x="754.71" y="389.43" width="11.05" height="5.38" fill="#170e68"/><rect x="754.71" y="384.07" width="11.05" height="5.38" fill="#0c0848"/><rect x="754.71" y="378.70" width="11.05" height="5.38" fill="#0c0848"/><rect x="754.71" y="373.34" width="11.05" height="5.38" fill="#140c62"/><rect x="754.71" y="367.98" width="11.05" height="5.38" fill="#150d64"/><rect x="754.71" y="362.61" width="11.05" height="5.38" fill="#0f0951"/><rect x="754.71" y="357.25" width="11.05" height="5.38" fill="#170f6a"/><rect x="754.71" y="351.89" width="11.05" height="5.38" fill="#241786"/><rect x="754.71" y="346.52" width="11.05" height="5.38" fill="#2a1c94"/><rect x="754.71" y="341.16" width="11.05" height="5.38" fill="#3c2db4"/><rect x="754.71" y="335.80" width="11.05" height="5.38" fill="#5842c4"/><rect x="754.71" y="330.43" width="11.05" height="5.38" fill="#4936c1"/><rect x="754.71" y="325.07" width="11.05" height="5.38" fill="#6649bf"/><rect x="754.71" y="319.71" width="11.05" height="5.38" fill="#9460ac"/><rect x="754.71" y="314.34" width="11.05" height="5.38" fill="#7b54b8"/><rect x="754.71" y="308.98" width="11.05" height="5.38" fill="#895bb1"/><rect x="754.71" y="303.62" width="11.05" height="5.38" fill="#7d55b7"/><rect x="754.71" y="298.25" width="11.05" height="5.38" fill="#885bb1"/><rect x="754.71" y="292.89" width="11.05" height="5.38" fill="#9a63a9"/><rect x="754.71" y="287.53" width="11.05" height="5.38" fill="#9b64a8"/><rect x="754.71" y="282.16" width="11.05" height="5.38" fill="#a368a5"/><rect x="754.71" y="276.80" width="11.05" height="5.38" fill="#8e5eae"/><rect x="754.71" y="271.44" width="11.05" height="5.38" fill="#6046c1"/><rect x="754.71" y="266.07" width="11.05" height="5.38" fill="#4f3bc2"/><rect x="754.71" y="260.71" width="11.05" height="5.38" fill="#4a37c1"/><rect x="754.71" y="255.35" width="11.05" height="5.38" fill="#543fc3"/><rect x="754.71" y="249.98" width="11.05" height="5.38" fill="#4a37c1"/><rect x="754.71" y="244.62" width="11.05" height="5.38" fill="#4332bd"/><rect x="754.71" y="239.26" width="11.05" height="5.38" fill="#4d39c2"/><rect x="754.71" y="233.89" width="11.05" height="5.38" fill="#3e2eb6"/><rect x="754.71" y="228.53" width="11.05" height="5.38" fill="#3f2eb7"/><rect x="754.71" y="223.17" width="11.05" height="5.38" fill="#2f219e"/><rect x="754.71" y="217.80" width="11.05" height="5.38" fill="#3a2ab1"/><rect x="754.71" y="212.44" width="11.05" height="5.38" fill="#2f219f"/><rect x="754.71" y="207.08" width="11.05" height="5.38" fill="#3325a8"/><rect x="754.71" y="201.71" width="11.05" height="5.38" fill="#3728ad"/><rect x="754.71" y="196.35" width="11.05" height="5.38" fill="#3325a7"/><rect x="754.71" y="190.99" width="11.05" height="5.38" fill="#2e209c"/><rect x="754.71" y="185.62" width="11.05" height="5.38" fill="#3b2cb3"/><rect x="754.71" y="180.26" width="11.05" height="5.38" fill="#2c1e99"/><rect x="754.71" y="174.90" width="11.05" height="5.38" fill="#3224a5"/><rect x="754.71" y="169.53" width="11.05" height="5.38" fill="#2f219e"/><rect x="754.71" y="164.17" width="11.05" height="5.38" fill="#291c93"/><rect x="754.71" y="158.81" width="11.05" height="5.38" fill="#2d1f9c"/><rect x="754.71" y="153.44" width="11.05" height="5.38" fill="#3224a6"/><rect x="754.71" y="148.08" width="11.05" height="5.38" fill="#291b91"/><rect x="754.71" y="142.72" width="11.05" height="5.38" fill="#291b91"/><rect x="754.71" y="137.35" width="11.05" height="5.38" fill="#2b1d96"/><rect x="754.71" y="131.99" width="11.05" height="5.38" fill="#281b90"/><rect x="754.71" y="126.63" width="11.05" height="5.38" fill="#2a1c95"/><rect x="754.71" y="121.26" width="11.05" height="5.38" fill="#281b91"/><rect x="754.71" y="115.90" width="11.05" height="5.38" fill="#25198a"/><rect x="754.71" y="110.54" width="11.05" height="5.38" fill="#2e209c"/><rect x="754.71" y="105.17" width="11.05" height="5.38" fill="#26198c"/><rect x="754.71" y="99.81" width="11.05" height="5.38" fill="#251888"/><rect x="754.71" y="94.45" width="11.05" height="5.38" fill="#271a8e"/><rect x="754.71" y="89.08" width="11.05" height="5.38" fill="#281b91"/><rect x="754.71" y="86.40" width="11.05" height="2.70" fill="#26198b"/><rect x="765.74" y="464.52" width="11.05" height="2.70" fill="#e8b861"/><rect x="765.74" y="459.15" width="11.05" height="5.38" fill="#d8967e"/><rect x="765.74" y="453.79" width="11.05" height="5.38" fill="#c57f90"/><rect x="765.74" y="448.43" width="11.05" height="5.38" fill="#a96ba1"/><rect x="765.74" y="443.06" width="11.05" height="5.38" fill="#8f5eae"/><rect x="765.74" y="437.70" width="11.05" height="5.38" fill="#7652ba"/><rect x="765.74" y="432.34" width="11.05" height="5.38" fill="#674abf"/><rect x="765.74" y="426.97" width="11.05" height="5.38" fill="#4835c0"/><rect x="765.74" y="421.61" width="11.05" height="5.38" fill="#4231bb"/><rect x="765.74" y="416.25" width="11.05" height="5.38" fill="#3e2eb6"/><rect x="765.74" y="410.88" width="11.05" height="5.38" fill="#3022a1"/><rect x="765.74" y="405.52" width="11.05" height="5.38" fill="#271a8d"/><rect x="765.74" y="400.16" width="11.05" height="5.38" fill="#211681"/><rect x="765.74" y="394.79" width="11.05" height="5.38" fill="#180f6d"/><rect x="765.74" y="389.43" width="11.05" height="5.38" fill="#170e68"/><rect x="765.74" y="384.07" width="11.05" height="5.38" fill="#170f6b"/><rect x="765.74" y="378.70" width="11.05" height="5.38" fill="#0f0952"/><rect x="765.74" y="373.34" width="11.05" height="5.38" fill="#150d66"/><rect x="765.74" y="367.98" width="11.05" height="5.38" fill="#120b5c"/><rect x="765.74" y="362.61" width="11.05" height="5.38" fill="#160e68"/><rect x="765.74" y="357.25" width="11.05" height="5.38" fill="#180f6c"/><rect x="765.74" y="351.89" width="11.05" height="5.38" fill="#180f6d"/><rect x="765.74" y="346.52" width="11.05" height="5.38" fill="#221683"/><rect x="765.74" y="341.16" width="11.05" height="5.38" fill="#271a8e"/><rect x="765.74" y="335.80" width="11.05" height="5.38" fill="#291b91"/><rect x="765.74" y="330.43" width="11.05" height="5.38" fill="#3728ae"/><rect x="765.74" y="325.07" width="11.05" height="5.38" fill="#4734c0"/><rect x="765.74" y="319.71" width="11.05" height="5.38" fill="#543fc3"/><rect x="765.74" y="314.34" width="11.05" height="5.38" fill="#503cc2"/><rect x="765.74" y="308.98" width="11.05" height="5.38" fill="#7f56b6"/><rect x="765.74" y="303.62" width="11.05" height="5.38" fill="#5540c3"/><rect x="765.74" y="298.25" width="11.05" height="5.38" fill="#5641c4"/><rect x="765.74" y="292.89" width="11.05" height="5.38" fill="#7451ba"/><rect x="765.74" y="287.53" width="11.05" height="5.38" fill="#6248c0"/><rect x="765.74" y="282.16" width="11.05" height="5.38" fill="#674abf"/><rect x="765.74" y="276.80" width="11.05" height="5.38" fill="#6b4cbd"/><rect x="765.74" y="271.44" width="11.05" height="5.38" fill="#543fc3"/><rect x="765.74" y="266.07" width="11.05" height="5.38" fill="#513dc2"/><rect x="765.74" y="260.71" width="11.05" height="5.38" fill="#4b38c1"/><rect x="765.74" y="255.35" width="11.05" height="5.38" fill="#4937c1"/><rect x="765.74" y="249.98" width="11.05" height="5.38" fill="#523ec3"/><rect x="765.74" y="244.62" width="11.05" height="5.38" fill="#392ab0"/><rect x="765.74" y="239.26" width="11.05" height="5.38" fill="#3c2cb4"/><rect x="765.74" y="233.89" width="11.05" height="5.38" fill="#4735c0"/><rect x="765.74" y="228.53" width="11.05" height="5.38" fill="#2c1e99"/><rect x="765.74" y="223.17" width="11.05" height="5.38" fill="#3c2db4"/><rect x="765.74" y="217.80" width="11.05" height="5.38" fill="#3325a7"/><rect x="765.74" y="212.44" width="11.05" height="5.38" fill="#3123a3"/><rect x="765.74" y="207.08" width="11.05" height="5.38" fill="#2a1c95"/><rect x="765.74" y="201.71" width="11.05" height="5.38" fill="#291b92"/><rect x="765.74" y="196.35" width="11.05" height="5.38" fill="#3022a1"/><rect x="765.74" y="190.99" width="11.05" height="5.38" fill="#2a1c93"/><rect x="765.74" y="185.62" width="11.05" height="5.38" fill="#2e209c"/><rect x="765.74" y="180.26" width="11.05" height="5.38" fill="#2a1c93"/><rect x="765.74" y="174.90" width="11.05" height="5.38" fill="#2d1f9a"/><rect x="765.74" y="169.53" width="11.05" height="5.38" fill="#271a8e"/><rect x="765.74" y="164.17" width="11.05" height="5.38" fill="#26198b"/><rect x="765.74" y="158.81" width="11.05" height="5.38" fill="#291c93"/><rect x="765.74" y="153.44" width="11.05" height="5.38" fill="#271a8e"/><rect x="765.74" y="148.08" width="11.05" height="5.38" fill="#281a8f"/><rect x="765.74" y="142.72" width="11.05" height="5.38" fill="#26198c"/><rect x="765.74" y="137.35" width="11.05" height="5.38" fill="#271a8e"/><rect x="765.74" y="131.99" width="11.05" height="5.38" fill="#25198a"/><rect x="765.74" y="126.63" width="11.05" height="5.38" fill="#211681"/><rect x="765.74" y="121.26" width="11.05" height="5.38" fill="#241786"/><rect x="765.74" y="115.90" width="11.05" height="5.38" fill="#211681"/><rect x="765.74" y="110.54" width="11.05" height="5.38" fill="#26198b"/><rect x="765.74" y="105.17" width="11.05" height="5.38" fill="#241888"/><rect x="765.74" y="99.81" width="11.05" height="5.38" fill="#291b91"/><rect x="765.74" y="94.45" width="11.05" height="5.38" fill="#26198c"/><rect x="765.74" y="89.08" width="11.05" height="5.38" fill="#271a8d"/><rect x="765.74" y="86.40" width="11.05" height="2.70" fill="#2c1e98"/><rect x="776.77" y="464.52" width="11.05" height="2.70" fill="#e9ba5e"/><rect x="776.77" y="459.15" width="11.05" height="5.38" fill="#d8967e"/><rect x="776.77" y="453.79" width="11.05" height="5.38" fill="#c8828e"/><rect x="776.77" y="448.43" width="11.05" height="5.38" fill="#a86ba1"/><rect x="776.77" y="443.06" width="11.05" height="5.38" fill="#8e5eae"/><rect x="776.77" y="437.70" width="11.05" height="5.38" fill="#7552ba"/><rect x="776.77" y="432.34" width="11.05" height="5.38" fill="#5842c4"/><rect x="776.77" y="426.97" width="11.05" height="5.38" fill="#4b38c1"/><rect x="776.77" y="421.61" width="11.05" height="5.38" fill="#4433be"/><rect x="776.77" y="416.25" width="11.05" height="5.38" fill="#3325a8"/><rect x="776.77" y="410.88" width="11.05" height="5.38" fill="#2c1e97"/><rect x="776.77" y="405.52" width="11.05" height="5.38" fill="#26198a"/><rect x="776.77" y="400.16" width="11.05" height="5.38" fill="#1c1277"/><rect x="776.77" y="394.79" width="11.05" height="5.38" fill="#170e69"/><rect x="776.77" y="389.43" width="11.05" height="5.38" fill="#140c62"/><rect x="776.77" y="384.07" width="11.05" height="5.38" fill="#150d66"/><rect x="776.77" y="378.70" width="11.05" height="5.38" fill="#100a54"/><rect x="776.77" y="373.34" width="11.05" height="5.38" fill="#110a58"/><rect x="776.77" y="367.98" width="11.05" height="5.38" fill="#140c62"/><rect x="776.77" y="362.61" width="11.05" height="5.38" fill="#180f6d"/><rect x="776.77" y="357.25" width="11.05" height="5.38" fill="#180f6c"/><rect x="776.77" y="351.89" width="11.05" height="5.38" fill="#271a8e"/><rect x="776.77" y="346.52" width="11.05" height="5.38" fill="#231784"/><rect x="776.77" y="341.16" width="11.05" height="5.38" fill="#2f219f"/><rect x="776.77" y="335.80" width="11.05" height="5.38" fill="#2d1f9a"/><rect x="776.77" y="330.43" width="11.05" height="5.38" fill="#4a37c1"/><rect x="776.77" y="325.07" width="11.05" height="5.38" fill="#4d39c1"/><rect x="776.77" y="319.71" width="11.05" height="5.38" fill="#4634c0"/><rect x="776.77" y="314.34" width="11.05" height="5.38" fill="#674abf"/><rect x="776.77" y="308.98" width="11.05" height="5.38" fill="#6147c1"/><rect x="776.77" y="303.62" width="11.05" height="5.38" fill="#5540c3"/><rect x="776.77" y="298.25" width="11.05" height="5.38" fill="#7451ba"/><rect x="776.77" y="292.89" width="11.05" height="5.38" fill="#6d4dbd"/><rect x="776.77" y="287.53" width="11.05" height="5.38" fill="#7a54b8"/><rect x="776.77" y="282.16" width="11.05" height="5.38" fill="#5540c3"/><rect x="776.77" y="276.80" width="11.05" height="5.38" fill="#5943c4"/><rect x="776.77" y="271.44" width="11.05" height="5.38" fill="#5943c4"/><rect x="776.77" y="266.07" width="11.05" height="5.38" fill="#5741c4"/><rect x="776.77" y="260.71" width="11.05" height="5.38" fill="#523ec3"/><rect x="776.77" y="255.35" width="11.05" height="5.38" fill="#4f3bc2"/><rect x="776.77" y="249.98" width="11.05" height="5.38" fill="#3c2cb4"/><rect x="776.77" y="244.62" width="11.05" height="5.38" fill="#4936c1"/><rect x="776.77" y="239.26" width="11.05" height="5.38" fill="#3829af"/><rect x="776.77" y="233.89" width="11.05" height="5.38" fill="#3f2fb8"/><rect x="776.77" y="228.53" width="11.05" height="5.38" fill="#3d2db5"/><rect x="776.77" y="223.17" width="11.05" height="5.38" fill="#3325a9"/><rect x="776.77" y="217.80" width="11.05" height="5.38" fill="#2f219e"/><rect x="776.77" y="212.44" width="11.05" height="5.38" fill="#3325a7"/><rect x="776.77" y="207.08" width="11.05" height="5.38" fill="#3123a4"/><rect x="776.77" y="201.71" width="11.05" height="5.38" fill="#2b1d97"/><rect x="776.77" y="196.35" width="11.05" height="5.38" fill="#2d1f9a"/><rect x="776.77" y="190.99" width="11.05" height="5.38" fill="#3022a1"/><rect x="776.77" y="185.62" width="11.05" height="5.38" fill="#2b1d96"/><rect x="776.77" y="180.26" width="11.05" height="5.38" fill="#2e209d"/><rect x="776.77" y="174.90" width="11.05" height="5.38" fill="#291b91"/><rect x="776.77" y="169.53" width="11.05" height="5.38" fill="#2b1d96"/><rect x="776.77" y="164.17" width="11.05" height="5.38" fill="#291c93"/><rect x="776.77" y="158.81" width="11.05" height="5.38" fill="#251889"/><rect x="776.77" y="153.44" width="11.05" height="5.38" fill="#281a8f"/><rect x="776.77" y="148.08" width="11.05" height="5.38" fill="#221683"/><rect x="776.77" y="142.72" width="11.05" height="5.38" fill="#20157f"/><rect x="776.77" y="137.35" width="11.05" height="5.38" fill="#251888"/><rect x="776.77" y="131.99" width="11.05" height="5.38" fill="#241888"/><rect x="776.77" y="126.63" width="11.05" height="5.38" fill="#221683"/><rect x="776.77" y="121.26" width="11.05" height="5.38" fill="#1e1379"/><rect x="776.77" y="115.90" width="11.05" height="5.38" fill="#1e137a"/><rect x="776.77" y="110.54" width="11.05" height="5.38" fill="#231785"/><rect x="776.77" y="105.17" width="11.05" height="5.38" fill="#241887"/><rect x="776.77" y="99.81" width="11.05" height="5.38" fill="#221682"/><rect x="776.77" y="94.45" width="11.05" height="5.38" fill="#221683"/><rect x="776.77" y="89.08" width="11.05" height="5.38" fill="#20157e"/><rect x="776.77" y="86.40" width="11.05" height="2.70" fill="#221683"/><rect x="787.79" y="464.52" width="11.05" height="2.70" fill="#e8b761"/><rect x="787.79" y="459.15" width="11.05" height="5.38" fill="#d7957f"/><rect x="787.79" y="453.79" width="11.05" height="5.38" fill="#c6808f"/><rect x="787.79" y="448.43" width="11.05" height="5.38" fill="#a66aa3"/><rect x="787.79" y="443.06" width="11.05" height="5.38" fill="#9661ab"/><rect x="787.79" y="437.70" width="11.05" height="5.38" fill="#7250bb"/><rect x="787.79" y="432.34" width="11.05" height="5.38" fill="#5641c4"/><rect x="787.79" y="426.97" width="11.05" height="5.38" fill="#4936c1"/><rect x="787.79" y="421.61" width="11.05" height="5.38" fill="#3a2bb2"/><rect x="787.79" y="416.25" width="11.05" height="5.38" fill="#3022a1"/><rect x="787.79" y="410.88" width="11.05" height="5.38" fill="#271a8d"/><rect x="787.79" y="405.52" width="11.05" height="5.38" fill="#1b1174"/><rect x="787.79" y="400.16" width="11.05" height="5.38" fill="#140c63"/><rect x="787.79" y="394.79" width="11.05" height="5.38" fill="#100a57"/><rect x="787.79" y="389.43" width="11.05" height="5.38" fill="#140c63"/><rect x="787.79" y="384.07" width="11.05" height="5.38" fill="#0c0848"/><rect x="787.79" y="378.70" width="11.05" height="5.38" fill="#0c0848"/><rect x="787.79" y="373.34" width="11.05" height="5.38" fill="#0c0848"/><rect x="787.79" y="367.98" width="11.05" height="5.38" fill="#0d094b"/><rect x="787.79" y="362.61" width="11.05" height="5.38" fill="#150c63"/><rect x="787.79" y="357.25" width="11.05" height="5.38" fill="#1a1172"/><rect x="787.79" y="351.89" width="11.05" height="5.38" fill="#180f6b"/><rect x="787.79" y="346.52" width="11.05" height="5.38" fill="#231784"/><rect x="787.79" y="341.16" width="11.05" height="5.38" fill="#291b91"/><rect x="787.79" y="335.80" width="11.05" height="5.38" fill="#3628ad"/><rect x="787.79" y="330.43" width="11.05" height="5.38" fill="#4130ba"/><rect x="787.79" y="325.07" width="11.05" height="5.38" fill="#533ec3"/><rect x="787.79" y="319.71" width="11.05" height="5.38" fill="#5a43c3"/><rect x="787.79" y="314.34" width="11.05" height="5.38" fill="#684abe"/><rect x="787.79" y="308.98" width="11.05" height="5.38" fill="#6247c1"/><rect x="787.79" y="303.62" width="11.05" height="5.38" fill="#5640c3"/><rect x="787.79" y="298.25" width="11.05" height="5.38" fill="#4f3bc2"/><rect x="787.79" y="292.89" width="11.05" height="5.38" fill="#5d45c2"/><rect x="787.79" y="287.53" width="11.05" height="5.38" fill="#5f46c1"/><rect x="787.79" y="282.16" width="11.05" height="5.38" fill="#6c4dbd"/><rect x="787.79" y="276.80" width="11.05" height="5.38" fill="#5e45c2"/><rect x="787.79" y="271.44" width="11.05" height="5.38" fill="#5a43c3"/><rect x="787.79" y="266.07" width="11.05" height="5.38" fill="#523dc3"/><rect x="787.79" y="260.71" width="11.05" height="5.38" fill="#7451ba"/><rect x="787.79" y="255.35" width="11.05" height="5.38" fill="#503cc2"/><rect x="787.79" y="249.98" width="11.05" height="5.38" fill="#4533bf"/><rect x="787.79" y="244.62" width="11.05" height="5.38" fill="#5641c4"/><rect x="787.79" y="239.26" width="11.05" height="5.38" fill="#3d2db5"/><rect x="787.79" y="233.89" width="11.05" height="5.38" fill="#3325a8"/><rect x="787.79" y="228.53" width="11.05" height="5.38" fill="#3c2cb3"/><rect x="787.79" y="223.17" width="11.05" height="5.38" fill="#4432bd"/><rect x="787.79" y="217.80" width="11.05" height="5.38" fill="#3e2eb7"/><rect x="787.79" y="212.44" width="11.05" height="5.38" fill="#3527ab"/><rect x="787.79" y="207.08" width="11.05" height="5.38" fill="#3728ae"/><rect x="787.79" y="201.71" width="11.05" height="5.38" fill="#3022a2"/><rect x="787.79" y="196.35" width="11.05" height="5.38" fill="#3325a8"/><rect x="787.79" y="190.99" width="11.05" height="5.38" fill="#3b2bb3"/><rect x="787.79" y="185.62" width="11.05" height="5.38" fill="#3224a6"/><rect x="787.79" y="180.26" width="11.05" height="5.38" fill="#2d1f9a"/><rect x="787.79" y="174.90" width="11.05" height="5.38" fill="#2f21a0"/><rect x="787.79" y="169.53" width="11.05" height="5.38" fill="#2b1d97"/><rect x="787.79" y="164.17" width="11.05" height="5.38" fill="#2e209c"/><rect x="787.79" y="158.81" width="11.05" height="5.38" fill="#2b1d97"/><rect x="787.79" y="153.44" width="11.05" height="5.38" fill="#271a8d"/><rect x="787.79" y="148.08" width="11.05" height="5.38" fill="#2c1e99"/><rect x="787.79" y="142.72" width="11.05" height="5.38" fill="#271a8d"/><rect x="787.79" y="137.35" width="11.05" height="5.38" fill="#2b1d96"/><rect x="787.79" y="131.99" width="11.05" height="5.38" fill="#2a1c95"/><rect x="787.79" y="126.63" width="11.05" height="5.38" fill="#281a8f"/><rect x="787.79" y="121.26" width="11.05" height="5.38" fill="#2c1e99"/><rect x="787.79" y="115.90" width="11.05" height="5.38" fill="#281a8f"/><rect x="787.79" y="110.54" width="11.05" height="5.38" fill="#221784"/><rect x="787.79" y="105.17" width="11.05" height="5.38" fill="#26198c"/><rect x="787.79" y="99.81" width="11.05" height="5.38" fill="#291b91"/><rect x="787.79" y="94.45" width="11.05" height="5.38" fill="#2c1e98"/><rect x="787.79" y="89.08" width="11.05" height="5.38" fill="#2a1c94"/><rect x="787.79" y="86.40" width="11.05" height="2.70" fill="#2b1d97"/><rect x="798.82" y="464.52" width="11.05" height="2.70" fill="#e7b563"/><rect x="798.82" y="459.15" width="11.05" height="5.38" fill="#d8977d"/><rect x="798.82" y="453.79" width="11.05" height="5.38" fill="#ca848c"/><rect x="798.82" y="448.43" width="11.05" height="5.38" fill="#ac6d9f"/><rect x="798.82" y="443.06" width="11.05" height="5.38" fill="#925fad"/><rect x="798.82" y="437.70" width="11.05" height="5.38" fill="#7853b9"/><rect x="798.82" y="432.34" width="11.05" height="5.38" fill="#6046c1"/><rect x="798.82" y="426.97" width="11.05" height="5.38" fill="#4f3bc2"/><rect x="798.82" y="421.61" width="11.05" height="5.38" fill="#4c39c1"/><rect x="798.82" y="416.25" width="11.05" height="5.38" fill="#3628ad"/><rect x="798.82" y="410.88" width="11.05" height="5.38" fill="#3224a6"/><rect x="798.82" y="405.52" width="11.05" height="5.38" fill="#2a1c95"/><rect x="798.82" y="400.16" width="11.05" height="5.38" fill="#1b1173"/><rect x="798.82" y="394.79" width="11.05" height="5.38" fill="#1e147b"/><rect x="798.82" y="389.43" width="11.05" height="5.38" fill="#1a1172"/><rect x="798.82" y="384.07" width="11.05" height="5.38" fill="#100a54"/><rect x="798.82" y="378.70" width="11.05" height="5.38" fill="#150d65"/><rect x="798.82" y="373.34" width="11.05" height="5.38" fill="#170e69"/><rect x="798.82" y="367.98" width="11.05" height="5.38" fill="#1b1174"/><rect x="798.82" y="362.61" width="11.05" height="5.38" fill="#160d67"/><rect x="798.82" y="357.25" width="11.05" height="5.38" fill="#221784"/><rect x="798.82" y="351.89" width="11.05" height="5.38" fill="#2d1f9b"/><rect x="798.82" y="346.52" width="11.05" height="5.38" fill="#2c1e99"/><rect x="798.82" y="341.16" width="11.05" height="5.38" fill="#3426aa"/><rect x="798.82" y="335.80" width="11.05" height="5.38" fill="#2e209c"/><rect x="798.82" y="330.43" width="11.05" height="5.38" fill="#4835c0"/><rect x="798.82" y="325.07" width="11.05" height="5.38" fill="#5641c4"/><rect x="798.82" y="319.71" width="11.05" height="5.38" fill="#523ec3"/><rect x="798.82" y="314.34" width="11.05" height="5.38" fill="#533ec3"/><rect x="798.82" y="308.98" width="11.05" height="5.38" fill="#6b4cbd"/><rect x="798.82" y="303.62" width="11.05" height="5.38" fill="#5943c4"/><rect x="798.82" y="298.25" width="11.05" height="5.38" fill="#694bbe"/><rect x="798.82" y="292.89" width="11.05" height="5.38" fill="#885bb1"/><rect x="798.82" y="287.53" width="11.05" height="5.38" fill="#4d3ac2"/><rect x="798.82" y="282.16" width="11.05" height="5.38" fill="#7a54b8"/><rect x="798.82" y="276.80" width="11.05" height="5.38" fill="#5942c4"/><rect x="798.82" y="271.44" width="11.05" height="5.38" fill="#6d4dbd"/><rect x="798.82" y="266.07" width="11.05" height="5.38" fill="#684bbe"/><rect x="798.82" y="260.71" width="11.05" height="5.38" fill="#4332bc"/><rect x="798.82" y="255.35" width="11.05" height="5.38" fill="#392ab1"/><rect x="798.82" y="249.98" width="11.05" height="5.38" fill="#3f2fb8"/><rect x="798.82" y="244.62" width="11.05" height="5.38" fill="#4d39c1"/><rect x="798.82" y="239.26" width="11.05" height="5.38" fill="#4432bd"/><rect x="798.82" y="233.89" width="11.05" height="5.38" fill="#4332bc"/><rect x="798.82" y="228.53" width="11.05" height="5.38" fill="#3e2eb6"/><rect x="798.82" y="223.17" width="11.05" height="5.38" fill="#4332bc"/><rect x="798.82" y="217.80" width="11.05" height="5.38" fill="#3b2cb3"/><rect x="798.82" y="212.44" width="11.05" height="5.38" fill="#2e209d"/><rect x="798.82" y="207.08" width="11.05" height="5.38" fill="#3728ae"/><rect x="798.82" y="201.71" width="11.05" height="5.38" fill="#2c1e99"/><rect x="798.82" y="196.35" width="11.05" height="5.38" fill="#2c1e99"/><rect x="798.82" y="190.99" width="11.05" height="5.38" fill="#3224a6"/><rect x="798.82" y="185.62" width="11.05" height="5.38" fill="#3526ab"/><rect x="798.82" y="180.26" width="11.05" height="5.38" fill="#3123a4"/><rect x="798.82" y="174.90" width="11.05" height="5.38" fill="#2e209e"/><rect x="798.82" y="169.53" width="11.05" height="5.38" fill="#2f21a0"/><rect x="798.82" y="164.17" width="11.05" height="5.38" fill="#2f219e"/><rect x="798.82" y="158.81" width="11.05" height="5.38" fill="#3426a9"/><rect x="798.82" y="153.44" width="11.05" height="5.38" fill="#3123a3"/><rect x="798.82" y="148.08" width="11.05" height="5.38" fill="#2e209d"/><rect x="798.82" y="142.72" width="11.05" height="5.38" fill="#2a1c93"/><rect x="798.82" y="137.35" width="11.05" height="5.38" fill="#3527ab"/><rect x="798.82" y="131.99" width="11.05" height="5.38" fill="#291b92"/><rect x="798.82" y="126.63" width="11.05" height="5.38" fill="#291b91"/><rect x="798.82" y="121.26" width="11.05" height="5.38" fill="#221683"/><rect x="798.82" y="115.90" width="11.05" height="5.38" fill="#211580"/><rect x="798.82" y="110.54" width="11.05" height="5.38" fill="#251889"/><rect x="798.82" y="105.17" width="11.05" height="5.38" fill="#26198b"/><rect x="798.82" y="99.81" width="11.05" height="5.38" fill="#231784"/><rect x="798.82" y="94.45" width="11.05" height="5.38" fill="#291b92"/><rect x="798.82" y="89.08" width="11.05" height="5.38" fill="#291b92"/><rect x="798.82" y="86.40" width="11.05" height="2.70" fill="#241786"/><rect x="809.85" y="464.52" width="11.05" height="2.70" fill="#e8b860"/><rect x="809.85" y="459.15" width="11.05" height="5.38" fill="#d8967e"/><rect x="809.85" y="453.79" width="11.05" height="5.38" fill="#c8828e"/><rect x="809.85" y="448.43" width="11.05" height="5.38" fill="#a86ba1"/><rect x="809.85" y="443.06" width="11.05" height="5.38" fill="#8d5daf"/><rect x="809.85" y="437.70" width="11.05" height="5.38" fill="#714fbb"/><rect x="809.85" y="432.34" width="11.05" height="5.38" fill="#5b44c3"/><rect x="809.85" y="426.97" width="11.05" height="5.38" fill="#4433be"/><rect x="809.85" y="421.61" width="11.05" height="5.38" fill="#3a2bb2"/><rect x="809.85" y="416.25" width="11.05" height="5.38" fill="#3325a8"/><rect x="809.85" y="410.88" width="11.05" height="5.38" fill="#2e209d"/><rect x="809.85" y="405.52" width="11.05" height="5.38" fill="#271a8e"/><rect x="809.85" y="400.16" width="11.05" height="5.38" fill="#170e6a"/><rect x="809.85" y="394.79" width="11.05" height="5.38" fill="#150d64"/><rect x="809.85" y="389.43" width="11.05" height="5.38" fill="#140c62"/><rect x="809.85" y="384.07" width="11.05" height="5.38" fill="#0f0a52"/><rect x="809.85" y="378.70" width="11.05" height="5.38" fill="#0d094b"/><rect x="809.85" y="373.34" width="11.05" height="5.38" fill="#100a54"/><rect x="809.85" y="367.98" width="11.05" height="5.38" fill="#130c60"/><rect x="809.85" y="362.61" width="11.05" height="5.38" fill="#180f6c"/><rect x="809.85" y="357.25" width="11.05" height="5.38" fill="#1a1171"/><rect x="809.85" y="351.89" width="11.05" height="5.38" fill="#271a8d"/><rect x="809.85" y="346.52" width="11.05" height="5.38" fill="#291b92"/><rect x="809.85" y="341.16" width="11.05" height="5.38" fill="#231786"/><rect x="809.85" y="335.80" width="11.05" height="5.38" fill="#3728ad"/><rect x="809.85" y="330.43" width="11.05" height="5.38" fill="#3f2eb7"/><rect x="809.85" y="325.07" width="11.05" height="5.38" fill="#523dc3"/><rect x="809.85" y="319.71" width="11.05" height="5.38" fill="#4d39c2"/><rect x="809.85" y="314.34" width="11.05" height="5.38" fill="#4533bf"/><rect x="809.85" y="308.98" width="11.05" height="5.38" fill="#5742c4"/><rect x="809.85" y="303.62" width="11.05" height="5.38" fill="#4d3ac2"/><rect x="809.85" y="298.25" width="11.05" height="5.38" fill="#523ec3"/><rect x="809.85" y="292.89" width="11.05" height="5.38" fill="#5e45c2"/><rect x="809.85" y="287.53" width="11.05" height="5.38" fill="#5a43c3"/><rect x="809.85" y="282.16" width="11.05" height="5.38" fill="#684bbe"/><rect x="809.85" y="276.80" width="11.05" height="5.38" fill="#5c44c2"/><rect x="809.85" y="271.44" width="11.05" height="5.38" fill="#4a37c1"/><rect x="809.85" y="266.07" width="11.05" height="5.38" fill="#4433be"/><rect x="809.85" y="260.71" width="11.05" height="5.38" fill="#513dc2"/><rect x="809.85" y="255.35" width="11.05" height="5.38" fill="#4130ba"/><rect x="809.85" y="249.98" width="11.05" height="5.38" fill="#4130ba"/><rect x="809.85" y="244.62" width="11.05" height="5.38" fill="#4030b9"/><rect x="809.85" y="239.26" width="11.05" height="5.38" fill="#3123a4"/><rect x="809.85" y="233.89" width="11.05" height="5.38" fill="#4130ba"/><rect x="809.85" y="228.53" width="11.05" height="5.38" fill="#402fb9"/><rect x="809.85" y="223.17" width="11.05" height="5.38" fill="#3f2eb7"/><rect x="809.85" y="217.80" width="11.05" height="5.38" fill="#3729ae"/><rect x="809.85" y="212.44" width="11.05" height="5.38" fill="#3729ae"/><rect x="809.85" y="207.08" width="11.05" height="5.38" fill="#3527ab"/><rect x="809.85" y="201.71" width="11.05" height="5.38" fill="#3b2cb3"/><rect x="809.85" y="196.35" width="11.05" height="5.38" fill="#3426aa"/><rect x="809.85" y="190.99" width="11.05" height="5.38" fill="#3123a3"/><rect x="809.85" y="185.62" width="11.05" height="5.38" fill="#2d1f9a"/><rect x="809.85" y="180.26" width="11.05" height="5.38" fill="#3325a8"/><rect x="809.85" y="174.90" width="11.05" height="5.38" fill="#3123a3"/><rect x="809.85" y="169.53" width="11.05" height="5.38" fill="#271a8e"/><rect x="809.85" y="164.17" width="11.05" height="5.38" fill="#221784"/><rect x="809.85" y="158.81" width="11.05" height="5.38" fill="#2c1e99"/><rect x="809.85" y="153.44" width="11.05" height="5.38" fill="#281b91"/><rect x="809.85" y="148.08" width="11.05" height="5.38" fill="#2d1f9b"/><rect x="809.85" y="142.72" width="11.05" height="5.38" fill="#291b91"/><rect x="809.85" y="137.35" width="11.05" height="5.38" fill="#2b1d96"/><rect x="809.85" y="131.99" width="11.05" height="5.38" fill="#291b92"/><rect x="809.85" y="126.63" width="11.05" height="5.38" fill="#2a1c94"/><rect x="809.85" y="121.26" width="11.05" height="5.38" fill="#291b92"/><rect x="809.85" y="115.90" width="11.05" height="5.38" fill="#271a8d"/><rect x="809.85" y="110.54" width="11.05" height="5.38" fill="#2d1f9b"/><rect x="809.85" y="105.17" width="11.05" height="5.38" fill="#291b92"/><rect x="809.85" y="99.81" width="11.05" height="5.38" fill="#231784"/><rect x="809.85" y="94.45" width="11.05" height="5.38" fill="#281b90"/><rect x="809.85" y="89.08" width="11.05" height="5.38" fill="#2b1d96"/><rect x="809.85" y="86.40" width="11.05" height="2.70" fill="#271a8d"/><rect x="820.87" y="464.52" width="11.05" height="2.70" fill="#e8b960"/><rect x="820.87" y="459.15" width="11.05" height="5.38" fill="#d69380"/><rect x="820.87" y="453.79" width="11.05" height="5.38" fill="#c37d92"/><rect x="820.87" y="448.43" width="11.05" height="5.38" fill="#a468a4"/><rect x="820.87" y="443.06" width="11.05" height="5.38" fill="#875ab2"/><rect x="820.87" y="437.70" width="11.05" height="5.38" fill="#6247c0"/><rect x="820.87" y="432.34" width="11.05" height="5.38" fill="#533ec3"/><rect x="820.87" y="426.97" width="11.05" height="5.38" fill="#3c2cb3"/><rect x="820.87" y="421.61" width="11.05" height="5.38" fill="#3829ae"/><rect x="820.87" y="416.25" width="11.05" height="5.38" fill="#3829af"/><rect x="820.87" y="410.88" width="11.05" height="5.38" fill="#25198a"/><rect x="820.87" y="405.52" width="11.05" height="5.38" fill="#231786"/><rect x="820.87" y="400.16" width="11.05" height="5.38" fill="#1d1277"/><rect x="820.87" y="394.79" width="11.05" height="5.38" fill="#180f6b"/><rect x="820.87" y="389.43" width="11.05" height="5.38" fill="#140c63"/><rect x="820.87" y="384.07" width="11.05" height="5.38" fill="#120b5b"/><rect x="820.87" y="378.70" width="11.05" height="5.38" fill="#0f0a53"/><rect x="820.87" y="373.34" width="11.05" height="5.38" fill="#150d65"/><rect x="820.87" y="367.98" width="11.05" height="5.38" fill="#140c62"/><rect x="820.87" y="362.61" width="11.05" height="5.38" fill="#1c1275"/><rect x="820.87" y="357.25" width="11.05" height="5.38" fill="#231784"/><rect x="820.87" y="351.89" width="11.05" height="5.38" fill="#291c93"/><rect x="820.87" y="346.52" width="11.05" height="5.38" fill="#291b92"/><rect x="820.87" y="341.16" width="11.05" height="5.38" fill="#392ab0"/><rect x="820.87" y="335.80" width="11.05" height="5.38" fill="#3d2db5"/><rect x="820.87" y="330.43" width="11.05" height="5.38" fill="#3224a5"/><rect x="820.87" y="325.07" width="11.05" height="5.38" fill="#4a37c1"/><rect x="820.87" y="319.71" width="11.05" height="5.38" fill="#4f3bc2"/><rect x="820.87" y="314.34" width="11.05" height="5.38" fill="#4433be"/><rect x="820.87" y="308.98" width="11.05" height="5.38" fill="#4e3ac2"/><rect x="820.87" y="303.62" width="11.05" height="5.38" fill="#553fc3"/><rect x="820.87" y="298.25" width="11.05" height="5.38" fill="#5b44c3"/><rect x="820.87" y="292.89" width="11.05" height="5.38" fill="#5a43c3"/><rect x="820.87" y="287.53" width="11.05" height="5.38" fill="#5c44c3"/><rect x="820.87" y="282.16" width="11.05" height="5.38" fill="#5a43c3"/><rect x="820.87" y="276.80" width="11.05" height="5.38" fill="#6d4dbc"/><rect x="820.87" y="271.44" width="11.05" height="5.38" fill="#6448c0"/><rect x="820.87" y="266.07" width="11.05" height="5.38" fill="#4b38c1"/><rect x="820.87" y="260.71" width="11.05" height="5.38" fill="#4e3ac2"/><rect x="820.87" y="255.35" width="11.05" height="5.38" fill="#6046c1"/><rect x="820.87" y="249.98" width="11.05" height="5.38" fill="#3e2eb7"/><rect x="820.87" y="244.62" width="11.05" height="5.38" fill="#4030b9"/><rect x="820.87" y="239.26" width="11.05" height="5.38" fill="#4c39c1"/><rect x="820.87" y="233.89" width="11.05" height="5.38" fill="#4231bb"/><rect x="820.87" y="228.53" width="11.05" height="5.38" fill="#3f2fb8"/><rect x="820.87" y="223.17" width="11.05" height="5.38" fill="#4432bd"/><rect x="820.87" y="217.80" width="11.05" height="5.38" fill="#3c2cb4"/><rect x="820.87" y="212.44" width="11.05" height="5.38" fill="#3a2ab1"/><rect x="820.87" y="207.08" width="11.05" height="5.38" fill="#3224a6"/><rect x="820.87" y="201.71" width="11.05" height="5.38" fill="#3123a3"/><rect x="820.87" y="196.35" width="11.05" height="5.38" fill="#2f219f"/><rect x="820.87" y="190.99" width="11.05" height="5.38" fill="#2d1f9a"/><rect x="820.87" y="185.62" width="11.05" height="5.38" fill="#271a8e"/><rect x="820.87" y="180.26" width="11.05" height="5.38" fill="#271a8d"/><rect x="820.87" y="174.90" width="11.05" height="5.38" fill="#271a8e"/><rect x="820.87" y="169.53" width="11.05" height="5.38" fill="#291b92"/><rect x="820.87" y="164.17" width="11.05" height="5.38" fill="#231785"/><rect x="820.87" y="158.81" width="11.05" height="5.38" fill="#26198b"/><rect x="820.87" y="153.44" width="11.05" height="5.38" fill="#251889"/><rect x="820.87" y="148.08" width="11.05" height="5.38" fill="#271a8e"/><rect x="820.87" y="142.72" width="11.05" height="5.38" fill="#2c1e99"/><rect x="820.87" y="137.35" width="11.05" height="5.38" fill="#2c1e99"/><rect x="820.87" y="131.99" width="11.05" height="5.38" fill="#271a8d"/><rect x="820.87" y="126.63" width="11.05" height="5.38" fill="#2a1c94"/><rect x="820.87" y="121.26" width="11.05" height="5.38" fill="#281b91"/><rect x="820.87" y="115.90" width="11.05" height="5.38" fill="#2e209e"/><rect x="820.87" y="110.54" width="11.05" height="5.38" fill="#3123a4"/><rect x="820.87" y="105.17" width="11.05" height="5.38" fill="#2e209c"/><rect x="820.87" y="99.81" width="11.05" height="5.38" fill="#3123a4"/><rect x="820.87" y="94.45" width="11.05" height="5.38" fill="#2d1f9b"/><rect x="820.87" y="89.08" width="11.05" height="5.38" fill="#3022a2"/><rect x="820.87" y="86.40" width="11.05" height="2.70" fill="#3022a2"/></g>
<polyline points="223.5,86.4 226.0,104.7 229.1,113.0 231.2,127.6 234.9,140.1 238.5,154.6 242.6,167.1 246.8,179.6 251.0,192.1 257.3,202.5 265.6,215.0 277.0,224.3 286.4,233.7 293.7,243.1 304.1,250.3 318.7,257.6 333.2,265.9 345.7,271.1 358.2,276.4 372.8,283.6 391.5,287.8 400.0,289.7 409.3,292.5 418.6,296.7 432.5,298.3 446.4,301.8 458.0,303.6 469.6,303.4 481.2,306.9 492.8,308.7 506.8,309.7 520.7,311.1 532.3,312.9 541.6,315.2 553.2,316.4 567.1,316.9 581.0,318.7 592.6,320.1 604.2,320.3 621.7,323.3 635.8,324.7 649.8,325.1 663.9,325.1 677.9,325.8 692.0,326.8 703.7,326.3 715.4,328.2 729.4,327.9 743.5,329.3 755.2,328.6 769.3,329.8 781.0,331.7 795.0,332.6 806.7,332.9 813.7,331.9 825.5,332.2" fill="none" stroke="#ffffff" stroke-opacity="0.86" stroke-width="1.6" stroke-dasharray="4.1,2.1" stroke-linecap="butt"/>
<polyline points="135.3,86.4 136.4,120.7 137.3,146.7 138.5,172.7 139.4,190.0 140.2,200.8 141.6,221.7 143.7,242.5 146.8,263.3 151.0,280.0 156.2,298.8 158.7,304.6 166.0,319.1 172.2,334.7 178.5,350.3 184.7,361.7 192.0,375.2 200.3,387.7 209.3,401.6 219.7,406.7 229.0,405.8 237.1,409.7 248.7,414.4 255.7,419.0 262.7,426.4 274.3,429.0 283.5,432.2 292.8,437.6 299.8,439.4 309.1,439.2 318.4,438.7 327.6,442.9 339.2,444.8 353.2,445.2 362.5,448.0 374.1,449.4 385.7,448.5 397.3,450.3 408.9,450.8 423.9,452.0 437.8,453.2 451.8,453.7 465.7,454.1 477.3,455.1 486.6,454.1 498.2,453.9 509.8,455.5 523.7,455.8 535.3,456.5 549.2,458.1 560.8,457.2 577.1,457.2 591.0,457.8 604.9,457.2 618.9,457.6 633.6,458.1 647.2,457.9 665.4,458.1 679.0,457.7 694.8,459.1 710.7,458.8 722.1,459.7 737.9,459.7 756.1,459.7 772.0,460.0 783.3,460.9 796.9,460.0 810.5,460.0 825.3,460.9" fill="none" stroke="#ffffff" stroke-opacity="0.86" stroke-width="1.6" stroke-dasharray="4.1,2.1" stroke-linecap="butt"/>
<line x1="125.5" y1="85.9" x2="125.5" y2="467.2" stroke="#15151c" stroke-width="1.25"/>
<line x1="124.9" y1="86.4" x2="831.9" y2="86.4" stroke="#15151c" stroke-width="1.1"/>
<line x1="126" y1="467.5" x2="831.9" y2="467.5" stroke="#c8c8d4" stroke-width="0.8"/>
<line x1="110.2" y1="467.2" x2="125.5" y2="467.2" stroke="#2a2a33" stroke-width="1.1"/>
<line x1="110.2" y1="418.7" x2="125.5" y2="418.7" stroke="#2a2a33" stroke-width="1.1"/>
<line x1="110.2" y1="295.9" x2="125.5" y2="295.9" stroke="#2a2a33" stroke-width="1.1"/>
<line x1="110.2" y1="166.9" x2="125.5" y2="166.9" stroke="#2a2a33" stroke-width="1.1"/>
<line x1="132.2" y1="467.6" x2="132.2" y2="483.8" stroke="#55555f" stroke-width="1.4"/>
<line x1="296.9" y1="467.6" x2="296.9" y2="483.8" stroke="#55555f" stroke-width="1.4"/>
<line x1="462.2" y1="467.6" x2="462.2" y2="483.8" stroke="#55555f" stroke-width="1.4"/>
<line x1="627.4" y1="467.6" x2="627.4" y2="483.8" stroke="#55555f" stroke-width="1.4"/>
<line x1="792.6" y1="467.6" x2="792.6" y2="483.8" stroke="#55555f" stroke-width="1.4"/>
<defs><linearGradient id="cb" x1="0" y1="0" x2="0" y2="1"><stop offset="0.00" stop-color="#ffff1e"/><stop offset="0.01" stop-color="#fefc21"/><stop offset="0.02" stop-color="#fdf924"/><stop offset="0.03" stop-color="#fdf626"/><stop offset="0.04" stop-color="#fcf329"/><stop offset="0.05" stop-color="#fbf02c"/><stop offset="0.06" stop-color="#faed2f"/><stop offset="0.07" stop-color="#f9ea32"/><stop offset="0.08" stop-color="#f8e735"/><stop offset="0.09" stop-color="#f7e537"/><stop offset="0.10" stop-color="#f6e23a"/><stop offset="0.11" stop-color="#f5df3d"/><stop offset="0.12" stop-color="#f4dc40"/><stop offset="0.13" stop-color="#f3da42"/><stop offset="0.14" stop-color="#f2d744"/><stop offset="0.15" stop-color="#f2d447"/><stop offset="0.16" stop-color="#f1d249"/><stop offset="0.17" stop-color="#f0cf4b"/><stop offset="0.18" stop-color="#f0cd4e"/><stop offset="0.19" stop-color="#efca50"/><stop offset="0.20" stop-color="#eec852"/><stop offset="0.21" stop-color="#edc554"/><stop offset="0.22" stop-color="#ecc257"/><stop offset="0.23" stop-color="#ebc05a"/><stop offset="0.24" stop-color="#eabd5c"/><stop offset="0.25" stop-color="#e9ba5e"/><stop offset="0.26" stop-color="#e8b861"/><stop offset="0.27" stop-color="#e7b564"/><stop offset="0.28" stop-color="#e6b266"/><stop offset="0.29" stop-color="#e5b068"/><stop offset="0.30" stop-color="#e4ad6a"/><stop offset="0.31" stop-color="#e2aa6d"/><stop offset="0.32" stop-color="#e1a86f"/><stop offset="0.33" stop-color="#e0a671"/><stop offset="0.34" stop-color="#dea374"/><stop offset="0.35" stop-color="#dda076"/><stop offset="0.36" stop-color="#dc9e78"/><stop offset="0.37" stop-color="#db9c7a"/><stop offset="0.38" stop-color="#da9a7c"/><stop offset="0.39" stop-color="#d8977d"/><stop offset="0.40" stop-color="#d7957f"/><stop offset="0.41" stop-color="#d69381"/><stop offset="0.42" stop-color="#d49083"/><stop offset="0.43" stop-color="#d38e84"/><stop offset="0.44" stop-color="#d28c86"/><stop offset="0.45" stop-color="#d08a88"/><stop offset="0.46" stop-color="#ce888a"/><stop offset="0.47" stop-color="#cb858b"/><stop offset="0.48" stop-color="#c9838d"/><stop offset="0.49" stop-color="#c7818f"/><stop offset="0.50" stop-color="#c47e90"/><stop offset="0.51" stop-color="#c27c92"/><stop offset="0.52" stop-color="#c07a94"/><stop offset="0.53" stop-color="#bc7896"/><stop offset="0.54" stop-color="#b87598"/><stop offset="0.55" stop-color="#b4729b"/><stop offset="0.56" stop-color="#b0709d"/><stop offset="0.57" stop-color="#ac6e9f"/><stop offset="0.58" stop-color="#a86ba2"/><stop offset="0.59" stop-color="#a468a4"/><stop offset="0.60" stop-color="#a066a6"/><stop offset="0.61" stop-color="#9b63a9"/><stop offset="0.62" stop-color="#9561ab"/><stop offset="0.63" stop-color="#905eae"/><stop offset="0.64" stop-color="#8a5cb0"/><stop offset="0.65" stop-color="#8559b3"/><stop offset="0.66" stop-color="#7f57b5"/><stop offset="0.67" stop-color="#7a54b8"/><stop offset="0.68" stop-color="#7350ba"/><stop offset="0.69" stop-color="#6c4dbd"/><stop offset="0.70" stop-color="#6649bf"/><stop offset="0.71" stop-color="#5f46c2"/><stop offset="0.72" stop-color="#5842c4"/><stop offset="0.73" stop-color="#543ec3"/><stop offset="0.74" stop-color="#4f3bc2"/><stop offset="0.75" stop-color="#4a38c1"/><stop offset="0.76" stop-color="#4634c0"/><stop offset="0.77" stop-color="#4231ba"/><stop offset="0.78" stop-color="#3d2db5"/><stop offset="0.79" stop-color="#3829b0"/><stop offset="0.80" stop-color="#3426aa"/><stop offset="0.81" stop-color="#3224a4"/><stop offset="0.82" stop-color="#2f219f"/><stop offset="0.83" stop-color="#2c1e9a"/><stop offset="0.84" stop-color="#2a1c94"/><stop offset="0.85" stop-color="#281a8f"/><stop offset="0.86" stop-color="#25198a"/><stop offset="0.87" stop-color="#231785"/><stop offset="0.88" stop-color="#211580"/><stop offset="0.89" stop-color="#1e147b"/><stop offset="0.90" stop-color="#1c1276"/><stop offset="0.91" stop-color="#1a1172"/><stop offset="0.92" stop-color="#19106e"/><stop offset="0.93" stop-color="#170e6a"/><stop offset="0.94" stop-color="#160d66"/><stop offset="0.95" stop-color="#140c62"/><stop offset="0.96" stop-color="#120b5d"/><stop offset="0.97" stop-color="#110a58"/><stop offset="0.98" stop-color="#0f0a52"/><stop offset="0.99" stop-color="#0e094d"/><stop offset="1.00" stop-color="#0c0848"/></linearGradient></defs>
<rect x="847" y="86.4" width="32" height="381" fill="url(#cb)"/>
<rect x="847" y="86.4" width="32" height="381" fill="none" stroke="#000" stroke-opacity="0.4" stroke-width="0.7"/>
<rect x="126.1" y="86.9" width="0.9" height="380.3" fill="#d4d4dc" opacity="0.75"/>
<g fill="#2e2e38" stroke="#1c1c24" stroke-width="0.35" stroke-opacity="0.6" font-family='"Liberation Sans", "DejaVu Sans", sans-serif'><text x="477.8" y="55.8" font-size="21.7" text-anchor="middle" font-weight="bold" textLength="106" lengthAdjust="spacingAndGlyphs">Test Error</text><text x="477.7" y="538.7" font-size="21.2" text-anchor="middle" font-weight="normal" font-family="DejaVu Sans, sans-serif" textLength="287.4" lengthAdjust="spacingAndGlyphs">ResNet18 Width Parameter</text><text transform="translate(48.4,277.2) rotate(-90)" font-family="DejaVu Sans, sans-serif" font-size="21.2" text-anchor="middle" textLength="75.6" lengthAdjust="spacingAndGlyphs">Epochs</text><text x="95.7" y="473.8" font-size="18.6" text-anchor="start" font-weight="normal" textLength="6.1" lengthAdjust="spacingAndGlyphs">1</text><text x="84.9" y="425.3" font-size="18.6" text-anchor="start" font-weight="normal" textLength="16.9" lengthAdjust="spacingAndGlyphs">10</text><text x="72.6" y="302.5" font-size="18.6" text-anchor="start" font-weight="normal" textLength="29.2" lengthAdjust="spacingAndGlyphs">100</text><text x="61.9" y="173.5" font-size="18.6" text-anchor="start" font-weight="normal" textLength="39.9" lengthAdjust="spacingAndGlyphs">1000</text><text x="127.0" y="507.5" font-size="18.6" text-anchor="start" font-weight="normal" textLength="10.9" lengthAdjust="spacingAndGlyphs">0</text><text x="287.8" y="507.5" font-size="18.6" text-anchor="start" font-weight="normal" textLength="17.9" lengthAdjust="spacingAndGlyphs">15</text><text x="451.1" y="507.5" font-size="18.6" text-anchor="start" font-weight="normal" textLength="21.8" lengthAdjust="spacingAndGlyphs">30</text><text x="615.9" y="507.5" font-size="18.6" text-anchor="start" font-weight="normal" textLength="21.1" lengthAdjust="spacingAndGlyphs">45</text><text x="780.4" y="507.5" font-size="18.6" text-anchor="start" font-weight="normal" textLength="21.8" lengthAdjust="spacingAndGlyphs">60</text><text x="887.0" y="103.4" font-size="18.4" text-anchor="start" font-weight="normal" >0.8</text><text x="887.0" y="136.0" font-size="18.4" text-anchor="start" font-weight="normal" >0.7</text><text x="887.0" y="172.6" font-size="18.4" text-anchor="start" font-weight="normal" >0.6</text><text x="887.0" y="216.6" font-size="18.4" text-anchor="start" font-weight="normal" >0.5</text><text x="887.0" y="270.2" font-size="18.4" text-anchor="start" font-weight="normal" >0.4</text><text x="887.0" y="339.7" font-size="18.4" text-anchor="start" font-weight="normal" >0.3</text><text x="887.0" y="437.2" font-size="18.4" text-anchor="start" font-weight="normal" >0.2</text></g>
</svg>
</body></html>
